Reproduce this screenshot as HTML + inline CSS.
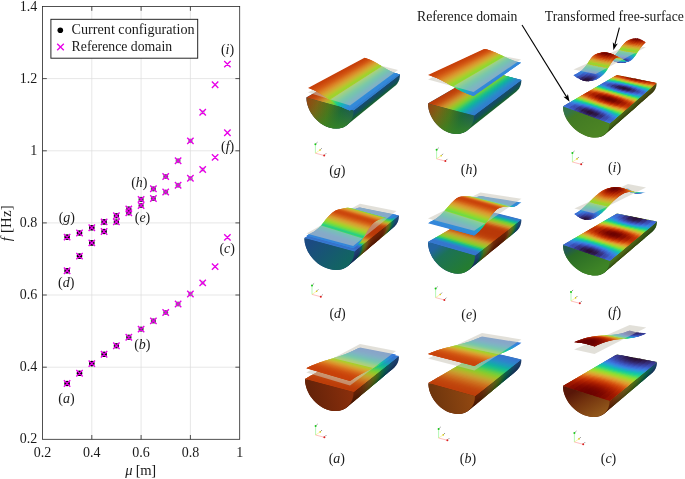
<!DOCTYPE html>
<html><head><meta charset="utf-8"><title>figure</title>
<style>html,body{margin:0;padding:0;background:#fff}svg{display:block;will-change:transform}
.t{font-family:"Liberation Serif",serif;font-size:14px;fill:#1a1a1a}
</style></head><body>
<svg width="685" height="479" viewBox="0 0 685 479">
<defs><linearGradient id="g1" gradientUnits="userSpaceOnUse" x1="306.4" y1="97.4" x2="353.6" y2="110.4"><stop offset="0%" stop-color="#924411"/><stop offset="25%" stop-color="#7c6215"/><stop offset="50%" stop-color="#4c741b"/><stop offset="75%" stop-color="#17613e"/><stop offset="100%" stop-color="#144c66"/></linearGradient>
<linearGradient id="g2" gradientUnits="userSpaceOnUse" x1="353.6" y1="110.4" x2="358.2" y2="116.4"><stop offset="0%" stop-color="#184870"/><stop offset="30%" stop-color="#144c62"/><stop offset="55%" stop-color="#12544e"/><stop offset="80%" stop-color="#186030"/><stop offset="100%" stop-color="#1e6022"/></linearGradient>
<linearGradient id="g3" gradientUnits="userSpaceOnUse" x1="330" y1="100" x2="336" y2="129"><stop offset="0%" stop-color="#388624" stop-opacity="0.0"/><stop offset="45%" stop-color="#388624" stop-opacity="0.25"/><stop offset="100%" stop-color="#388824" stop-opacity="0.85"/></linearGradient>
<linearGradient id="g4" gradientUnits="userSpaceOnUse" x1="428" y1="103.4" x2="474" y2="115.6"><stop offset="0%" stop-color="#924411"/><stop offset="25%" stop-color="#7c6215"/><stop offset="50%" stop-color="#4c741b"/><stop offset="75%" stop-color="#17613e"/><stop offset="100%" stop-color="#144c66"/></linearGradient>
<linearGradient id="g5" gradientUnits="userSpaceOnUse" x1="474" y1="115.6" x2="478.8" y2="121.9"><stop offset="0%" stop-color="#184870"/><stop offset="30%" stop-color="#144c62"/><stop offset="55%" stop-color="#12544e"/><stop offset="80%" stop-color="#186030"/><stop offset="100%" stop-color="#1e6022"/></linearGradient>
<linearGradient id="g6" gradientUnits="userSpaceOnUse" x1="451" y1="106" x2="458" y2="134"><stop offset="0%" stop-color="#388624" stop-opacity="0.0"/><stop offset="45%" stop-color="#388624" stop-opacity="0.25"/><stop offset="100%" stop-color="#388824" stop-opacity="0.85"/></linearGradient>
<linearGradient id="g7" gradientUnits="userSpaceOnUse" x1="352" y1="392" x2="312" y2="400"><stop offset="0%" stop-color="#8a2f0c"/><stop offset="100%" stop-color="#662309"/></linearGradient>
<linearGradient id="g8" gradientUnits="userSpaceOnUse" x1="353.6" y1="392" x2="358.4" y2="398.1"><stop offset="0%" stop-color="#000" stop-opacity="0.04"/><stop offset="35%" stop-color="#000" stop-opacity="0.1"/><stop offset="75%" stop-color="#000" stop-opacity="0.26"/><stop offset="100%" stop-color="#000" stop-opacity="0.4"/></linearGradient>
<linearGradient id="g9" gradientUnits="userSpaceOnUse" x1="474" y1="396" x2="435" y2="404"><stop offset="0%" stop-color="#924811"/><stop offset="100%" stop-color="#70360d"/></linearGradient>
<linearGradient id="g10" gradientUnits="userSpaceOnUse" x1="475" y1="396" x2="479.6" y2="401.8"><stop offset="0%" stop-color="#000" stop-opacity="0.04"/><stop offset="35%" stop-color="#000" stop-opacity="0.1"/><stop offset="75%" stop-color="#000" stop-opacity="0.26"/><stop offset="100%" stop-color="#000" stop-opacity="0.4"/></linearGradient>
<linearGradient id="g11" gradientUnits="userSpaceOnUse" x1="312" y1="240" x2="340" y2="268"><stop offset="0%" stop-color="#1b4a82"/><stop offset="100%" stop-color="#126462"/></linearGradient>
<linearGradient id="g12" gradientUnits="userSpaceOnUse" x1="354.2" y1="251.4" x2="358.8" y2="257.1"><stop offset="0%" stop-color="#000" stop-opacity="0.04"/><stop offset="35%" stop-color="#000" stop-opacity="0.1"/><stop offset="75%" stop-color="#000" stop-opacity="0.26"/><stop offset="100%" stop-color="#000" stop-opacity="0.4"/></linearGradient>
<linearGradient id="g13" gradientUnits="userSpaceOnUse" x1="440" y1="244" x2="462" y2="272"><stop offset="0%" stop-color="#2264a0"/><stop offset="30%" stop-color="#1c7256"/><stop offset="100%" stop-color="#247c30"/></linearGradient>
<linearGradient id="g14" gradientUnits="userSpaceOnUse" x1="475" y1="255.4" x2="479.7" y2="261.4"><stop offset="0%" stop-color="#000" stop-opacity="0.04"/><stop offset="35%" stop-color="#000" stop-opacity="0.1"/><stop offset="75%" stop-color="#000" stop-opacity="0.26"/><stop offset="100%" stop-color="#000" stop-opacity="0.4"/></linearGradient>
<linearGradient id="g15" gradientUnits="userSpaceOnUse" x1="575" y1="108" x2="592" y2="136"><stop offset="0%" stop-color="#34744c"/><stop offset="20%" stop-color="#427a24"/><stop offset="100%" stop-color="#4c8424"/></linearGradient>
<linearGradient id="g16" gradientUnits="userSpaceOnUse" x1="609.6" y1="123.6" x2="613" y2="127.5"><stop offset="0%" stop-color="#000" stop-opacity="0.04"/><stop offset="35%" stop-color="#000" stop-opacity="0.1"/><stop offset="75%" stop-color="#000" stop-opacity="0.26"/><stop offset="100%" stop-color="#000" stop-opacity="0.4"/></linearGradient>
<linearGradient id="g17" gradientUnits="userSpaceOnUse" x1="575" y1="247" x2="590" y2="274"><stop offset="0%" stop-color="#225a50"/><stop offset="20%" stop-color="#2a6c26"/><stop offset="100%" stop-color="#3e8426"/></linearGradient>
<linearGradient id="g18" gradientUnits="userSpaceOnUse" x1="609.6" y1="261" x2="613.1" y2="265.3"><stop offset="0%" stop-color="#000" stop-opacity="0.04"/><stop offset="35%" stop-color="#000" stop-opacity="0.1"/><stop offset="75%" stop-color="#000" stop-opacity="0.26"/><stop offset="100%" stop-color="#000" stop-opacity="0.4"/></linearGradient>
<linearGradient id="g19" gradientUnits="userSpaceOnUse" x1="580" y1="388" x2="596" y2="416"><stop offset="0%" stop-color="#581608"/><stop offset="40%" stop-color="#72320e"/><stop offset="100%" stop-color="#90561a"/></linearGradient>
<linearGradient id="g20" gradientUnits="userSpaceOnUse" x1="609.6" y1="401" x2="613.6" y2="405.8"><stop offset="0%" stop-color="#000" stop-opacity="0.04"/><stop offset="35%" stop-color="#000" stop-opacity="0.1"/><stop offset="75%" stop-color="#000" stop-opacity="0.26"/><stop offset="100%" stop-color="#000" stop-opacity="0.4"/></linearGradient></defs>
<rect width="685" height="479" fill="#fff"/>
<line x1="91.8" y1="6.5" x2="91.8" y2="439.3" stroke="#dcdcdc" stroke-width="0.7"/>
<line x1="141.1" y1="6.5" x2="141.1" y2="439.3" stroke="#dcdcdc" stroke-width="0.7"/>
<line x1="190.4" y1="6.5" x2="190.4" y2="439.3" stroke="#dcdcdc" stroke-width="0.7"/>
<line x1="42.5" y1="367.2" x2="239.7" y2="367.2" stroke="#dcdcdc" stroke-width="0.7"/>
<line x1="42.5" y1="295" x2="239.7" y2="295" stroke="#dcdcdc" stroke-width="0.7"/>
<line x1="42.5" y1="222.9" x2="239.7" y2="222.9" stroke="#dcdcdc" stroke-width="0.7"/>
<line x1="42.5" y1="150.8" x2="239.7" y2="150.8" stroke="#dcdcdc" stroke-width="0.7"/>
<line x1="42.5" y1="78.6" x2="239.7" y2="78.6" stroke="#dcdcdc" stroke-width="0.7"/>
<rect x="42.5" y="6.5" width="197.2" height="432.8" fill="none" stroke="#262626" stroke-width="0.8"/>
<path d="M91.8 439.3 v-4.3 M91.8 6.5 v4.3" stroke="#262626" stroke-width="0.8"/>
<path d="M141.1 439.3 v-4.3 M141.1 6.5 v4.3" stroke="#262626" stroke-width="0.8"/>
<path d="M190.4 439.3 v-4.3 M190.4 6.5 v4.3" stroke="#262626" stroke-width="0.8"/>
<path d="M42.5 367.2 h4.3 M239.7 367.2 h-4.3" stroke="#262626" stroke-width="0.8"/>
<path d="M42.5 295 h4.3 M239.7 295 h-4.3" stroke="#262626" stroke-width="0.8"/>
<path d="M42.5 222.9 h4.3 M239.7 222.9 h-4.3" stroke="#262626" stroke-width="0.8"/>
<path d="M42.5 150.8 h4.3 M239.7 150.8 h-4.3" stroke="#262626" stroke-width="0.8"/>
<path d="M42.5 78.6 h4.3 M239.7 78.6 h-4.3" stroke="#262626" stroke-width="0.8"/>
<text x="42.5" y="457.1" text-anchor="middle" class="t">0.2</text>
<text x="91.8" y="457.1" text-anchor="middle" class="t">0.4</text>
<text x="141.1" y="457.1" text-anchor="middle" class="t">0.6</text>
<text x="190.4" y="457.1" text-anchor="middle" class="t">0.8</text>
<text x="239.7" y="457.1" text-anchor="middle" class="t">1</text>
<text x="37.3" y="443.3" text-anchor="end" class="t">0.2</text>
<text x="37.3" y="371.2" text-anchor="end" class="t">0.4</text>
<text x="37.3" y="299" text-anchor="end" class="t">0.6</text>
<text x="37.3" y="226.9" text-anchor="end" class="t">0.8</text>
<text x="37.3" y="154.8" text-anchor="end" class="t">1</text>
<text x="37.3" y="82.6" text-anchor="end" class="t">1.2</text>
<text x="37.3" y="10.5" text-anchor="end" class="t">1.4</text>
<text x="125.2" y="474.8" class="t" style="font-size:14.6px" textLength="31" lengthAdjust="spacing"><tspan font-style="italic">μ</tspan> [m]</text>
<text transform="translate(10.5 241.3) rotate(-90)" class="t" style="font-size:14.8px" textLength="36" lengthAdjust="spacing"><tspan font-style="italic">f</tspan> [Hz]</text>
<circle cx="67.1" cy="383.5" r="2.8" fill="#000" opacity="1"/>
<circle cx="79.5" cy="373.3" r="2.8" fill="#000" opacity="1"/>
<circle cx="91.8" cy="363.6" r="2.8" fill="#000" opacity="1"/>
<circle cx="104.1" cy="354.3" r="2.8" fill="#000" opacity="0.95"/>
<circle cx="116.4" cy="345.8" r="2.7" fill="#000" opacity="0.88"/>
<circle cx="128.8" cy="337.3" r="2.7" fill="#000" opacity="0.8"/>
<circle cx="141.1" cy="329.1" r="2.6" fill="#000" opacity="0.72"/>
<circle cx="153.4" cy="320.9" r="2.6" fill="#000" opacity="0.65"/>
<circle cx="165.7" cy="312.5" r="2.5" fill="#000" opacity="0.58"/>
<circle cx="178.1" cy="304" r="2.5" fill="#000" opacity="0.5"/>
<circle cx="190.4" cy="294" r="2.4" fill="#000" opacity="0.38"/>
<circle cx="202.7" cy="282.9" r="2.3" fill="#000" opacity="0.18"/>
<circle cx="67.1" cy="270.7" r="2.8" fill="#000" opacity="1"/>
<circle cx="79.5" cy="256.1" r="2.8" fill="#000" opacity="1"/>
<circle cx="91.8" cy="242.9" r="2.8" fill="#000" opacity="1"/>
<circle cx="104.1" cy="231.5" r="2.8" fill="#000" opacity="0.95"/>
<circle cx="116.4" cy="221.9" r="2.7" fill="#000" opacity="0.88"/>
<circle cx="128.8" cy="212.8" r="2.7" fill="#000" opacity="0.8"/>
<circle cx="141.1" cy="205.5" r="2.6" fill="#000" opacity="0.72"/>
<circle cx="153.4" cy="198.5" r="2.6" fill="#000" opacity="0.65"/>
<circle cx="165.7" cy="192" r="2.5" fill="#000" opacity="0.58"/>
<circle cx="178.1" cy="185.3" r="2.5" fill="#000" opacity="0.5"/>
<circle cx="190.4" cy="178.3" r="2.4" fill="#000" opacity="0.38"/>
<circle cx="202.7" cy="169.5" r="2.3" fill="#000" opacity="0.18"/>
<circle cx="67.1" cy="237.1" r="2.8" fill="#000" opacity="1"/>
<circle cx="79.5" cy="233" r="2.8" fill="#000" opacity="1"/>
<circle cx="91.8" cy="227.7" r="2.8" fill="#000" opacity="1"/>
<circle cx="104.1" cy="221.9" r="2.8" fill="#000" opacity="0.95"/>
<circle cx="116.4" cy="215.7" r="2.7" fill="#000" opacity="0.88"/>
<circle cx="128.8" cy="209" r="2.7" fill="#000" opacity="0.8"/>
<circle cx="141.1" cy="199.4" r="2.6" fill="#000" opacity="0.72"/>
<circle cx="153.4" cy="188.8" r="2.6" fill="#000" opacity="0.65"/>
<circle cx="165.7" cy="176.5" r="2.5" fill="#000" opacity="0.58"/>
<circle cx="178.1" cy="160.8" r="2.5" fill="#000" opacity="0.5"/>
<circle cx="190.4" cy="140.9" r="2.4" fill="#000" opacity="0.38"/>
<circle cx="202.7" cy="112.2" r="2.3" fill="#000" opacity="0.18"/>
<path d="M63.9 380.3l6.4 6.4m0 -6.4l-6.4 6.4M76.3 370.1l6.4 6.4m0 -6.4l-6.4 6.4M88.6 360.4l6.4 6.4m0 -6.4l-6.4 6.4M100.9 351.1l6.4 6.4m0 -6.4l-6.4 6.4M113.2 342.6l6.4 6.4m0 -6.4l-6.4 6.4M125.6 334.1l6.4 6.4m0 -6.4l-6.4 6.4M137.9 325.9l6.4 6.4m0 -6.4l-6.4 6.4M150.2 317.7l6.4 6.4m0 -6.4l-6.4 6.4M162.5 309.3l6.4 6.4m0 -6.4l-6.4 6.4M174.9 300.8l6.4 6.4m0 -6.4l-6.4 6.4M187.2 290.8l6.4 6.4m0 -6.4l-6.4 6.4M199.5 279.7l6.4 6.4m0 -6.4l-6.4 6.4M211.9 263.4l6.4 6.4m0 -6.4l-6.4 6.4M224.2 234.2l6.4 6.4m0 -6.4l-6.4 6.4M63.9 267.5l6.4 6.4m0 -6.4l-6.4 6.4M76.3 252.9l6.4 6.4m0 -6.4l-6.4 6.4M88.6 239.7l6.4 6.4m0 -6.4l-6.4 6.4M100.9 228.3l6.4 6.4m0 -6.4l-6.4 6.4M113.2 218.7l6.4 6.4m0 -6.4l-6.4 6.4M125.6 209.6l6.4 6.4m0 -6.4l-6.4 6.4M137.9 202.3l6.4 6.4m0 -6.4l-6.4 6.4M150.2 195.3l6.4 6.4m0 -6.4l-6.4 6.4M162.5 188.8l6.4 6.4m0 -6.4l-6.4 6.4M174.9 182.1l6.4 6.4m0 -6.4l-6.4 6.4M187.2 175.1l6.4 6.4m0 -6.4l-6.4 6.4M199.5 166.3l6.4 6.4m0 -6.4l-6.4 6.4M211.9 154.2l6.4 6.4m0 -6.4l-6.4 6.4M224.2 129.6l6.4 6.4m0 -6.4l-6.4 6.4M63.9 233.9l6.4 6.4m0 -6.4l-6.4 6.4M76.3 229.8l6.4 6.4m0 -6.4l-6.4 6.4M88.6 224.5l6.4 6.4m0 -6.4l-6.4 6.4M100.9 218.7l6.4 6.4m0 -6.4l-6.4 6.4M113.2 212.5l6.4 6.4m0 -6.4l-6.4 6.4M125.6 205.8l6.4 6.4m0 -6.4l-6.4 6.4M137.9 196.2l6.4 6.4m0 -6.4l-6.4 6.4M150.2 185.6l6.4 6.4m0 -6.4l-6.4 6.4M162.5 173.3l6.4 6.4m0 -6.4l-6.4 6.4M174.9 157.6l6.4 6.4m0 -6.4l-6.4 6.4M187.2 137.7l6.4 6.4m0 -6.4l-6.4 6.4M199.5 109l6.4 6.4m0 -6.4l-6.4 6.4M211.9 81.5l6.4 6.4m0 -6.4l-6.4 6.4M224.2 60.9l6.4 6.4m0 -6.4l-6.4 6.4" stroke="#e800e8" stroke-width="1.35" fill="none"/>
<rect x="50.9" y="19.3" width="146.8" height="38.9" fill="#fff" stroke="#1c1c1c" stroke-width="0.95"/>
<circle cx="60.3" cy="30.2" r="2.8" fill="#000"/>
<path d="M57.2 43.7l6.6 6.6m0 -6.6l-6.6 6.6" stroke="#e800e8" stroke-width="1.35" fill="none"/>
<text x="71.6" y="34.3" class="t" textLength="123" lengthAdjust="spacingAndGlyphs">Current configuration</text>
<text x="71.6" y="51.1" class="t" textLength="100.5" lengthAdjust="spacingAndGlyphs">Reference domain</text>
<text x="66.5" y="402.5" text-anchor="middle" class="t">(<tspan font-style="italic">a</tspan>)</text>
<text x="142.3" y="349.2" text-anchor="middle" class="t">(<tspan font-style="italic">b</tspan>)</text>
<text x="227.2" y="253.3" text-anchor="middle" class="t">(<tspan font-style="italic">c</tspan>)</text>
<text x="66.2" y="286.5" text-anchor="middle" class="t">(<tspan font-style="italic">d</tspan>)</text>
<text x="142.5" y="221.8" text-anchor="middle" class="t">(<tspan font-style="italic">e</tspan>)</text>
<text x="227.6" y="151" text-anchor="middle" class="t">(<tspan font-style="italic">f</tspan>)</text>
<text x="66.8" y="222" text-anchor="middle" class="t">(<tspan font-style="italic">g</tspan>)</text>
<text x="139.3" y="186.5" text-anchor="middle" class="t">(<tspan font-style="italic">h</tspan>)</text>
<text x="227.5" y="54.2" text-anchor="middle" class="t">(<tspan font-style="italic">i</tspan>)</text>
<path d="M315.4 153.2L315.4 144.6" stroke="#6cf06c" stroke-width="0.5"/>
<path d="M315.4 153.2L323.8 155.4" stroke="#ff8080" stroke-width="0.5"/>
<path d="M315.4 153.2L320 150.1" stroke="#f2ea60" stroke-width="0.5"/>
<circle cx="315.4" cy="144.2" r="1.0" fill="#18c418"/>
<circle cx="324.2" cy="155.5" r="1.0" fill="#dc2020"/>
<circle cx="320" cy="150.1" r="0.8" fill="#d8cc10"/>
<path d="M316.2 143.4l1.3 -1.2M320.6 149.5l1.2 -1.3M325 154.5l1.2 -1.2" stroke="#222" stroke-width="0.6" opacity="0.8"/>
<path d="M436.6 158.8L436.6 150.2" stroke="#6cf06c" stroke-width="0.5"/>
<path d="M436.6 158.8L445 161" stroke="#ff8080" stroke-width="0.5"/>
<path d="M436.6 158.8L441.2 155.7" stroke="#f2ea60" stroke-width="0.5"/>
<circle cx="436.6" cy="149.8" r="1.0" fill="#18c418"/>
<circle cx="445.4" cy="161.1" r="1.0" fill="#dc2020"/>
<circle cx="441.2" cy="155.7" r="0.8" fill="#d8cc10"/>
<path d="M437.4 149l1.3 -1.2M441.8 155.1l1.2 -1.3M446.2 160.1l1.2 -1.2" stroke="#222" stroke-width="0.6" opacity="0.8"/>
<path d="M572.4 162L572.4 153.4" stroke="#6cf06c" stroke-width="0.5"/>
<path d="M572.4 162L580.8 164.2" stroke="#ff8080" stroke-width="0.5"/>
<path d="M572.4 162L577 158.9" stroke="#f2ea60" stroke-width="0.5"/>
<circle cx="572.4" cy="153" r="1.0" fill="#18c418"/>
<circle cx="581.2" cy="164.3" r="1.0" fill="#dc2020"/>
<circle cx="577" cy="158.9" r="0.8" fill="#d8cc10"/>
<path d="M573.2 152.2l1.3 -1.2M577.6 158.3l1.2 -1.3M582 163.3l1.2 -1.2" stroke="#222" stroke-width="0.6" opacity="0.8"/>
<path d="M312 294.4L312 285.8" stroke="#6cf06c" stroke-width="0.5"/>
<path d="M312 294.4L320.4 296.6" stroke="#ff8080" stroke-width="0.5"/>
<path d="M312 294.4L316.6 291.3" stroke="#f2ea60" stroke-width="0.5"/>
<circle cx="312" cy="285.4" r="1.0" fill="#18c418"/>
<circle cx="320.8" cy="296.7" r="1.0" fill="#dc2020"/>
<circle cx="316.6" cy="291.3" r="0.8" fill="#d8cc10"/>
<path d="M312.8 284.6l1.3 -1.2M317.2 290.7l1.2 -1.3M321.6 295.7l1.2 -1.2" stroke="#222" stroke-width="0.6" opacity="0.8"/>
<path d="M435.6 297.6L435.6 289" stroke="#6cf06c" stroke-width="0.5"/>
<path d="M435.6 297.6L444 299.8" stroke="#ff8080" stroke-width="0.5"/>
<path d="M435.6 297.6L440.2 294.5" stroke="#f2ea60" stroke-width="0.5"/>
<circle cx="435.6" cy="288.6" r="1.0" fill="#18c418"/>
<circle cx="444.4" cy="299.9" r="1.0" fill="#dc2020"/>
<circle cx="440.2" cy="294.5" r="0.8" fill="#d8cc10"/>
<path d="M436.4 287.8l1.3 -1.2M440.8 293.9l1.2 -1.3M445.2 298.9l1.2 -1.2" stroke="#222" stroke-width="0.6" opacity="0.8"/>
<path d="M571 301L571 292.4" stroke="#6cf06c" stroke-width="0.5"/>
<path d="M571 301L579.4 303.2" stroke="#ff8080" stroke-width="0.5"/>
<path d="M571 301L575.6 297.9" stroke="#f2ea60" stroke-width="0.5"/>
<circle cx="571" cy="292" r="1.0" fill="#18c418"/>
<circle cx="579.8" cy="303.3" r="1.0" fill="#dc2020"/>
<circle cx="575.6" cy="297.9" r="0.8" fill="#d8cc10"/>
<path d="M571.8 291.2l1.3 -1.2M576.2 297.3l1.2 -1.3M580.6 302.3l1.2 -1.2" stroke="#222" stroke-width="0.6" opacity="0.8"/>
<path d="M315.6 435L315.6 426.4" stroke="#6cf06c" stroke-width="0.5"/>
<path d="M315.6 435L324 437.2" stroke="#ff8080" stroke-width="0.5"/>
<path d="M315.6 435L320.2 431.9" stroke="#f2ea60" stroke-width="0.5"/>
<circle cx="315.6" cy="426" r="1.0" fill="#18c418"/>
<circle cx="324.4" cy="437.3" r="1.0" fill="#dc2020"/>
<circle cx="320.2" cy="431.9" r="0.8" fill="#d8cc10"/>
<path d="M316.4 425.2l1.3 -1.2M320.8 431.3l1.2 -1.3M325.2 436.3l1.2 -1.2" stroke="#222" stroke-width="0.6" opacity="0.8"/>
<path d="M438.6 438L438.6 429.4" stroke="#6cf06c" stroke-width="0.5"/>
<path d="M438.6 438L447 440.2" stroke="#ff8080" stroke-width="0.5"/>
<path d="M438.6 438L443.2 434.9" stroke="#f2ea60" stroke-width="0.5"/>
<circle cx="438.6" cy="429" r="1.0" fill="#18c418"/>
<circle cx="447.4" cy="440.3" r="1.0" fill="#dc2020"/>
<circle cx="443.2" cy="434.9" r="0.8" fill="#d8cc10"/>
<path d="M439.4 428.2l1.3 -1.2M443.8 434.3l1.2 -1.3M448.2 439.3l1.2 -1.2" stroke="#222" stroke-width="0.6" opacity="0.8"/>
<path d="M574.4 442L574.4 433.4" stroke="#6cf06c" stroke-width="0.5"/>
<path d="M574.4 442L582.8 444.2" stroke="#ff8080" stroke-width="0.5"/>
<path d="M574.4 442L579 438.9" stroke="#f2ea60" stroke-width="0.5"/>
<circle cx="574.4" cy="433" r="1.0" fill="#18c418"/>
<circle cx="583.2" cy="444.3" r="1.0" fill="#dc2020"/>
<circle cx="579" cy="438.9" r="0.8" fill="#d8cc10"/>
<path d="M575.2 432.2l1.3 -1.2M579.6 438.3l1.2 -1.3M584 443.3l1.2 -1.2" stroke="#222" stroke-width="0.6" opacity="0.8"/>
<text x="337.3" y="175" text-anchor="middle" class="t">(<tspan font-style="italic">g</tspan>)</text>
<text x="469" y="173.5" text-anchor="middle" class="t">(<tspan font-style="italic">h</tspan>)</text>
<text x="614.5" y="171.5" text-anchor="middle" class="t">(<tspan font-style="italic">i</tspan>)</text>
<text x="337.6" y="318.3" text-anchor="middle" class="t">(<tspan font-style="italic">d</tspan>)</text>
<text x="469" y="318.5" text-anchor="middle" class="t">(<tspan font-style="italic">e</tspan>)</text>
<text x="614.5" y="316.5" text-anchor="middle" class="t">(<tspan font-style="italic">f</tspan>)</text>
<text x="336.8" y="463" text-anchor="middle" class="t">(<tspan font-style="italic">a</tspan>)</text>
<text x="468" y="463" text-anchor="middle" class="t">(<tspan font-style="italic">b</tspan>)</text>
<text x="608.5" y="463" text-anchor="middle" class="t">(<tspan font-style="italic">c</tspan>)</text>
<polygon points="306.4,97.4 363.2,64.5 400,74.6 399.8,77 399.4,79.2 398.6,81.3 397.5,83.2 396.2,84.9 394.6,86.3 346.7,125.3 344.4,126.7 341.8,127.8 339,128.4 336.1,128.6 333.1,128.3 330,127.7 326.9,126.7 323.9,125.2 321,123.4 318.2,121.3 315.6,118.8 313.3,116.1 311.3,113.2 309.6,110.2 308.2,107 307.2,103.8 306.6,100.6" fill="url(#g2)"/>
<polygon points="306.4,97.4 309.8,98.3 365.9,65.2 363.2,64.5" fill="#bc3e0a"/>
<polygon points="307.7,97.8 311.1,98.7 366.9,65.5 364.2,64.8" fill="#bd3f0b"/>
<polygon points="309,98.1 312.4,99.1 367.9,65.8 365.2,65.1" fill="#be410b"/>
<polygon points="310.3,98.5 313.7,99.4 368.9,66.1 366.3,65.3" fill="#c0450d"/>
<polygon points="311.6,98.8 315.1,99.8 369.9,66.4 367.3,65.6" fill="#c24a0f"/>
<polygon points="313,99.2 316.4,100.1 371,66.6 368.3,65.9" fill="#c55012"/>
<polygon points="314.3,99.6 317.7,100.5 372,66.9 369.3,66.2" fill="#c75915"/>
<polygon points="315.6,99.9 319,100.9 373,67.2 370.4,66.5" fill="#ca6219"/>
<polygon points="316.9,100.3 320.3,101.2 374,67.5 371.4,66.7" fill="#cc6d1e"/>
<polygon points="318.2,100.7 321.6,101.6 375.1,67.8 372.4,67" fill="#ce7923"/>
<polygon points="319.5,101 322.9,102 376.1,68 373.4,67.3" fill="#cd8528"/>
<polygon points="320.8,101.4 324.2,102.3 377.1,68.3 374.4,67.6" fill="#cc902c"/>
<polygon points="322.1,101.7 325.5,102.7 378.1,68.6 375.5,67.9" fill="#c89b2e"/>
<polygon points="323.4,102.1 326.9,103 379.1,68.9 376.5,68.1" fill="#c2a62f"/>
<polygon points="324.8,102.5 328.2,103.4 380.2,69.2 377.5,68.4" fill="#b8b12d"/>
<polygon points="326.1,102.8 329.5,103.8 381.2,69.4 378.5,68.7" fill="#adba2b"/>
<polygon points="327.4,103.2 330.8,104.1 382.2,69.7 379.6,69" fill="#a0c22a"/>
<polygon points="328.7,103.5 332.1,104.5 383.2,70 380.6,69.3" fill="#92c82c"/>
<polygon points="330,103.9 333.4,104.8 384.3,70.3 381.6,69.5" fill="#83cc32"/>
<polygon points="331.3,104.3 334.7,105.2 385.3,70.6 382.6,69.8" fill="#71ce3c"/>
<polygon points="332.6,104.6 336,105.6 386.3,70.8 383.6,70.1" fill="#5cce4c"/>
<polygon points="333.9,105 337.3,105.9 387.3,71.1 384.7,70.4" fill="#48cb5e"/>
<polygon points="335.2,105.3 338.7,106.3 388.3,71.4 385.7,70.7" fill="#34c770"/>
<polygon points="336.6,105.7 340,106.6 389.4,71.7 386.7,71" fill="#24c280"/>
<polygon points="337.9,106.1 341.3,107 390.4,72 387.7,71.2" fill="#19bd8e"/>
<polygon points="339.2,106.4 342.6,107.4 391.4,72.2 388.8,71.5" fill="#15b699"/>
<polygon points="340.5,106.8 343.9,107.7 392.4,72.5 389.8,71.8" fill="#15aea4"/>
<polygon points="341.8,107.2 345.2,108.1 393.5,72.8 390.8,72.1" fill="#17a6af"/>
<polygon points="343.1,107.5 346.5,108.5 394.5,73.1 391.8,72.4" fill="#1c9eb7"/>
<polygon points="344.4,107.9 347.8,108.8 395.5,73.4 392.8,72.6" fill="#2198bf"/>
<polygon points="345.7,108.2 349.1,109.2 396.5,73.6 393.9,72.9" fill="#2691c4"/>
<polygon points="347,108.6 350.5,109.5 397.5,73.9 394.9,73.2" fill="#2b8bc9"/>
<polygon points="348.4,109 351.8,109.9 398.6,74.2 395.9,73.5" fill="#2e86cb"/>
<polygon points="349.7,109.3 353.1,110.3 399.6,74.5 396.9,73.8" fill="#3082cc"/>
<polygon points="351,109.7 353.6,110.4 400,74.6 398,74" fill="#3180cd"/>
<polygon points="352.3,110 353.6,110.4 400,74.6 399,74.3" fill="#327fcd"/>
<path d="M306.4 97.4C306.4 110.5 317 124.1 330 127.7C343 131.3 353.6 123.5 353.6 110.4Z" fill="url(#g1)"/>
<path d="M306.4 97.4C306.4 110.5 317 124.1 330 127.7C343 131.3 353.6 123.5 353.6 110.4Z" fill="url(#g3)"/>
<polygon points="329,99.2 332.1,101.3 383.8,67.4 381.2,65.9" fill="#8bd935"/>
<polygon points="330.2,100 333.3,102.1 384.7,68 382.2,66.5" fill="#78db40"/>
<polygon points="331.3,100.8 334.5,102.8 385.6,68.5 383.1,67" fill="#62db51"/>
<polygon points="332.5,101.5 335.6,103.6 386.6,69.1 384,67.6" fill="#4cd864"/>
<polygon points="333.7,102.3 336.8,104.3 387.5,69.6 385,68.2" fill="#38d377"/>
<polygon points="334.8,103 338,105 388.4,70.1 385.9,68.7" fill="#27ce88"/>
<polygon points="336,103.8 339.1,105.7 389.3,70.6 386.8,69.2" fill="#1bc897"/>
<polygon points="337.2,104.5 340.3,106.3 390.3,71.1 387.8,69.8" fill="#16c1a2"/>
<polygon points="338.3,105.2 341.5,106.9 391.2,71.5 388.7,70.3" fill="#16b9ae"/>
<polygon points="339.5,105.9 342.6,107.5 392.1,71.9 389.6,70.7" fill="#18b0ba"/>
<polygon points="340.7,106.5 343.8,108.1 393.1,72.3 390.6,71.2" fill="#1ea8c3"/>
<polygon points="341.8,107.1 345,108.6 394,72.7 391.5,71.6" fill="#23a1cb"/>
<polygon points="343,107.7 346.1,109.1 394.9,73 392.4,72" fill="#2999d0"/>
<polygon points="344.2,108.3 347.3,109.6 395.9,73.4 393.3,72.4" fill="#2d93d5"/>
<polygon points="345.3,108.8 348.5,110 396.8,73.6 394.3,72.8" fill="#318ed8"/>
<polygon points="346.5,109.3 349.6,110.4 397.7,73.9 395.2,73.1" fill="#338ad9"/>
<polygon points="347.7,109.7 350,110.5 398,74 396.1,73.4" fill="#3488d9"/>
<polygon points="348.8,110.1 350,110.5 398,74 397.1,73.7" fill="#3586da"/>
<polygon points="308,92.6 350,105.4 398,70 364.5,61.5" fill="#cbc7ba" fill-opacity="0.55"/>
<polygon points="308,87.9 311.1,89 367,58.6 364.5,57.8" fill="#c8410b"/>
<polygon points="309.2,88.3 312.3,89.5 367.9,58.9 365.4,58.1" fill="#c8430b"/>
<polygon points="310.3,88.7 313.5,90 368.9,59.3 366.4,58.4" fill="#ca450c"/>
<polygon points="311.5,89.1 314.6,90.5 369.8,59.6 367.3,58.7" fill="#cc490e"/>
<polygon points="312.7,89.6 315.8,91.1 370.7,60.1 368.2,59" fill="#ce4f10"/>
<polygon points="313.8,90.1 317,91.7 371.7,60.5 369.2,59.4" fill="#d15513"/>
<polygon points="315,90.7 318.1,92.3 372.6,60.9 370.1,59.8" fill="#d45e16"/>
<polygon points="316.2,91.3 319.3,93 373.5,61.4 371,60.2" fill="#d7681b"/>
<polygon points="317.3,91.9 320.5,93.7 374.5,61.9 371.9,60.6" fill="#d97420"/>
<polygon points="318.5,92.5 321.6,94.4 375.4,62.4 372.9,61.1" fill="#da8125"/>
<polygon points="319.7,93.2 322.8,95.1 376.3,62.9 373.8,61.6" fill="#da8d2a"/>
<polygon points="320.8,93.9 324,95.9 377.2,63.5 374.7,62.1" fill="#d8992e"/>
<polygon points="322,94.6 325.1,96.6 378.2,64 375.7,62.6" fill="#d4a531"/>
<polygon points="323.2,95.4 326.3,97.4 379.1,64.6 376.6,63.1" fill="#ceb032"/>
<polygon points="324.3,96.1 327.5,98.2 380,65.2 377.5,63.7" fill="#c4bc30"/>
<polygon points="325.5,96.9 328.6,99 381,65.7 378.5,64.2" fill="#b8c62e"/>
<polygon points="326.7,97.6 329.8,99.7 381.9,66.3 379.4,64.8" fill="#aace2d"/>
<polygon points="327.8,98.4 329,99.2 381.2,65.9 380.3,65.3" fill="#9bd52f"/>
<polygon points="428,103.4 485,70.6 521.4,80 521.2,82.4 520.8,84.7 520,86.8 519,88.7 517.6,90.3 516.1,91.8 467.3,130.6 465,132 462.5,133.1 459.8,133.7 456.9,134 454,133.8 451,133.2 448,132.2 445.1,130.8 442.2,129.1 439.5,127 437,124.6 434.7,122 432.8,119.1 431.1,116.1 429.8,112.9 428.8,109.7 428.2,106.5" fill="url(#g5)"/>
<polygon points="428,103.4 431.3,104.3 487.6,71.3 485,70.6" fill="#bc3e0a"/>
<polygon points="429.3,103.7 432.6,104.6 488.6,71.5 486,70.9" fill="#bd3f0b"/>
<polygon points="430.6,104.1 433.9,105 489.7,71.8 487,71.1" fill="#be410b"/>
<polygon points="431.8,104.4 435.2,105.3 490.7,72.1 488,71.4" fill="#c0450d"/>
<polygon points="433.1,104.8 436.4,105.6 491.7,72.3 489,71.6" fill="#c24a0f"/>
<polygon points="434.4,105.1 437.7,106 492.7,72.6 490.1,71.9" fill="#c55012"/>
<polygon points="435.7,105.4 439,106.3 493.7,72.8 491.1,72.2" fill="#c75915"/>
<polygon points="436.9,105.8 440.3,106.7 494.7,73.1 492.1,72.4" fill="#ca6219"/>
<polygon points="438.2,106.1 441.5,107 495.7,73.4 493.1,72.7" fill="#cc6d1e"/>
<polygon points="439.5,106.5 442.8,107.3 496.7,73.6 494.1,72.9" fill="#ce7923"/>
<polygon points="440.8,106.8 444.1,107.7 497.7,73.9 495.1,73.2" fill="#cd8528"/>
<polygon points="442.1,107.1 445.4,108 498.8,74.2 496.1,73.5" fill="#cc902c"/>
<polygon points="443.3,107.5 446.7,108.3 499.8,74.4 497.1,73.7" fill="#c89b2e"/>
<polygon points="444.6,107.8 447.9,108.7 500.8,74.7 498.1,74" fill="#c2a62f"/>
<polygon points="445.9,108.1 449.2,109 501.8,74.9 499.2,74.3" fill="#b8b12d"/>
<polygon points="447.2,108.5 450.5,109.4 502.8,75.2 500.2,74.5" fill="#adba2b"/>
<polygon points="448.4,108.8 451.8,109.7 503.8,75.5 501.2,74.8" fill="#a0c22a"/>
<polygon points="449.7,109.2 453,110 504.8,75.7 502.2,75" fill="#92c82c"/>
<polygon points="451,109.5 454.3,110.4 505.8,76 503.2,75.3" fill="#83cc32"/>
<polygon points="452.3,109.8 455.6,110.7 506.8,76.2 504.2,75.6" fill="#71ce3c"/>
<polygon points="453.6,110.2 456.9,111.1 507.9,76.5 505.2,75.8" fill="#5cce4c"/>
<polygon points="454.8,110.5 458.2,111.4 508.9,76.8 506.2,76.1" fill="#48cb5e"/>
<polygon points="456.1,110.9 459.4,111.7 509.9,77 507.2,76.3" fill="#34c770"/>
<polygon points="457.4,111.2 460.7,112.1 510.9,77.3 508.3,76.6" fill="#24c280"/>
<polygon points="458.7,111.5 462,112.4 511.9,77.5 509.3,76.9" fill="#19bd8e"/>
<polygon points="459.9,111.9 463.3,112.8 512.9,77.8 510.3,77.1" fill="#15b699"/>
<polygon points="461.2,112.2 464.5,113.1 513.9,78.1 511.3,77.4" fill="#15aea4"/>
<polygon points="462.5,112.5 465.8,113.4 514.9,78.3 512.3,77.7" fill="#17a6af"/>
<polygon points="463.8,112.9 467.1,113.8 515.9,78.6 513.3,77.9" fill="#1c9eb7"/>
<polygon points="465.1,113.2 468.4,114.1 517,78.9 514.3,78.2" fill="#2198bf"/>
<polygon points="466.3,113.6 469.7,114.4 518,79.1 515.3,78.4" fill="#2691c4"/>
<polygon points="467.6,113.9 470.9,114.8 519,79.4 516.3,78.7" fill="#2b8bc9"/>
<polygon points="468.9,114.2 472.2,115.1 520,79.6 517.4,79" fill="#2e86cb"/>
<polygon points="470.2,114.6 473.5,115.5 521,79.9 518.4,79.2" fill="#3082cc"/>
<polygon points="471.4,114.9 474,115.6 521.4,80 519.4,79.5" fill="#3180cd"/>
<polygon points="472.7,115.3 474,115.6 521.4,80 520.4,79.7" fill="#327fcd"/>
<path d="M428 103.4C428 116.5 438.3 129.8 451 133.2C463.7 136.6 474 128.7 474 115.6Z" fill="url(#g4)"/>
<path d="M428 103.4C428 116.5 438.3 129.8 451 133.2C463.7 136.6 474 128.7 474 115.6Z" fill="url(#g6)"/>
<polygon points="452.1,86.1 455.5,88 506.3,57.6 503.5,56.3" fill="#78db40"/>
<polygon points="453.3,86.8 456.8,88.7 507.3,58.1 504.6,56.8" fill="#62db51"/>
<polygon points="454.6,87.5 458,89.4 508.4,58.5 505.6,57.3" fill="#4cd864"/>
<polygon points="455.9,88.2 459.3,90.1 509.4,59 506.6,57.7" fill="#38d377"/>
<polygon points="457.1,88.9 460.6,90.7 510.4,59.4 507.6,58.2" fill="#27ce88"/>
<polygon points="458.4,89.6 461.8,91.3 511.4,59.8 508.7,58.7" fill="#1bc897"/>
<polygon points="459.7,90.3 463.1,91.9 512.5,60.2 509.7,59.1" fill="#16c1a2"/>
<polygon points="460.9,90.9 464.4,92.5 513.5,60.6 510.7,59.5" fill="#16b9ae"/>
<polygon points="462.2,91.5 465.6,93.1 514.5,61 511.8,60" fill="#18b0ba"/>
<polygon points="463.5,92.1 466.9,93.6 515.6,61.3 512.8,60.4" fill="#1ea8c3"/>
<polygon points="464.7,92.7 468.2,94.1 516.6,61.6 513.8,60.7" fill="#23a1cb"/>
<polygon points="466,93.2 469.4,94.6 517.6,61.9 514.8,61.1" fill="#2999d0"/>
<polygon points="467.3,93.8 470.7,95 518.6,62.2 515.9,61.4" fill="#2d93d5"/>
<polygon points="468.5,94.2 472,95.4 519.7,62.4 516.9,61.7" fill="#318ed8"/>
<polygon points="469.8,94.7 473.2,95.8 520.7,62.7 517.9,62" fill="#338ad9"/>
<polygon points="471.1,95.1 473.6,95.9 521,62.7 518.9,62.3" fill="#3488d9"/>
<polygon points="472.3,95.5 473.6,95.9 521,62.7 520,62.5" fill="#3586da"/>
<polygon points="428,79.4 473.6,92 521,59.6 484,52.5" fill="#cbc7ba" fill-opacity="0.55"/>
<polygon points="428,74.9 431.4,76 486.8,49.5 484,48.9" fill="#c8410b"/>
<polygon points="429.3,75.3 432.7,76.4 487.8,49.8 485,49.1" fill="#c8430b"/>
<polygon points="430.5,75.7 434,76.9 488.8,50.1 486.1,49.3" fill="#ca450c"/>
<polygon points="431.8,76.1 435.2,77.4 489.9,50.4 487.1,49.6" fill="#cc490e"/>
<polygon points="433.1,76.6 436.5,77.9 490.9,50.8 488.1,49.9" fill="#ce4f10"/>
<polygon points="434.3,77 437.8,78.5 491.9,51.1 489.1,50.2" fill="#d15513"/>
<polygon points="435.6,77.6 439,79.1 492.9,51.5 490.2,50.5" fill="#d45e16"/>
<polygon points="436.9,78.1 440.3,79.7 494,51.9 491.2,50.9" fill="#d7681b"/>
<polygon points="438.1,78.7 441.6,80.3 495,52.4 492.2,51.3" fill="#d97420"/>
<polygon points="439.4,79.3 442.8,81 496,52.8 493.2,51.7" fill="#da8125"/>
<polygon points="440.7,79.9 444.1,81.7 497.1,53.3 494.3,52.1" fill="#da8d2a"/>
<polygon points="441.9,80.5 445.4,82.4 498.1,53.7 495.3,52.5" fill="#d8992e"/>
<polygon points="443.2,81.2 446.6,83.1 499.1,54.2 496.3,52.9" fill="#d4a531"/>
<polygon points="444.5,81.9 447.9,83.8 500.1,54.7 497.4,53.4" fill="#ceb032"/>
<polygon points="445.7,82.6 449.2,84.5 501.2,55.2 498.4,53.9" fill="#c4bc30"/>
<polygon points="447,83.3 450.4,85.2 502.2,55.7 499.4,54.3" fill="#b8c62e"/>
<polygon points="448.3,84 451.7,85.9 503.2,56.2 500.4,54.8" fill="#aace2d"/>
<polygon points="449.5,84.7 453,86.6 504.2,56.6 501.5,55.3" fill="#9bd52f"/>
<polygon points="450.8,85.4 452.1,86.1 503.5,56.3 502.5,55.8" fill="#8bd935"/>
<path d="M358.5 348.7C358.5 359.1 367.6 369.3 378.8 371.4C389.9 373.6 399 366.8 399 356.4Z" fill="#1e4072"/>
<path d="M356.6 349.8C356.6 360.3 365.7 370.7 377 372.8C388.2 375 397.4 368.2 397.4 357.7Z" fill="#1e4172"/>
<path d="M354.7 350.9C354.7 361.5 363.9 372 375.2 374.2C386.6 376.4 395.8 369.6 395.8 359Z" fill="#1d4373"/>
<path d="M352.8 352C352.8 362.7 362 373.3 373.5 375.6C384.9 377.9 394.1 371 394.1 360.3Z" fill="#1b4772"/>
<path d="M350.9 353.1C350.9 364 360.2 374.7 371.7 377C383.2 379.3 392.5 372.4 392.5 361.5Z" fill="#194b71"/>
<path d="M348.9 354.2C348.9 365.2 358.3 376 369.9 378.4C381.5 380.8 390.9 373.8 390.9 362.8Z" fill="#15516c"/>
<path d="M347 355.3C347 366.4 356.5 377.3 368.2 379.8C379.8 382.2 389.3 375.2 389.3 364.1Z" fill="#105866"/>
<path d="M345.1 356.4C345.1 367.6 354.6 378.6 366.4 381.1C378.1 383.6 387.6 376.6 387.6 365.4Z" fill="#0c5e5f"/>
<path d="M343.2 357.5C343.2 368.8 352.8 380 364.6 382.5C376.4 385.1 386 378 386 366.7Z" fill="#0c6555"/>
<path d="M341.3 358.6C341.3 370 351 381.3 362.9 383.9C374.8 386.5 384.4 379.4 384.4 368Z" fill="#106a4c"/>
<path d="M339.4 359.7C339.4 371.2 349.1 382.6 361.1 385.3C373.1 387.9 382.8 380.8 382.8 369.3Z" fill="#1b6e40"/>
<path d="M337.5 360.8C337.5 372.4 347.3 384 359.3 386.7C371.4 389.4 381.2 382.2 381.2 370.5Z" fill="#2a7132"/>
<path d="M335.6 361.9C335.6 373.6 345.4 385.3 357.6 388.1C369.7 390.8 379.5 383.5 379.5 371.8Z" fill="#3b7325"/>
<path d="M333.7 363C333.7 374.8 343.6 386.6 355.8 389.4C368 392.2 377.9 384.9 377.9 373.1Z" fill="#49721c"/>
<path d="M331.8 364C331.8 376 341.7 388 354 390.8C366.3 393.7 376.3 386.3 376.3 374.4Z" fill="#546e18"/>
<path d="M329.8 365.1C329.8 377.2 339.9 389.3 352.3 392.2C364.6 395.1 374.7 387.7 374.7 375.7Z" fill="#5e6918"/>
<path d="M327.9 366.2C327.9 378.4 338 390.6 350.5 393.6C363 396.6 373.1 389.1 373.1 377Z" fill="#676219"/>
<path d="M326 367.3C326 379.6 336.2 392 348.7 395C361.3 398 371.4 390.5 371.4 378.3Z" fill="#6d5a1a"/>
<path d="M324.1 368.4C324.1 380.8 334.3 393.3 347 396.4C359.6 399.4 369.8 391.9 369.8 379.5Z" fill="#715219"/>
<path d="M322.2 369.5C322.2 382 332.5 394.6 345.2 397.7C357.9 400.9 368.2 393.3 368.2 380.8Z" fill="#724a16"/>
<path d="M320.3 370.6C320.3 383.2 330.6 396 343.4 399.1C356.2 402.3 366.6 394.7 366.6 382.1Z" fill="#724112"/>
<path d="M318.4 371.7C318.4 384.4 328.8 397.3 341.7 400.5C354.5 403.7 365 396.1 365 383.4Z" fill="#71390f"/>
<path d="M316.5 372.8C316.5 385.6 327 398.6 339.9 401.9C352.8 405.2 363.3 397.5 363.3 384.7Z" fill="#6f320c"/>
<path d="M314.6 373.9C314.6 386.8 325.1 400 338.1 403.3C351.2 406.6 361.7 398.9 361.7 386Z" fill="#6d2d0a"/>
<path d="M312.6 375C312.6 388 323.3 401.3 336.4 404.7C349.5 408 360.1 400.3 360.1 387.3Z" fill="#6c2808"/>
<path d="M310.7 376.1C310.7 389.2 321.4 402.6 334.6 406C347.8 409.5 358.5 401.6 358.5 388.5Z" fill="#6a2507"/>
<path d="M308.8 377.2C308.8 390.4 319.6 403.9 332.8 407.4C346.1 410.9 356.8 403 356.8 389.8Z" fill="#692306"/>
<path d="M306.9 378.3C306.9 391.6 317.7 405.3 331.1 408.8C344.4 412.4 355.2 404.4 355.2 391.1Z" fill="#692206"/>
<path d="M305 379.4C305 392.8 315.9 406.6 329.3 410.2C342.7 413.8 353.6 405.8 353.6 392.4Z" fill="#682206"/>
<polygon points="305,379 358.5,348.3 399,356 398.8,358.5 398.3,360.9 397.5,363.1 396.3,365.1 394.8,366.9 393.1,368.5 346.5,407.6 344.1,409.1 341.4,410.1 338.6,410.8 335.6,411 332.5,410.8 329.3,410.2 326.1,409.1 323,407.7 320,405.8 317.1,403.6 314.5,401.1 312.1,398.4 310,395.4 308.3,392.2 306.9,388.9 305.8,385.6 305.2,382.3" fill="url(#g8)"/>
<polygon points="354.6,350.5 395.7,358.6 399,356 358.5,348.3" fill="#3674cd"/>
<polygon points="353.1,351.4 394.5,359.6 397.7,357 357,349.2" fill="#3676ce"/>
<polygon points="351.7,352.2 393.2,360.6 396.5,358 355.5,350" fill="#3579ce"/>
<polygon points="350.2,353.1 391.9,361.6 395.2,359 354,350.9" fill="#337dcd"/>
<polygon points="348.7,353.9 390.7,362.6 394,360 352.6,351.7" fill="#2f83cc"/>
<polygon points="347.2,354.8 389.4,363.6 392.7,361 351.1,352.6" fill="#2b8ac9"/>
<polygon points="345.7,355.6 388.2,364.6 391.4,362 349.6,353.4" fill="#2593c3"/>
<polygon points="344.2,356.5 386.9,365.6 390.2,363 348.1,354.3" fill="#1e9cbb"/>
<polygon points="342.7,357.3 385.6,366.6 388.9,364 346.6,355.1" fill="#18a5b0"/>
<polygon points="341.3,358.2 384.4,367.6 387.6,365 345.1,356" fill="#15aea4"/>
<polygon points="339.8,359 383.1,368.6 386.4,366 343.6,356.8" fill="#16b797"/>
<polygon points="338.3,359.9 381.8,369.6 385.1,367 342.2,357.7" fill="#1cbe8a"/>
<polygon points="336.8,360.8 380.6,370.6 383.9,368 340.7,358.5" fill="#2ac47a"/>
<polygon points="335.3,361.6 379.3,371.6 382.6,369 339.2,359.4" fill="#3ec966"/>
<polygon points="333.8,362.5 378.1,372.6 381.3,370 337.7,360.2" fill="#55cd53"/>
<polygon points="332.3,363.3 376.8,373.6 380.1,371 336.2,361.1" fill="#6bce41"/>
<polygon points="330.9,364.2 375.5,374.6 378.8,372 334.7,361.9" fill="#7fcd34"/>
<polygon points="329.4,365 374.3,375.6 377.6,373 333.2,362.8" fill="#8fc92d"/>
<polygon points="327.9,365.9 373,376.6 376.3,374 331.8,363.6" fill="#9ec32b"/>
<polygon points="326.4,366.7 371.8,377.6 375,375 330.3,364.5" fill="#acbb2b"/>
<polygon points="324.9,367.6 370.5,378.6 373.8,376 328.8,365.4" fill="#b8b12d"/>
<polygon points="323.4,368.4 369.2,379.6 372.5,377 327.3,366.2" fill="#c2a62f"/>
<polygon points="321.9,369.3 368,380.6 371.3,378 325.8,367.1" fill="#c89b2e"/>
<polygon points="320.5,370.1 366.7,381.6 370,379 324.3,367.9" fill="#cc902b"/>
<polygon points="319,371 365.5,382.6 368.7,380 322.8,368.8" fill="#cd8427"/>
<polygon points="317.5,371.8 364.2,383.6 367.5,381 321.3,369.6" fill="#ce7822"/>
<polygon points="316,372.7 362.9,384.6 366.2,382 319.9,370.5" fill="#cc6d1d"/>
<polygon points="314.5,373.5 361.7,385.6 365,383 318.4,371.3" fill="#ca6219"/>
<polygon points="313,374.4 360.4,386.6 363.7,384 316.9,372.2" fill="#c75915"/>
<polygon points="311.5,375.2 359.1,387.6 362.4,385 315.4,373" fill="#c55112"/>
<polygon points="310.1,376.1 357.9,388.6 361.2,386 313.9,373.9" fill="#c24b0f"/>
<polygon points="308.6,377 356.6,389.6 359.9,387 312.4,374.7" fill="#c0460d"/>
<polygon points="307.1,377.8 355.4,390.6 358.6,388 310.9,375.6" fill="#bf420c"/>
<polygon points="305.6,378.7 354.1,391.6 357.4,389 309.5,376.4" fill="#bd3f0b"/>
<polygon points="305,379 353.6,392 356.1,390 308,377.3" fill="#bc3e0a"/>
<polygon points="305,379 353.6,392 354.9,391 306.5,378.1" fill="#bc3e0a"/>
<path d="M305 379C305 392.6 315.9 406.6 329.3 410.2C342.7 413.8 353.6 405.6 353.6 392Z" fill="url(#g7)"/>
<polygon points="357.1,348.9 393.6,356.2 396,354.4 360,347.4" fill="#3a7bd9"/>
<polygon points="356.1,349.4 392.6,356.8 395.1,355 358.9,347.9" fill="#397cda"/>
<polygon points="355,350 391.7,357.5 394.2,355.7 357.9,348.5" fill="#397edb"/>
<polygon points="353.9,350.5 390.8,358.1 393.3,356.4 356.8,349" fill="#3880db"/>
<polygon points="352.8,351 389.9,358.8 392.3,357 355.7,349.6" fill="#3683da"/>
<polygon points="351.7,351.5 388.9,359.4 391.4,357.7 354.7,350.1" fill="#3487d9"/>
<polygon points="350.6,352 388,360 390.5,358.3 353.6,350.6" fill="#328cd8"/>
<polygon points="349.5,352.4 387,360.6 389.6,359 352.5,351.1" fill="#2e92d6"/>
<polygon points="348.4,352.9 386.1,361.2 388.6,359.6 351.4,351.6" fill="#2998d1"/>
<polygon points="347.3,353.4 385.1,361.7 387.7,360.2 350.3,352.1" fill="#249fcc"/>
<polygon points="346.2,353.8 384.2,362.3 386.7,360.8 349.2,352.6" fill="#1fa6c5"/>
<polygon points="345.1,354.2 383.2,362.8 385.8,361.3 348.1,353.1" fill="#1aaebd"/>
<polygon points="344,354.7 382.2,363.4 384.8,361.9 347,353.5" fill="#17b5b3"/>
<polygon points="342.8,355.1 381.3,363.9 383.9,362.5 345.9,353.9" fill="#15bda9"/>
<polygon points="341.7,355.5 380.3,364.4 382.9,363 344.7,354.4" fill="#18c39f"/>
<polygon points="340.6,355.9 379.3,365 381.9,363.6 343.6,354.8" fill="#1dc994"/>
<polygon points="339.4,356.2 378.3,365.5 381,364.1 342.5,355.2" fill="#27ce88"/>
<polygon points="338.3,356.6 377.4,366 380,364.6 341.4,355.6" fill="#35d379"/>
<polygon points="337.1,357 376.4,366.5 379,365.1 340.2,356" fill="#46d769"/>
<polygon points="336,357.3 375.4,366.9 378,365.6 339.1,356.4" fill="#58da59"/>
<polygon points="334.9,357.7 374.4,367.4 377.1,366.1 337.9,356.7" fill="#6bdb4a"/>
<polygon points="333.7,358.1 373.4,367.9 376.1,366.6 336.8,357.1" fill="#7cdb3e"/>
<polygon points="332.6,358.4 372.4,368.4 375.1,367.1 335.6,357.5" fill="#8bd935"/>
<polygon points="333.4,358.2 373.1,368 374.1,367.6 334.5,357.8" fill="#98d530"/>
<polygon points="306.4,372.6 350,385.4 396,351 360,344" fill="#cbc7ba" fill-opacity="0.55"/>
<polygon points="330.3,359.1 370.5,369.3 373.1,368 333.4,358.2" fill="#a5d12d"/>
<polygon points="329.1,359.5 369.5,369.8 372.1,368.5 332.2,358.5" fill="#b1cb2d"/>
<polygon points="328,359.8 368.5,370.3 371.2,369 331.1,358.9" fill="#bbc32f"/>
<polygon points="326.8,360.2 367.5,370.8 370.2,369.5 329.9,359.2" fill="#c5bb30"/>
<polygon points="325.7,360.5 366.5,371.2 369.2,369.9 328.8,359.6" fill="#cdb232"/>
<polygon points="324.5,360.9 365.5,371.7 368.2,370.4 327.6,359.9" fill="#d2a931"/>
<polygon points="323.4,361.3 364.6,372.2 367.2,370.9 326.5,360.3" fill="#d6a030"/>
<polygon points="322.2,361.6 363.6,372.7 366.2,371.4 325.3,360.6" fill="#d9972d"/>
<polygon points="321.1,362 362.6,373.2 365.3,371.9 324.2,361" fill="#da8d2a"/>
<polygon points="320,362.4 361.6,373.7 364.3,372.4 323,361.4" fill="#da8326"/>
<polygon points="318.8,362.8 360.7,374.3 363.3,372.9 321.9,361.7" fill="#da7a22"/>
<polygon points="317.7,363.2 359.7,374.8 362.3,373.4 320.8,362.1" fill="#d8711e"/>
<polygon points="316.6,363.7 358.7,375.4 361.4,373.9 319.6,362.5" fill="#d7681b"/>
<polygon points="315.5,364.1 357.8,375.9 360.4,374.4 318.5,362.9" fill="#d46118"/>
<polygon points="314.3,364.5 356.8,376.5 359.4,375 317.4,363.4" fill="#d25a15"/>
<polygon points="313.2,365 355.9,377.1 358.5,375.5 316.2,363.8" fill="#d05412"/>
<polygon points="312.1,365.5 354.9,377.7 357.5,376.1 315.1,364.2" fill="#ce4f10"/>
<polygon points="311,366 354,378.3 356.5,376.6 314,364.7" fill="#cd4b0f"/>
<polygon points="309.9,366.5 353,378.9 355.6,377.2 312.9,365.1" fill="#cb480d"/>
<polygon points="308.9,367 352.1,379.5 354.6,377.8 311.8,365.6" fill="#ca450c"/>
<polygon points="307.8,367.5 351.2,380.2 353.7,378.4 310.7,366.1" fill="#c9430c"/>
<polygon points="306.7,368 350.3,380.8 352.8,379.1 309.6,366.6" fill="#c8420b"/>
<polygon points="306.4,368.2 350,381 351.8,379.7 308.5,367.1" fill="#c8420b"/>
<polygon points="306.4,368.2 350,381 350.9,380.3 307.5,367.7" fill="#c8410b"/>
<path d="M484 350.9C484 361 492.4 371.1 502.7 373.5C513 376 521.4 369.9 521.4 359.8Z" fill="#1d4070"/>
<path d="M482 352.1C482 362.2 490.5 372.5 500.9 375C511.3 377.5 519.7 371.3 519.7 361.1Z" fill="#1d4170"/>
<path d="M480 353.2C480 363.5 488.5 373.8 499.1 376.4C509.6 378.9 518.1 372.7 518.1 362.4Z" fill="#1c4370"/>
<path d="M478 354.4C478 364.7 486.6 375.2 497.2 377.8C507.8 380.4 516.4 374.1 516.4 363.7Z" fill="#1a466f"/>
<path d="M476.1 355.5C476.1 366 484.7 376.6 495.4 379.2C506.1 381.8 514.8 375.5 514.8 365Z" fill="#184b6d"/>
<path d="M474.1 356.7C474.1 367.2 482.8 378 493.6 380.6C504.4 383.3 513.1 376.9 513.1 366.3Z" fill="#135069"/>
<path d="M472.1 357.9C472.1 368.5 480.9 379.3 491.8 382C502.6 384.7 511.5 378.3 511.5 367.6Z" fill="#0f5663"/>
<path d="M470.1 359C470.1 369.8 479 380.7 489.9 383.4C500.9 386.2 509.8 379.7 509.8 368.9Z" fill="#0c5d5c"/>
<path d="M468.1 360.2C468.1 371 477.1 382.1 488.1 384.8C499.2 387.6 508.1 381.1 508.1 370.3Z" fill="#0c6353"/>
<path d="M466.1 361.3C466.1 372.3 475.2 383.4 486.3 386.3C497.5 389.1 506.5 382.5 506.5 371.6Z" fill="#116849"/>
<path d="M464.1 362.5C464.1 373.5 473.3 384.8 484.5 387.7C495.7 390.5 504.8 383.9 504.8 372.9Z" fill="#1b6c3e"/>
<path d="M462.2 363.7C462.2 374.8 471.3 386.2 482.7 389.1C494 392 503.2 385.3 503.2 374.2Z" fill="#2a6f30"/>
<path d="M460.2 364.8C460.2 376.1 469.4 387.6 480.8 390.5C492.3 393.4 501.5 386.7 501.5 375.5Z" fill="#3a7024"/>
<path d="M458.2 366C458.2 377.3 467.5 388.9 479 391.9C490.5 394.9 499.9 388.1 499.9 376.8Z" fill="#476f1b"/>
<path d="M456.2 367.1C456.2 378.6 465.6 390.3 477.2 393.3C488.8 396.3 498.2 389.5 498.2 378.1Z" fill="#526c17"/>
<path d="M454.2 368.3C454.2 379.8 463.7 391.7 475.4 394.7C487.1 397.8 496.5 390.9 496.5 379.4Z" fill="#5c6717"/>
<path d="M452.2 369.5C452.2 381.1 461.8 393 473.6 396.1C485.3 399.3 494.9 392.3 494.9 380.7Z" fill="#646019"/>
<path d="M450.2 370.6C450.2 382.4 459.9 394.4 471.7 397.6C483.6 400.7 493.2 393.7 493.2 382Z" fill="#6a5819"/>
<path d="M448.3 371.8C448.3 383.6 458 395.8 469.9 399C481.9 402.2 491.6 395.2 491.6 383.3Z" fill="#6e5118"/>
<path d="M446.3 373C446.3 384.9 456 397.2 468.1 400.4C480.1 403.6 489.9 396.6 489.9 384.6Z" fill="#6f4916"/>
<path d="M444.3 374.1C444.3 386.1 454.1 398.5 466.3 401.8C478.4 405.1 488.3 398 488.3 385.9Z" fill="#704113"/>
<path d="M442.3 375.3C442.3 387.4 452.2 399.9 464.4 403.2C476.7 406.5 486.6 399.4 486.6 387.2Z" fill="#6f390f"/>
<path d="M440.3 376.4C440.3 388.7 450.3 401.3 462.6 404.6C475 408 484.9 400.8 484.9 388.6Z" fill="#6d330d"/>
<path d="M438.3 377.6C438.3 389.9 448.4 402.6 460.8 406C473.2 409.4 483.3 402.2 483.3 389.9Z" fill="#6b2d0a"/>
<path d="M436.3 378.8C436.3 391.2 446.5 404 459 407.4C471.5 410.9 481.6 403.6 481.6 391.2Z" fill="#6a2909"/>
<path d="M434.4 379.9C434.4 392.4 444.6 405.4 457.2 408.9C469.8 412.3 480 405 480 392.5Z" fill="#692607"/>
<path d="M432.4 381.1C432.4 393.7 442.7 406.8 455.3 410.3C468 413.8 478.3 406.4 478.3 393.8Z" fill="#682406"/>
<path d="M430.4 382.2C430.4 395 440.7 408.1 453.5 411.7C466.3 415.2 476.7 407.8 476.7 395.1Z" fill="#672306"/>
<path d="M428.4 383.4C428.4 396.2 438.8 409.5 451.7 413.1C464.6 416.7 475 409.2 475 396.4Z" fill="#672306"/>
<polygon points="428.4,383 484,350.5 521.4,359.4 521.2,361.8 520.8,364.1 520,366.2 518.9,368.1 517.5,369.8 515.9,371.2 468.2,410.8 465.9,412.2 463.4,413.2 460.6,413.8 457.7,414 454.7,413.8 451.7,413.1 448.7,412.1 445.7,410.6 442.8,408.8 440.1,406.7 437.5,404.3 435.2,401.6 433.2,398.7 431.5,395.7 430.2,392.5 429.2,389.3 428.6,386.1" fill="url(#g10)"/>
<polygon points="480,352.8 518,362 521.4,359.4 484,350.5" fill="#3677ce"/>
<polygon points="478.4,353.8 516.8,363.1 520.1,360.4 482.5,351.4" fill="#3578ce"/>
<polygon points="476.9,354.7 515.5,364.1 518.8,361.4 480.9,352.3" fill="#347bce"/>
<polygon points="475.4,355.6 514.2,365.1 517.5,362.4 479.4,353.2" fill="#3180cd"/>
<polygon points="473.8,356.5 512.9,366.1 516.2,363.5 477.8,354.1" fill="#2e85cb"/>
<polygon points="472.3,357.4 511.6,367.1 515,364.5 476.3,355" fill="#298cc7"/>
<polygon points="470.7,358.3 510.3,368.1 513.7,365.5 474.7,355.9" fill="#2395c1"/>
<polygon points="469.2,359.2 509,369.2 512.4,366.5 473.2,356.8" fill="#1d9db9"/>
<polygon points="467.6,360.1 507.7,370.2 511.1,367.5 471.6,357.7" fill="#17a6af"/>
<polygon points="466.1,361 506.4,371.2 509.8,368.5 470.1,358.6" fill="#14afa2"/>
<polygon points="464.5,361.9 505.2,372.2 508.5,369.6 468.6,359.5" fill="#16b896"/>
<polygon points="463,362.8 503.9,373.2 507.2,370.6 467,360.4" fill="#1ebf88"/>
<polygon points="461.5,363.7 502.6,374.2 505.9,371.6 465.5,361.3" fill="#2bc578"/>
<polygon points="459.9,364.6 501.3,375.3 504.6,372.6 463.9,362.2" fill="#3fca65"/>
<polygon points="458.4,365.5 500,376.3 503.4,373.6 462.4,363.1" fill="#55cd52"/>
<polygon points="456.8,366.4 498.7,377.3 502.1,374.6 460.8,364" fill="#6cce41"/>
<polygon points="455.3,367.3 497.4,378.3 500.8,375.7 459.3,364.9" fill="#7fcd34"/>
<polygon points="453.7,368.2 496.1,379.3 499.5,376.7 457.7,365.8" fill="#8fc92d"/>
<polygon points="452.2,369.1 494.8,380.3 498.2,377.7 456.2,366.8" fill="#9ec32b"/>
<polygon points="450.6,370 493.6,381.4 496.9,378.7 454.7,367.7" fill="#acbb2b"/>
<polygon points="449.1,370.9 492.3,382.4 495.6,379.7 453.1,368.6" fill="#b8b12d"/>
<polygon points="447.6,371.8 491,383.4 494.3,380.8 451.6,369.5" fill="#c1a72f"/>
<polygon points="446,372.7 489.7,384.4 493,381.8 450,370.4" fill="#c89c2e"/>
<polygon points="444.5,373.6 488.4,385.4 491.8,382.8 448.5,371.3" fill="#cb912c"/>
<polygon points="442.9,374.5 487.1,386.4 490.5,383.8 446.9,372.2" fill="#cd8628"/>
<polygon points="441.4,375.4 485.8,387.5 489.2,384.8 445.4,373.1" fill="#ce7a23"/>
<polygon points="439.8,376.3 484.5,388.5 487.9,385.8 443.8,374" fill="#cc6f1e"/>
<polygon points="438.3,377.2 483.2,389.5 486.6,386.9 442.3,374.9" fill="#cb651a"/>
<polygon points="436.7,378.1 482,390.5 485.3,387.9 440.8,375.8" fill="#c85c16"/>
<polygon points="435.2,379 480.7,391.5 484,388.9 439.2,376.7" fill="#c65413"/>
<polygon points="433.7,379.9 479.4,392.5 482.7,389.9 437.7,377.6" fill="#c44d10"/>
<polygon points="432.1,380.8 478.1,393.6 481.4,390.9 436.1,378.5" fill="#c1480e"/>
<polygon points="430.6,381.7 476.8,394.6 480.2,391.9 434.6,379.4" fill="#c0450d"/>
<polygon points="429,382.6 475.5,395.6 478.9,392.9 433,380.3" fill="#bf420c"/>
<polygon points="428.4,383 475,396 477.6,394 431.5,381.2" fill="#be400b"/>
<polygon points="428.4,383 475,396 476.3,395 429.9,382.1" fill="#be400b"/>
<path d="M428.4 383C428.4 396 438.8 409.5 451.7 413.1C464.6 416.7 475 409 475 396Z" fill="url(#g9)"/>
<polygon points="479.1,337.7 518.9,344.4 521.4,342.8 482,336.4" fill="#397edb"/>
<polygon points="478,338.2 517.9,345 520.5,343.4 480.9,336.9" fill="#397fdb"/>
<polygon points="476.9,338.7 517,345.6 519.5,344 479.9,337.4" fill="#3880db"/>
<polygon points="475.9,339.1 516.1,346.2 518.6,344.6 478.8,337.9" fill="#3783da"/>
<polygon points="474.8,339.6 515.1,346.7 517.7,345.2 477.7,338.4" fill="#3586da"/>
<polygon points="473.7,340 514.1,347.3 516.7,345.8 476.6,338.8" fill="#338ad9"/>
<polygon points="472.5,340.4 513.2,347.8 515.8,346.4 475.5,339.3" fill="#308fd7"/>
<polygon points="471.4,340.9 512.2,348.4 514.8,346.9 474.4,339.7" fill="#2c95d4"/>
<polygon points="470.3,341.3 511.2,348.9 513.8,347.5 473.3,340.2" fill="#289bcf"/>
<polygon points="469.2,341.6 510.3,349.4 512.9,348 472.2,340.6" fill="#22a2ca"/>
<polygon points="468.1,342 509.3,349.9 511.9,348.5 471.1,341" fill="#1ea8c3"/>
<polygon points="466.9,342.4 508.3,350.3 510.9,349 470,341.4" fill="#19b0bb"/>
<polygon points="465.8,342.7 507.3,350.8 510,349.5 468.8,341.8" fill="#16b7b1"/>
<polygon points="464.7,343.1 506.3,351.3 509,350 467.7,342.1" fill="#15bea7"/>
<polygon points="463.5,343.4 505.3,351.7 508,350.5 466.6,342.5" fill="#18c49d"/>
<polygon points="462.4,343.7 504.3,352.2 507,351 465.5,342.8" fill="#1eca92"/>
<polygon points="461.2,344 503.3,352.6 506,351.4 464.3,343.2" fill="#28cf86"/>
<polygon points="460.1,344.3 502.3,353 505,351.9 463.2,343.5" fill="#37d377"/>
<polygon points="458.9,344.6 501.3,353.4 504,352.3 462,343.8" fill="#47d768"/>
<polygon points="457.8,344.9 500.3,353.8 503,352.7 460.9,344.1" fill="#5ada58"/>
<polygon points="456.6,345.2 499.3,354.2 502,353.1 459.7,344.4" fill="#6cdb4a"/>
<polygon points="455.5,345.5 498.3,354.6 501,353.6 458.6,344.7" fill="#7ddb3d"/>
<polygon points="456.3,345.3 499,354.4 500,354 457.4,345" fill="#8cd934"/>
<polygon points="428,358.6 474.4,370.6 521.4,339.4 482,333" fill="#cbc7ba" fill-opacity="0.55"/>
<polygon points="453.2,346.1 496.3,355.4 499,354.4 456.3,345.3" fill="#98d530"/>
<polygon points="452,346.3 495.3,355.8 498,354.8 455.1,345.6" fill="#a5d12d"/>
<polygon points="450.9,346.6 494.3,356.2 497,355.2 454,345.9" fill="#b0cb2d"/>
<polygon points="449.7,346.9 493.3,356.6 496,355.6 452.8,346.1" fill="#bbc32e"/>
<polygon points="448.6,347.2 492.3,357 495,356 451.7,346.4" fill="#c4bb30"/>
<polygon points="447.4,347.5 491.3,357.5 494,356.4 450.5,346.7" fill="#ccb332"/>
<polygon points="446.3,347.8 490.3,357.9 493,356.8 449.4,347" fill="#d2aa31"/>
<polygon points="445.1,348.1 489.3,358.3 492,357.2 448.2,347.3" fill="#d6a130"/>
<polygon points="444,348.4 488.3,358.7 491,357.6 447.1,347.6" fill="#d8982e"/>
<polygon points="442.8,348.7 487.3,359.1 490,358 445.9,347.8" fill="#da8f2b"/>
<polygon points="441.7,349 486.3,359.6 489,358.4 444.8,348.1" fill="#da8627"/>
<polygon points="440.5,349.3 485.3,360 488,358.8 443.6,348.5" fill="#da7c23"/>
<polygon points="439.4,349.7 484.3,360.5 487,359.3 442.5,348.8" fill="#d9731f"/>
<polygon points="438.3,350 483.3,361 486,359.7 441.3,349.1" fill="#d76b1c"/>
<polygon points="437.1,350.4 482.4,361.5 485,360.2 440.2,349.4" fill="#d56419"/>
<polygon points="436,350.8 481.4,362 484,360.6 439.1,349.8" fill="#d35d16"/>
<polygon points="434.9,351.2 480.4,362.5 483.1,361.1 437.9,350.1" fill="#d25713"/>
<polygon points="433.8,351.6 479.4,363 482.1,361.6 436.8,350.5" fill="#d05212"/>
<polygon points="432.7,352 478.5,363.5 481.1,362.1 435.7,350.9" fill="#ce4e10"/>
<polygon points="431.6,352.5 477.5,364.1 480.1,362.6 434.6,351.3" fill="#cd4b0e"/>
<polygon points="430.5,352.9 476.6,364.7 479.2,363.1 433.5,351.7" fill="#cb480d"/>
<polygon points="429.4,353.4 475.6,365.2 478.2,363.7 432.4,352.1" fill="#cb460d"/>
<polygon points="428.3,353.9 474.7,365.8 477.2,364.2 431.3,352.6" fill="#ca450c"/>
<polygon points="428,354 474.4,366 476.3,364.8 430.2,353" fill="#ca440c"/>
<polygon points="428,354 474.4,366 475.3,365.4 429.1,353.5" fill="#c9440c"/>
<path d="M358.4 208C358.4 218.3 367.5 228.3 378.7 230.5C389.9 232.7 399 226.1 399 215.8Z" fill="#214b7f"/>
<path d="M356.5 209.1C356.5 219.5 365.6 229.7 376.9 231.9C388.2 234.1 397.4 227.5 397.4 217.1Z" fill="#204b7f"/>
<path d="M354.5 210.2C354.5 220.7 363.8 231 375.2 233.3C386.6 235.5 395.8 228.9 395.8 218.4Z" fill="#19577a"/>
<path d="M352.6 211.3C352.6 221.8 361.9 232.3 373.4 234.6C384.9 237 394.2 230.2 394.2 219.7Z" fill="#0d6b66"/>
<path d="M350.7 212.3C350.7 223 360.1 233.6 371.6 236C383.2 238.4 392.6 231.6 392.6 220.9Z" fill="#1c7a49"/>
<path d="M348.8 213.4C348.8 224.2 358.2 235 369.9 237.4C381.5 239.8 391 233 391 222.2Z" fill="#4a7f23"/>
<path d="M346.8 214.5C346.8 225.4 356.4 236.3 368.1 238.8C379.9 241.3 389.4 234.4 389.4 223.5Z" fill="#6d711b"/>
<path d="M344.9 215.6C344.9 226.6 354.5 237.6 366.4 240.1C378.2 242.7 387.8 235.8 387.8 224.8Z" fill="#7e591b"/>
<path d="M343 216.7C343 227.8 352.6 238.9 364.6 241.5C376.5 244.1 386.2 237.2 386.2 226.1Z" fill="#7d3c0f"/>
<path d="M341 217.8C341 229 350.8 240.3 362.8 242.9C374.8 245.6 384.6 238.6 384.6 227.4Z" fill="#772b08"/>
<path d="M339.1 218.9C339.1 230.2 348.9 241.6 361.1 244.3C373.2 247 383 240 383 228.7Z" fill="#732506"/>
<path d="M337.2 219.9C337.2 231.4 347.1 242.9 359.3 245.7C371.5 248.4 381.4 241.4 381.4 229.9Z" fill="#722305"/>
<path d="M335.3 221C335.3 232.6 345.2 244.2 357.5 247C369.8 249.9 379.8 242.8 379.8 231.2Z" fill="#722305"/>
<path d="M333.3 222.1C333.3 233.8 343.4 245.5 355.8 248.4C368.2 251.3 378.2 244.2 378.2 232.5Z" fill="#722305"/>
<path d="M331.4 223.2C331.4 235 341.5 246.9 354 249.8C366.5 252.7 376.6 245.6 376.6 233.8Z" fill="#722305"/>
<path d="M329.5 224.3C329.5 236.2 339.7 248.2 352.2 251.2C364.8 254.2 375 247 375 235.1Z" fill="#732506"/>
<path d="M327.5 225.4C327.5 237.3 337.8 249.5 350.5 252.6C363.1 255.6 373.4 248.3 373.4 236.4Z" fill="#752807"/>
<path d="M325.6 226.5C325.6 238.5 336 250.8 348.7 253.9C361.5 257 371.8 249.7 371.8 237.7Z" fill="#792f0a"/>
<path d="M323.7 227.5C323.7 239.7 334.1 252.2 346.9 255.3C359.8 258.5 370.2 251.1 370.2 238.9Z" fill="#7d3e10"/>
<path d="M321.8 228.6C321.8 240.9 332.2 253.5 345.2 256.7C358.1 259.9 368.6 252.5 368.6 240.2Z" fill="#7f551a"/>
<path d="M319.8 229.7C319.8 242.1 330.4 254.8 343.4 258.1C356.4 261.3 367 253.9 367 241.5Z" fill="#77681d"/>
<path d="M317.9 230.8C317.9 243.3 328.5 256.1 341.6 259.4C354.8 262.8 365.4 255.3 365.4 242.8Z" fill="#63781a"/>
<path d="M316 231.9C316 244.5 326.7 257.5 339.9 260.8C353.1 264.2 363.8 256.7 363.8 244.1Z" fill="#3a7f2e"/>
<path d="M314 233C314 245.7 324.8 258.8 338.1 262.2C351.4 265.6 362.2 258.1 362.2 245.4Z" fill="#0d6969"/>
<path d="M312.1 234.1C312.1 246.9 323 260.1 336.4 263.6C349.7 267.1 360.6 259.5 360.6 246.7Z" fill="#214a7f"/>
<path d="M310.2 235.1C310.2 248.1 321.1 261.4 334.6 265C348.1 268.5 359 260.9 359 247.9Z" fill="#23407b"/>
<path d="M308.3 236.2C308.3 249.3 319.3 262.8 332.8 266.3C346.4 269.9 357.4 262.3 357.4 249.2Z" fill="#23427c"/>
<path d="M306.3 237.3C306.3 250.5 317.4 264.1 331.1 267.7C344.7 271.4 355.8 263.7 355.8 250.5Z" fill="#21487e"/>
<path d="M304.4 238.4C304.4 251.7 315.5 265.4 329.3 269.1C343.1 272.8 354.2 265.1 354.2 251.8Z" fill="#214b7f"/>
<polygon points="304.4,238 358.4,207.6 399,215.4 398.8,217.8 398.3,220.2 397.4,222.4 396.3,224.4 394.8,226.2 393.1,227.7 346.9,266.7 344.5,268.1 341.8,269.2 338.8,269.8 335.7,270 332.6,269.8 329.3,269.1 326.1,268 322.9,266.5 319.8,264.7 316.9,262.5 314.1,260 311.7,257.2 309.6,254.2 307.7,251.1 306.3,247.8 305.2,244.5 304.6,241.2" fill="url(#g12)"/>
<polygon points="354.5,209.8 395.8,218 399,215.4 358.4,207.6" fill="#3579ce"/>
<polygon points="353,210.6 394.5,219 397.8,216.4 356.9,208.4" fill="#347bce"/>
<polygon points="351.5,211.5 393.3,220 396.5,217.4 355.4,209.3" fill="#2a8cc8"/>
<polygon points="350,212.3 392,221 395.3,218.4 353.9,210.1" fill="#18a4b1"/>
<polygon points="348.5,213.2 390.8,222 394,219.4 352.4,211" fill="#18bb90"/>
<polygon points="347,214 389.5,223 392.8,220.4 350.9,211.8" fill="#40ca65"/>
<polygon points="345.5,214.9 388.3,224 391.5,221.4 349.4,212.7" fill="#7bcd36"/>
<polygon points="344,215.7 387.1,225 390.3,222.4 347.9,213.5" fill="#a9bd2b"/>
<polygon points="342.5,216.6 385.8,226 389,223.4 346.4,214.4" fill="#c5a02f"/>
<polygon points="341,217.4 384.6,227 387.8,224.4 344.9,215.2" fill="#ce7d24"/>
<polygon points="339.5,218.2 383.3,228 386.6,225.4 343.4,216" fill="#c85b16"/>
<polygon points="338,219.1 382.1,229 385.3,226.4 341.9,216.9" fill="#c1470e"/>
<polygon points="336.5,219.9 380.8,230 384.1,227.4 340.4,217.7" fill="#bc3d0a"/>
<polygon points="335,220.8 379.6,231 382.8,228.4 338.9,218.6" fill="#b93909"/>
<polygon points="333.5,221.6 378.3,232 381.6,229.4 337.4,219.4" fill="#b83808"/>
<polygon points="332,222.5 377.1,233 380.3,230.4 335.9,220.3" fill="#b93908"/>
<polygon points="330.5,223.3 375.9,234 379.1,231.4 334.4,221.1" fill="#b93909"/>
<polygon points="329,224.2 374.6,235 377.8,232.4 332.9,222" fill="#b93909"/>
<polygon points="327.5,225 373.4,236 376.6,233.4 331.4,222.8" fill="#b93a09"/>
<polygon points="326,225.8 372.1,237 375.4,234.4 329.9,223.6" fill="#bb3c0a"/>
<polygon points="324.5,226.7 370.9,238 374.1,235.4 328.4,224.5" fill="#be400b"/>
<polygon points="323,227.5 369.6,239 372.9,236.4 326.9,225.3" fill="#c2490e"/>
<polygon points="321.5,228.4 368.4,240 371.6,237.4 325.4,226.2" fill="#c75714"/>
<polygon points="320,229.2 367.1,241 370.4,238.4 323.9,227" fill="#cc6f1e"/>
<polygon points="318.5,230.1 365.9,242 369.1,239.4 322.4,227.9" fill="#cd8c2a"/>
<polygon points="317,230.9 364.7,243 367.9,240.4 320.9,228.7" fill="#c3a32f"/>
<polygon points="315.5,231.8 363.4,244 366.6,241.4 319.4,229.6" fill="#afb92c"/>
<polygon points="314,232.6 362.2,245 365.4,242.4 317.9,230.4" fill="#8ec92d"/>
<polygon points="312.5,233.4 360.9,246 364.2,243.4 316.4,231.2" fill="#4acb5c"/>
<polygon points="311,234.3 359.7,247 362.9,244.4 314.9,232.1" fill="#15ada5"/>
<polygon points="309.5,235.1 358.4,248 361.7,245.4 313.4,232.9" fill="#3081cc"/>
<polygon points="308,236 357.2,249 360.4,246.4 311.9,233.8" fill="#386dca"/>
<polygon points="306.5,236.8 355.9,250 359.2,247.4 310.4,234.6" fill="#3967c7"/>
<polygon points="305,237.7 354.7,251 357.9,248.4 308.9,235.5" fill="#386bc9"/>
<polygon points="304.4,238 354.2,251.4 356.7,249.4 307.4,236.3" fill="#3773cc"/>
<polygon points="304.4,238 354.2,251.4 355.4,250.4 305.9,237.2" fill="#3579ce"/>
<path d="M304.4 238C304.4 251.5 315.5 265.4 329.3 269.1C343.1 272.8 354.2 264.9 354.2 251.4Z" fill="url(#g11)"/>
<polygon points="356.4,208.9 391.4,218.3 396.4,214.8 360,207.5" fill="#3586da"/>
<polygon points="357.1,208.7 391.9,218 394.5,216.2 360,207.4" fill="#3586da"/>
<polygon points="355.9,209 390.9,218.4 393.6,216.9 359.2,207.8" fill="#3586da"/>
<polygon points="354.6,209 389.9,218.6 392.6,217.6 358,208.3" fill="#3586da"/>
<polygon points="353.1,208.7 388.7,218.4 391.6,218.2 356.7,208.8" fill="#3586da"/>
<polygon points="351.7,208.4 387.6,218.3 390.5,218.5 355.4,209" fill="#3586da"/>
<polygon points="350.4,208.2 386.5,218.1 389.4,218.5 354,208.9" fill="#259ecd"/>
<polygon points="351.3,208.4 387.2,218.2 388.3,218.4 352.7,208.6" fill="#16c1a3"/>
<polygon points="319,227.5 361.2,240.5 363.2,237.7 321.5,225" fill="#19c59c"/>
<polygon points="318.1,228.4 360.4,241.5 362.5,238.8 320.6,226" fill="#16baac"/>
<polygon points="317,229.3 359.6,242.5 361.7,239.8 319.7,226.9" fill="#1aaebc"/>
<polygon points="316,230.2 358.8,243.4 360.9,240.9 318.7,227.9" fill="#21a3c8"/>
<polygon points="314.9,230.9 357.9,244.3 360.1,241.9 317.7,228.8" fill="#2998d1"/>
<polygon points="313.8,231.7 357,245.1 359.3,242.8 316.7,229.6" fill="#308fd7"/>
<polygon points="312.6,232.4 356.1,245.9 358.5,243.7 315.6,230.5" fill="#3489d9"/>
<polygon points="311.4,233 355.1,246.7 357.6,244.6 314.5,231.2" fill="#3586da"/>
<polygon points="310.2,233.7 354.1,247.5 356.7,245.4 313.4,231.9" fill="#3586da"/>
<polygon points="309,234.3 353.2,248.2 355.7,246.2 312.2,232.6" fill="#3586da"/>
<polygon points="307.8,235 353.2,248.2 354.8,247 311,233.2" fill="#3586da"/>
<polygon points="306.7,235.6 353.2,248.2 353.8,247.7 309.9,233.9" fill="#3586da"/>
<polygon points="306.4,235.8 353.2,248.2 353.2,248.2 308.7,234.5" fill="#3586da"/>
<polygon points="306.4,233.6 353.2,246 396.4,211.1 360,203.8" fill="#cbc7ba" fill-opacity="0.55"/>
<polygon points="347.7,207.8 384.3,217.9 387.2,218.2 351.3,208.4" fill="#39d475"/>
<polygon points="346.3,207.8 383.2,218.1 386.2,218.1 350,208.1" fill="#77db41"/>
<polygon points="345,208 382.1,218.4 385.1,217.9 348.6,207.8" fill="#a2d22d"/>
<polygon points="343.6,208.3 381,218.8 384,218 347.3,207.8" fill="#bdc12f"/>
<polygon points="342.3,208.6 380,219.3 382.9,218.2 345.9,207.9" fill="#ceb032"/>
<polygon points="341,208.9 379,219.7 381.8,218.5 344.6,208.1" fill="#d6a030"/>
<polygon points="339.8,209.2 377.9,220.1 380.8,218.9 343.3,208.4" fill="#da922c"/>
<polygon points="338.4,209.5 376.9,220.6 379.7,219.4 342,208.7" fill="#da8225"/>
<polygon points="337.1,209.9 375.8,221.1 378.7,219.8 340.7,209" fill="#d86f1e"/>
<polygon points="335.8,210.5 374.8,221.7 377.6,220.2 339.4,209.3" fill="#d45e16"/>
<polygon points="334.6,211.1 373.8,222.5 376.6,220.7 338.1,209.6" fill="#cf5111"/>
<polygon points="333.5,211.9 372.8,223.4 375.5,221.3 336.8,210.1" fill="#cc490e"/>
<polygon points="332.4,212.7 372,224.3 374.5,221.9 335.5,210.6" fill="#cb470d"/>
<polygon points="331.4,213.6 371.2,225.3 373.6,222.7 334.4,211.3" fill="#cd4b0f"/>
<polygon points="330.4,214.5 370.4,226.3 372.7,223.5 333.3,212" fill="#d15513"/>
<polygon points="329.5,215.4 369.7,227.3 371.9,224.5 332.2,212.8" fill="#d56318"/>
<polygon points="328.6,216.3 368.9,228.3 371,225.4 331.2,213.7" fill="#d97420"/>
<polygon points="327.7,217.3 368.2,229.4 370.3,226.5 330.2,214.7" fill="#da8727"/>
<polygon points="326.8,218.3 367.5,230.5 369.5,227.5 329.3,215.6" fill="#d8992e"/>
<polygon points="325.9,219.4 366.7,231.7 368.7,228.6 328.4,216.6" fill="#d2a831"/>
<polygon points="325,220.5 366.1,232.8 368,229.7 327.4,217.6" fill="#c7b831"/>
<polygon points="324.2,221.5 365.4,234 367.3,230.8 326.5,218.6" fill="#b6c72e"/>
<polygon points="323.5,222.6 364.8,235.1 366.6,231.9 325.7,219.6" fill="#a0d32e"/>
<polygon points="322.7,223.6 364.1,236.2 365.9,233.1 324.9,220.7" fill="#86da38"/>
<polygon points="321.8,224.6 363.5,237.3 365.3,234.2 324,221.8" fill="#66db4e"/>
<polygon points="321,225.6 362.8,238.4 364.6,235.4 323.2,222.9" fill="#43d66b"/>
<polygon points="321.5,225 363.2,237.7 363.9,236.6 322.4,223.9" fill="#27ce87"/>
<path d="M483.5 210.4C483.5 220.7 492 231.1 502.4 233.7C512.9 236.3 521.4 230.1 521.4 219.8Z" fill="#214b7f"/>
<path d="M481.5 211.5C481.5 221.9 490.1 232.5 500.6 235.1C511.2 237.7 519.7 231.5 519.7 221.1Z" fill="#1d517e"/>
<path d="M479.5 212.7C479.5 223.2 488.2 233.8 498.8 236.5C509.5 239.2 518.1 232.8 518.1 222.4Z" fill="#0e666c"/>
<path d="M477.6 213.8C477.6 224.4 486.3 235.2 497 237.9C507.7 240.6 516.4 234.2 516.4 223.7Z" fill="#17784e"/>
<path d="M475.6 215C475.6 225.6 484.3 236.5 495.2 239.3C506 242 514.8 235.6 514.8 224.9Z" fill="#3d7f2c"/>
<path d="M473.6 216.1C473.6 226.9 482.4 237.9 493.4 240.7C504.3 243.5 513.1 237 513.1 226.2Z" fill="#5d7b1a"/>
<path d="M471.6 217.3C471.6 228.1 480.5 239.2 491.5 242.1C502.5 244.9 511.5 238.4 511.5 227.5Z" fill="#746a1c"/>
<path d="M469.6 218.4C469.6 229.4 478.6 240.6 489.7 243.5C500.8 246.3 509.8 239.8 509.8 228.8Z" fill="#7f5118"/>
<path d="M467.6 219.5C467.6 230.6 476.7 241.9 487.9 244.8C499.1 247.8 508.1 241.1 508.1 230.1Z" fill="#7b360d"/>
<path d="M465.7 220.7C465.7 231.8 474.8 243.3 486.1 246.2C497.3 249.2 506.5 242.5 506.5 231.4Z" fill="#762907"/>
<path d="M463.7 221.8C463.7 233.1 472.9 244.6 484.3 247.6C495.6 250.6 504.8 243.9 504.8 232.7Z" fill="#732406"/>
<path d="M461.7 223C461.7 234.3 471 246 482.4 249C493.9 252.1 503.2 245.3 503.2 233.9Z" fill="#722305"/>
<path d="M459.7 224.1C459.7 235.6 469.1 247.3 480.6 250.4C492.2 253.5 501.5 246.7 501.5 235.2Z" fill="#722305"/>
<path d="M457.7 225.3C457.7 236.8 467.2 248.7 478.8 251.8C490.4 254.9 499.9 248.1 499.9 236.5Z" fill="#722305"/>
<path d="M455.8 226.4C455.8 238.1 465.3 250.1 477 253.2C488.7 256.3 498.2 249.5 498.2 237.8Z" fill="#732506"/>
<path d="M453.8 227.5C453.8 239.3 463.3 251.4 475.2 254.6C487 257.8 496.5 250.8 496.5 239.1Z" fill="#752707"/>
<path d="M451.8 228.7C451.8 240.5 461.4 252.8 473.3 256C485.2 259.2 494.9 252.2 494.9 240.4Z" fill="#782e0a"/>
<path d="M449.8 229.8C449.8 241.8 459.5 254.1 471.5 257.4C483.5 260.6 493.2 253.6 493.2 241.7Z" fill="#7c3a0f"/>
<path d="M447.8 231C447.8 243 457.6 255.5 469.7 258.8C481.8 262.1 491.6 255 491.6 242.9Z" fill="#7f4e17"/>
<path d="M445.8 232.1C445.8 244.3 455.7 256.8 467.9 260.2C480 263.5 489.9 256.4 489.9 244.2Z" fill="#7c601d"/>
<path d="M443.9 233.3C443.9 245.5 453.8 258.2 466.1 261.6C478.3 264.9 488.3 257.8 488.3 245.5Z" fill="#716e1c"/>
<path d="M441.9 234.4C441.9 246.7 451.9 259.5 464.2 263C476.6 266.4 486.6 259.1 486.6 246.8Z" fill="#62781a"/>
<path d="M439.9 235.5C439.9 248 450 260.9 462.4 264.3C474.9 267.8 484.9 260.5 484.9 248.1Z" fill="#4d7f21"/>
<path d="M437.9 236.7C437.9 249.2 448.1 262.2 460.6 265.7C473.1 269.2 483.3 261.9 483.3 249.4Z" fill="#257c40"/>
<path d="M435.9 237.8C435.9 250.5 446.2 263.6 458.8 267.1C471.4 270.7 481.6 263.3 481.6 250.7Z" fill="#0c6d63"/>
<path d="M433.9 239C433.9 251.7 444.2 264.9 457 268.5C469.7 272.1 480 264.7 480 251.9Z" fill="#1a567b"/>
<path d="M432 240.1C432 253 442.3 266.3 455.1 269.9C467.9 273.5 478.3 266.1 478.3 253.2Z" fill="#21497f"/>
<path d="M430 241.3C430 254.2 440.4 267.6 453.3 271.3C466.2 275 476.7 267.4 476.7 254.5Z" fill="#21497f"/>
<path d="M428 242.4C428 255.4 438.5 269 451.5 272.7C464.5 276.4 475 268.8 475 255.8Z" fill="#214b7f"/>
<polygon points="428,242 483.5,210 521.4,219.4 521.2,221.8 520.8,224.2 520,226.3 518.9,228.3 517.5,230 515.9,231.5 468.1,270.4 465.8,271.8 463.2,272.8 460.5,273.4 457.6,273.6 454.6,273.4 451.5,272.7 448.4,271.6 445.4,270.1 442.5,268.3 439.8,266.1 437.2,263.7 434.9,260.9 432.9,258 431.1,254.9 429.8,251.7 428.8,248.4 428.2,245.2" fill="url(#g14)"/>
<polygon points="479.5,212.3 518,222 521.4,219.4 483.5,210" fill="#347ace"/>
<polygon points="477.9,213.2 516.8,223 520.1,220.4 482,210.9" fill="#2d87cb"/>
<polygon points="476.4,214.1 515.5,224 518.8,221.4 480.4,211.8" fill="#18a4b2"/>
<polygon points="474.9,215 514.2,225 517.5,222.4 478.9,212.7" fill="#1abd8d"/>
<polygon points="473.3,215.9 512.9,226 516.2,223.4 477.3,213.6" fill="#43ca62"/>
<polygon points="471.8,216.8 511.6,227 515,224.4 475.8,214.4" fill="#74ce3b"/>
<polygon points="470.2,217.6 510.3,228 513.7,225.4 474.2,215.3" fill="#98c62b"/>
<polygon points="468.7,218.5 509,229 512.4,226.4 472.7,216.2" fill="#b7b22d"/>
<polygon points="467.2,219.4 507.7,230 511.1,227.4 471.2,217.1" fill="#ca942d"/>
<polygon points="465.6,220.3 506.4,231 509.8,228.4 469.6,218" fill="#cd701f"/>
<polygon points="464.1,221.2 505.2,232 508.5,229.4 468.1,218.9" fill="#c55212"/>
<polygon points="462.5,222.1 503.9,233 507.2,230.4 466.5,219.8" fill="#bf430c"/>
<polygon points="461,223 502.6,234 505.9,231.4 465,220.7" fill="#bb3c0a"/>
<polygon points="459.4,223.9 501.3,235 504.6,232.4 463.5,221.6" fill="#b93909"/>
<polygon points="457.9,224.8 500,236 503.4,233.4 461.9,222.4" fill="#b93908"/>
<polygon points="456.4,225.6 498.7,237 502.1,234.4 460.4,223.3" fill="#b93909"/>
<polygon points="454.8,226.5 497.4,238 500.8,235.4 458.8,224.2" fill="#b93909"/>
<polygon points="453.3,227.4 496.1,239 499.5,236.4 457.3,225.1" fill="#ba3a09"/>
<polygon points="451.7,228.3 494.8,240 498.2,237.4 455.8,226" fill="#bb3d0a"/>
<polygon points="450.2,229.2 493.6,241 496.9,238.4 454.2,226.9" fill="#be410b"/>
<polygon points="448.7,230.1 492.3,242 495.6,239.4 452.7,227.8" fill="#c24a0f"/>
<polygon points="447.1,231 491,243 494.3,240.4 451.1,228.7" fill="#c75815"/>
<polygon points="445.6,231.9 489.7,244 493,241.4 449.6,229.6" fill="#cc6d1e"/>
<polygon points="444,232.8 488.4,245 491.8,242.4 448,230.4" fill="#cd8728"/>
<polygon points="442.5,233.6 487.1,246 490.5,243.4 446.5,231.3" fill="#c79d2e"/>
<polygon points="440.9,234.5 485.8,247 489.2,244.4 445,232.2" fill="#baaf2e"/>
<polygon points="439.4,235.4 484.5,248 487.9,245.4 443.4,233.1" fill="#a9bd2b"/>
<polygon points="437.9,236.3 483.2,249 486.6,246.4 441.9,234" fill="#94c82b"/>
<polygon points="436.3,237.2 482,250 485.3,247.4 440.3,234.9" fill="#75ce3a"/>
<polygon points="434.8,238.1 480.7,251 484,248.4 438.8,235.8" fill="#40ca64"/>
<polygon points="433.2,239 479.4,252 482.7,249.4 437.2,236.7" fill="#17b993"/>
<polygon points="431.7,239.9 478.1,253 481.4,250.4 435.7,237.6" fill="#1c9eb8"/>
<polygon points="430.2,240.8 476.8,254 480.2,251.4 434.2,238.4" fill="#2f83cc"/>
<polygon points="428.6,241.6 475.5,255 478.9,252.4 432.6,239.3" fill="#3676ce"/>
<polygon points="428,242 475,255.4 477.6,253.4 431.1,240.2" fill="#3676ce"/>
<polygon points="428,242 475,255.4 476.3,254.4 429.5,241.1" fill="#3579ce"/>
<path d="M428 242C428 255.3 438.5 269 451.5 272.7C464.5 276.4 475 268.7 475 255.4Z" fill="url(#g13)"/>
<polygon points="476.8,197.1 514.3,206.6 521.4,202.4 480.5,196" fill="#3389d9"/>
<polygon points="478.6,196.8 515.9,206 518.8,204.2 480.5,196" fill="#338ad9"/>
<polygon points="477.4,197.1 514.8,206.4 517.7,204.9 480.5,196" fill="#338ad9"/>
<polygon points="476.1,197.2 513.6,206.7 516.7,205.6 479.4,196.5" fill="#308fd7"/>
<polygon points="474.7,197.2 512.4,206.8 515.5,206.2 478.2,196.9" fill="#279bcf"/>
<polygon points="473.3,197.1 511.2,206.9 514.4,206.5 476.9,197.1" fill="#1bacbf"/>
<polygon points="472,196.8 510,206.7 513.2,206.8 475.6,197.2" fill="#15bfa6"/>
<polygon points="470.7,196.6 508.8,206.6 512,206.9 474.3,197.2" fill="#24cd8b"/>
<polygon points="471.6,196.8 509.6,206.7 510.8,206.8 472.9,197" fill="#4fd861"/>
<polygon points="442.7,212.7 483.7,225.9 485.9,222.9 445.2,210.1" fill="#55d95c"/>
<polygon points="441.8,213.7 482.9,226.9 485.1,224 444.3,211.1" fill="#3cd472"/>
<polygon points="440.9,214.6 482,228 484.3,225.1 443.4,212" fill="#27ce87"/>
<polygon points="440,215.5 481.2,229 483.4,226.2 442.5,213" fill="#1ac798"/>
<polygon points="439,216.4 480.3,230 482.6,227.3 441.5,214" fill="#15bea7"/>
<polygon points="438,217.3 479.4,231 481.7,228.3 440.6,214.9" fill="#17b3b6"/>
<polygon points="437,218 478.5,231.9 480.9,229.4 439.6,215.8" fill="#1da9c2"/>
<polygon points="435.9,218.8 477.5,232.7 480,230.4 438.6,216.7" fill="#249fcc"/>
<polygon points="434.7,219.5 476.5,233.6 479.1,231.3 437.6,217.6" fill="#2b97d2"/>
<polygon points="433.6,220.1 475.4,234.4 478.1,232.2 436.6,218.3" fill="#2f91d7"/>
<polygon points="432.4,220.8 474.4,235.1 477.1,233.1 435.5,219.1" fill="#318ed8"/>
<polygon points="431.2,221.4 474.2,235.3 476.1,233.9 434.3,219.7" fill="#328cd8"/>
<polygon points="430.1,222.1 474.2,235.4 475.1,234.6 433.2,220.4" fill="#338ad9"/>
<polygon points="428.9,222.7 474.2,235.4 474.2,235.3 432,221" fill="#3389d9"/>
<polygon points="428,223.2 474.2,235.4 474.2,235.3 430.9,221.6" fill="#3586da"/>
<polygon points="428,218.6 474.2,230.8 521.4,198.8 480.5,192.4" fill="#cbc7ba" fill-opacity="0.55"/>
<polygon points="468.1,196.3 506.5,206.6 509.6,206.7 471.6,196.8" fill="#80da3c"/>
<polygon points="466.7,196.2 505.3,206.7 508.5,206.6 470.3,196.5" fill="#a0d32e"/>
<polygon points="465.4,196.2 504.1,206.8 507.3,206.6 469,196.4" fill="#bac42e"/>
<polygon points="464.1,196.3 502.9,207 506.1,206.6 467.7,196.3" fill="#cdb132"/>
<polygon points="462.8,196.4 501.7,207.2 504.9,206.7 466.4,196.2" fill="#d79e2f"/>
<polygon points="461.5,196.5 500.5,207.5 503.7,206.8 465,196.2" fill="#da8a29"/>
<polygon points="460.2,196.8 499.3,207.9 502.5,207.1 463.7,196.3" fill="#d97520"/>
<polygon points="458.9,197.1 498.2,208.4 501.4,207.3 462.4,196.4" fill="#d46017"/>
<polygon points="457.6,197.7 497.1,209.1 500.2,207.6 461.1,196.6" fill="#cf5011"/>
<polygon points="456.5,198.5 496,210 499,208 459.8,196.8" fill="#cb460d"/>
<polygon points="455.4,199.3 495.1,210.9 497.9,208.5 458.6,197.3" fill="#c9440c"/>
<polygon points="454.4,200.1 494.2,211.9 496.9,209.2 457.4,197.8" fill="#cb480d"/>
<polygon points="453.5,201 493.3,212.8 495.9,210.1 456.3,198.6" fill="#cf5211"/>
<polygon points="452.6,201.9 492.5,213.8 494.9,211 455.3,199.4" fill="#d46017"/>
<polygon points="451.7,202.8 491.7,214.9 494,212 454.3,200.3" fill="#d8711e"/>
<polygon points="450.7,203.7 490.9,215.9 493.2,213.1 453.3,201.2" fill="#da8326"/>
<polygon points="449.8,204.8 490,217.1 492.3,214.1 452.3,202.1" fill="#da932d"/>
<polygon points="448.9,205.8 489.2,218.2 491.5,215.1 451.4,203" fill="#d6a231"/>
<polygon points="448.1,206.8 488.5,219.3 490.6,216.2 450.5,204" fill="#cdb132"/>
<polygon points="447.2,207.8 487.7,220.4 489.8,217.3 449.6,205" fill="#bfc02f"/>
<polygon points="446.4,208.8 487,221.5 489,218.5 448.7,206" fill="#aecc2d"/>
<polygon points="445.5,209.8 486.2,222.6 488.3,219.6 447.9,207.1" fill="#9ad52f"/>
<polygon points="444.6,210.7 485.4,223.6 487.5,220.7 447,208.1" fill="#86da38"/>
<polygon points="445.2,210.1 485.9,222.9 486.7,221.8 446.1,209.1" fill="#6edb48"/>
<path d="M617 75.4C617 84.6 625.9 93.8 636.8 96C647.7 98.2 656.6 92.6 656.6 83.4Z" fill="#515314"/>
<path d="M615.1 76.5C615.1 85.8 624 95.1 635 97.4C646 99.7 654.9 94.1 654.9 84.8Z" fill="#515414"/>
<path d="M613.1 77.6C613.1 87 622.1 96.5 633.2 98.9C644.3 101.2 653.2 95.6 653.2 86.3Z" fill="#515514"/>
<path d="M611.2 78.8C611.2 88.2 620.2 97.8 631.4 100.3C642.5 102.8 651.6 97.1 651.6 87.8Z" fill="#515614"/>
<path d="M609.3 79.9C609.3 89.4 618.4 99.1 629.6 101.7C640.8 104.3 649.9 98.7 649.9 89.2Z" fill="#515814"/>
<path d="M607.4 81C607.4 90.6 616.5 100.5 627.8 103.1C639.1 105.8 648.2 100.2 648.2 90.7Z" fill="#515914"/>
<path d="M605.4 82.1C605.4 91.8 614.6 101.8 626 104.6C637.3 107.3 646.5 101.7 646.5 92.1Z" fill="#515a14"/>
<path d="M603.5 83.2C603.5 93 612.8 103.1 624.2 106C635.6 108.8 644.9 103.3 644.9 93.6Z" fill="#515b15"/>
<path d="M601.6 84.4C601.6 94.2 610.9 104.5 622.4 107.4C633.9 110.3 643.2 104.8 643.2 95Z" fill="#515d15"/>
<path d="M599.6 85.5C599.6 95.4 609 105.8 620.6 108.8C632.1 111.9 641.5 106.3 641.5 96.5Z" fill="#515e15"/>
<path d="M597.7 86.6C597.7 96.6 607.1 107.1 618.8 110.3C630.4 113.4 639.8 107.8 639.8 97.9Z" fill="#515f15"/>
<path d="M595.8 87.7C595.8 97.8 605.3 108.5 617 111.7C628.7 114.9 638.1 109.4 638.1 99.4Z" fill="#516015"/>
<path d="M593.9 88.9C593.9 98.9 603.4 109.8 615.2 113.1C626.9 116.4 636.5 110.9 636.5 100.8Z" fill="#516215"/>
<path d="M591.9 90C591.9 100.1 601.5 111.1 613.4 114.5C625.2 117.9 634.8 112.4 634.8 102.2Z" fill="#506316"/>
<path d="M590 91.1C590 101.3 599.6 112.5 611.5 116C623.5 119.4 633.1 113.9 633.1 103.7Z" fill="#506416"/>
<path d="M588.1 92.2C588.1 102.5 597.8 113.8 609.7 117.4C621.7 120.9 631.4 115.5 631.4 105.2Z" fill="#506516"/>
<path d="M586.1 93.3C586.1 103.7 595.9 115.1 607.9 118.8C620 122.5 629.7 117 629.7 106.6Z" fill="#506616"/>
<path d="M584.2 94.5C584.2 104.9 594 116.5 606.1 120.2C618.2 124 628.1 118.5 628.1 108Z" fill="#506816"/>
<path d="M582.3 95.6C582.3 106.1 592.2 117.8 604.3 121.7C616.5 125.5 626.4 120.1 626.4 109.5Z" fill="#4f6917"/>
<path d="M580.4 96.7C580.4 107.3 590.3 119.1 602.5 123.1C614.8 127 624.7 121.6 624.7 111Z" fill="#4f6a17"/>
<path d="M578.4 97.8C578.4 108.5 588.4 120.5 600.7 124.5C613 128.5 623 123.1 623 112.4Z" fill="#4f6b18"/>
<path d="M576.5 99C576.5 109.7 586.5 121.8 598.9 125.9C611.3 130 621.4 124.6 621.4 113.8Z" fill="#4e6c18"/>
<path d="M574.6 100.1C574.6 110.9 584.7 123.1 597.1 127.3C609.6 131.6 619.7 126.2 619.7 115.3Z" fill="#4e6d19"/>
<path d="M572.6 101.2C572.6 112.1 582.8 124.5 595.3 128.8C607.8 133.1 618 127.7 618 116.8Z" fill="#4e6e19"/>
<path d="M570.7 102.3C570.7 113.3 580.9 125.8 593.5 130.2C606.1 134.6 616.3 129.2 616.3 118.2Z" fill="#4d701a"/>
<path d="M568.8 103.4C568.8 114.5 579 127.1 591.7 131.6C604.4 136.1 614.6 130.7 614.6 119.7Z" fill="#4d711a"/>
<path d="M566.9 104.6C566.9 115.7 577.2 128.5 589.9 133C602.6 137.6 613 132.3 613 121.1Z" fill="#4c721b"/>
<path d="M564.9 105.7C564.9 116.9 575.3 129.8 588.1 134.5C600.9 139.1 611.3 133.8 611.3 122.5Z" fill="#4c731b"/>
<path d="M563 106.8C563 118.1 573.4 131.2 586.3 135.9C599.2 140.6 609.6 135.3 609.6 124Z" fill="#4b741c"/>
<polygon points="563,106.4 617,75 656.6,83 656.4,85.2 655.9,87.3 655.1,89.2 654,91 652.5,92.5 604.8,134.6 602.8,135.9 600.5,136.8 598,137.4 595.2,137.6 592.3,137.4 589.3,136.8 586.3,135.9 583.3,134.6 580.3,133 577.4,131 574.6,128.8 572.1,126.3 569.8,123.7 567.8,120.9 566.1,118 564.8,115 563.8,112.1 563.2,109.2" fill="url(#g16)"/>
<polygon points="563,106.4 609.6,123.6 656.6,83 617,75" fill="#9dc42b"/>
<path d="M563 106.4C563 117.9 573.4 131.2 586.3 135.9C599.2 140.6 609.6 135.1 609.6 123.6Z" fill="none"/>
<polygon points="613.8,76.9 620.9,78.4 624,76.4 617,75" fill="#c63a08"/>
<polygon points="618.3,77.8 625.4,79.3 628.4,77.3 621.4,75.9" fill="#b52804"/>
<polygon points="622.7,78.8 629.8,80.3 632.8,78.2 625.8,76.8" fill="#9d1801"/>
<polygon points="627.1,79.7 634.3,81.2 637.2,79.1 630.2,77.7" fill="#8a0e01"/>
<polygon points="631.6,80.7 638.7,82.2 641.6,80 634.6,78.6" fill="#820a01"/>
<polygon points="636,81.6 643.2,83.1 646,80.9 639,79.4" fill="#8a0e01"/>
<polygon points="640.5,82.6 647.6,84.1 650.4,81.8 643.4,80.3" fill="#9d1801"/>
<polygon points="644.9,83.5 652,85 654.8,82.6 647.8,81.2" fill="#b52804"/>
<polygon points="649.4,84.4 653.8,85.4 656.6,83 652.2,82.1" fill="#c63a08"/>
<polygon points="612.6,77.6 619.7,79.1 622.8,77.2 615.8,75.7" fill="#d35111"/>
<polygon points="617,78.5 624.2,80.1 627.3,78.1 620.2,76.6" fill="#c93e09"/>
<polygon points="621.5,79.5 628.7,81.1 631.7,79 624.6,77.5" fill="#ba2c05"/>
<polygon points="626,80.5 633.1,82 636.1,79.9 629,78.5" fill="#ac2103"/>
<polygon points="630.4,81.5 637.6,83 640.5,80.8 633.4,79.4" fill="#a71d02"/>
<polygon points="634.9,82.4 642,84 644.9,81.7 637.9,80.3" fill="#ac2103"/>
<polygon points="639.4,83.4 646.5,85 649.3,82.6 642.3,81.2" fill="#ba2c05"/>
<polygon points="643.8,84.4 651,85.9 653.8,83.6 646.7,82.1" fill="#c93e09"/>
<polygon points="648.3,85.3 652.8,86.3 655.5,83.9 651.1,83" fill="#d35111"/>
<polygon points="611.4,78.3 618.5,79.9 621.6,77.9 614.5,76.4" fill="#de7b22"/>
<polygon points="615.8,79.3 623,80.9 626.1,78.9 619,77.4" fill="#db681a"/>
<polygon points="620.3,80.3 627.5,81.9 630.5,79.8 623.4,78.3" fill="#d55512"/>
<polygon points="624.8,81.3 632,82.9 634.9,80.7 627.9,79.2" fill="#cf470d"/>
<polygon points="629.3,82.3 636.4,83.9 639.4,81.7 632.3,80.2" fill="#cd430b"/>
<polygon points="633.8,83.3 640.9,84.9 643.8,82.6 636.7,81.1" fill="#cf470d"/>
<polygon points="638.2,84.3 645.4,85.9 648.3,83.5 641.2,82" fill="#d55512"/>
<polygon points="642.7,85.3 649.9,86.8 652.7,84.5 645.6,83" fill="#db681a"/>
<polygon points="647.2,86.2 651.7,87.2 654.5,84.8 650,83.9" fill="#de7b22"/>
<polygon points="610.1,79 617.3,80.6 620.4,78.7 613.3,77.1" fill="#d9a932"/>
<polygon points="614.6,80 621.8,81.6 624.9,79.6 617.8,78.1" fill="#dc9f30"/>
<polygon points="619.1,81 626.3,82.7 629.3,80.6 622.2,79.1" fill="#df952d"/>
<polygon points="623.6,82.1 630.8,83.7 633.8,81.6 626.7,80" fill="#df8c29"/>
<polygon points="628.1,83.1 635.3,84.7 638.3,82.5 631.1,81" fill="#df8928"/>
<polygon points="632.6,84.1 639.8,85.7 642.7,83.5 635.6,81.9" fill="#df8c29"/>
<polygon points="637.1,85.1 644.3,86.7 647.2,84.4 640,82.9" fill="#df952d"/>
<polygon points="641.6,86.1 648.8,87.8 651.6,85.4 644.5,83.9" fill="#dc9f30"/>
<polygon points="646.1,87.1 650.6,88.2 653.4,85.8 648.9,84.8" fill="#d9a932"/>
<polygon points="608.9,79.7 616.1,81.4 619.2,79.4 612.1,77.9" fill="#b6cf2e"/>
<polygon points="613.4,80.8 620.6,82.4 623.7,80.4 616.6,78.8" fill="#bacc2f"/>
<polygon points="617.9,81.8 625.2,83.5 628.2,81.4 621,79.8" fill="#bec92f"/>
<polygon points="622.5,82.8 629.7,84.5 632.7,82.4 625.5,80.8" fill="#c1c730"/>
<polygon points="627,83.9 634.2,85.5 637.1,83.4 630,81.8" fill="#c2c630"/>
<polygon points="631.5,84.9 638.7,86.6 641.6,84.3 634.4,82.8" fill="#c1c730"/>
<polygon points="636,86 643.2,87.6 646.1,85.3 638.9,83.7" fill="#bec92f"/>
<polygon points="640.5,87 647.7,88.7 650.5,86.3 643.4,84.7" fill="#bacc2f"/>
<polygon points="645,88 649.6,89.1 652.3,86.7 647.9,85.7" fill="#b6cf2e"/>
<polygon points="607.7,80.4 614.9,82.1 618,80.2 610.9,78.6" fill="#7de040"/>
<polygon points="612.2,81.5 619.5,83.2 622.5,81.2 615.4,79.6" fill="#7be042"/>
<polygon points="616.7,82.6 624,84.3 627,82.2 619.8,80.6" fill="#78e044"/>
<polygon points="621.3,83.6 628.5,85.3 631.5,83.2 624.3,81.6" fill="#76e046"/>
<polygon points="625.8,84.7 633.1,86.4 636,84.2 628.8,82.6" fill="#75e046"/>
<polygon points="630.3,85.8 637.6,87.5 640.5,85.2 633.3,83.6" fill="#76e046"/>
<polygon points="634.9,86.8 642.1,88.5 645,86.2 637.8,84.6" fill="#78e044"/>
<polygon points="639.4,87.9 646.7,89.6 649.5,87.2 642.3,85.6" fill="#7be042"/>
<polygon points="643.9,88.9 648.5,90 651.3,87.6 646.8,86.6" fill="#7de040"/>
<polygon points="606.4,81.1 613.7,82.9 616.8,80.9 609.6,79.3" fill="#32d680"/>
<polygon points="611,82.2 618.3,84 621.4,82 614.1,80.3" fill="#28d38a"/>
<polygon points="615.5,83.3 622.8,85.1 625.9,83 618.6,81.3" fill="#20cf94"/>
<polygon points="620.1,84.4 627.4,86.1 630.4,84 623.2,82.4" fill="#1bcc9b"/>
<polygon points="624.7,85.5 631.9,87.2 634.9,85 627.7,83.4" fill="#1acb9d"/>
<polygon points="629.2,86.6 636.5,88.3 639.4,86.1 632.2,84.4" fill="#1bcc9b"/>
<polygon points="633.8,87.7 641,89.4 643.9,87.1 636.7,85.5" fill="#20cf94"/>
<polygon points="638.3,88.8 645.6,90.5 648.4,88.1 641.2,86.5" fill="#28d38a"/>
<polygon points="642.9,89.8 647.4,90.9 650.2,88.5 645.7,87.5" fill="#32d680"/>
<polygon points="605.2,81.9 612.5,83.6 615.6,81.7 608.4,80" fill="#17bdb3"/>
<polygon points="609.8,83 617.1,84.7 620.2,82.7 612.9,81" fill="#1bb2c1"/>
<polygon points="614.4,84.1 621.7,85.9 624.7,83.8 617.5,82.1" fill="#23a5cf"/>
<polygon points="618.9,85.2 626.2,87 629.2,84.8 622,83.2" fill="#2b9bd7"/>
<polygon points="623.5,86.3 630.8,88.1 633.7,85.9 626.5,84.2" fill="#2e97da"/>
<polygon points="628.1,87.4 635.4,89.2 638.3,86.9 631,85.3" fill="#2b9bd7"/>
<polygon points="632.6,88.5 639.9,90.3 642.8,88 635.6,86.3" fill="#23a5cf"/>
<polygon points="637.2,89.6 644.5,91.4 647.3,89 640.1,87.4" fill="#1bb2c1"/>
<polygon points="641.8,90.7 646.3,91.9 649.1,89.5 644.6,88.4" fill="#17bdb3"/>
<polygon points="604,82.6 611.3,84.4 614.4,82.4 607.2,80.7" fill="#2c9ad7"/>
<polygon points="608.6,83.7 615.9,85.5 619,83.5 611.7,81.8" fill="#3788df"/>
<polygon points="613.2,84.8 620.5,86.7 623.5,84.6 616.3,82.9" fill="#3d74da"/>
<polygon points="617.8,86 625.1,87.8 628.1,85.7 620.8,83.9" fill="#3e66cf"/>
<polygon points="622.3,87.1 629.7,88.9 632.6,86.7 625.3,85" fill="#3e60ca"/>
<polygon points="626.9,88.2 634.3,90.1 637.2,87.8 629.9,86.1" fill="#3e66cf"/>
<polygon points="631.5,89.4 638.9,91.2 641.7,88.9 634.4,87.2" fill="#3d74da"/>
<polygon points="636.1,90.5 643.4,92.3 646.2,90 639,88.2" fill="#3788df"/>
<polygon points="640.7,91.6 645.3,92.8 648.1,90.4 643.5,89.3" fill="#2c9ad7"/>
<polygon points="602.8,83.3 610.1,85.1 613.2,83.2 606,81.4" fill="#3b7dde"/>
<polygon points="607.4,84.4 614.7,86.3 617.8,84.3 610.5,82.5" fill="#3e67cf"/>
<polygon points="612,85.6 619.3,87.4 622.4,85.4 615.1,83.6" fill="#3c4eb3"/>
<polygon points="616.6,86.8 623.9,88.6 626.9,86.5 619.6,84.7" fill="#393c94"/>
<polygon points="621.2,87.9 628.6,89.8 631.5,87.6 624.2,85.8" fill="#373587"/>
<polygon points="625.8,89.1 633.2,90.9 636,88.7 628.8,86.9" fill="#393c94"/>
<polygon points="630.4,90.2 637.8,92.1 640.6,89.8 633.3,88" fill="#3c4eb3"/>
<polygon points="635,91.4 642.4,93.2 645.2,90.9 637.9,89.1" fill="#3e67cf"/>
<polygon points="639.6,92.5 644.2,93.7 647,91.3 642.4,90.2" fill="#3b7dde"/>
<polygon points="601.5,84 608.9,85.9 612.1,83.9 604.7,82.1" fill="#3e6bd3"/>
<polygon points="606.2,85.2 613.6,87.1 616.6,85.1 609.3,83.3" fill="#3c52b7"/>
<polygon points="610.8,86.4 618.2,88.2 621.2,86.2 613.9,84.4" fill="#38368a"/>
<polygon points="615.4,87.5 622.8,89.4 625.8,87.3 618.5,85.5" fill="#31215c"/>
<polygon points="620,88.7 627.4,90.6 630.4,88.4 623,86.6" fill="#2e1949"/>
<polygon points="624.6,89.9 632,91.8 634.9,89.5 627.6,87.7" fill="#31215c"/>
<polygon points="629.3,91.1 636.7,93 639.5,90.7 632.2,88.9" fill="#38368a"/>
<polygon points="633.9,92.3 641.3,94.2 644.1,91.8 636.8,90" fill="#3c52b7"/>
<polygon points="638.5,93.4 643.1,94.6 645.9,92.2 641.3,91.1" fill="#3e6bd3"/>
<polygon points="600.3,84.7 607.7,86.6 610.9,84.7 603.5,82.8" fill="#3e65ce"/>
<polygon points="604.9,85.9 612.4,87.8 615.4,85.8 608.1,84" fill="#3c4baf"/>
<polygon points="609.6,87.1 617,89 620,87 612.7,85.1" fill="#352f7a"/>
<polygon points="614.2,88.3 621.7,90.2 624.6,88.1 617.3,86.3" fill="#2d1848"/>
<polygon points="618.9,89.5 626.3,91.5 629.2,89.3 621.9,87.4" fill="#2a1034"/>
<polygon points="623.5,90.7 630.9,92.7 633.8,90.4 626.5,88.6" fill="#2d1848"/>
<polygon points="628.2,91.9 635.6,93.9 638.4,91.5 631.1,89.7" fill="#352f7a"/>
<polygon points="632.8,93.1 640.2,95.1 643,92.7 635.7,90.9" fill="#3c4baf"/>
<polygon points="637.4,94.3 642.1,95.5 644.9,93.2 640.3,92" fill="#3e65ce"/>
<polygon points="599.1,85.4 606.5,87.4 609.7,85.4 602.3,83.6" fill="#3e6dd5"/>
<polygon points="603.7,86.6 611.2,88.6 614.3,86.6 606.9,84.7" fill="#3d53ba"/>
<polygon points="608.4,87.9 615.9,89.8 618.9,87.8 611.5,85.9" fill="#38388e"/>
<polygon points="613.1,89.1 620.5,91.1 623.5,88.9 616.1,87.1" fill="#322362"/>
<polygon points="617.7,90.3 625.2,92.3 628.1,90.1 620.7,88.2" fill="#2f1b4f"/>
<polygon points="622.4,91.6 629.8,93.5 632.7,91.3 625.3,89.4" fill="#322362"/>
<polygon points="627,92.8 634.5,94.8 637.3,92.4 629.9,90.6" fill="#38388e"/>
<polygon points="631.7,94 639.1,96 641.9,93.6 634.6,91.7" fill="#3d53ba"/>
<polygon points="636.3,95.2 641,96.5 643.8,94.1 639.2,92.9" fill="#3e6dd5"/>
<polygon points="597.9,86.1 605.3,88.1 608.5,86.2 601,84.3" fill="#3b80df"/>
<polygon points="602.5,87.4 610,89.4 613.1,87.4 605.7,85.5" fill="#3e6ad2"/>
<polygon points="607.2,88.6 614.7,90.6 617.7,88.6 610.3,86.7" fill="#3c52b7"/>
<polygon points="611.9,89.9 619.4,91.9 622.3,89.8 614.9,87.9" fill="#3a3f9b"/>
<polygon points="616.6,91.1 624,93.1 627,90.9 619.6,89" fill="#38398f"/>
<polygon points="621.2,92.4 628.7,94.4 631.6,92.1 624.2,90.2" fill="#3a3f9b"/>
<polygon points="625.9,93.6 633.4,95.6 636.2,93.3 628.8,91.4" fill="#3c52b7"/>
<polygon points="630.6,94.9 638.1,96.9 640.9,94.5 633.5,92.6" fill="#3e6ad2"/>
<polygon points="635.3,96.1 639.9,97.4 642.7,95 638.1,93.8" fill="#3b80df"/>
<polygon points="596.6,86.8 604.1,88.9 607.3,86.9 599.8,85" fill="#299dd5"/>
<polygon points="601.3,88.1 608.8,90.2 611.9,88.1 604.5,86.2" fill="#358bde"/>
<polygon points="606,89.4 613.5,91.4 616.5,89.4 609.1,87.4" fill="#3c78dc"/>
<polygon points="610.7,90.7 618.2,92.7 621.2,90.6 613.8,88.6" fill="#3e6ad2"/>
<polygon points="615.4,91.9 622.9,94 625.8,91.8 618.4,89.8" fill="#3e64cd"/>
<polygon points="620.1,93.2 627.6,95.3 630.5,93 623.1,91.1" fill="#3e6ad2"/>
<polygon points="624.8,94.5 632.3,96.5 635.1,94.2 627.7,92.3" fill="#3c78dc"/>
<polygon points="629.5,95.8 637,97.8 639.8,95.4 632.4,93.5" fill="#358bde"/>
<polygon points="634.2,97 638.9,98.3 641.6,95.9 637,94.7" fill="#299dd5"/>
<polygon points="595.4,87.6 602.9,89.6 606.1,87.7 598.6,85.7" fill="#16bfb0"/>
<polygon points="600.1,88.9 607.6,90.9 610.7,88.9 603.3,86.9" fill="#19b4be"/>
<polygon points="604.8,90.2 612.4,92.2 615.4,90.2 607.9,88.2" fill="#21a8cc"/>
<polygon points="609.5,91.5 617.1,93.5 620.1,91.4 612.6,89.4" fill="#299ed4"/>
<polygon points="614.2,92.8 621.8,94.8 624.7,92.6 617.3,90.7" fill="#2c9ad7"/>
<polygon points="619,94 626.5,96.1 629.4,93.9 621.9,91.9" fill="#299ed4"/>
<polygon points="623.7,95.3 631.2,97.4 634,95.1 626.6,93.1" fill="#21a8cc"/>
<polygon points="628.4,96.6 635.9,98.7 638.7,96.3 631.2,94.4" fill="#19b4be"/>
<polygon points="633.1,97.9 637.8,99.2 640.6,96.8 635.9,95.6" fill="#16bfb0"/>
<polygon points="594.2,88.3 601.7,90.4 604.9,88.4 597.4,86.4" fill="#33d77f"/>
<polygon points="598.9,89.6 606.5,91.7 609.5,89.7 602,87.7" fill="#29d489"/>
<polygon points="603.6,90.9 611.2,93 614.2,91 606.7,88.9" fill="#22d092"/>
<polygon points="608.4,92.2 615.9,94.4 618.9,92.2 611.4,90.2" fill="#1ccd9a"/>
<polygon points="613.1,93.6 620.7,95.7 623.6,93.5 616.1,91.5" fill="#1bcc9c"/>
<polygon points="617.8,94.9 625.4,97 628.3,94.7 620.8,92.7" fill="#1ccd9a"/>
<polygon points="622.5,96.2 630.1,98.3 633,96 625.5,94" fill="#22d092"/>
<polygon points="627.3,97.5 634.8,99.6 637.6,97.3 630.1,95.2" fill="#29d489"/>
<polygon points="632,98.8 636.7,100.2 639.5,97.8 634.8,96.5" fill="#33d77f"/>
<polygon points="592.9,89 600.5,91.1 603.7,89.2 596.1,87.1" fill="#7ce041"/>
<polygon points="597.7,90.3 605.3,92.5 608.4,90.5 600.8,88.4" fill="#79e043"/>
<polygon points="602.4,91.7 610,93.8 613.1,91.8 605.5,89.7" fill="#76e045"/>
<polygon points="607.2,93 614.8,95.2 617.8,93 610.2,91" fill="#73e047"/>
<polygon points="611.9,94.4 619.5,96.5 622.5,94.3 614.9,92.3" fill="#73e048"/>
<polygon points="616.7,95.7 624.3,97.9 627.2,95.6 619.6,93.6" fill="#73e047"/>
<polygon points="621.4,97.1 629,99.2 631.9,96.9 624.3,94.8" fill="#76e045"/>
<polygon points="626.2,98.4 633.8,100.5 636.6,98.2 629,96.1" fill="#79e043"/>
<polygon points="630.9,99.7 635.7,101.1 638.4,98.7 633.7,97.4" fill="#7ce041"/>
<polygon points="591.7,89.7 599.3,91.9 602.5,89.9 594.9,87.8" fill="#b2d12e"/>
<polygon points="596.5,91.1 604.1,93.3 607.2,91.2 599.6,89.2" fill="#b6cf2e"/>
<polygon points="601.2,92.4 608.9,94.6 611.9,92.6 604.3,90.5" fill="#bacc2f"/>
<polygon points="606,93.8 613.6,96 616.6,93.9 609.1,91.8" fill="#bcca2f"/>
<polygon points="610.8,95.2 618.4,97.4 621.3,95.2 613.8,93.1" fill="#bdc92f"/>
<polygon points="615.5,96.5 623.2,98.7 626,96.5 618.5,94.4" fill="#bcca2f"/>
<polygon points="620.3,97.9 627.9,100.1 630.8,97.8 623.2,95.7" fill="#bacc2f"/>
<polygon points="625.1,99.3 632.7,101.5 635.5,99.1 627.9,97" fill="#b6cf2e"/>
<polygon points="629.8,100.6 634.6,102 637.4,99.6 632.7,98.3" fill="#b2d12e"/>
<polygon points="590.5,90.4 598.1,92.6 601.3,90.7 593.7,88.6" fill="#d6ae33"/>
<polygon points="595.3,91.8 602.9,94 606,92 598.4,89.9" fill="#dba632"/>
<polygon points="600.1,93.2 607.7,95.4 610.7,93.3 603.2,91.2" fill="#dd9d2f"/>
<polygon points="604.8,94.6 612.5,96.8 615.5,94.7 607.9,92.5" fill="#df962d"/>
<polygon points="609.6,96 617.3,98.2 620.2,96 612.6,93.9" fill="#df932c"/>
<polygon points="614.4,97.4 622.1,99.6 624.9,97.3 617.4,95.2" fill="#df962d"/>
<polygon points="619.2,98.8 626.8,101 629.7,98.7 622.1,96.5" fill="#dd9d2f"/>
<polygon points="624,100.1 631.6,102.4 634.4,100 626.8,97.9" fill="#dba632"/>
<polygon points="628.7,101.5 633.5,102.9 636.3,100.5 631.6,99.2" fill="#d6ae33"/>
<polygon points="589.3,91.1 596.9,93.4 600.1,91.4 592.5,89.3" fill="#df8627"/>
<polygon points="594.1,92.5 601.7,94.8 604.8,92.8 597.2,90.6" fill="#de741f"/>
<polygon points="598.9,94 606.5,96.2 609.6,94.1 602,92" fill="#d96218"/>
<polygon points="603.7,95.4 611.3,97.6 614.3,95.5 606.7,93.3" fill="#d55512"/>
<polygon points="608.5,96.8 616.1,99 619.1,96.9 611.5,94.7" fill="#d35010"/>
<polygon points="613.3,98.2 620.9,100.5 623.8,98.2 616.2,96" fill="#d55512"/>
<polygon points="618.1,99.6 625.7,101.9 628.6,99.6 621,97.4" fill="#d96218"/>
<polygon points="622.9,101 630.5,103.3 633.3,100.9 625.7,98.7" fill="#de741f"/>
<polygon points="627.7,102.4 632.5,103.9 635.2,101.5 630.5,100.1" fill="#df8627"/>
<polygon points="588,91.8 595.7,94.1 598.9,92.2 591.2,90" fill="#d85d15"/>
<polygon points="592.9,93.3 600.6,95.6 603.6,93.6 596,91.4" fill="#cf480d"/>
<polygon points="597.7,94.7 605.4,97 608.4,94.9 600.8,92.7" fill="#c33607"/>
<polygon points="602.5,96.2 610.2,98.5 613.2,96.3 605.5,94.1" fill="#b82b05"/>
<polygon points="607.3,97.6 615,99.9 617.9,97.7 610.3,95.5" fill="#b42704"/>
<polygon points="612.1,99 619.8,101.3 622.7,99.1 615.1,96.9" fill="#b82b05"/>
<polygon points="616.9,100.5 624.6,102.8 627.5,100.4 619.9,98.2" fill="#c33607"/>
<polygon points="621.8,101.9 629.5,104.2 632.3,101.8 624.6,99.6" fill="#cf480d"/>
<polygon points="626.6,103.3 631.4,104.8 634.2,102.4 629.4,101" fill="#d85d15"/>
<polygon points="586.8,92.6 594.5,94.9 597.7,92.9 590,90.7" fill="#cb410b"/>
<polygon points="591.6,94 599.4,96.4 602.5,94.3 594.8,92.1" fill="#bc2f05"/>
<polygon points="596.5,95.5 604.2,97.8 607.2,95.7 599.6,93.5" fill="#a91e02"/>
<polygon points="601.3,96.9 609,99.3 612,97.1 604.4,94.9" fill="#971401"/>
<polygon points="606.1,98.4 613.9,100.7 616.8,98.5 609.2,96.3" fill="#901101"/>
<polygon points="611,99.9 618.7,102.2 621.6,99.9 613.9,97.7" fill="#971401"/>
<polygon points="615.8,101.3 623.6,103.7 626.4,101.3 618.7,99.1" fill="#a91e02"/>
<polygon points="620.7,102.8 628.4,105.1 631.2,102.7 623.5,100.5" fill="#bc2f05"/>
<polygon points="625.5,104.2 630.3,105.7 633.1,103.3 628.3,101.9" fill="#cb410b"/>
<polygon points="585.6,93.3 593.3,95.6 596.5,93.7 588.8,91.4" fill="#c13406"/>
<polygon points="590.4,94.8 598.2,97.1 601.3,95.1 593.6,92.8" fill="#ad2203"/>
<polygon points="595.3,96.2 603.1,98.6 606.1,96.5 598.4,94.3" fill="#941301"/>
<polygon points="600.1,97.7 607.9,100.1 610.9,98 603.2,95.7" fill="#7e0901"/>
<polygon points="605,99.2 612.8,101.6 615.7,99.4 608,97.1" fill="#760702"/>
<polygon points="609.8,100.7 617.6,103.1 620.5,100.8 612.8,98.5" fill="#7e0901"/>
<polygon points="614.7,102.2 622.5,104.5 625.3,102.2 617.6,100" fill="#941301"/>
<polygon points="619.5,103.7 627.3,106 630.1,103.7 622.4,101.4" fill="#ad2203"/>
<polygon points="624.4,105.1 629.3,106.6 632,104.2 627.2,102.8" fill="#c13406"/>
<polygon points="584.4,94 592.1,96.4 595.3,94.4 587.5,92.1" fill="#bc2f05"/>
<polygon points="589.2,95.5 597,97.9 600.1,95.9 592.4,93.6" fill="#a71d02"/>
<polygon points="594.1,97 601.9,99.4 604.9,97.3 597.2,95" fill="#8b0f01"/>
<polygon points="599,98.5 606.8,100.9 609.7,98.8 602,96.5" fill="#740602"/>
<polygon points="603.8,100 611.6,102.4 614.6,100.2 606.8,97.9" fill="#6c0403"/>
<polygon points="608.7,101.5 616.5,103.9 619.4,101.7 611.7,99.4" fill="#740602"/>
<polygon points="613.6,103 621.4,105.4 624.2,103.1 616.5,100.8" fill="#8b0f01"/>
<polygon points="618.4,104.5 626.2,106.9 629,104.6 621.3,102.3" fill="#a71d02"/>
<polygon points="623.3,106 628.2,107.5 631,105.1 626.1,103.7" fill="#bc2f05"/>
<polygon points="583.1,94.7 590.9,97.1 594.1,95.2 586.3,92.8" fill="#bf3206"/>
<polygon points="588,96.2 595.8,98.7 598.9,96.7 591.2,94.3" fill="#aa2002"/>
<polygon points="592.9,97.8 600.7,100.2 603.7,98.1 596,95.8" fill="#8f1101"/>
<polygon points="597.8,99.3 605.6,101.7 608.6,99.6 600.8,97.2" fill="#790801"/>
<polygon points="602.7,100.8 610.5,103.3 613.4,101.1 605.7,98.7" fill="#710502"/>
<polygon points="607.6,102.3 615.4,104.8 618.3,102.5 610.5,100.2" fill="#790801"/>
<polygon points="612.5,103.9 620.3,106.3 623.1,104 615.4,101.7" fill="#8f1101"/>
<polygon points="617.3,105.4 625.2,107.9 628,105.5 620.2,103.1" fill="#aa2002"/>
<polygon points="622.2,106.9 627.1,108.5 629.9,106.1 625.1,104.6" fill="#bf3206"/>
<polygon points="581.9,95.4 589.7,97.9 592.9,95.9 585.1,93.6" fill="#c73c09"/>
<polygon points="586.8,97 594.7,99.4 597.7,97.4 590,95" fill="#b72904"/>
<polygon points="591.7,98.5 599.6,101 602.6,98.9 594.8,96.5" fill="#a01901"/>
<polygon points="596.6,100.1 604.5,102.6 607.4,100.4 599.7,98" fill="#8d1001"/>
<polygon points="601.5,101.6 609.4,104.1 612.3,101.9 604.5,99.5" fill="#850c01"/>
<polygon points="606.4,103.2 614.3,105.7 617.2,103.4 609.4,101" fill="#8d1001"/>
<polygon points="611.3,104.7 619.2,107.2 622,104.9 614.2,102.5" fill="#a01901"/>
<polygon points="616.2,106.3 624.1,108.8 626.9,106.4 619.1,104" fill="#b72904"/>
<polygon points="621.1,107.8 626.1,109.4 628.8,107 624,105.5" fill="#c73c09"/>
<polygon points="580.7,96.1 588.5,98.6 591.7,96.7 583.9,94.3" fill="#d24f10"/>
<polygon points="585.6,97.7 593.5,100.2 596.5,98.2 588.7,95.8" fill="#c73c09"/>
<polygon points="590.5,99.3 598.4,101.8 601.4,99.7 593.6,97.3" fill="#b82a05"/>
<polygon points="595.4,100.9 603.3,103.4 606.3,101.2 598.5,98.8" fill="#aa1f02"/>
<polygon points="600.4,102.4 608.2,105 611.2,102.8 603.4,100.3" fill="#a41c02"/>
<polygon points="605.3,104 613.2,106.5 616.1,104.3 608.2,101.8" fill="#aa1f02"/>
<polygon points="610.2,105.6 618.1,108.1 620.9,105.8 613.1,103.4" fill="#b82a05"/>
<polygon points="615.1,107.2 623,109.7 625.8,107.3 618,104.9" fill="#c73c09"/>
<polygon points="620.1,108.7 625,110.3 627.8,107.9 622.9,106.4" fill="#d24f10"/>
<polygon points="579.4,96.8 587.4,99.4 590.5,97.4 582.6,95" fill="#dd6f1d"/>
<polygon points="584.4,98.4 592.3,101 595.4,99 587.5,96.5" fill="#d75b15"/>
<polygon points="589.3,100 597.2,102.6 600.3,100.5 592.4,98.1" fill="#cf470c"/>
<polygon points="594.3,101.6 602.2,104.2 605.2,102.1 597.3,99.6" fill="#c73b08"/>
<polygon points="599.2,103.2 607.1,105.8 610,103.6 602.2,101.1" fill="#c43707"/>
<polygon points="604.2,104.8 612.1,107.4 614.9,105.1 607.1,102.7" fill="#c73b08"/>
<polygon points="609.1,106.4 617,109 619.8,106.7 612,104.2" fill="#cf470c"/>
<polygon points="614,108 621.9,110.6 624.7,108.2 616.9,105.8" fill="#d75b15"/>
<polygon points="619,109.6 623.9,111.2 626.7,108.8 621.8,107.3" fill="#dd6f1d"/>
<polygon points="578.2,97.6 586.2,100.1 589.3,98.2 581.4,95.7" fill="#df952d"/>
<polygon points="583.2,99.2 591.1,101.8 594.2,99.8 586.3,97.3" fill="#df8727"/>
<polygon points="588.1,100.8 596.1,103.4 599.1,101.3 591.2,98.8" fill="#de7620"/>
<polygon points="593.1,102.4 601,105 604,102.9 596.1,100.4" fill="#dc6a1b"/>
<polygon points="598.1,104 606,106.6 608.9,104.4 601.1,101.9" fill="#da6619"/>
<polygon points="603,105.7 610.9,108.3 613.8,106 606,103.5" fill="#dc6a1b"/>
<polygon points="608,107.3 615.9,109.9 618.7,107.6 610.9,105.1" fill="#de7620"/>
<polygon points="612.9,108.9 620.9,111.5 623.7,109.1 615.8,106.6" fill="#df8727"/>
<polygon points="617.9,110.5 622.8,112.2 625.6,109.8 620.7,108.2" fill="#df952d"/>
<polygon points="577,98.3 585,100.9 588.1,98.9 580.2,96.4" fill="#d2b633"/>
<polygon points="582,99.9 589.9,102.5 593,100.5 585.1,98" fill="#d6ae33"/>
<polygon points="586.9,101.6 594.9,104.2 597.9,102.1 590,99.6" fill="#daa732"/>
<polygon points="591.9,103.2 599.9,105.8 602.9,103.7 595,101.2" fill="#dca130"/>
<polygon points="596.9,104.8 604.9,107.5 607.8,105.3 599.9,102.8" fill="#dd9e30"/>
<polygon points="601.9,106.5 609.8,109.1 612.7,106.9 604.8,104.3" fill="#dca130"/>
<polygon points="606.8,108.1 614.8,110.8 617.7,108.5 609.8,105.9" fill="#daa732"/>
<polygon points="611.8,109.8 619.8,112.4 622.6,110 614.7,107.5" fill="#d6ae33"/>
<polygon points="616.8,111.4 621.8,113.1 624.6,110.7 619.6,109.1" fill="#d2b633"/>
<polygon points="575.8,99 583.8,101.6 586.9,99.7 579,97.1" fill="#b1d12e"/>
<polygon points="580.8,100.6 588.7,103.3 591.8,101.3 583.9,98.7" fill="#b5cf2e"/>
<polygon points="585.8,102.3 593.7,105 596.8,102.9 588.9,100.3" fill="#b8cd2e"/>
<polygon points="590.7,104 598.7,106.7 601.7,104.5 593.8,102" fill="#bbcb2f"/>
<polygon points="595.7,105.7 603.7,108.3 606.7,106.1 598.7,103.6" fill="#bcca2f"/>
<polygon points="600.7,107.3 608.7,110 611.6,107.7 603.7,105.2" fill="#bbcb2f"/>
<polygon points="605.7,109 613.7,111.7 616.6,109.4 608.6,106.8" fill="#b8cd2e"/>
<polygon points="610.7,110.7 618.7,113.3 621.5,111 613.6,108.4" fill="#b5cf2e"/>
<polygon points="615.7,112.3 620.7,114 623.5,111.6 618.5,110" fill="#b1d12e"/>
<polygon points="574.5,99.7 582.6,102.4 585.7,100.4 577.7,97.8" fill="#86df3b"/>
<polygon points="579.5,101.4 587.6,104.1 590.6,102.1 582.7,99.5" fill="#85df3c"/>
<polygon points="584.6,103.1 592.6,105.8 595.6,103.7 587.7,101.1" fill="#84df3c"/>
<polygon points="589.6,104.8 597.6,107.5 600.6,105.3 592.6,102.7" fill="#83df3d"/>
<polygon points="594.6,106.5 602.6,109.2 605.5,107 597.6,104.4" fill="#82df3d"/>
<polygon points="599.6,108.2 607.6,110.9 610.5,108.6 602.6,106" fill="#83df3d"/>
<polygon points="604.6,109.8 612.6,112.6 615.5,110.2 607.5,107.6" fill="#84df3c"/>
<polygon points="609.6,111.5 617.6,114.2 620.4,111.9 612.5,109.3" fill="#85df3c"/>
<polygon points="614.6,113.2 619.6,114.9 622.4,112.5 617.5,110.9" fill="#86df3b"/>
<polygon points="573.3,100.4 581.4,103.2 584.5,101.2 576.5,98.6" fill="#4edd66"/>
<polygon points="578.3,102.1 586.4,104.9 589.5,102.9 581.5,100.2" fill="#45db6e"/>
<polygon points="583.4,103.8 591.4,106.6 594.4,104.5 586.5,101.9" fill="#3cd976"/>
<polygon points="588.4,105.6 596.4,108.3 599.4,106.2 591.5,103.5" fill="#36d87c"/>
<polygon points="593.4,107.3 601.5,110 604.4,107.8 596.4,105.2" fill="#34d77e"/>
<polygon points="598.5,109 606.5,111.7 609.4,109.5 601.4,106.8" fill="#36d87c"/>
<polygon points="603.5,110.7 611.5,113.4 614.4,111.1 606.4,108.5" fill="#3cd976"/>
<polygon points="608.5,112.4 616.6,115.2 619.4,112.8 611.4,110.1" fill="#45db6e"/>
<polygon points="613.5,114.1 618.6,115.8 621.4,113.4 616.4,111.8" fill="#4edd66"/>
<polygon points="572.1,101.1 580.2,103.9 583.3,101.9 575.3,99.3" fill="#1fcf95"/>
<polygon points="577.1,102.9 585.2,105.6 588.3,103.6 580.3,100.9" fill="#19ca9f"/>
<polygon points="582.2,104.6 590.3,107.4 593.3,105.3 585.3,102.6" fill="#16c3aa"/>
<polygon points="587.2,106.3 595.3,109.1 598.3,107 590.3,104.3" fill="#16bdb2"/>
<polygon points="592.3,108.1 600.3,110.9 603.3,108.7 595.3,106" fill="#17bbb5"/>
<polygon points="597.3,109.8 605.4,112.6 608.3,110.3 600.3,107.7" fill="#16bdb2"/>
<polygon points="602.4,111.6 610.4,114.3 613.3,112 605.3,109.3" fill="#16c3aa"/>
<polygon points="607.4,113.3 615.5,116.1 618.3,113.7 610.3,111" fill="#19ca9f"/>
<polygon points="612.5,115 617.5,116.8 620.3,114.4 615.3,112.7" fill="#1fcf95"/>
<polygon points="570.9,101.8 579,104.7 582.1,102.7 574,100" fill="#17b9b7"/>
<polygon points="575.9,103.6 584,106.4 587.1,104.4 579.1,101.7" fill="#1daec5"/>
<polygon points="581,105.4 589.1,108.2 592.1,106.1 584.1,103.4" fill="#27a0d3"/>
<polygon points="586,107.1 594.2,109.9 597.1,107.8 589.1,105.1" fill="#2f95db"/>
<polygon points="591.1,108.9 599.2,111.7 602.2,109.5 594.1,106.8" fill="#3291dd"/>
<polygon points="596.2,110.6 604.3,113.5 607.2,111.2 599.1,108.5" fill="#2f95db"/>
<polygon points="601.2,112.4 609.3,115.2 612.2,112.9 604.2,110.2" fill="#27a0d3"/>
<polygon points="606.3,114.2 614.4,117 617.2,114.6 609.2,111.9" fill="#1daec5"/>
<polygon points="611.4,115.9 616.4,117.7 619.2,115.3 614.2,113.6" fill="#17b9b7"/>
<polygon points="569.6,102.5 577.8,105.4 580.9,103.5 572.8,100.7" fill="#27a1d2"/>
<polygon points="574.7,104.3 582.8,107.2 585.9,105.2 577.9,102.4" fill="#338fdd"/>
<polygon points="579.8,106.1 587.9,109 590.9,106.9 582.9,104.1" fill="#3b7cde"/>
<polygon points="584.9,107.9 593,110.8 596,108.6 587.9,105.9" fill="#3e6fd7"/>
<polygon points="590,109.7 598.1,112.5 601,110.4 593,107.6" fill="#3e69d2"/>
<polygon points="595,111.5 603.2,114.3 606.1,112.1 598,109.3" fill="#3e6fd7"/>
<polygon points="600.1,113.3 608.3,116.1 611.1,113.8 603,111" fill="#3b7cde"/>
<polygon points="605.2,115 613.3,117.9 616.1,115.5 608.1,112.8" fill="#338fdd"/>
<polygon points="610.3,116.8 615.4,118.6 618.1,116.2 613.1,114.5" fill="#27a1d2"/>
<polygon points="568.4,103.3 576.6,106.2 579.7,104.2 571.6,101.4" fill="#3689df"/>
<polygon points="573.5,105.1 581.7,108 584.7,106 576.6,103.2" fill="#3d75da"/>
<polygon points="578.6,106.9 586.8,109.8 589.8,107.7 581.7,104.9" fill="#3e5ec8"/>
<polygon points="583.7,108.7 591.9,111.6 594.8,109.4 586.8,106.7" fill="#3c4eb2"/>
<polygon points="588.8,110.5 597,113.4 599.9,111.2 591.8,108.4" fill="#3b47a8"/>
<polygon points="593.9,112.3 602.1,115.2 604.9,112.9 596.9,110.1" fill="#3c4eb2"/>
<polygon points="599,114.1 607.2,117 610,114.7 601.9,111.9" fill="#3e5ec8"/>
<polygon points="604.1,115.9 612.3,118.8 615.1,116.4 607,113.6" fill="#3d75da"/>
<polygon points="609.2,117.7 614.3,119.5 617.1,117.1 612,115.4" fill="#3689df"/>
<polygon points="567.2,104 575.4,106.9 578.5,105 570.4,102.1" fill="#3c78dc"/>
<polygon points="572.3,105.8 580.5,108.7 583.6,106.7 575.4,103.9" fill="#3e60ca"/>
<polygon points="577.4,107.6 585.6,110.6 588.6,108.5 580.5,105.7" fill="#3b47a7"/>
<polygon points="582.5,109.5 590.7,112.4 593.7,110.3 585.6,107.4" fill="#373384"/>
<polygon points="587.6,111.3 595.8,114.2 598.8,112 590.7,109.2" fill="#352c75"/>
<polygon points="592.8,113.1 600.9,116.1 603.8,113.8 595.7,111" fill="#373384"/>
<polygon points="597.9,115 606.1,117.9 608.9,115.6 600.8,112.7" fill="#3b47a7"/>
<polygon points="603,116.8 611.2,119.7 614,117.4 605.9,114.5" fill="#3e60ca"/>
<polygon points="608.1,118.6 613.2,120.5 616,118.1 610.9,116.3" fill="#3c78dc"/>
<polygon points="565.9,104.7 574.2,107.7 577.3,105.7 569.1,102.8" fill="#3e6cd4"/>
<polygon points="571.1,106.5 579.3,109.5 582.4,107.5 574.2,104.6" fill="#3c52b8"/>
<polygon points="576.2,108.4 584.4,111.4 587.5,109.3 579.3,106.4" fill="#38378b"/>
<polygon points="581.4,110.3 589.6,113.2 592.5,111.1 584.4,108.2" fill="#31225e"/>
<polygon points="586.5,112.1 594.7,115.1 597.6,112.9 589.5,110" fill="#2e1a4b"/>
<polygon points="591.6,114 599.8,116.9 602.7,114.7 594.6,111.8" fill="#31225e"/>
<polygon points="596.8,115.8 605,118.8 607.8,116.5 599.7,113.6" fill="#38378b"/>
<polygon points="601.9,117.7 610.1,120.6 612.9,118.3 604.8,115.4" fill="#3c52b8"/>
<polygon points="607,119.5 612.2,121.4 614.9,119 609.9,117.2" fill="#3e6cd4"/>
<polygon points="564.7,105.4 573,108.4 576.1,106.5 567.9,103.5" fill="#3e66cf"/>
<polygon points="569.9,107.3 578.1,110.3 581.2,108.3 573,105.4" fill="#3c4caf"/>
<polygon points="575,109.2 583.3,112.2 586.3,110.1 578.1,107.2" fill="#352f7b"/>
<polygon points="580.2,111 588.4,114 591.4,111.9 583.2,109" fill="#2e194a"/>
<polygon points="585.3,112.9 593.6,115.9 596.5,113.7 588.3,110.8" fill="#2b1136"/>
<polygon points="590.5,114.8 598.7,117.8 601.6,115.5 593.4,112.6" fill="#2e194a"/>
<polygon points="595.6,116.7 603.9,119.7 606.7,117.4 598.6,114.5" fill="#352f7b"/>
<polygon points="600.8,118.6 609,121.6 611.8,119.2 603.7,116.3" fill="#3c4caf"/>
<polygon points="605.9,120.4 611.1,122.3 613.9,119.9 608.8,118.1" fill="#3e66cf"/>
<polygon points="563.5,106.1 571.8,109.2 574.9,107.2 566.7,104.3" fill="#3e66cf"/>
<polygon points="568.7,108 576.9,111.1 580,109 571.8,106.1" fill="#3c4cb0"/>
<polygon points="573.8,109.9 582.1,113 585.1,110.9 576.9,107.9" fill="#36307c"/>
<polygon points="579,111.8 587.3,114.9 590.3,112.7 582.1,109.8" fill="#2e1a4b"/>
<polygon points="584.2,113.7 592.4,116.8 595.4,114.6 587.2,111.6" fill="#2b1137"/>
<polygon points="589.3,115.6 597.6,118.7 600.5,116.4 592.3,113.5" fill="#2e1a4b"/>
<polygon points="594.5,117.5 602.8,120.6 605.6,118.3 597.4,115.3" fill="#36307c"/>
<polygon points="599.7,119.4 608,122.5 610.8,120.1 602.6,117.1" fill="#3c4cb0"/>
<polygon points="604.9,121.3 610,123.2 612.8,120.8 607.7,119" fill="#3e66cf"/>
<polygon points="563,106.4 571.3,109.5 573.7,108 565.5,105" fill="#3e6bd4"/>
<polygon points="568.2,108.3 576.5,111.4 578.8,109.8 570.6,106.8" fill="#3c52b8"/>
<polygon points="573.4,110.2 581.6,113.3 584,111.7 575.7,108.7" fill="#38378b"/>
<polygon points="578.5,112.1 586.8,115.2 589.1,113.6 580.9,110.6" fill="#31225e"/>
<polygon points="583.7,114 592,117.1 594.3,115.4 586,112.4" fill="#2e194a"/>
<polygon points="588.9,116 597.2,119 599.4,117.3 591.2,114.3" fill="#31225e"/>
<polygon points="594.1,117.9 602.4,120.9 604.5,119.1 596.3,116.2" fill="#38378b"/>
<polygon points="599.2,119.8 607.5,122.8 609.7,121 601.5,118" fill="#3c52b8"/>
<polygon points="604.4,121.7 609.6,123.6 611.7,121.8 606.6,119.9" fill="#3e6bd4"/>
<polygon points="563,106.4 571.3,109.5 572.5,108.7 564.2,105.7" fill="#3d74da"/>
<polygon points="568.2,108.3 576.5,111.4 577.6,110.6 569.4,107.6" fill="#3d5cc5"/>
<polygon points="573.4,110.2 581.6,113.3 582.8,112.5 574.5,109.5" fill="#3a42a0"/>
<polygon points="578.5,112.1 586.8,115.2 588,114.4 579.7,111.3" fill="#352f7a"/>
<polygon points="583.7,114 592,117.1 593.1,116.3 584.9,113.2" fill="#33286b"/>
<polygon points="588.9,116 597.2,119 598.3,118.1 590,115.1" fill="#352f7a"/>
<polygon points="594.1,117.9 602.4,120.9 603.4,120 595.2,117" fill="#3a42a0"/>
<polygon points="599.2,119.8 607.5,122.8 608.6,121.9 600.3,118.9" fill="#3d5cc5"/>
<polygon points="604.4,121.7 609.6,123.6 610.7,122.7 605.5,120.8" fill="#3d74da"/>
<path d="M563 106.4C563 117.9 573.4 131.2 586.3 135.9C599.2 140.6 609.6 135.1 609.6 123.6Z" fill="url(#g15)"/>
<polygon points="617.7,52 621.3,53.2 623.2,49.9 619.6,49.3" fill="#6cdb49"/>
<polygon points="619.9,52.8 623.6,53.9 625.5,50.3 621.9,49.7" fill="#65db4f"/>
<polygon points="622.2,53.5 625.9,54.4 627.7,50.7 624.1,50.1" fill="#60db53"/>
<polygon points="624.5,54.1 628.1,54.8 630,51 626.4,50.5" fill="#5dda55"/>
<polygon points="626.8,54.6 630.4,54.9 632.3,51.3 628.6,50.8" fill="#5dda55"/>
<polygon points="629,54.8 632.7,54.9 634.5,51.6 630.9,51.1" fill="#60db53"/>
<polygon points="631.3,54.9 635,54.8 636.8,51.9 633.2,51.4" fill="#65db4f"/>
<polygon points="633.6,54.8 635.9,54.7 637.7,52 635.4,51.7" fill="#6cdb49"/>
<polygon points="616.9,52.9 620.6,54.4 622.5,51.2 618.9,50.3" fill="#46d769"/>
<polygon points="619.2,53.9 622.9,55.2 624.8,51.7 621.2,50.9" fill="#38d376"/>
<polygon points="621.5,54.8 625.1,55.8 627,52.1 623.4,51.4" fill="#2dd180"/>
<polygon points="623.8,55.5 627.4,56.1 629.3,52.4 625.7,51.9" fill="#29cf85"/>
<polygon points="626,55.9 629.7,56.2 631.6,52.7 628,52.2" fill="#29cf85"/>
<polygon points="628.3,56.2 632,56.1 633.8,52.8 630.2,52.5" fill="#2dd180"/>
<polygon points="630.6,56.2 634.3,55.8 636.1,52.9 632.5,52.7" fill="#38d376"/>
<polygon points="632.9,56 635.2,55.7 637,53 634.7,52.9" fill="#46d769"/>
<polygon points="616.1,53.9 619.8,55.6 621.8,52.4 618.2,51.3" fill="#25cd8a"/>
<polygon points="618.4,55 622.1,56.5 624.1,53 620.4,52" fill="#1ac69a"/>
<polygon points="620.7,56 624.4,57.1 626.3,53.5 622.7,52.7" fill="#16c0a4"/>
<polygon points="623,56.8 626.7,57.4 628.6,53.8 625,53.2" fill="#15bcaa"/>
<polygon points="625.3,57.3 629,57.4 630.9,54 627.2,53.6" fill="#15bcaa"/>
<polygon points="627.6,57.5 631.3,57.2 633.1,54.1 629.5,53.9" fill="#16c0a4"/>
<polygon points="629.9,57.4 633.5,56.8 635.4,54 631.8,54" fill="#1ac69a"/>
<polygon points="632.2,57.1 634.5,56.7 636.3,54 634.1,54.1" fill="#25cd8a"/>
<polygon points="615.3,54.8 619,56.7 621.1,53.6 617.4,52.3" fill="#16c1a3"/>
<polygon points="617.6,56 621.3,57.7 623.3,54.4 619.7,53.2" fill="#18b2b7"/>
<polygon points="619.9,57.2 623.6,58.4 625.6,54.9 622,54" fill="#1fa6c5"/>
<polygon points="622.2,58 625.9,58.7 627.9,55.2 624.2,54.6" fill="#259fcc"/>
<polygon points="624.5,58.6 628.2,58.7 630.2,55.3 626.5,55" fill="#259fcc"/>
<polygon points="626.8,58.7 630.5,58.4 632.4,55.3 628.8,55.3" fill="#1fa6c5"/>
<polygon points="629.1,58.6 632.8,57.9 634.7,55.1 631.1,55.3" fill="#18b2b7"/>
<polygon points="631.4,58.2 633.7,57.6 635.6,55 633.4,55.2" fill="#16c1a3"/>
<polygon points="614.4,55.7 618.1,57.8 620.3,54.9 616.6,53.3" fill="#19afbb"/>
<polygon points="616.7,57.1 620.4,58.9 622.6,55.7 618.9,54.3" fill="#289ad0"/>
<polygon points="619,58.3 622.7,59.6 624.9,56.3 621.2,55.2" fill="#3488d9"/>
<polygon points="621.4,59.2 625.1,59.9 627.2,56.6 623.5,55.9" fill="#397edb"/>
<polygon points="623.7,59.8 627.4,59.8 629.4,56.6 625.8,56.4" fill="#397edb"/>
<polygon points="626,59.9 629.7,59.4 631.7,56.5 628.1,56.6" fill="#3488d9"/>
<polygon points="628.3,59.7 632,58.8 634,56.2 630.4,56.6" fill="#289ad0"/>
<polygon points="630.6,59.2 632.9,58.6 634.9,56 632.6,56.4" fill="#19afbb"/>
<polygon points="613.5,56.6 617.2,58.8 619.5,56.1 615.8,54.2" fill="#279cce"/>
<polygon points="615.8,58 619.5,60 621.8,57 618.1,55.4" fill="#3880db"/>
<polygon points="618.1,59.3 621.8,60.7 624.1,57.6 620.4,56.4" fill="#3c6bd0"/>
<polygon points="620.4,60.3 624.1,61 626.4,57.9 622.7,57.3" fill="#3c5fc6"/>
<polygon points="622.8,60.9 626.5,60.9 628.7,57.9 625,57.8" fill="#3c5fc6"/>
<polygon points="625.1,61 628.8,60.5 631,57.7 627.3,58" fill="#3c6bd0"/>
<polygon points="627.4,60.8 631.1,59.8 633.3,57.2 629.6,57.9" fill="#3880db"/>
<polygon points="629.7,60.2 632,59.5 634.2,57 631.9,57.5" fill="#279cce"/>
<polygon points="612.4,57.3 616.1,59.7 618.6,57.2 614.9,55.2" fill="#3488d9"/>
<polygon points="614.7,58.9 618.5,60.9 620.9,58.2 617.3,56.5" fill="#3c69cf"/>
<polygon points="617.1,60.2 620.8,61.7 623.2,58.9 619.6,57.6" fill="#3b4fb2"/>
<polygon points="619.4,61.3 623.1,62 625.5,59.2 621.9,58.5" fill="#39419c"/>
<polygon points="621.7,61.9 625.5,61.9 627.9,59.2 624.2,59.1" fill="#39419c"/>
<polygon points="624.1,62 627.8,61.4 630.2,58.8 626.5,59.2" fill="#3b4fb2"/>
<polygon points="626.4,61.7 630.1,60.6 632.5,58.3 628.8,59.1" fill="#3c69cf"/>
<polygon points="628.7,61.1 631.1,60.3 633.4,58 631.1,58.6" fill="#3488d9"/>
<polygon points="611.1,58 614.9,60.4 617.7,58.3 614,56.1" fill="#3a78d8"/>
<polygon points="613.5,59.5 617.2,61.6 620,59.4 616.3,57.5" fill="#3b55b9"/>
<polygon points="615.8,60.9 619.6,62.4 622.3,60.1 618.6,58.8" fill="#37388d"/>
<polygon points="618.2,62 621.9,62.7 624.6,60.4 620.9,59.7" fill="#32286b"/>
<polygon points="620.5,62.6 624.3,62.6 627,60.4 623.3,60.3" fill="#32286b"/>
<polygon points="622.9,62.7 626.6,62.1 629.3,59.9 625.6,60.5" fill="#37388d"/>
<polygon points="625.2,62.4 629,61.3 631.6,59.3 627.9,60.2" fill="#3b55b9"/>
<polygon points="627.6,61.8 629.9,61 632.5,59 630.2,59.7" fill="#3a78d8"/>
<polygon points="609.6,58.3 613.4,60.7 616.7,59.3 612.9,57" fill="#3c6ed3"/>
<polygon points="612,59.8 615.8,61.8 619,60.5 615.3,58.5" fill="#3a47a6"/>
<polygon points="614.4,61.2 618.2,62.6 621.3,61.2 617.6,59.8" fill="#32286c"/>
<polygon points="616.7,62.2 620.5,62.9 623.6,61.6 619.9,60.8" fill="#2c1643"/>
<polygon points="619.1,62.8 622.9,62.8 626,61.4 622.2,61.4" fill="#2c1643"/>
<polygon points="621.5,62.9 625.3,62.4 628.3,60.9 624.6,61.6" fill="#32286c"/>
<polygon points="623.8,62.7 627.6,61.7 630.6,60.2 626.9,61.3" fill="#3a47a6"/>
<polygon points="626.2,62.1 628.6,61.4 631.6,59.9 629.2,60.7" fill="#3c6ed3"/>
<polygon points="607.9,58.2 611.8,60.3 615.5,60.1 611.7,57.7" fill="#3c6cd2"/>
<polygon points="610.3,59.6 614.1,61.3 617.8,61.3 614.1,59.3" fill="#3a45a3"/>
<polygon points="612.7,60.7 616.5,62 620.1,62.1 616.4,60.6" fill="#322667"/>
<polygon points="615.1,61.7 618.9,62.4 622.5,62.4 618.7,61.7" fill="#2b143d"/>
<polygon points="617.5,62.2 621.3,62.4 624.8,62.3 621.1,62.3" fill="#2b143d"/>
<polygon points="619.9,62.4 623.7,62.1 627.2,61.8 623.4,62.4" fill="#322667"/>
<polygon points="622.2,62.3 626.1,61.6 629.5,61 625.8,62.1" fill="#3a45a3"/>
<polygon points="624.6,61.9 627,61.4 630.4,60.7 628.1,61.5" fill="#3c6cd2"/>
<polygon points="606.4,57.7 610.2,59.4 614.1,60.6 610.3,58.2" fill="#3a79d8"/>
<polygon points="608.8,58.8 612.6,60.2 616.4,61.8 612.7,59.8" fill="#3c55ba"/>
<polygon points="611.2,59.8 615,60.9 618.8,62.6 615,61.1" fill="#37388d"/>
<polygon points="613.6,60.5 617.4,61.2 621.2,62.9 617.4,62.2" fill="#32286c"/>
<polygon points="616,61.1 619.8,61.4 623.5,62.8 619.7,62.8" fill="#32286c"/>
<polygon points="618.4,61.3 622.2,61.3 625.9,62.3 622.1,62.9" fill="#37388d"/>
<polygon points="620.8,61.3 624.6,61 628.2,61.6 624.5,62.6" fill="#3c55ba"/>
<polygon points="623.2,61.2 625.6,60.9 629.2,61.2 626.8,62" fill="#3a79d8"/>
<polygon points="605.3,57.2 609.1,58.5 612.7,60.6 608.9,58.3" fill="#2e92d6"/>
<polygon points="607.7,58 611.5,59.2 615,61.7 611.2,59.8" fill="#3b74d6"/>
<polygon points="610.1,58.8 613.9,59.7 617.4,62.4 613.6,61.1" fill="#3c5cc4"/>
<polygon points="612.5,59.4 616.4,60.1 619.8,62.8 616,62" fill="#3b50b3"/>
<polygon points="614.9,59.9 618.8,60.4 622.1,62.7 618.4,62.6" fill="#3b50b3"/>
<polygon points="617.3,60.2 621.2,60.4 624.5,62.3 620.7,62.8" fill="#3c5cc4"/>
<polygon points="619.7,60.4 623.6,60.4 626.9,61.7 623.1,62.6" fill="#3b74d6"/>
<polygon points="622.2,60.5 624.6,60.4 627.8,61.4 625.5,62.1" fill="#2e92d6"/>
<polygon points="604.3,56.7 608.2,57.7 611.3,60.1 607.5,58.1" fill="#18b0ba"/>
<polygon points="606.8,57.3 610.6,58.2 613.7,61.1 609.9,59.4" fill="#279bcf"/>
<polygon points="609.2,57.9 613.1,58.7 616.1,61.8 612.3,60.5" fill="#3389d9"/>
<polygon points="611.6,58.4 615.5,59.1 618.5,62.1 614.7,61.4" fill="#397fdb"/>
<polygon points="614,58.9 617.9,59.4 620.9,62.2 617.1,62" fill="#397fdb"/>
<polygon points="616.5,59.2 620.3,59.7 623.3,61.9 619.5,62.2" fill="#3389d9"/>
<polygon points="618.9,59.5 622.8,59.9 625.7,61.5 621.9,62.1" fill="#279bcf"/>
<polygon points="621.3,59.7 623.7,60 626.6,61.3 624.2,61.8" fill="#18b0ba"/>
<polygon points="603.4,56.1 607.3,56.8 610.2,59.4 606.3,57.7" fill="#1cc995"/>
<polygon points="605.9,56.5 609.8,57.2 612.6,60.2 608.7,58.8" fill="#15bfa5"/>
<polygon points="608.3,57 612.2,57.6 615,60.8 611.1,59.7" fill="#17b5b3"/>
<polygon points="610.7,57.4 614.6,58 617.4,61.2 613.5,60.5" fill="#18b0ba"/>
<polygon points="613.2,57.8 617.1,58.4 619.8,61.3 615.9,61" fill="#18b0ba"/>
<polygon points="615.6,58.2 619.5,58.9 622.2,61.2 618.4,61.3" fill="#17b5b3"/>
<polygon points="618,58.6 621.9,59.3 624.6,61 620.8,61.3" fill="#15bfa5"/>
<polygon points="620.5,59 622.9,59.4 625.6,60.9 623.2,61.2" fill="#1cc995"/>
<polygon points="602.5,55.6 606.4,55.9 609.1,58.5 605.3,57.2" fill="#49d767"/>
<polygon points="605,55.8 608.9,56.2 611.5,59.2 607.7,58" fill="#3bd473"/>
<polygon points="607.4,56 611.3,56.5 614,59.8 610.1,58.8" fill="#31d27d"/>
<polygon points="609.9,56.3 613.8,56.9 616.4,60.1 612.5,59.4" fill="#2cd082"/>
<polygon points="612.3,56.7 616.2,57.4 618.8,60.4 614.9,59.9" fill="#2cd082"/>
<polygon points="614.8,57.1 618.7,58 621.2,60.5 617.3,60.2" fill="#31d27d"/>
<polygon points="617.2,57.7 621.1,58.7 623.6,60.5 619.8,60.4" fill="#3bd473"/>
<polygon points="619.7,58.3 622.1,58.9 624.6,60.4 622.2,60.5" fill="#49d767"/>
<polygon points="603.3,56 607.2,56.6 608.1,57.6 604.3,56.6" fill="#80da3c"/>
<polygon points="605.7,56.4 609.6,57 610.6,58.1 606.7,57.2" fill="#7ddb3d"/>
<polygon points="608.1,56.8 612,57.4 613,58.6 609.1,57.8" fill="#7bdb3e"/>
<polygon points="610.6,57.2 614.5,57.8 615.4,59 611.5,58.3" fill="#7adb3f"/>
<polygon points="613,57.6 616.9,58.3 617.8,59.3 614,58.8" fill="#7adb3f"/>
<polygon points="615.5,58 619.4,58.7 620.3,59.6 616.4,59.1" fill="#7bdb3e"/>
<polygon points="617.9,58.4 621.8,59.2 622.7,59.8 618.8,59.4" fill="#7ddb3d"/>
<polygon points="620.3,58.9 622.8,59.4 623.7,59.9 621.2,59.7" fill="#80da3c"/>
<polygon points="585.8,66 590,67.5 591.9,64.2 587.7,63.3" fill="#78db40"/>
<polygon points="588.5,66.9 592.7,68.3 594.5,64.7 590.3,63.9" fill="#73db44"/>
<polygon points="591.1,67.8 595.3,68.9 597.1,65.2 592.9,64.4" fill="#6fdb47"/>
<polygon points="593.7,68.6 598,69.4 599.7,65.7 595.5,64.9" fill="#6ddb48"/>
<polygon points="596.4,69.1 600.6,69.7 602.3,66.1 598.1,65.4" fill="#6ddb48"/>
<polygon points="599,69.6 603.2,69.9 604.9,66.6 600.7,65.9" fill="#6fdb47"/>
<polygon points="601.6,69.8 605.9,70 607.5,67.1 603.4,66.3" fill="#73db44"/>
<polygon points="604.3,69.9 606.9,70 608.6,67.3 606,66.8" fill="#78db40"/>
<polygon points="585.1,66.9 589.3,68.6 591.2,65.4 587,64.3" fill="#54d95d"/>
<polygon points="587.7,68 592,69.6 593.8,66.1 589.6,65" fill="#48d768"/>
<polygon points="590.4,69 594.6,70.3 596.4,66.6 592.2,65.7" fill="#3fd570"/>
<polygon points="593,69.9 597.2,70.8 599.1,67.1 594.9,66.3" fill="#3ad474"/>
<polygon points="595.7,70.5 599.9,71 601.7,67.5 597.5,66.8" fill="#3ad474"/>
<polygon points="598.3,70.9 602.5,71.1 604.3,67.9 600.1,67.3" fill="#3fd570"/>
<polygon points="600.9,71.1 605.2,71 606.9,68.2 602.7,67.7" fill="#48d768"/>
<polygon points="603.6,71.1 606.2,71 608,68.3 605.3,68" fill="#54d95d"/>
<polygon points="584.3,67.9 588.5,69.8 590.5,66.7 586.3,65.3" fill="#32d27c"/>
<polygon points="586.9,69.1 591.2,70.8 593.1,67.4 588.9,66.2" fill="#24cd8c"/>
<polygon points="589.6,70.2 593.8,71.6 595.8,68 591.5,67" fill="#1bc896"/>
<polygon points="592.3,71.2 596.5,72.1 598.4,68.5 594.2,67.7" fill="#19c59b"/>
<polygon points="594.9,71.8 599.1,72.3 601,68.9 596.8,68.3" fill="#19c59b"/>
<polygon points="597.6,72.2 601.8,72.2 603.6,69.1 599.4,68.7" fill="#1bc896"/>
<polygon points="600.2,72.3 604.5,72 606.3,69.3 602.1,69" fill="#24cd8c"/>
<polygon points="602.9,72.2 605.5,71.9 607.3,69.3 604.7,69.2" fill="#32d27c"/>
<polygon points="583.4,68.8 587.7,70.9 589.8,67.9 585.6,66.3" fill="#1bc897"/>
<polygon points="586.1,70.2 590.4,72 592.4,68.8 588.2,67.3" fill="#15bea7"/>
<polygon points="588.8,71.4 593,72.8 595,69.5 590.8,68.3" fill="#17b4b5"/>
<polygon points="591.4,72.4 595.7,73.3 597.7,69.9 593.5,69.1" fill="#19aebc"/>
<polygon points="594.1,73.1 598.3,73.5 600.3,70.2 596.1,69.7" fill="#19aebc"/>
<polygon points="596.7,73.4 601,73.4 603,70.3 598.7,70.1" fill="#17b4b5"/>
<polygon points="599.4,73.5 603.7,73 605.6,70.4 601.4,70.3" fill="#15bea7"/>
<polygon points="602.1,73.2 604.7,72.9 606.7,70.4 604,70.4" fill="#1bc897"/>
<polygon points="582.5,69.7 586.8,72 589,69.1 584.8,67.3" fill="#15bbab"/>
<polygon points="585.2,71.2 589.4,73.2 591.7,70.1 587.4,68.5" fill="#1caac1"/>
<polygon points="587.8,72.5 592.1,74.1 594.3,70.8 590.1,69.5" fill="#279cce"/>
<polygon points="590.5,73.6 594.8,74.5 596.9,71.3 592.7,70.4" fill="#2d93d5"/>
<polygon points="593.2,74.3 597.5,74.6 599.6,71.5 595.4,71" fill="#2d93d5"/>
<polygon points="595.9,74.6 600.1,74.4 602.2,71.6 598,71.4" fill="#279cce"/>
<polygon points="598.5,74.6 602.8,74 604.9,71.4 600.7,71.6" fill="#1caac1"/>
<polygon points="601.2,74.3 603.9,73.8 605.9,71.4 603.3,71.5" fill="#15bbab"/>
<polygon points="581.5,70.6 585.8,73.1 588.2,70.3 583.9,68.3" fill="#1bacbf"/>
<polygon points="584.2,72.2 588.5,74.3 590.8,71.4 586.6,69.6" fill="#2c95d3"/>
<polygon points="586.8,73.6 591.1,75.2 593.5,72.1 589.2,70.8" fill="#3783da"/>
<polygon points="589.5,74.7 593.8,75.7 596.1,72.6 591.9,71.7" fill="#3a79d8"/>
<polygon points="592.2,75.5 596.5,75.8 598.8,72.8 594.6,72.4" fill="#3a79d8"/>
<polygon points="594.9,75.8 599.2,75.5 601.5,72.7 597.2,72.7" fill="#3783da"/>
<polygon points="597.6,75.7 601.9,75 604.1,72.5 599.9,72.8" fill="#2c95d3"/>
<polygon points="600.3,75.3 603,74.8 605.2,72.4 602.5,72.6" fill="#1bacbf"/>
<polygon points="580.4,71.4 584.7,74.1 587.3,71.4 583,69.2" fill="#269dce"/>
<polygon points="583.1,73.1 587.4,75.4 590,72.6 585.7,70.6" fill="#3782db"/>
<polygon points="585.8,74.6 590.1,76.3 592.6,73.4 588.4,71.9" fill="#3c6cd2"/>
<polygon points="588.5,75.8 592.8,76.8 595.3,73.9 591,73" fill="#3c60c7"/>
<polygon points="591.2,76.6 595.5,76.8 598,74 593.7,73.6" fill="#3c60c7"/>
<polygon points="593.9,76.9 598.2,76.5 600.6,73.9 596.4,74" fill="#3c6cd2"/>
<polygon points="596.6,76.7 600.9,75.9 603.3,73.5 599,74" fill="#3782db"/>
<polygon points="599.3,76.3 602,75.7 604.4,73.3 601.7,73.7" fill="#269dce"/>
<polygon points="579.2,72.3 583.5,75 586.3,72.5 582,70.1" fill="#308fd7"/>
<polygon points="581.9,74 586.3,76.4 589,73.7 584.7,71.7" fill="#3c71d5"/>
<polygon points="584.6,75.6 589,77.3 591.7,74.6 587.4,73" fill="#3c58bf"/>
<polygon points="587.3,76.8 591.7,77.8 594.4,75.1 590.1,74.1" fill="#3b4bad"/>
<polygon points="590,77.6 594.4,77.8 597,75.2 592.8,74.8" fill="#3b4bad"/>
<polygon points="592.8,77.9 597.1,77.4 599.7,74.9 595.4,75.2" fill="#3c58bf"/>
<polygon points="595.5,77.7 599.8,76.8 602.4,74.5 598.1,75.1" fill="#3c71d5"/>
<polygon points="598.2,77.2 600.9,76.5 603.5,74.3 600.8,74.8" fill="#308fd7"/>
<polygon points="578,73 582.3,75.8 585.3,73.5 581,71" fill="#3783da"/>
<polygon points="580.7,74.8 585.1,77.3 588,74.8 583.7,72.6" fill="#3c62c9"/>
<polygon points="583.4,76.5 587.8,78.3 590.7,75.7 586.4,74.1" fill="#3a48a8"/>
<polygon points="586.2,77.7 590.5,78.7 593.4,76.2 589.1,75.2" fill="#37398f"/>
<polygon points="588.9,78.5 593.2,78.7 596.1,76.3 591.8,76" fill="#37398f"/>
<polygon points="591.6,78.8 596,78.3 598.7,76 594.4,76.3" fill="#3a48a8"/>
<polygon points="594.3,78.6 598.7,77.7 601.4,75.4 597.1,76.2" fill="#3c62c9"/>
<polygon points="597,78.1 599.8,77.4 602.5,75.2 599.8,75.8" fill="#3783da"/>
<polygon points="576.7,73.8 581.1,76.6 584.2,74.5 579.9,71.8" fill="#3a7ad9"/>
<polygon points="579.4,75.6 583.8,78.1 586.9,75.8 582.6,73.5" fill="#3c56bc"/>
<polygon points="582.2,77.3 586.6,79.1 589.6,76.8 585.3,75.1" fill="#383a90"/>
<polygon points="584.9,78.6 589.3,79.6 592.3,77.2 588,76.2" fill="#332a70"/>
<polygon points="587.7,79.4 592,79.6 595,77.3 590.7,77" fill="#332a70"/>
<polygon points="590.4,79.6 594.8,79.2 597.7,76.9 593.4,77.3" fill="#383a90"/>
<polygon points="593.1,79.5 597.5,78.4 600.4,76.3 596.1,77.2" fill="#3c56bc"/>
<polygon points="595.9,78.9 598.6,78.1 601.5,76.1 598.8,76.7" fill="#3a7ad9"/>
<polygon points="575.4,74.4 579.8,77.3 583,75.4 578.7,72.6" fill="#3b73d6"/>
<polygon points="578.1,76.3 582.6,78.8 585.8,76.7 581.4,74.4" fill="#3b4eb0"/>
<polygon points="580.9,78 585.3,79.8 588.5,77.7 584.1,76" fill="#35307c"/>
<polygon points="583.7,79.3 588.1,80.3 591.2,78.2 586.8,77.2" fill="#2f1f57"/>
<polygon points="586.4,80.1 590.8,80.3 593.9,78.2 589.6,78" fill="#2f1f57"/>
<polygon points="589.2,80.4 593.6,79.9 596.6,77.8 592.3,78.3" fill="#35307c"/>
<polygon points="591.9,80.2 596.3,79.2 599.3,77.2 595,78.1" fill="#3b4eb0"/>
<polygon points="594.7,79.6 597.4,78.9 600.4,76.9 597.7,77.6" fill="#3b73d6"/>
<polygon points="574,75 578.5,78 581.8,76.2 577.5,73.3" fill="#3c6ed4"/>
<polygon points="576.8,76.9 581.2,79.4 584.6,77.6 580.2,75.2" fill="#3a47a7"/>
<polygon points="579.6,78.6 584,80.5 587.3,78.6 582.9,76.8" fill="#32296c"/>
<polygon points="582.3,79.9 586.8,81 590,79.1 585.7,78.1" fill="#2c1744"/>
<polygon points="585.1,80.7 589.5,81 592.8,79.1 588.4,78.9" fill="#2c1744"/>
<polygon points="587.9,81 592.3,80.5 595.5,78.7 591.1,79.1" fill="#32296c"/>
<polygon points="590.6,80.8 595.1,79.8 598.2,78 593.9,79" fill="#3a47a7"/>
<polygon points="593.4,80.3 596.2,79.5 599.3,77.7 596.6,78.4" fill="#3c6ed4"/>
<polygon points="573.5,75.2 577.9,78.2 580.6,76.9 576.2,74" fill="#3c6cd1"/>
<polygon points="576.3,77.1 580.7,79.6 583.3,78.4 578.9,75.9" fill="#3944a2"/>
<polygon points="579,78.8 583.5,80.7 586.1,79.4 581.7,77.6" fill="#312565"/>
<polygon points="581.8,80.1 586.3,81.2 588.8,79.9 584.4,78.8" fill="#2b133a"/>
<polygon points="584.6,80.9 589,81.2 591.6,79.9 587.2,79.7" fill="#2b133a"/>
<polygon points="587.4,81.2 591.8,80.7 594.3,79.4 589.9,79.9" fill="#312565"/>
<polygon points="590.2,81 594.6,80 597.1,78.7 592.7,79.8" fill="#3944a2"/>
<polygon points="592.9,80.5 595.7,79.7 598.2,78.4 595.4,79.2" fill="#3c6cd1"/>
<polygon points="573.5,75.2 577.9,78.2 579.3,77.6 574.9,74.7" fill="#3c6cd2"/>
<polygon points="576.3,77.1 580.7,79.6 582,79.1 577.6,76.5" fill="#3a45a3"/>
<polygon points="579,78.8 583.5,80.7 584.8,80.1 580.4,78.2" fill="#322667"/>
<polygon points="581.8,80.1 586.3,81.2 587.6,80.6 583.2,79.5" fill="#2b143d"/>
<polygon points="584.6,80.9 589,81.2 590.3,80.6 585.9,80.4" fill="#2b143d"/>
<polygon points="587.4,81.2 591.8,80.7 593.1,80.1 588.7,80.6" fill="#322667"/>
<polygon points="590.2,81 594.6,80 595.8,79.4 591.4,80.4" fill="#3a45a3"/>
<polygon points="592.9,80.5 595.7,79.7 597,79.1 594.2,79.9" fill="#3c6cd2"/>
<polygon points="573.5,69.5 595.7,74 645.8,47.3 628.6,45" fill="#cbc7ba" fill-opacity="0.55"/>
<polygon points="625.1,42.5 628.6,41.6 632,38.8 628.6,40.1" fill="#bf3507"/>
<polygon points="627.3,41.9 630.8,41.3 634.2,38.3 630.8,39.2" fill="#a01a02"/>
<polygon points="629.5,41.4 633,41.2 636.3,38.2 632.9,38.6" fill="#800b01"/>
<polygon points="631.7,41.2 635.2,41.6 638.5,38.5 635,38.2" fill="#6e0502"/>
<polygon points="633.9,41.3 637.4,42.3 640.6,39.3 637.2,38.3" fill="#6e0502"/>
<polygon points="636.1,41.8 639.6,43.3 642.8,40.4 639.4,38.8" fill="#800b01"/>
<polygon points="638.3,42.6 641.8,44.5 644.9,41.8 641.5,39.7" fill="#a01a02"/>
<polygon points="640.5,43.7 642.7,45 645.8,42.4 643.6,41" fill="#bf3507"/>
<polygon points="624.3,43.4 627.8,42.6 630.8,39.5 627.3,40.8" fill="#c53d09"/>
<polygon points="626.5,42.9 630,42.4 632.9,39.1 629.5,39.9" fill="#aa2203"/>
<polygon points="628.7,42.5 632.2,42.4 635.1,39 631.6,39.3" fill="#8f1201"/>
<polygon points="630.9,42.4 634.4,42.8 637.3,39.3 633.8,39" fill="#7e0a01"/>
<polygon points="633.1,42.5 636.6,43.4 639.4,40.1 636,39" fill="#7e0a01"/>
<polygon points="635.3,43 638.8,44.3 641.6,41.2 638.1,39.6" fill="#8f1201"/>
<polygon points="637.5,43.7 641,45.4 643.8,42.5 640.3,40.5" fill="#aa2203"/>
<polygon points="639.7,44.7 641.9,45.9 644.6,43.1 642.5,41.7" fill="#c53d09"/>
<polygon points="623.5,44.3 627,43.7 629.7,40.5 626.2,41.6" fill="#cd4c0f"/>
<polygon points="625.7,43.9 629.2,43.6 631.9,40.1 628.4,40.8" fill="#ba3006"/>
<polygon points="627.9,43.6 631.4,43.6 634,40 630.6,40.3" fill="#a51e02"/>
<polygon points="630.1,43.6 633.7,44 636.2,40.3 632.7,40" fill="#971601"/>
<polygon points="632.3,43.7 635.9,44.6 638.4,41.1 634.9,40.1" fill="#971601"/>
<polygon points="634.5,44.2 638.1,45.4 640.6,42.1 637.1,40.6" fill="#a51e02"/>
<polygon points="636.7,44.9 640.3,46.4 642.7,43.4 639.3,41.5" fill="#ba3006"/>
<polygon points="639,45.8 641.2,46.8 643.6,44 641.4,42.6" fill="#cd4c0f"/>
<polygon points="622.7,45.2 626.3,44.9 628.7,41.5 625.2,42.5" fill="#d56218"/>
<polygon points="624.9,45 628.5,44.8 630.9,41.2 627.4,41.8" fill="#c9430b"/>
<polygon points="627.2,44.8 630.7,44.9 633.1,41.2 629.6,41.4" fill="#bb3106"/>
<polygon points="629.4,44.8 632.9,45.3 635.3,41.5 631.8,41.1" fill="#b22804"/>
<polygon points="631.6,45 635.1,45.8 637.5,42.2 634,41.3" fill="#b22804"/>
<polygon points="633.8,45.5 637.4,46.5 639.6,43.2 636.1,41.7" fill="#bb3106"/>
<polygon points="636,46.1 639.6,47.4 641.8,44.4 638.3,42.6" fill="#c9430b"/>
<polygon points="638.2,46.9 640.5,47.7 642.7,44.9 640.5,43.7" fill="#d56218"/>
<polygon points="622,46.1 625.5,46 627.8,42.6 624.3,43.4" fill="#da7c23"/>
<polygon points="624.2,46.1 627.8,46.1 630,42.4 626.5,42.9" fill="#d46017"/>
<polygon points="626.4,46 630,46.2 632.2,42.4 628.7,42.5" fill="#cc4b0e"/>
<polygon points="628.7,46.1 632.2,46.6 634.4,42.8 630.9,42.4" fill="#c7410b"/>
<polygon points="630.9,46.3 634.4,47.1 636.6,43.4 633.1,42.5" fill="#c7410b"/>
<polygon points="633.1,46.7 636.7,47.7 638.8,44.3 635.3,43" fill="#cc4b0e"/>
<polygon points="635.3,47.3 638.9,48.4 641,45.4 637.5,43.8" fill="#d46017"/>
<polygon points="637.6,48 639.8,48.7 641.9,45.9 639.7,44.8" fill="#da7c23"/>
<polygon points="621.3,47.1 624.8,47.2 627,43.8 623.4,44.4" fill="#d9962d"/>
<polygon points="623.5,47.2 627.1,47.3 629.2,43.7 625.6,44" fill="#da8125"/>
<polygon points="625.7,47.3 629.3,47.6 631.4,43.7 627.9,43.7" fill="#d86f1d"/>
<polygon points="628,47.4 631.5,47.9 633.6,44.1 630.1,43.7" fill="#d66519"/>
<polygon points="630.2,47.7 633.8,48.3 635.8,44.7 632.3,43.8" fill="#d66519"/>
<polygon points="632.4,48.1 636,48.9 638,45.5 634.5,44.3" fill="#d86f1d"/>
<polygon points="634.7,48.6 638.2,49.5 640.2,46.5 636.7,45" fill="#da8125"/>
<polygon points="636.9,49.1 639.1,49.7 641.1,46.9 638.9,45.9" fill="#d9962d"/>
<polygon points="620.5,48.1 624.1,48.4 626.2,45 622.6,45.3" fill="#d1ab31"/>
<polygon points="622.8,48.3 626.4,48.7 628.4,45 624.8,45.1" fill="#d79e30"/>
<polygon points="625,48.5 628.6,48.9 630.6,45.1 627.1,45" fill="#d9942d"/>
<polygon points="627.3,48.8 630.9,49.3 632.8,45.4 629.3,45" fill="#da8e2a"/>
<polygon points="629.5,49.1 633.1,49.7 635,46 631.5,45.2" fill="#da8e2a"/>
<polygon points="631.8,49.4 635.3,50.1 637.3,46.7 633.7,45.6" fill="#d9942d"/>
<polygon points="634,49.8 637.6,50.5 639.5,47.5 635.9,46.2" fill="#d79e30"/>
<polygon points="636.2,50.2 638.5,50.7 640.4,47.9 638.2,47" fill="#d1ab31"/>
<polygon points="619.8,49 623.4,49.6 625.4,46.2 621.9,46.3" fill="#c0c02f"/>
<polygon points="622.1,49.4 625.7,50 627.6,46.3 624.1,46.2" fill="#c7b831"/>
<polygon points="624.3,49.8 627.9,50.3 629.9,46.5 626.3,46.2" fill="#cdb232"/>
<polygon points="626.6,50.1 630.2,50.6 632.1,46.8 628.5,46.3" fill="#cfae32"/>
<polygon points="628.8,50.4 632.4,51 634.3,47.3 630.8,46.6" fill="#cfae32"/>
<polygon points="631.1,50.8 634.7,51.3 636.6,47.9 633,47" fill="#cdb232"/>
<polygon points="633.3,51.1 636.9,51.6 638.8,48.6 635.2,47.5" fill="#c7b831"/>
<polygon points="635.6,51.4 637.8,51.7 639.7,48.9 637.4,48.2" fill="#c0c02f"/>
<polygon points="619.1,50 622.7,50.8 624.7,47.5 621.1,47.3" fill="#a8cf2d"/>
<polygon points="621.4,50.5 625,51.3 626.9,47.6 623.3,47.4" fill="#adcc2d"/>
<polygon points="623.6,51 627.2,51.7 629.2,47.9 625.6,47.5" fill="#b1ca2d"/>
<polygon points="625.9,51.5 629.5,52 631.4,48.2 627.8,47.7" fill="#b3c92d"/>
<polygon points="628.2,51.8 631.8,52.3 633.6,48.6 630,48" fill="#b3c92d"/>
<polygon points="630.4,52.1 634,52.5 635.9,49.1 632.3,48.4" fill="#b1ca2d"/>
<polygon points="632.7,52.4 636.3,52.6 638.1,49.7 634.5,48.8" fill="#adcc2d"/>
<polygon points="634.9,52.5 637.2,52.7 639,49.9 636.8,49.3" fill="#a8cf2d"/>
<polygon points="619.6,49.3 623.2,49.9 624,48.7 620.4,48.3" fill="#8ed833"/>
<polygon points="621.9,49.7 625.5,50.3 626.2,49 622.6,48.5" fill="#8ed833"/>
<polygon points="624.1,50.1 627.7,50.7 628.4,49.3 624.9,48.8" fill="#8ed833"/>
<polygon points="626.4,50.5 630,51 630.7,49.6 627.1,49.1" fill="#8ed833"/>
<polygon points="628.6,50.8 632.3,51.3 632.9,50 629.3,49.4" fill="#8ed833"/>
<polygon points="630.9,51.1 634.5,51.6 635.2,50.4 631.6,49.7" fill="#8ed833"/>
<polygon points="633.2,51.4 636.8,51.9 637.4,50.8 633.8,50.1" fill="#8ed833"/>
<polygon points="635.4,51.7 637.7,52 638.3,50.9 636.1,50.5" fill="#8ed833"/>
<polygon points="600.6,54.5 604.6,54.2 607.2,56.6 603.3,56" fill="#a9cf2d"/>
<polygon points="603.1,54.3 607,54.2 609.6,57 605.7,56.4" fill="#aecc2d"/>
<polygon points="605.5,54.2 609.5,54.4 612,57.4 608.1,56.8" fill="#b2ca2d"/>
<polygon points="608,54.2 612,54.8 614.5,57.8 610.6,57.2" fill="#b3c92d"/>
<polygon points="610.5,54.5 614.4,55.5 616.9,58.3 613,57.6" fill="#b3c92d"/>
<polygon points="613,55.1 616.9,56.5 619.4,58.7 615.5,58" fill="#b2ca2d"/>
<polygon points="615.4,55.9 619.4,57.5 621.8,59.2 617.9,58.4" fill="#aecc2d"/>
<polygon points="617.9,56.9 620.4,58 622.8,59.4 620.3,58.9" fill="#a9cf2d"/>
<polygon points="599.5,54.1 603.5,53.5 606.2,55.7 602.3,55.4" fill="#c9b631"/>
<polygon points="602,53.7 606,53.3 608.7,55.9 604.7,55.6" fill="#d0ac32"/>
<polygon points="604.5,53.4 608.5,53.4 611.1,56.2 607.2,55.7" fill="#d5a431"/>
<polygon points="607,53.3 611,53.9 613.5,56.6 609.6,56" fill="#d69f30"/>
<polygon points="609.5,53.6 613.4,54.7 616,57.2 612.1,56.4" fill="#d69f30"/>
<polygon points="611.9,54.2 615.9,55.8 618.4,57.8 614.5,56.8" fill="#d5a431"/>
<polygon points="614.4,55.1 618.4,57.1 620.9,58.5 617,57.4" fill="#d0ac32"/>
<polygon points="616.9,56.3 619.4,57.6 621.9,58.8 619.4,58.1" fill="#c9b631"/>
<polygon points="598.4,53.8 602.3,52.9 605.2,54.7 601.3,54.9" fill="#d9972e"/>
<polygon points="600.8,53.2 604.8,52.6 607.7,54.8 603.7,54.8" fill="#da8326"/>
<polygon points="603.3,52.8 607.3,52.7 610.1,55 606.2,54.8" fill="#d8711e"/>
<polygon points="605.8,52.6 609.8,53.2 612.6,55.5 608.7,54.9" fill="#d6671a"/>
<polygon points="608.3,52.8 612.3,54.1 615,56.1 611.1,55.2" fill="#d6671a"/>
<polygon points="610.8,53.5 614.8,55.3 617.5,57 613.6,55.7" fill="#d8711e"/>
<polygon points="613.3,54.5 617.3,56.7 620,57.9 616,56.4" fill="#da8326"/>
<polygon points="615.8,55.9 618.3,57.4 621,58.3 618.5,57.3" fill="#d9972e"/>
<polygon points="597,53.8 601,52.7 604.1,53.9 600.2,54.4" fill="#d8711e"/>
<polygon points="599.5,53.1 603.5,52.3 606.6,53.8 602.7,54" fill="#d05212"/>
<polygon points="602,52.5 606,52.4 609.1,54 605.1,53.8" fill="#c63e0a"/>
<polygon points="604.5,52.3 608.5,52.9 611.6,54.4 607.6,53.8" fill="#bf3507"/>
<polygon points="607,52.5 611,53.8 614,55.2 610.1,54.1" fill="#bf3507"/>
<polygon points="609.5,53.2 613.5,55.2 616.5,56.2 612.6,54.7" fill="#c63e0a"/>
<polygon points="612,54.3 616,56.7 619,57.3 615,55.5" fill="#d05212"/>
<polygon points="614.5,55.8 617,57.4 620,57.8 617.5,56.6" fill="#d8711e"/>
<polygon points="595.3,54.3 599.4,53.1 603,53.2 599,54" fill="#ce4e10"/>
<polygon points="597.9,53.5 601.9,52.7 605.5,53 601.5,53.4" fill="#bb3106"/>
<polygon points="600.4,52.9 604.4,52.7 607.9,53 604,53.1" fill="#a71f02"/>
<polygon points="602.9,52.7 606.9,53.3 610.4,53.5 606.5,52.9" fill="#991701"/>
<polygon points="605.4,52.9 609.5,54.2 612.9,54.4 608.9,53.2" fill="#991701"/>
<polygon points="608,53.6 612,55.6 615.4,55.5 611.4,53.8" fill="#a71f02"/>
<polygon points="610.5,54.8 614.5,57.3 617.9,56.9 613.9,54.8" fill="#bb3106"/>
<polygon points="613,56.3 615.5,58 618.9,57.4 616.4,56" fill="#ce4e10"/>
<polygon points="593.7,55.4 597.8,54.4 601.6,52.8 597.6,53.8" fill="#c23a08"/>
<polygon points="596.2,54.7 600.3,54 604.1,52.4 600.1,53.1" fill="#a61e02"/>
<polygon points="598.8,54.2 602.8,54.1 606.6,52.4 602.6,52.6" fill="#890f01"/>
<polygon points="601.3,54 605.4,54.6 609.1,52.9 605.1,52.4" fill="#780801"/>
<polygon points="603.9,54.2 607.9,55.5 611.6,53.9 607.6,52.6" fill="#780801"/>
<polygon points="606.4,54.9 610.5,56.9 614.1,55.2 610.1,53.3" fill="#890f01"/>
<polygon points="609,56 613,58.5 616.6,56.7 612.6,54.3" fill="#a61e02"/>
<polygon points="611.5,57.5 614,59.1 617.6,57.3 615.1,55.8" fill="#c23a08"/>
<polygon points="592.5,56.5 596.6,55.7 600.2,52.8 596.2,54" fill="#be3407"/>
<polygon points="595.1,56 599.2,55.5 602.7,52.4 598.7,53.2" fill="#9e1a01"/>
<polygon points="597.6,55.6 601.7,55.6 605.2,52.4 601.2,52.6" fill="#7e0a01"/>
<polygon points="600.2,55.5 604.3,56.1 607.8,52.9 603.7,52.4" fill="#6c0402"/>
<polygon points="602.8,55.7 606.9,57 610.3,53.9 606.2,52.6" fill="#6c0402"/>
<polygon points="605.3,56.4 609.4,58.2 612.8,55.3 608.8,53.3" fill="#7e0a01"/>
<polygon points="607.9,57.4 612,59.7 615.3,56.9 611.3,54.4" fill="#9e1a01"/>
<polygon points="610.4,58.8 613,60.3 616.3,57.6 613.8,55.9" fill="#be3407"/>
<polygon points="591.8,57.4 595.9,56.8 598.9,53.4 594.8,54.6" fill="#c23908"/>
<polygon points="594.3,57 598.4,56.6 601.4,53 597.4,53.8" fill="#a51e02"/>
<polygon points="596.9,56.7 601,56.8 603.9,53 599.9,53.2" fill="#880f01"/>
<polygon points="599.5,56.7 603.6,57.3 606.5,53.6 602.4,53" fill="#770701"/>
<polygon points="602,57 606.1,58.2 609,54.5 605,53.2" fill="#770701"/>
<polygon points="604.6,57.6 608.7,59.3 611.5,55.9 607.5,53.9" fill="#880f01"/>
<polygon points="607.2,58.6 611.3,60.7 614.1,57.6 610,55.1" fill="#a51e02"/>
<polygon points="609.7,59.8 612.3,61.2 615.1,58.3 612.6,56.6" fill="#c23908"/>
<polygon points="591.1,58.3 595.2,57.9 597.8,54.4 593.7,55.4" fill="#cb460d"/>
<polygon points="593.7,58 597.8,57.8 600.3,54 596.2,54.7" fill="#b52a05"/>
<polygon points="596.2,57.8 600.4,58 602.8,54.1 598.8,54.2" fill="#9e1901"/>
<polygon points="598.8,57.8 602.9,58.5 605.4,54.6 601.3,54" fill="#8f1201"/>
<polygon points="601.4,58.2 605.5,59.3 607.9,55.5 603.9,54.2" fill="#8f1201"/>
<polygon points="604,58.8 608.1,60.4 610.5,56.9 606.4,54.9" fill="#9e1901"/>
<polygon points="606.5,59.7 610.7,61.6 613,58.5 609,56" fill="#b52a05"/>
<polygon points="609.1,60.8 611.7,62.1 614.1,59.1 611.5,57.5" fill="#cb460d"/>
<polygon points="590.4,59.2 594.6,59 596.8,55.4 592.7,56.3" fill="#d35c15"/>
<polygon points="593,59 597.2,59 599.4,55.2 595.3,55.7" fill="#c53d09"/>
<polygon points="595.6,59 599.7,59.3 601.9,55.3 597.8,55.3" fill="#b52b05"/>
<polygon points="598.2,59.1 602.3,59.8 604.5,55.8 600.4,55.2" fill="#ab2203"/>
<polygon points="600.8,59.4 604.9,60.5 607,56.7 602.9,55.4" fill="#ab2203"/>
<polygon points="603.4,60.1 607.5,61.5 609.6,58 605.5,56.1" fill="#b52b05"/>
<polygon points="605.9,60.9 610.1,62.6 612.2,59.4 608.1,57.2" fill="#c53d09"/>
<polygon points="608.5,61.9 611.1,63 613.2,60.1 610.6,58.5" fill="#d35c15"/>
<polygon points="589.8,60.1 593.9,60.2 596,56.6 591.9,57.3" fill="#d97620"/>
<polygon points="592.4,60.1 596.5,60.3 598.5,56.4 594.4,56.8" fill="#d25814"/>
<polygon points="595,60.2 599.1,60.6 601.1,56.6 597,56.5" fill="#c9430b"/>
<polygon points="597.6,60.4 601.7,61.1 603.7,57.1 599.6,56.5" fill="#c33a08"/>
<polygon points="600.2,60.8 604.3,61.8 606.2,58 602.1,56.7" fill="#c33a08"/>
<polygon points="602.7,61.4 606.9,62.6 608.8,59.1 604.7,57.4" fill="#c9430b"/>
<polygon points="605.3,62.1 609.5,63.6 611.4,60.5 607.3,58.4" fill="#d25814"/>
<polygon points="607.9,63 610.5,64 612.4,61.1 609.8,59.7" fill="#d97620"/>
<polygon points="589.2,61.1 593.3,61.4 595.2,57.8 591.1,58.3" fill="#da902b"/>
<polygon points="591.8,61.2 595.9,61.6 597.8,57.8 593.7,58" fill="#d97922"/>
<polygon points="594.3,61.4 598.5,62 600.4,58 596.3,57.8" fill="#d6661a"/>
<polygon points="596.9,61.7 601.1,62.5 603,58.5 598.8,57.8" fill="#d35c16"/>
<polygon points="599.5,62.2 603.7,63.1 605.5,59.3 601.4,58.1" fill="#d35c16"/>
<polygon points="602.1,62.7 606.3,63.8 608.1,60.3 604,58.8" fill="#d6661a"/>
<polygon points="604.7,63.4 608.9,64.6 610.7,61.6 606.6,59.7" fill="#d97922"/>
<polygon points="607.3,64.1 609.9,65 611.7,62.1 609.1,60.8" fill="#da902b"/>
<polygon points="588.5,62.1 592.7,62.6 594.5,59.1 590.4,59.3" fill="#d3a731"/>
<polygon points="591.1,62.4 595.3,62.9 597.1,59.1 593,59.1" fill="#d8992e"/>
<polygon points="593.7,62.7 597.9,63.4 599.7,59.4 595.5,59.1" fill="#da8c2a"/>
<polygon points="596.3,63.1 600.5,63.9 602.3,59.9 598.1,59.2" fill="#da8527"/>
<polygon points="598.9,63.6 603.1,64.4 604.9,60.6 600.7,59.6" fill="#da8527"/>
<polygon points="601.5,64.1 605.7,65 607.4,61.6 603.3,60.2" fill="#da8c2a"/>
<polygon points="604.1,64.7 608.3,65.7 610,62.7 605.9,61" fill="#d8992e"/>
<polygon points="606.7,65.3 609.4,66 611.1,63.1 608.5,62" fill="#d3a731"/>
<polygon points="587.9,63 592.1,63.8 593.8,60.3 589.7,60.3" fill="#c4bb30"/>
<polygon points="590.5,63.5 594.7,64.3 596.4,60.5 592.3,60.3" fill="#ccb232"/>
<polygon points="593.1,64 597.3,64.8 599,60.8 594.9,60.4" fill="#d1ab31"/>
<polygon points="595.7,64.5 599.9,65.3 601.6,61.3 597.5,60.6" fill="#d3a731"/>
<polygon points="598.3,65 602.5,65.8 604.2,62 600.1,61" fill="#d3a731"/>
<polygon points="600.9,65.5 605.1,66.3 606.8,62.8 602.6,61.6" fill="#d1ab31"/>
<polygon points="603.5,66 607.7,66.8 609.4,63.8 605.2,62.3" fill="#ccb232"/>
<polygon points="606.2,66.5 608.8,67 610.4,64.1 607.8,63.2" fill="#c4bb30"/>
<polygon points="587.2,64 591.4,65 593.2,61.6 589,61.3" fill="#aecc2d"/>
<polygon points="589.8,64.7 594,65.6 595.8,61.9 591.6,61.5" fill="#b4c82d"/>
<polygon points="592.5,65.3 596.6,66.2 598.4,62.3 594.2,61.7" fill="#b9c52e"/>
<polygon points="595.1,65.8 599.3,66.6 601,62.8 596.8,62" fill="#bbc32e"/>
<polygon points="597.7,66.4 601.9,67.1 603.6,63.4 599.4,62.5" fill="#bbc32e"/>
<polygon points="600.3,66.8 604.5,67.5 606.2,64.1 602,63" fill="#b9c52e"/>
<polygon points="602.9,67.2 607.1,67.8 608.8,64.9 604.6,63.7" fill="#b4c82d"/>
<polygon points="605.6,67.6 608.2,68 609.8,65.2 607.2,64.4" fill="#aecc2d"/>
<polygon points="587.7,63.3 591.9,64.2 592.5,62.9 588.3,62.3" fill="#95d631"/>
<polygon points="590.3,63.9 594.5,64.7 595.1,63.3 591,62.7" fill="#97d630"/>
<polygon points="592.9,64.4 597.1,65.2 597.7,63.7 593.6,63" fill="#98d630"/>
<polygon points="595.5,64.9 599.7,65.7 600.3,64.2 596.2,63.5" fill="#99d530"/>
<polygon points="598.1,65.4 602.3,66.1 602.9,64.8 598.8,63.9" fill="#99d530"/>
<polygon points="600.7,65.9 604.9,66.6 605.6,65.4 601.4,64.4" fill="#98d630"/>
<polygon points="603.4,66.3 607.5,67.1 608.2,66 604,65" fill="#97d630"/>
<polygon points="606,66.8 608.6,67.3 609.2,66.2 606.6,65.6" fill="#95d631"/>
<path d="M617 214C617 223.2 626 232.4 637 234.6C648 236.8 657 231.2 657 222Z" fill="#2e591d"/>
<path d="M615.1 215.1C615.1 224.4 624.1 233.7 635.2 236C646.3 238.3 655.3 232.7 655.3 223.4Z" fill="#315b1b"/>
<path d="M613.1 216.2C613.1 225.6 622.2 235.1 633.4 237.4C644.6 239.8 653.6 234.1 653.6 224.8Z" fill="#345c1a"/>
<path d="M611.2 217.4C611.2 226.8 620.3 236.4 631.6 238.8C642.8 241.3 651.9 235.6 651.9 226.2Z" fill="#375d19"/>
<path d="M609.3 218.5C609.3 228 618.5 237.7 629.8 240.2C641.1 242.8 650.2 237.1 650.2 227.6Z" fill="#3a5e18"/>
<path d="M607.4 219.6C607.4 229.2 616.6 239 627.9 241.7C639.3 244.3 648.5 238.6 648.5 229Z" fill="#3c5f17"/>
<path d="M605.4 220.7C605.4 230.4 614.7 240.4 626.1 243.1C637.6 245.7 646.8 240.1 646.8 230.4Z" fill="#3f6017"/>
<path d="M603.5 221.8C603.5 231.6 612.8 241.7 624.3 244.5C635.8 247.2 645.1 241.6 645.1 231.8Z" fill="#426117"/>
<path d="M601.6 223C601.6 232.8 610.9 243 622.5 245.9C634.1 248.7 643.5 243.1 643.5 233.3Z" fill="#446216"/>
<path d="M599.6 224.1C599.6 234 609.1 244.4 620.7 247.3C632.3 250.2 641.8 244.6 641.8 234.7Z" fill="#476316"/>
<path d="M597.7 225.2C597.7 235.2 607.2 245.7 618.9 248.7C630.6 251.7 640.1 246 640.1 236.1Z" fill="#496416"/>
<path d="M595.8 226.3C595.8 236.4 605.3 247 617.1 250.1C628.8 253.2 638.4 247.5 638.4 237.5Z" fill="#4b6516"/>
<path d="M593.9 227.5C593.9 237.6 603.4 248.4 615.3 251.5C627.1 254.7 636.7 249 636.7 238.9Z" fill="#4d6616"/>
<path d="M591.9 228.6C591.9 238.8 601.6 249.7 613.5 252.9C625.4 256.2 635 250.5 635 240.3Z" fill="#4f6716"/>
<path d="M590 229.7C590 240 599.7 251 611.6 254.4C623.6 257.7 633.3 252 633.3 241.7Z" fill="#506816"/>
<path d="M588.1 230.8C588.1 241.2 597.8 252.4 609.8 255.8C621.9 259.2 631.6 253.5 631.6 243.1Z" fill="#526917"/>
<path d="M586.1 231.9C586.1 242.4 595.9 253.7 608 257.2C620.1 260.6 629.9 255 629.9 244.5Z" fill="#536a17"/>
<path d="M584.2 233.1C584.2 243.6 594.1 255 606.2 258.6C618.4 262.1 628.2 256.5 628.2 245.9Z" fill="#546b17"/>
<path d="M582.3 234.2C582.3 244.8 592.2 256.4 604.4 260C616.6 263.6 626.5 258 626.5 247.3Z" fill="#556d18"/>
<path d="M580.4 235.3C580.4 246 590.3 257.7 602.6 261.4C614.9 265.1 624.8 259.4 624.8 248.7Z" fill="#556e18"/>
<path d="M578.4 236.4C578.4 247.2 588.4 259 600.8 262.8C613.1 266.6 623.1 260.9 623.1 250.1Z" fill="#557018"/>
<path d="M576.5 237.6C576.5 248.4 586.6 260.4 599 264.2C611.4 268.1 621.5 262.4 621.5 251.6Z" fill="#557219"/>
<path d="M574.6 238.7C574.6 249.6 584.7 261.7 597.2 265.6C609.6 269.6 619.8 263.9 619.8 253Z" fill="#54741a"/>
<path d="M572.6 239.8C572.6 250.8 582.8 263 595.4 267C607.9 271.1 618.1 265.4 618.1 254.4Z" fill="#53761b"/>
<path d="M570.7 240.9C570.7 252 580.9 264.4 593.5 268.5C606.2 272.6 616.4 266.9 616.4 255.8Z" fill="#51781c"/>
<path d="M568.8 242C568.8 253.2 579.1 265.7 591.7 269.9C604.4 274 614.7 268.4 614.7 257.2Z" fill="#4f7a1d"/>
<path d="M566.9 243.2C566.9 254.4 577.2 267 589.9 271.3C602.7 275.5 613 269.9 613 258.6Z" fill="#4c7c20"/>
<path d="M564.9 244.3C564.9 255.6 575.3 268.3 588.1 272.7C600.9 277 611.3 271.3 611.3 260Z" fill="#487e23"/>
<path d="M563 245.4C563 256.8 573.4 269.7 586.3 274.1C599.2 278.5 609.6 272.8 609.6 261.4Z" fill="#417f29"/>
<polygon points="563,245 617,213.6 657,221.6 656.8,223.8 656.3,225.9 655.5,227.8 654.3,229.6 652.9,231.1 604.8,272.2 602.8,273.6 600.5,274.6 598,275.3 595.2,275.6 592.3,275.4 589.3,275 586.3,274.1 583.3,272.9 580.3,271.3 577.4,269.4 574.6,267.3 572.1,264.9 569.8,262.3 567.8,259.5 566.1,256.6 564.8,253.7 563.8,250.7 563.2,247.8" fill="url(#g18)"/>
<polygon points="563,245 609.6,261 657,221.6 617,213.6" fill="#99c62b"/>
<path d="M563 245C563 256.7 573.4 269.7 586.3 274.1C599.2 278.5 609.6 272.7 609.6 261Z" fill="none"/>
<polygon points="613.8,215.5 621,217 624.1,215 617,213.6" fill="#3e66cf"/>
<polygon points="618.3,216.4 625.5,217.9 628.6,215.9 621.4,214.5" fill="#3c4cb0"/>
<polygon points="622.8,217.3 630,218.8 633,216.8 625.9,215.4" fill="#362f7c"/>
<polygon points="627.3,218.3 634.5,219.8 637.4,217.7 630.3,216.3" fill="#2e194a"/>
<polygon points="631.8,219.2 638.9,220.7 641.9,218.6 634.8,217.2" fill="#2b1137"/>
<polygon points="636.2,220.2 643.4,221.7 646.3,219.5 639.2,218" fill="#2e194a"/>
<polygon points="640.7,221.1 647.9,222.6 650.8,220.4 643.7,218.9" fill="#362f7c"/>
<polygon points="645.2,222 652.4,223.6 655.2,221.2 648.1,219.8" fill="#3c4cb0"/>
<polygon points="649.7,223 654.2,223.9 657,221.6 652.6,220.7" fill="#3e66cf"/>
<polygon points="612.6,216.2 619.8,217.7 622.9,215.8 615.8,214.3" fill="#3e67d0"/>
<polygon points="617.1,217.1 624.3,218.7 627.4,216.7 620.2,215.2" fill="#3c4eb2"/>
<polygon points="621.6,218.1 628.8,219.6 631.8,217.6 624.7,216.1" fill="#36317f"/>
<polygon points="626.1,219.1 633.3,220.6 636.3,218.5 629.2,217" fill="#2f1b4f"/>
<polygon points="630.6,220 637.8,221.6 640.8,219.4 633.6,217.9" fill="#2b133c"/>
<polygon points="635.1,221 642.3,222.5 645.2,220.3 638.1,218.9" fill="#2f1b4f"/>
<polygon points="639.6,221.9 646.8,223.5 649.7,221.2 642.5,219.8" fill="#36317f"/>
<polygon points="644.1,222.9 651.3,224.4 654.1,222.1 647,220.7" fill="#3c4eb2"/>
<polygon points="648.6,223.9 653.1,224.8 655.9,222.5 651.5,221.6" fill="#3e67d0"/>
<polygon points="611.4,216.9 618.6,218.5 621.7,216.5 614.5,215" fill="#3e6ad2"/>
<polygon points="615.9,217.9 623.1,219.4 626.2,217.4 619,216" fill="#3c50b5"/>
<polygon points="620.4,218.8 627.6,220.4 630.7,218.4 623.5,216.9" fill="#373486"/>
<polygon points="624.9,219.8 632.2,221.4 635.1,219.3 628,217.8" fill="#301f57"/>
<polygon points="629.4,220.8 636.7,222.4 639.6,220.2 632.5,218.7" fill="#2d1744"/>
<polygon points="634,221.8 641.2,223.4 644.1,221.2 636.9,219.7" fill="#301f57"/>
<polygon points="638.5,222.8 645.7,224.3 648.6,222.1 641.4,220.6" fill="#373486"/>
<polygon points="643,223.8 650.2,225.3 653.1,223 645.9,221.5" fill="#3c50b5"/>
<polygon points="647.5,224.7 652,225.7 654.8,223.4 650.4,222.5" fill="#3e6ad2"/>
<polygon points="610.1,217.6 617.4,219.2 620.5,217.3 613.3,215.7" fill="#3e6fd7"/>
<polygon points="614.7,218.6 621.9,220.2 625,218.2 617.8,216.7" fill="#3d56bd"/>
<polygon points="619.2,219.6 626.5,221.2 629.5,219.2 622.3,217.6" fill="#393b93"/>
<polygon points="623.7,220.6 631,222.2 634,220.1 626.8,218.6" fill="#332769"/>
<polygon points="628.3,221.6 635.5,223.2 638.5,221.1 631.3,219.5" fill="#301f57"/>
<polygon points="632.8,222.6 640.1,224.2 643,222 635.8,220.5" fill="#332769"/>
<polygon points="637.4,223.6 644.6,225.2 647.5,223 640.3,221.4" fill="#393b93"/>
<polygon points="641.9,224.6 649.2,226.2 652,223.9 644.8,222.4" fill="#3d56bd"/>
<polygon points="646.4,225.6 651,226.6 653.8,224.3 649.3,223.3" fill="#3e6fd7"/>
<polygon points="608.9,218.3 616.2,219.9 619.3,218 612.1,216.5" fill="#3c78dc"/>
<polygon points="613.5,219.3 620.7,221 623.8,219 616.6,217.4" fill="#3e60ca"/>
<polygon points="618,220.4 625.3,222 628.3,219.9 621.1,218.4" fill="#3b47a7"/>
<polygon points="622.6,221.4 629.9,223 632.8,220.9 625.6,219.4" fill="#373485"/>
<polygon points="627.1,222.4 634.4,224 637.4,221.9 630.1,220.3" fill="#352d76"/>
<polygon points="631.7,223.4 639,225.1 641.9,222.9 634.6,221.3" fill="#373485"/>
<polygon points="636.2,224.4 643.5,226.1 646.4,223.8 639.2,222.3" fill="#3b47a7"/>
<polygon points="640.8,225.5 648.1,227.1 650.9,224.8 643.7,223.2" fill="#3e60ca"/>
<polygon points="645.3,226.5 649.9,227.5 652.7,225.2 648.2,224.2" fill="#3c78dc"/>
<polygon points="607.7,219 615,220.7 618.1,218.8 610.9,217.2" fill="#3985e0"/>
<polygon points="612.2,220.1 619.6,221.7 622.6,219.7 615.4,218.2" fill="#3e70d8"/>
<polygon points="616.8,221.1 624.1,222.8 627.2,220.7 619.9,219.1" fill="#3d58c0"/>
<polygon points="621.4,222.2 628.7,223.8 631.7,221.7 624.4,220.1" fill="#3b47a7"/>
<polygon points="626,223.2 633.3,224.9 636.2,222.7 629,221.1" fill="#3a409c"/>
<polygon points="630.5,224.2 637.8,225.9 640.7,223.7 633.5,222.1" fill="#3b47a7"/>
<polygon points="635.1,225.3 642.4,226.9 645.3,224.7 638,223.1" fill="#3d58c0"/>
<polygon points="639.7,226.3 647,228 649.8,225.7 642.6,224.1" fill="#3e70d8"/>
<polygon points="644.2,227.4 648.8,228.4 651.6,226.1 647.1,225.1" fill="#3985e0"/>
<polygon points="606.4,219.7 613.8,221.4 616.9,219.5 609.6,217.9" fill="#2f96da"/>
<polygon points="611,220.8 618.4,222.5 621.5,220.5 614.2,218.9" fill="#3a83e0"/>
<polygon points="615.6,221.9 623,223.6 626,221.5 618.7,219.9" fill="#3e6fd7"/>
<polygon points="620.2,222.9 627.5,224.6 630.5,222.5 623.3,220.9" fill="#3e60c9"/>
<polygon points="624.8,224 632.1,225.7 635.1,223.5 627.8,221.9" fill="#3d5ac2"/>
<polygon points="629.4,225.1 636.7,226.8 639.6,224.5 632.4,222.9" fill="#3e60c9"/>
<polygon points="634,226.1 641.3,227.8 644.2,225.6 636.9,223.9" fill="#3e6fd7"/>
<polygon points="638.6,227.2 645.9,228.9 648.7,226.6 641.4,225" fill="#3a83e0"/>
<polygon points="643.1,228.2 647.7,229.3 650.5,227 646,226" fill="#2f96da"/>
<polygon points="605.2,220.5 612.6,222.2 615.7,220.2 608.4,218.6" fill="#1fabc9"/>
<polygon points="609.8,221.5 617.2,223.3 620.3,221.3 613,219.6" fill="#2a9cd6"/>
<polygon points="614.4,222.6 621.8,224.3 624.8,222.3 617.5,220.7" fill="#368bde"/>
<polygon points="619,223.7 626.4,225.4 629.4,223.3 622.1,221.7" fill="#3b7ede"/>
<polygon points="623.6,224.8 631,226.5 634,224.4 626.7,222.7" fill="#3c79dc"/>
<polygon points="628.2,225.9 635.6,227.6 638.5,225.4 631.2,223.7" fill="#3b7ede"/>
<polygon points="632.8,226.9 640.2,228.7 643.1,226.4 635.8,224.8" fill="#368bde"/>
<polygon points="637.4,228 644.8,229.8 647.6,227.5 640.3,225.8" fill="#2a9cd6"/>
<polygon points="642.1,229.1 646.7,230.2 649.5,227.9 644.9,226.8" fill="#1fabc9"/>
<polygon points="604,221.2 611.4,222.9 614.5,221 607.2,219.3" fill="#16c1ad"/>
<polygon points="608.6,222.3 616,224 619.1,222 611.8,220.4" fill="#18b6bc"/>
<polygon points="613.2,223.4 620.6,225.1 623.7,223.1 616.3,221.4" fill="#20abc9"/>
<polygon points="617.9,224.5 625.2,226.2 628.2,224.1 620.9,222.5" fill="#26a1d2"/>
<polygon points="622.5,225.6 629.9,227.3 632.8,225.2 625.5,223.5" fill="#299ed5"/>
<polygon points="627.1,226.7 634.5,228.4 637.4,226.2 630.1,224.6" fill="#26a1d2"/>
<polygon points="631.7,227.8 639.1,229.5 642,227.3 634.6,225.6" fill="#20abc9"/>
<polygon points="636.3,228.9 643.7,230.7 646.6,228.3 639.2,226.7" fill="#18b6bc"/>
<polygon points="641,230 645.6,231.1 648.4,228.8 643.8,227.7" fill="#16c1ad"/>
<polygon points="602.8,221.9 610.2,223.7 613.3,221.7 606,220" fill="#25d28e"/>
<polygon points="607.4,223 614.8,224.8 617.9,222.8 610.5,221.1" fill="#1cce99"/>
<polygon points="612,224.1 619.5,225.9 622.5,223.9 615.1,222.2" fill="#18c8a2"/>
<polygon points="616.7,225.2 624.1,227 627.1,224.9 619.7,223.2" fill="#16c3a9"/>
<polygon points="621.3,226.4 628.7,228.2 631.7,226 624.3,224.3" fill="#15c1ac"/>
<polygon points="626,227.5 633.4,229.3 636.3,227.1 628.9,225.4" fill="#16c3a9"/>
<polygon points="630.6,228.6 638,230.4 640.9,228.2 633.5,226.4" fill="#18c8a2"/>
<polygon points="635.2,229.7 642.6,231.5 645.5,229.2 638.1,227.5" fill="#1cce99"/>
<polygon points="639.9,230.9 644.5,232 647.3,229.7 642.7,228.6" fill="#25d28e"/>
<polygon points="601.5,222.6 609,224.4 612.1,222.5 604.7,220.7" fill="#52dd62"/>
<polygon points="606.2,223.7 613.6,225.6 616.7,223.6 609.3,221.8" fill="#4adc69"/>
<polygon points="610.8,224.9 618.3,226.7 621.3,224.7 613.9,222.9" fill="#42da71"/>
<polygon points="615.5,226 622.9,227.9 625.9,225.8 618.6,224" fill="#3cd976"/>
<polygon points="620.2,227.2 627.6,229 630.5,226.8 623.2,225.1" fill="#3ad879"/>
<polygon points="624.8,228.3 632.3,230.1 635.2,227.9 627.8,226.2" fill="#3cd976"/>
<polygon points="629.5,229.5 636.9,231.3 639.8,229 632.4,227.3" fill="#42da71"/>
<polygon points="634.1,230.6 641.6,232.4 644.4,230.1 637,228.4" fill="#4adc69"/>
<polygon points="638.8,231.7 643.4,232.9 646.2,230.6 641.6,229.5" fill="#52dd62"/>
<polygon points="600.3,223.3 607.8,225.2 610.9,223.2 603.5,221.4" fill="#86df3b"/>
<polygon points="605,224.5 612.5,226.3 615.5,224.3 608.1,222.6" fill="#85df3c"/>
<polygon points="609.7,225.6 617.1,227.5 620.2,225.4 612.8,223.7" fill="#83df3d"/>
<polygon points="614.3,226.8 621.8,228.7 624.8,226.6 617.4,224.8" fill="#82df3d"/>
<polygon points="619,228 626.5,229.8 629.4,227.7 622,225.9" fill="#82df3d"/>
<polygon points="623.7,229.1 631.1,231 634,228.8 626.6,227" fill="#82df3d"/>
<polygon points="628.3,230.3 635.8,232.1 638.7,229.9 631.3,228.1" fill="#83df3d"/>
<polygon points="633,231.5 640.5,233.3 643.3,231 635.9,229.2" fill="#85df3c"/>
<polygon points="637.7,232.6 642.3,233.8 645.1,231.4 640.5,230.3" fill="#86df3b"/>
<polygon points="599.1,224 606.6,225.9 609.7,224 602.3,222.2" fill="#add32e"/>
<polygon points="603.8,225.2 611.3,227.1 614.3,225.1 606.9,223.3" fill="#b1d12e"/>
<polygon points="608.5,226.4 616,228.3 619,226.2 611.6,224.4" fill="#b4d02e"/>
<polygon points="613.1,227.6 620.6,229.5 623.6,227.4 616.2,225.6" fill="#b7ce2e"/>
<polygon points="617.8,228.8 625.3,230.6 628.3,228.5 620.9,226.7" fill="#b8cd2e"/>
<polygon points="622.5,229.9 630,231.8 632.9,229.6 625.5,227.8" fill="#b7ce2e"/>
<polygon points="627.2,231.1 634.7,233 637.6,230.8 630.1,229" fill="#b4d02e"/>
<polygon points="631.9,232.3 639.4,234.2 642.2,231.9 634.8,230.1" fill="#b1d12e"/>
<polygon points="636.6,233.5 641.3,234.7 644.1,232.3 639.4,231.2" fill="#add32e"/>
<polygon points="597.9,224.7 605.4,226.7 608.5,224.7 601,222.9" fill="#cdbb32"/>
<polygon points="602.6,225.9 610.1,227.9 613.2,225.9 605.7,224" fill="#d2b533"/>
<polygon points="607.3,227.1 614.8,229.1 617.8,227 610.4,225.2" fill="#d6ae33"/>
<polygon points="612,228.3 619.5,230.3 622.5,228.2 615,226.3" fill="#d9a932"/>
<polygon points="616.7,229.5 624.2,231.5 627.1,229.3 619.7,227.5" fill="#daa732"/>
<polygon points="621.4,230.8 628.9,232.7 631.8,230.5 624.4,228.6" fill="#d9a932"/>
<polygon points="626.1,232 633.6,233.9 636.5,231.6 629,229.8" fill="#d6ae33"/>
<polygon points="630.8,233.2 638.3,235.1 641.1,232.8 633.7,230.9" fill="#d2b533"/>
<polygon points="635.5,234.4 640.2,235.6 643,233.2 638.3,232.1" fill="#cdbb32"/>
<polygon points="596.6,225.4 604.2,227.4 607.3,225.5 599.8,223.6" fill="#dd9e30"/>
<polygon points="601.3,226.7 608.9,228.6 612,226.6 604.5,224.8" fill="#df922c"/>
<polygon points="606.1,227.9 613.6,229.9 616.7,227.8 609.2,225.9" fill="#df8526"/>
<polygon points="610.8,229.1 618.3,231.1 621.3,229 613.9,227.1" fill="#de7921"/>
<polygon points="615.5,230.3 623.1,232.3 626,230.2 618.5,228.3" fill="#de7520"/>
<polygon points="620.2,231.6 627.8,233.5 630.7,231.3 623.2,229.4" fill="#de7921"/>
<polygon points="625,232.8 632.5,234.8 635.4,232.5 627.9,230.6" fill="#df8526"/>
<polygon points="629.7,234 637.2,236 640,233.7 632.6,231.8" fill="#df922c"/>
<polygon points="634.4,235.2 639.1,236.5 641.9,234.1 637.2,233" fill="#dd9e30"/>
<polygon points="595.4,226.2 603,228.2 606.1,226.2 598.6,224.3" fill="#df7d23"/>
<polygon points="600.1,227.4 607.7,229.4 610.8,227.4 603.3,225.5" fill="#dc6a1b"/>
<polygon points="604.9,228.6 612.5,230.6 615.5,228.6 608,226.7" fill="#d65713"/>
<polygon points="609.6,229.9 617.2,231.9 620.2,229.8 612.7,227.9" fill="#d0490e"/>
<polygon points="614.4,231.1 621.9,233.1 624.9,231 617.4,229.1" fill="#ce450c"/>
<polygon points="619.1,232.4 626.7,234.4 629.6,232.2 622.1,230.3" fill="#d0490e"/>
<polygon points="623.8,233.6 631.4,235.6 634.3,233.4 626.8,231.5" fill="#d65713"/>
<polygon points="628.6,234.9 636.1,236.9 639,234.6 631.5,232.6" fill="#dc6a1b"/>
<polygon points="633.3,236.1 638,237.4 640.8,235 636.1,233.8" fill="#df7d23"/>
<polygon points="594.2,226.9 601.8,228.9 604.9,227 597.4,225" fill="#d85e16"/>
<polygon points="598.9,228.1 606.5,230.2 609.6,228.2 602.1,226.2" fill="#d0490d"/>
<polygon points="603.7,229.4 611.3,231.4 614.3,229.4 606.8,227.4" fill="#c43707"/>
<polygon points="608.4,230.7 616,232.7 619,230.6 611.5,228.7" fill="#b92c05"/>
<polygon points="613.2,231.9 620.8,234 623.7,231.8 616.2,229.9" fill="#b52804"/>
<polygon points="617.9,233.2 625.6,235.2 628.5,233 620.9,231.1" fill="#b92c05"/>
<polygon points="622.7,234.5 630.3,236.5 633.2,234.2 625.6,232.3" fill="#c43707"/>
<polygon points="627.5,235.7 635.1,237.7 637.9,235.4 630.3,233.5" fill="#d0490d"/>
<polygon points="632.2,237 637,238.3 639.8,235.9 635.1,234.7" fill="#d85e16"/>
<polygon points="592.9,227.6 600.6,229.6 603.7,227.7 596.1,225.7" fill="#cf460c"/>
<polygon points="597.7,228.9 605.4,230.9 608.4,228.9 600.9,227" fill="#c13406"/>
<polygon points="602.5,230.2 610.1,232.2 613.2,230.2 605.6,228.2" fill="#af2303"/>
<polygon points="607.3,231.4 614.9,233.5 617.9,231.4 610.3,229.4" fill="#9f1901"/>
<polygon points="612,232.7 619.7,234.8 622.6,232.6 615,230.7" fill="#991501"/>
<polygon points="616.8,234 624.4,236.1 627.3,233.9 619.8,231.9" fill="#9f1901"/>
<polygon points="621.6,235.3 629.2,237.4 632.1,235.1 624.5,233.1" fill="#af2303"/>
<polygon points="626.3,236.6 634,238.6 636.8,236.3 629.2,234.4" fill="#c13406"/>
<polygon points="631.1,237.9 635.9,239.2 638.7,236.8 634,235.6" fill="#cf460c"/>
<polygon points="591.7,228.3 599.4,230.4 602.5,228.4 594.9,226.4" fill="#c63908"/>
<polygon points="596.5,229.6 604.2,231.7 607.2,229.7 599.7,227.7" fill="#b42704"/>
<polygon points="601.3,230.9 609,233 612,231 604.4,229" fill="#9c1701"/>
<polygon points="606.1,232.2 613.7,234.3 616.7,232.2 609.1,230.2" fill="#880d01"/>
<polygon points="610.9,233.5 618.5,235.6 621.5,233.5 613.9,231.5" fill="#810a01"/>
<polygon points="615.7,234.8 623.3,236.9 626.2,234.7 618.6,232.7" fill="#880d01"/>
<polygon points="620.4,236.1 628.1,238.2 631,236 623.4,234" fill="#9c1701"/>
<polygon points="625.2,237.4 632.9,239.5 635.7,237.2 628.1,235.2" fill="#b42704"/>
<polygon points="630,238.7 634.8,240 637.6,237.7 632.9,236.5" fill="#c63908"/>
<polygon points="590.5,229 598.2,231.1 601.3,229.2 593.7,227.2" fill="#bf3206"/>
<polygon points="595.3,230.3 603,232.5 606.1,230.5 598.4,228.4" fill="#ab2002"/>
<polygon points="600.1,231.7 607.8,233.8 610.8,231.7 603.2,229.7" fill="#901101"/>
<polygon points="604.9,233 612.6,235.1 615.6,233 608,231" fill="#7a0801"/>
<polygon points="609.7,234.3 617.4,236.4 620.3,234.3 612.7,232.2" fill="#710502"/>
<polygon points="614.5,235.6 622.2,237.8 625.1,235.6 617.5,233.5" fill="#7a0801"/>
<polygon points="619.3,237 627,239.1 629.9,236.8 622.2,234.8" fill="#901101"/>
<polygon points="624.1,238.3 631.8,240.4 634.6,238.1 627,236.1" fill="#ab2002"/>
<polygon points="628.9,239.6 633.7,240.9 636.5,238.6 631.8,237.3" fill="#bf3206"/>
<polygon points="589.3,229.7 597,231.9 600.1,229.9 592.5,227.9" fill="#bc2f05"/>
<polygon points="594.1,231.1 601.8,233.2 604.9,231.2 597.2,229.2" fill="#a71d02"/>
<polygon points="598.9,232.4 606.6,234.6 609.7,232.5 602,230.5" fill="#8b0f01"/>
<polygon points="603.7,233.8 611.4,235.9 614.4,233.8 606.8,231.8" fill="#740602"/>
<polygon points="608.5,235.1 616.3,237.3 619.2,235.1 611.6,233" fill="#6b0403"/>
<polygon points="613.4,236.5 621.1,238.6 624,236.4 616.3,234.3" fill="#740602"/>
<polygon points="618.2,237.8 625.9,240 628.8,237.7 621.1,235.6" fill="#8b0f01"/>
<polygon points="623,239.1 630.7,241.3 633.5,239 625.9,236.9" fill="#a71d02"/>
<polygon points="627.8,240.5 632.7,241.8 635.5,239.5 630.7,238.2" fill="#bc2f05"/>
<polygon points="588,230.4 595.8,232.6 598.9,230.7 591.2,228.6" fill="#bd3006"/>
<polygon points="592.9,231.8 600.6,234 603.7,232 596,229.9" fill="#a91e02"/>
<polygon points="597.7,233.2 605.5,235.4 608.5,233.3 600.8,231.2" fill="#8d1001"/>
<polygon points="602.5,234.5 610.3,236.7 613.3,234.6 605.6,232.5" fill="#770702"/>
<polygon points="607.4,235.9 615.1,238.1 618.1,235.9 610.4,233.8" fill="#6e0402"/>
<polygon points="612.2,237.3 620,239.5 622.9,237.3 615.2,235.2" fill="#770702"/>
<polygon points="617.1,238.6 624.8,240.8 627.7,238.6 620,236.5" fill="#8d1001"/>
<polygon points="621.9,240 629.6,242.2 632.5,239.9 624.8,237.8" fill="#a91e02"/>
<polygon points="626.7,241.4 631.6,242.7 634.4,240.4 629.6,239.1" fill="#bd3006"/>
<polygon points="586.8,231.2 594.6,233.4 597.7,231.4 590,229.3" fill="#c23507"/>
<polygon points="591.7,232.5 599.4,234.8 602.5,232.8 594.8,230.6" fill="#af2303"/>
<polygon points="596.5,233.9 604.3,236.1 607.3,234.1 599.6,232" fill="#961401"/>
<polygon points="601.4,235.3 609.1,237.5 612.1,235.4 604.4,233.3" fill="#810a01"/>
<polygon points="606.2,236.7 614,238.9 616.9,236.8 609.2,234.6" fill="#790702"/>
<polygon points="611.1,238.1 618.8,240.3 621.8,238.1 614.1,236" fill="#810a01"/>
<polygon points="615.9,239.5 623.7,241.7 626.6,239.4 618.9,237.3" fill="#961401"/>
<polygon points="620.8,240.9 628.6,243.1 631.4,240.8 623.7,238.6" fill="#af2303"/>
<polygon points="625.6,242.2 630.5,243.6 633.3,241.3 628.5,240" fill="#c23507"/>
<polygon points="585.6,231.9 593.4,234.1 596.5,232.2 588.8,230" fill="#c93f0a"/>
<polygon points="590.5,233.3 598.2,235.5 601.3,233.5 593.6,231.4" fill="#ba2c05"/>
<polygon points="595.3,234.7 603.1,236.9 606.2,234.9 598.4,232.7" fill="#a51c02"/>
<polygon points="600.2,236.1 608,238.3 611,236.2 603.3,234.1" fill="#921201"/>
<polygon points="605.1,237.5 612.9,239.7 615.8,237.6 608.1,235.4" fill="#8b0f01"/>
<polygon points="609.9,238.9 617.7,241.1 620.6,238.9 612.9,236.8" fill="#921201"/>
<polygon points="614.8,240.3 622.6,242.6 625.5,240.3 617.7,238.1" fill="#a51c02"/>
<polygon points="619.7,241.7 627.5,244 630.3,241.7 622.6,239.5" fill="#ba2c05"/>
<polygon points="624.6,243.1 629.4,244.5 632.2,242.2 627.4,240.8" fill="#c93f0a"/>
<polygon points="584.4,232.6 592.2,234.9 595.3,232.9 587.5,230.7" fill="#d24e0f"/>
<polygon points="589.2,234 597.1,236.3 600.1,234.3 592.4,232.1" fill="#c63b08"/>
<polygon points="594.1,235.4 602,237.7 605,235.7 597.2,233.5" fill="#b72904"/>
<polygon points="599,236.9 606.8,239.1 609.8,237 602.1,234.8" fill="#a81e02"/>
<polygon points="603.9,238.3 611.7,240.6 614.7,238.4 606.9,236.2" fill="#a21a02"/>
<polygon points="608.8,239.7 616.6,242 619.5,239.8 611.8,237.6" fill="#a81e02"/>
<polygon points="613.7,241.1 621.5,243.4 624.4,241.2 616.6,239" fill="#b72904"/>
<polygon points="618.6,242.6 626.4,244.8 629.2,242.5 621.5,240.3" fill="#c63b08"/>
<polygon points="623.5,244 628.3,245.4 631.1,243.1 626.3,241.7" fill="#d24e0f"/>
<polygon points="583.1,233.3 591,235.6 594.1,233.7 586.3,231.4" fill="#da6418"/>
<polygon points="588,234.7 595.9,237.1 599,235.1 591.2,232.8" fill="#d24f10"/>
<polygon points="592.9,236.2 600.8,238.5 603.8,236.5 596,234.2" fill="#c83d09"/>
<polygon points="597.8,237.6 605.7,240 608.7,237.9 600.9,235.6" fill="#be3106"/>
<polygon points="602.7,239.1 610.6,241.4 613.5,239.2 605.8,237" fill="#ba2d05"/>
<polygon points="607.6,240.5 615.5,242.8 618.4,240.6 610.6,238.4" fill="#be3106"/>
<polygon points="612.6,242 620.4,244.3 623.3,242 615.5,239.8" fill="#c83d09"/>
<polygon points="617.5,243.4 625.3,245.7 628.1,243.4 620.3,241.2" fill="#d24f10"/>
<polygon points="622.4,244.9 627.3,246.3 630.1,244 625.2,242.6" fill="#da6418"/>
<polygon points="581.9,234 589.8,236.4 592.9,234.4 585.1,232.2" fill="#df7f24"/>
<polygon points="586.8,235.5 594.7,237.8 597.8,235.8 590,233.6" fill="#dc6d1c"/>
<polygon points="591.7,236.9 599.6,239.3 602.7,237.2 594.8,235" fill="#d65914"/>
<polygon points="596.7,238.4 604.5,240.8 607.5,238.7 599.7,236.4" fill="#d14c0f"/>
<polygon points="601.6,239.9 609.5,242.2 612.4,240.1 604.6,237.8" fill="#cf470d"/>
<polygon points="606.5,241.3 614.4,243.7 617.3,241.5 609.5,239.2" fill="#d14c0f"/>
<polygon points="611.4,242.8 619.3,245.2 622.2,242.9 614.4,240.6" fill="#d65914"/>
<polygon points="616.3,244.3 624.2,246.6 627,244.3 619.2,242.1" fill="#dc6d1c"/>
<polygon points="621.3,245.7 626.2,247.2 629,244.9 624.1,243.5" fill="#df7f24"/>
<polygon points="580.7,234.7 588.6,237.1 591.7,235.2 583.9,232.9" fill="#de9b2f"/>
<polygon points="585.6,236.2 593.5,238.6 596.6,236.6 588.8,234.3" fill="#df8e2a"/>
<polygon points="590.5,237.7 598.4,240.1 601.5,238 593.7,235.7" fill="#df7f24"/>
<polygon points="595.5,239.2 603.4,241.6 606.4,239.5 598.5,237.2" fill="#de741f"/>
<polygon points="600.4,240.7 608.3,243.1 611.3,240.9 603.4,238.6" fill="#dd701d"/>
<polygon points="605.4,242.2 613.3,244.5 616.2,242.3 608.3,240" fill="#de741f"/>
<polygon points="610.3,243.6 618.2,246 621.1,243.8 613.2,241.5" fill="#df7f24"/>
<polygon points="615.2,245.1 623.1,247.5 626,245.2 618.1,242.9" fill="#df8e2a"/>
<polygon points="620.2,246.6 625.1,248.1 627.9,245.8 623,244.3" fill="#de9b2f"/>
<polygon points="579.4,235.4 587.4,237.8 590.5,235.9 582.6,233.6" fill="#d3b333"/>
<polygon points="584.4,236.9 592.3,239.4 595.4,237.4 587.5,235" fill="#d8ac32"/>
<polygon points="589.4,238.5 597.3,240.9 600.3,238.8 592.5,236.5" fill="#dba331"/>
<polygon points="594.3,240 602.2,242.4 605.2,240.3 597.4,237.9" fill="#dd9d2f"/>
<polygon points="599.3,241.5 607.2,243.9 610.1,241.7 602.3,239.4" fill="#de9b2f"/>
<polygon points="604.2,243 612.1,245.4 615,243.2 607.2,240.9" fill="#dd9d2f"/>
<polygon points="609.2,244.5 617.1,246.9 620,244.6 612.1,242.3" fill="#dba331"/>
<polygon points="614.1,246 622.1,248.4 624.9,246.1 617,243.8" fill="#d8ac32"/>
<polygon points="619.1,247.5 624,249 626.8,246.7 621.9,245.2" fill="#d3b333"/>
<polygon points="578.2,236.2 586.2,238.6 589.3,236.7 581.4,234.3" fill="#bdca2f"/>
<polygon points="583.2,237.7 591.1,240.1 594.2,238.1 586.3,235.8" fill="#c2c630"/>
<polygon points="588.2,239.2 596.1,241.6 599.1,239.6 591.3,237.2" fill="#c6c231"/>
<polygon points="593.1,240.7 601.1,243.2 604.1,241.1 596.2,238.7" fill="#cabe31"/>
<polygon points="598.1,242.3 606.1,244.7 609,242.6 601.1,240.2" fill="#cbbd32"/>
<polygon points="603.1,243.8 611,246.2 613.9,244 606,241.7" fill="#cabe31"/>
<polygon points="608,245.3 616,247.8 618.9,245.5 611,243.1" fill="#c6c231"/>
<polygon points="613,246.8 621,249.3 623.8,247 615.9,244.6" fill="#c2c630"/>
<polygon points="618,248.4 623,249.9 625.8,247.6 620.8,246.1" fill="#bdca2f"/>
<polygon points="577,236.9 585,239.3 588.1,237.4 580.2,235" fill="#a0d930"/>
<polygon points="582,238.4 590,240.9 593,238.9 585.1,236.5" fill="#a1d92f"/>
<polygon points="587,240 594.9,242.4 598,240.4 590.1,238" fill="#a3d82f"/>
<polygon points="592,241.5 599.9,244 602.9,241.9 595,239.5" fill="#a5d82f"/>
<polygon points="596.9,243.1 604.9,245.5 607.9,243.4 600,241" fill="#a5d72f"/>
<polygon points="601.9,244.6 609.9,247.1 612.8,244.9 604.9,242.5" fill="#a5d82f"/>
<polygon points="606.9,246.1 614.9,248.6 617.8,246.4 609.8,244" fill="#a3d82f"/>
<polygon points="611.9,247.7 619.9,250.2 622.7,247.9 614.8,245.5" fill="#a1d92f"/>
<polygon points="616.9,249.2 621.9,250.8 624.7,248.5 619.7,247" fill="#a0d930"/>
<polygon points="575.8,237.6 583.8,240.1 586.9,238.1 579,235.7" fill="#7de041"/>
<polygon points="580.8,239.1 588.8,241.7 591.9,239.7 583.9,237.2" fill="#7ae042"/>
<polygon points="585.8,240.7 593.8,243.2 596.8,241.2 588.9,238.8" fill="#77e044"/>
<polygon points="590.8,242.3 598.8,244.8 601.8,242.7 593.8,240.3" fill="#75e046"/>
<polygon points="595.8,243.8 603.8,246.4 606.7,244.2 598.8,241.8" fill="#74e047"/>
<polygon points="600.8,245.4 608.8,247.9 611.7,245.7 603.8,243.3" fill="#75e046"/>
<polygon points="605.8,247 613.8,249.5 616.7,247.2 608.7,244.8" fill="#77e044"/>
<polygon points="610.8,248.6 618.8,251.1 621.6,248.8 613.7,246.3" fill="#7ae042"/>
<polygon points="615.8,250.1 620.8,251.7 623.6,249.4 618.6,247.8" fill="#7de041"/>
<polygon points="574.5,238.3 582.6,240.8 585.7,238.9 577.7,236.4" fill="#50dd64"/>
<polygon points="579.6,239.9 587.6,242.4 590.7,240.4 582.7,238" fill="#47dc6c"/>
<polygon points="584.6,241.5 592.6,244 595.6,242 587.7,239.5" fill="#3fda74"/>
<polygon points="589.6,243.1 597.6,245.6 600.6,243.5 592.7,241" fill="#39d879"/>
<polygon points="594.6,244.6 602.7,247.2 605.6,245 597.6,242.6" fill="#37d87b"/>
<polygon points="599.6,246.2 607.7,248.8 610.6,246.6 602.6,244.1" fill="#39d879"/>
<polygon points="604.7,247.8 612.7,250.4 615.6,248.1 607.6,245.6" fill="#3fda74"/>
<polygon points="609.7,249.4 617.7,251.9 620.5,249.6 612.6,247.2" fill="#47dc6c"/>
<polygon points="614.7,251 619.7,252.6 622.5,250.3 617.5,248.7" fill="#50dd64"/>
<polygon points="573.3,239 581.4,241.6 584.5,239.6 576.5,237.2" fill="#28d38a"/>
<polygon points="578.3,240.6 586.4,243.2 589.5,241.2 581.5,238.7" fill="#20cf95"/>
<polygon points="583.4,242.2 591.4,244.8 594.5,242.8 586.5,240.3" fill="#1aca9f"/>
<polygon points="588.4,243.8 596.5,246.4 599.5,244.3 591.5,241.8" fill="#17c6a5"/>
<polygon points="593.5,245.4 601.5,248 604.5,245.9 596.5,243.4" fill="#16c4a8"/>
<polygon points="598.5,247 606.6,249.6 609.5,247.4 601.5,244.9" fill="#17c6a5"/>
<polygon points="603.5,248.7 611.6,251.2 614.5,249 606.5,246.5" fill="#1aca9f"/>
<polygon points="608.6,250.3 616.6,252.8 619.5,250.5 611.5,248" fill="#20cf95"/>
<polygon points="613.6,251.9 618.6,253.5 621.5,251.2 616.5,249.6" fill="#28d38a"/>
<polygon points="572.1,239.7 580.2,242.3 583.3,240.4 575.3,237.9" fill="#17c5a7"/>
<polygon points="577.1,241.3 585.2,244 588.3,242 580.3,239.4" fill="#17bcb3"/>
<polygon points="582.2,243 590.3,245.6 593.3,243.5 585.3,241" fill="#1bb2c1"/>
<polygon points="587.2,244.6 595.3,247.2 598.3,245.1 590.3,242.6" fill="#20aaca"/>
<polygon points="592.3,246.2 600.4,248.8 603.3,246.7 595.3,244.2" fill="#22a7ce"/>
<polygon points="597.4,247.9 605.4,250.5 608.3,248.3 600.3,245.7" fill="#20aaca"/>
<polygon points="602.4,249.5 610.5,252.1 613.4,249.8 605.3,247.3" fill="#1bb2c1"/>
<polygon points="607.5,251.1 615.6,253.7 618.4,251.4 610.4,248.9" fill="#17bcb3"/>
<polygon points="612.5,252.7 617.6,254.4 620.4,252 615.4,250.5" fill="#17c5a7"/>
<polygon points="570.9,240.4 579,243.1 582.1,241.1 574,238.6" fill="#1ab2c1"/>
<polygon points="575.9,242.1 584,244.7 587.1,242.7 579.1,240.2" fill="#24a5cf"/>
<polygon points="581,243.7 589.1,246.4 592.1,244.3 584.1,241.8" fill="#3095db"/>
<polygon points="586.1,245.4 594.2,248 597.2,245.9 589.1,243.4" fill="#3689df"/>
<polygon points="591.1,247 599.3,249.7 602.2,247.5 594.2,245" fill="#3985e0"/>
<polygon points="596.2,248.7 604.3,251.3 607.2,249.1 599.2,246.6" fill="#3689df"/>
<polygon points="601.3,250.3 609.4,253 612.3,250.7 604.2,248.2" fill="#3095db"/>
<polygon points="606.4,252 614.5,254.6 617.3,252.3 609.2,249.7" fill="#24a5cf"/>
<polygon points="611.4,253.6 616.5,255.3 619.3,252.9 614.3,251.3" fill="#1ab2c1"/>
<polygon points="569.6,241.1 577.8,243.8 580.9,241.9 572.8,239.3" fill="#299ed4"/>
<polygon points="574.7,242.8 582.9,245.5 585.9,243.5 577.9,240.9" fill="#348cde"/>
<polygon points="579.8,244.5 587.9,247.2 591,245.1 582.9,242.5" fill="#3c79dc"/>
<polygon points="584.9,246.2 593,248.8 596,246.7 588,244.1" fill="#3e6bd4"/>
<polygon points="590,247.8 598.1,250.5 601.1,248.3 593,245.8" fill="#3e66cf"/>
<polygon points="595.1,249.5 603.2,252.2 606.1,250 598,247.4" fill="#3e6bd4"/>
<polygon points="600.2,251.2 608.3,253.8 611.2,251.6 603.1,249" fill="#3c79dc"/>
<polygon points="605.2,252.8 613.4,255.5 616.2,253.2 608.1,250.6" fill="#348cde"/>
<polygon points="610.3,254.5 615.4,256.2 618.2,253.8 613.2,252.2" fill="#299ed4"/>
<polygon points="568.4,241.9 576.6,244.6 579.7,242.6 571.6,240" fill="#358cde"/>
<polygon points="573.5,243.5 581.7,246.3 584.7,244.3 576.7,241.6" fill="#3c77db"/>
<polygon points="578.6,245.2 586.8,247.9 589.8,245.9 581.7,243.3" fill="#3e61cb"/>
<polygon points="583.7,246.9 591.9,249.6 594.9,247.5 586.8,244.9" fill="#3c51b6"/>
<polygon points="588.8,248.6 597,251.3 599.9,249.2 591.8,246.5" fill="#3c4bad"/>
<polygon points="593.9,250.3 602.1,253 605,250.8 596.9,248.2" fill="#3c51b6"/>
<polygon points="599,252 607.2,254.7 610.1,252.4 602,249.8" fill="#3e61cb"/>
<polygon points="604.1,253.7 612.3,256.4 615.1,254.1 607,251.5" fill="#3c77db"/>
<polygon points="609.2,255.4 614.3,257.1 617.1,254.7 612.1,253.1" fill="#358cde"/>
<polygon points="567.2,242.6 575.4,245.3 578.5,243.4 570.4,240.7" fill="#3b7cde"/>
<polygon points="572.3,244.3 580.5,247 583.6,245 575.4,242.4" fill="#3e66cf"/>
<polygon points="577.4,246 585.6,248.7 588.6,246.7 580.5,244" fill="#3c4db1"/>
<polygon points="582.5,247.7 590.7,250.4 593.7,248.3 585.6,245.7" fill="#393a92"/>
<polygon points="587.7,249.4 595.9,252.1 598.8,250 590.7,247.3" fill="#373484"/>
<polygon points="592.8,251.1 601,253.9 603.9,251.7 595.8,249" fill="#393a92"/>
<polygon points="597.9,252.8 606.1,255.6 609,253.3 600.8,250.7" fill="#3c4db1"/>
<polygon points="603,254.5 611.2,257.3 614,255 605.9,252.3" fill="#3e66cf"/>
<polygon points="608.1,256.2 613.3,258 616.1,255.6 611,254" fill="#3b7cde"/>
<polygon points="565.9,243.3 574.2,246.1 577.3,244.1 569.1,241.4" fill="#3e71d9"/>
<polygon points="571.1,245 579.3,247.8 582.4,245.8 574.2,243.1" fill="#3d58c0"/>
<polygon points="576.2,246.7 584.4,249.5 587.5,247.5 579.3,244.8" fill="#393e97"/>
<polygon points="581.4,248.5 589.6,251.2 592.6,249.1 584.4,246.5" fill="#342a6f"/>
<polygon points="586.5,250.2 594.7,253 597.7,250.8 589.5,248.1" fill="#31225e"/>
<polygon points="591.6,251.9 599.9,254.7 602.8,252.5 594.6,249.8" fill="#342a6f"/>
<polygon points="596.8,253.7 605,256.4 607.9,254.2 599.7,251.5" fill="#393e97"/>
<polygon points="601.9,255.4 610.1,258.2 612.9,255.9 604.8,253.2" fill="#3d58c0"/>
<polygon points="607,257.1 612.2,258.9 615,256.5 609.9,254.8" fill="#3e71d9"/>
<polygon points="564.7,244 573,246.8 576.1,244.9 567.9,242.1" fill="#3e69d2"/>
<polygon points="569.9,245.8 578.1,248.5 581.2,246.6 573,243.8" fill="#3c4fb4"/>
<polygon points="575,247.5 583.3,250.3 586.3,248.3 578.1,245.5" fill="#373384"/>
<polygon points="580.2,249.2 588.4,252 591.4,250 583.2,247.2" fill="#301e55"/>
<polygon points="585.3,251 593.6,253.8 596.5,251.6 588.4,248.9" fill="#2c1641"/>
<polygon points="590.5,252.7 598.7,255.5 601.6,253.3 593.5,250.6" fill="#301e55"/>
<polygon points="595.6,254.5 603.9,257.3 606.8,255 598.6,252.3" fill="#373384"/>
<polygon points="600.8,256.2 609,259 611.9,256.7 603.7,254" fill="#3c4fb4"/>
<polygon points="606,258 611.1,259.7 613.9,257.4 608.8,255.7" fill="#3e69d2"/>
<polygon points="563.5,244.7 571.8,247.5 574.9,245.6 566.7,242.9" fill="#3e65ce"/>
<polygon points="568.7,246.5 576.9,249.3 580,247.3 571.8,244.6" fill="#3c4caf"/>
<polygon points="573.8,248.3 582.1,251.1 585.1,249 576.9,246.3" fill="#352f7a"/>
<polygon points="579,250 587.3,252.9 590.3,250.8 582.1,248" fill="#2e1948"/>
<polygon points="584.2,251.8 592.4,254.6 595.4,252.5 587.2,249.7" fill="#2a1035"/>
<polygon points="589.3,253.6 597.6,256.4 600.5,254.2 592.3,251.4" fill="#2e1948"/>
<polygon points="594.5,255.3 602.8,258.2 605.7,255.9 597.4,253.2" fill="#352f7a"/>
<polygon points="599.7,257.1 608,259.9 610.8,257.6 602.6,254.9" fill="#3c4caf"/>
<polygon points="604.9,258.9 610,260.6 612.8,258.3 607.7,256.6" fill="#3e65ce"/>
<polygon points="563,245 571.3,247.8 573.7,246.4 565.5,243.6" fill="#3e66cf"/>
<polygon points="568.2,246.8 576.5,249.6 578.8,248.1 570.6,245.3" fill="#3c4cb0"/>
<polygon points="573.4,248.6 581.6,251.4 584,249.8 575.7,247" fill="#36307d"/>
<polygon points="578.5,250.3 586.8,253.2 589.1,251.6 580.9,248.8" fill="#2e1a4b"/>
<polygon points="583.7,252.1 592,255 594.3,253.3 586,250.5" fill="#2b1138"/>
<polygon points="588.9,253.9 597.2,256.7 599.4,255 591.2,252.3" fill="#2e1a4b"/>
<polygon points="594.1,255.7 602.4,258.5 604.6,256.8 596.3,254" fill="#36307d"/>
<polygon points="599.2,257.4 607.5,260.3 609.7,258.5 601.5,255.7" fill="#3c4cb0"/>
<polygon points="604.4,259.2 609.6,261 611.8,259.2 606.6,257.5" fill="#3e66cf"/>
<polygon points="563,245 571.3,247.8 572.5,247.1 564.2,244.3" fill="#3e6bd3"/>
<polygon points="568.2,246.8 576.5,249.6 577.6,248.9 569.4,246" fill="#3c52b7"/>
<polygon points="573.4,248.6 581.6,251.4 582.8,250.6 574.5,247.8" fill="#38368a"/>
<polygon points="578.5,250.3 586.8,253.2 588,252.4 579.7,249.6" fill="#31215c"/>
<polygon points="583.7,252.1 592,255 593.1,254.1 584.9,251.3" fill="#2e1949"/>
<polygon points="588.9,253.9 597.2,256.7 598.3,255.9 590,253.1" fill="#31215c"/>
<polygon points="594.1,255.7 602.4,258.5 603.5,257.6 595.2,254.8" fill="#38368a"/>
<polygon points="599.2,257.4 607.5,260.3 608.6,259.4 600.4,256.6" fill="#3c52b7"/>
<polygon points="604.4,259.2 609.6,261 610.7,260.1 605.5,258.3" fill="#3e6bd3"/>
<path d="M563 245C563 256.7 573.4 269.7 586.3 274.1C599.2 278.5 609.6 272.7 609.6 261Z" fill="url(#g17)"/>
<polygon points="624.8,189.1 628.5,191.1 631.6,190.9 628,188.6" fill="#397dda"/>
<polygon points="627.1,190.4 630.7,192.1 633.9,192.1 630.2,190.1" fill="#3c5ac1"/>
<polygon points="629.4,191.5 633,192.9 636.1,192.9 632.5,191.4" fill="#383f98"/>
<polygon points="631.6,192.5 635.2,193.3 638.4,193.3 634.8,192.4" fill="#35307b"/>
<polygon points="633.9,193.1 637.5,193.4 640.6,193.3 637,193.1" fill="#35307b"/>
<polygon points="636.1,193.4 639.8,193.2 642.9,193 639.2,193.3" fill="#383f98"/>
<polygon points="638.4,193.4 642,192.9 645.1,192.4 641.5,193.2" fill="#3c5ac1"/>
<polygon points="640.7,193.1 642.9,192.7 646,192.2 643.8,192.8" fill="#397dda"/>
<polygon points="623.7,189.1 627.3,190.9 630.4,191.1 626.8,188.8" fill="#338ad9"/>
<polygon points="625.9,190.3 629.5,191.9 632.7,192.2 629.1,190.3" fill="#3c6bd0"/>
<polygon points="628.2,191.4 631.8,192.6 634.9,193 631.3,191.6" fill="#3b51b5"/>
<polygon points="630.5,192.2 634.1,193 637.2,193.4 633.6,192.6" fill="#3944a0"/>
<polygon points="632.7,192.8 636.3,193.2 639.4,193.4 635.8,193.2" fill="#3944a0"/>
<polygon points="635,193.1 638.6,193.1 641.7,193.2 638.1,193.5" fill="#3b51b5"/>
<polygon points="637.2,193.2 640.9,192.9 644,192.7 640.4,193.4" fill="#3c6bd0"/>
<polygon points="639.5,193 641.8,192.8 644.9,192.5 642.6,193" fill="#338ad9"/>
<polygon points="622.5,189.1 626.1,190.7 629.3,191.1 625.7,189" fill="#289ad0"/>
<polygon points="624.8,190.1 628.4,191.6 631.5,192.2 627.9,190.4" fill="#397edb"/>
<polygon points="627,191.1 630.7,192.3 633.8,193 630.2,191.6" fill="#3c68ce"/>
<polygon points="629.3,191.9 632.9,192.7 636,193.4 632.4,192.5" fill="#3c5cc3"/>
<polygon points="631.6,192.5 635.2,192.9 638.3,193.5 634.7,193.2" fill="#3c5cc3"/>
<polygon points="633.8,192.8 637.5,192.9 640.6,193.2 636.9,193.5" fill="#3c68ce"/>
<polygon points="636.1,192.9 639.7,192.8 642.8,192.8 639.2,193.4" fill="#397edb"/>
<polygon points="638.4,192.9 640.6,192.8 643.7,192.6 641.5,193.1" fill="#289ad0"/>
<polygon points="621.4,189 625,190.4 628.1,191.1 624.5,189.1" fill="#1babbf"/>
<polygon points="623.7,189.9 627.3,191.2 630.4,192.1 626.8,190.4" fill="#2c95d4"/>
<polygon points="625.9,190.8 629.6,191.8 632.6,192.8 629,191.5" fill="#3782db"/>
<polygon points="628.2,191.5 631.8,192.3 634.9,193.2 631.3,192.4" fill="#3a78d8"/>
<polygon points="630.5,192 634.1,192.5 637.2,193.4 633.5,193" fill="#3a78d8"/>
<polygon points="632.7,192.4 636.4,192.7 639.4,193.2 635.8,193.3" fill="#3782db"/>
<polygon points="635,192.6 638.6,192.7 641.7,192.9 638.1,193.3" fill="#2c95d4"/>
<polygon points="637.3,192.7 639.6,192.7 642.6,192.8 640.3,193.1" fill="#1babbf"/>
<polygon points="620.3,188.9 624,190.1 627,190.9 623.4,189.1" fill="#15bda9"/>
<polygon points="622.6,189.6 626.2,190.8 629.2,191.8 625.6,190.3" fill="#1bacbe"/>
<polygon points="624.9,190.4 628.5,191.3 631.5,192.5 627.9,191.3" fill="#259fcc"/>
<polygon points="627.1,191 630.8,191.8 633.8,193 630.1,192.1" fill="#2b96d3"/>
<polygon points="629.4,191.5 633,192.1 636,193.1 632.4,192.7" fill="#2b96d3"/>
<polygon points="631.7,191.9 635.3,192.4 638.3,193.1 634.7,193.1" fill="#259fcc"/>
<polygon points="634,192.2 637.6,192.5 640.6,192.9 636.9,193.1" fill="#1bacbe"/>
<polygon points="636.2,192.4 638.5,192.6 641.5,192.8 639.2,193" fill="#15bda9"/>
<polygon points="619.3,188.7 622.9,189.7 625.9,190.6 622.2,189.1" fill="#1fca92"/>
<polygon points="621.5,189.4 625.2,190.3 628.1,191.5 624.5,190.1" fill="#17c1a2"/>
<polygon points="623.8,190 627.4,190.8 630.4,192.2 626.8,191" fill="#16b9ae"/>
<polygon points="626.1,190.5 629.7,191.3 632.7,192.6 629,191.8" fill="#17b3b5"/>
<polygon points="628.4,191 632,191.7 634.9,192.8 631.3,192.4" fill="#17b3b5"/>
<polygon points="630.6,191.5 634.3,192 637.2,192.9 633.6,192.7" fill="#16b9ae"/>
<polygon points="632.9,191.8 636.5,192.4 639.5,192.8 635.8,192.9" fill="#17c1a2"/>
<polygon points="635.2,192.2 637.5,192.5 640.4,192.8 638.1,192.9" fill="#1fca92"/>
<polygon points="618.2,188.6 621.8,189.3 624.8,190.3 621.1,189" fill="#3ad474"/>
<polygon points="620.5,189 624.1,189.8 627,191.1 623.4,189.8" fill="#2bd083"/>
<polygon points="622.8,189.5 626.4,190.3 629.3,191.7 625.7,190.7" fill="#23cc8d"/>
<polygon points="625,190 628.7,190.8 631.6,192.2 627.9,191.4" fill="#1eca92"/>
<polygon points="627.3,190.5 631,191.2 633.8,192.4 630.2,191.9" fill="#1eca92"/>
<polygon points="629.6,191 633.2,191.7 636.1,192.6 632.5,192.3" fill="#23cc8d"/>
<polygon points="631.9,191.4 635.5,192.2 638.4,192.7 634.7,192.5" fill="#2bd083"/>
<polygon points="634.1,191.9 636.4,192.3 639.3,192.7 637,192.6" fill="#3ad474"/>
<polygon points="617.2,188.4 620.8,188.9 623.7,190 620,188.8" fill="#60db53"/>
<polygon points="619.4,188.7 623.1,189.3 626,190.7 622.3,189.6" fill="#56d95b"/>
<polygon points="621.7,189.1 625.4,189.8 628.2,191.2 624.6,190.3" fill="#4ed862"/>
<polygon points="624,189.5 627.6,190.2 630.5,191.7 626.9,190.9" fill="#4ad765"/>
<polygon points="626.3,189.9 629.9,190.8 632.8,192 629.1,191.4" fill="#4ad765"/>
<polygon points="628.6,190.4 632.2,191.3 635,192.3 631.4,191.8" fill="#4ed862"/>
<polygon points="630.8,191 634.5,192 637.3,192.5 633.7,192.1" fill="#56d95b"/>
<polygon points="633.1,191.6 635.4,192.2 638.2,192.6 636,192.4" fill="#60db53"/>
<polygon points="617.9,188.5 621.6,189.2 622.6,189.6 619,188.7" fill="#83da3a"/>
<polygon points="620.2,189 623.8,189.7 624.9,190.2 621.2,189.3" fill="#81da3b"/>
<polygon points="622.5,189.4 626.1,190.1 627.2,190.7 623.5,189.8" fill="#80da3c"/>
<polygon points="624.7,189.9 628.4,190.6 629.4,191.2 625.8,190.4" fill="#7fda3c"/>
<polygon points="627,190.3 630.7,191.1 631.7,191.6 628.1,190.9" fill="#7fda3c"/>
<polygon points="629.3,190.8 632.9,191.6 634,192 630.4,191.3" fill="#80da3c"/>
<polygon points="631.6,191.3 635.2,192.1 636.3,192.3 632.6,191.7" fill="#81da3b"/>
<polygon points="633.9,191.8 636.1,192.3 637.2,192.4 634.9,192.1" fill="#83da3a"/>
<polygon points="587.8,203.6 591.6,204.9 593.7,202.4 589.9,201.5" fill="#81da3b"/>
<polygon points="590.2,204.4 594,205.6 596,203 592.3,202.1" fill="#7fda3c"/>
<polygon points="592.6,205.2 596.3,206.2 598.4,203.5 594.6,202.7" fill="#7ddb3d"/>
<polygon points="594.9,205.8 598.7,206.7 600.7,204.1 597,203.2" fill="#7cdb3e"/>
<polygon points="597.3,206.4 601.1,207.2 603.1,204.6 599.3,203.7" fill="#7cdb3e"/>
<polygon points="599.7,206.9 603.4,207.5 605.5,205.1 601.7,204.3" fill="#7ddb3d"/>
<polygon points="602,207.3 605.8,207.8 607.8,205.6 604,204.8" fill="#7fda3c"/>
<polygon points="604.4,207.6 606.7,207.9 608.8,205.9 606.4,205.3" fill="#81da3b"/>
<polygon points="587.1,204.3 590.9,205.7 592.9,203.3 589.1,202.3" fill="#6ddb49"/>
<polygon points="589.4,205.2 593.2,206.5 595.3,203.9 591.5,203" fill="#66db4e"/>
<polygon points="591.8,206.1 595.6,207.2 597.6,204.5 593.9,203.6" fill="#61db52"/>
<polygon points="594.2,206.8 597.9,207.7 600,205.1 596.2,204.2" fill="#5eda54"/>
<polygon points="596.5,207.4 600.3,208.1 602.3,205.6 598.6,204.7" fill="#5eda54"/>
<polygon points="598.9,207.9 602.7,208.4 604.7,206 600.9,205.3" fill="#61db52"/>
<polygon points="601.3,208.2 605,208.6 607.1,206.5 603.3,205.7" fill="#66db4e"/>
<polygon points="603.6,208.5 606,208.7 608,206.6 605.6,206.2" fill="#6ddb49"/>
<polygon points="586.3,205.1 590.1,206.6 592.1,204.2 588.4,203.1" fill="#57d95a"/>
<polygon points="588.7,206.1 592.4,207.5 594.5,204.9 590.7,203.8" fill="#4bd764"/>
<polygon points="591,207 594.8,208.2 596.9,205.5 593.1,204.5" fill="#43d66c"/>
<polygon points="593.4,207.8 597.2,208.7 599.2,206.1 595.5,205.2" fill="#3ed570"/>
<polygon points="595.8,208.4 599.5,209.1 601.6,206.5 597.8,205.7" fill="#3ed570"/>
<polygon points="598.1,208.9 601.9,209.3 604,206.9 600.2,206.2" fill="#43d66c"/>
<polygon points="600.5,209.2 604.3,209.4 606.3,207.3 602.5,206.7" fill="#4bd764"/>
<polygon points="602.9,209.3 605.2,209.4 607.3,207.4 604.9,207.1" fill="#57d95a"/>
<polygon points="585.5,205.8 589.3,207.5 591.4,205.1 587.6,203.8" fill="#41d66d"/>
<polygon points="587.9,206.9 591.7,208.4 593.7,205.9 590,204.6" fill="#33d27b"/>
<polygon points="590.3,207.9 594,209.2 596.1,206.5 592.3,205.4" fill="#29cf85"/>
<polygon points="592.6,208.7 596.4,209.7 598.5,207 594.7,206.1" fill="#25cd8a"/>
<polygon points="595,209.4 598.8,210 600.8,207.5 597.1,206.7" fill="#25cd8a"/>
<polygon points="597.4,209.8 601.1,210.2 603.2,207.8 599.4,207.2" fill="#29cf85"/>
<polygon points="599.7,210.1 603.5,210.2 605.6,208.1 601.8,207.6" fill="#33d27b"/>
<polygon points="602.1,210.2 604.5,210.2 606.5,208.2 604.1,207.9" fill="#41d66d"/>
<polygon points="584.7,206.5 588.5,208.4 590.6,206 586.8,204.6" fill="#2dd180"/>
<polygon points="587.1,207.7 590.9,209.3 593,206.8 589.2,205.5" fill="#20cb90"/>
<polygon points="589.5,208.8 593.3,210.1 595.3,207.5 591.6,206.4" fill="#19c69a"/>
<polygon points="591.8,209.7 595.6,210.6 597.7,208 593.9,207.1" fill="#17c39f"/>
<polygon points="594.2,210.4 598,210.9 600.1,208.4 596.3,207.7" fill="#17c39f"/>
<polygon points="596.6,210.8 600.4,211 602.4,208.7 598.7,208.2" fill="#19c69a"/>
<polygon points="598.9,211 602.7,211 604.8,208.9 601,208.5" fill="#20cb90"/>
<polygon points="601.3,211 603.7,210.9 605.8,208.9 603.4,208.8" fill="#2dd180"/>
<polygon points="583.9,207.3 587.7,209.2 589.8,206.9 586,205.3" fill="#20cb91"/>
<polygon points="586.3,208.5 590.1,210.3 592.2,207.8 588.4,206.3" fill="#17c2a0"/>
<polygon points="588.7,209.7 592.5,211.1 594.6,208.5 590.8,207.3" fill="#16baad"/>
<polygon points="591,210.6 594.8,211.6 596.9,209 593.2,208.1" fill="#17b5b4"/>
<polygon points="593.4,211.3 597.2,211.8 599.3,209.4 595.5,208.7" fill="#17b5b4"/>
<polygon points="595.8,211.7 599.6,211.9 601.7,209.6 597.9,209.2" fill="#16baad"/>
<polygon points="598.2,211.9 602,211.8 604,209.7 600.3,209.5" fill="#17c2a0"/>
<polygon points="600.5,211.8 602.9,211.7 605,209.7 602.6,209.6" fill="#20cb91"/>
<polygon points="583.1,208 586.9,210.1 589.1,207.8 585.3,206" fill="#18c39e"/>
<polygon points="585.5,209.3 589.3,211.2 591.4,208.7 587.6,207.2" fill="#17b7b1"/>
<polygon points="587.9,210.5 591.7,212 593.8,209.5 590,208.2" fill="#1cabc0"/>
<polygon points="590.2,211.5 594,212.5 596.2,210 592.4,209" fill="#20a5c7"/>
<polygon points="592.6,212.2 596.4,212.7 598.5,210.3 594.7,209.7" fill="#20a5c7"/>
<polygon points="595,212.6 598.8,212.7 600.9,210.4 597.1,210.1" fill="#1cabc0"/>
<polygon points="597.4,212.8 601.2,212.5 603.3,210.4 599.5,210.4" fill="#17b7b1"/>
<polygon points="599.7,212.7 602.1,212.4 604.2,210.4 601.8,210.4" fill="#18c39e"/>
<polygon points="582.3,208.7 586.1,210.9 588.3,208.7 584.5,206.8" fill="#15bbab"/>
<polygon points="584.7,210.1 588.5,212.1 590.6,209.6 586.8,208" fill="#1daac1"/>
<polygon points="587,211.4 590.8,212.9 593,210.4 589.2,209.1" fill="#279bcf"/>
<polygon points="589.4,212.4 593.2,213.4 595.4,211 591.6,210" fill="#2e93d5"/>
<polygon points="591.8,213.2 595.6,213.6 597.7,211.2 593.9,210.7" fill="#2e93d5"/>
<polygon points="594.2,213.6 598,213.5 600.1,211.3 596.3,211.1" fill="#279bcf"/>
<polygon points="596.5,213.6 600.3,213.3 602.5,211.2 598.7,211.3" fill="#1daac1"/>
<polygon points="598.9,213.5 601.3,213.2 603.4,211.2 601.1,211.3" fill="#15bbab"/>
<polygon points="581.4,209.4 585.2,211.7 587.5,209.5 583.7,207.5" fill="#18b1b9"/>
<polygon points="583.8,210.9 587.6,212.9 589.8,210.6 586,208.8" fill="#269cce"/>
<polygon points="586.2,212.2 590,213.8 592.2,211.4 588.4,210" fill="#338bd8"/>
<polygon points="588.6,213.3 592.4,214.3 594.6,211.9 590.8,210.9" fill="#3881db"/>
<polygon points="591,214.1 594.8,214.5 596.9,212.1 593.1,211.6" fill="#3881db"/>
<polygon points="593.3,214.4 597.1,214.4 599.3,212.2 595.5,212" fill="#338bd8"/>
<polygon points="595.7,214.5 599.5,214 601.7,212 597.9,212.2" fill="#269cce"/>
<polygon points="598.1,214.2 600.5,213.9 602.6,211.9 600.3,212.1" fill="#18b1b9"/>
<polygon points="580.6,210.1 584.4,212.5 586.6,210.4 582.8,208.2" fill="#1fa7c4"/>
<polygon points="582.9,211.7 586.8,213.8 589,211.5 585.2,209.6" fill="#318ed8"/>
<polygon points="585.3,213.1 589.1,214.7 591.4,212.3 587.6,210.8" fill="#3a7bd9"/>
<polygon points="587.7,214.2 591.5,215.2 593.8,212.8 590,211.8" fill="#3c70d4"/>
<polygon points="590.1,214.9 593.9,215.3 596.1,213 592.3,212.6" fill="#3c70d4"/>
<polygon points="592.5,215.3 596.3,215.2 598.5,213 594.7,213" fill="#3a7bd9"/>
<polygon points="594.9,215.3 598.7,214.8 600.9,212.8 597.1,213.1" fill="#318ed8"/>
<polygon points="597.2,215 599.6,214.6 601.8,212.7 599.5,212.9" fill="#1fa7c4"/>
<polygon points="579.7,210.8 583.5,213.3 585.8,211.2 582,208.9" fill="#269cce"/>
<polygon points="582.1,212.4 585.9,214.6 588.2,212.4 584.4,210.4" fill="#3881db"/>
<polygon points="584.4,213.9 588.3,215.5 590.6,213.2 586.7,211.7" fill="#3c6bd1"/>
<polygon points="586.8,215 590.6,216 592.9,213.7 589.1,212.7" fill="#3c5fc6"/>
<polygon points="589.2,215.8 593,216.2 595.3,213.9 591.5,213.5" fill="#3c5fc6"/>
<polygon points="591.6,216.1 595.4,215.9 597.7,213.8 593.9,213.9" fill="#3c6bd1"/>
<polygon points="594,216.1 597.8,215.5 600.1,213.5 596.3,213.9" fill="#3881db"/>
<polygon points="596.4,215.8 598.8,215.3 601,213.4 598.6,213.7" fill="#269cce"/>
<polygon points="578.8,211.4 582.6,214 584.9,212 581.1,209.7" fill="#2e92d6"/>
<polygon points="581.1,213.1 585,215.4 587.3,213.2 583.5,211.2" fill="#3b74d6"/>
<polygon points="583.5,214.6 587.4,216.3 589.7,214.1 585.9,212.5" fill="#3c5dc4"/>
<polygon points="585.9,215.8 589.7,216.9 592.1,214.6 588.3,213.6" fill="#3b50b3"/>
<polygon points="588.3,216.6 592.1,216.9 594.5,214.8 590.7,214.4" fill="#3b50b3"/>
<polygon points="590.7,216.9 594.5,216.7 596.8,214.6 593,214.7" fill="#3c5dc4"/>
<polygon points="593.1,216.9 596.9,216.2 599.2,214.3 595.4,214.8" fill="#3b74d6"/>
<polygon points="595.5,216.5 597.9,216 600.2,214.1 597.8,214.5" fill="#2e92d6"/>
<polygon points="577.8,212.1 581.6,214.8 584.1,212.8 580.3,210.3" fill="#3488d9"/>
<polygon points="580.2,213.8 584,216.1 586.5,214.1 582.6,211.9" fill="#3c69cf"/>
<polygon points="582.6,215.3 586.4,217.1 588.8,215 585,213.3" fill="#3b4fb2"/>
<polygon points="585,216.6 588.8,217.6 591.2,215.5 587.4,214.5" fill="#39419c"/>
<polygon points="587.4,217.4 591.2,217.7 593.6,215.6 589.8,215.2" fill="#39419c"/>
<polygon points="589.8,217.7 593.6,217.4 596,215.4 592.2,215.6" fill="#3b4fb2"/>
<polygon points="592.2,217.6 596,216.9 598.4,215 594.6,215.6" fill="#3c69cf"/>
<polygon points="594.6,217.2 596.9,216.6 599.3,214.8 596.9,215.3" fill="#3488d9"/>
<polygon points="576.8,212.7 580.7,215.4 583.2,213.6 579.4,211" fill="#3880db"/>
<polygon points="579.2,214.5 583.1,216.8 585.6,214.9 581.7,212.7" fill="#3c5ec5"/>
<polygon points="581.6,216 585.5,217.8 587.9,215.8 584.1,214.1" fill="#3943a0"/>
<polygon points="584,217.3 587.9,218.3 590.3,216.3 586.5,215.3" fill="#363485"/>
<polygon points="586.4,218.1 590.2,218.4 592.7,216.4 588.9,216.1" fill="#363485"/>
<polygon points="588.8,218.4 592.6,218.1 595.1,216.2 591.3,216.4" fill="#3943a0"/>
<polygon points="591.2,218.3 595,217.5 597.5,215.7 593.7,216.4" fill="#3c5ec5"/>
<polygon points="593.6,217.9 596,217.2 598.4,215.5 596.1,216" fill="#3880db"/>
<polygon points="575.8,213.3 579.7,216.1 582.2,214.3 578.4,211.7" fill="#3a79d8"/>
<polygon points="578.2,215.1 582.1,217.5 584.6,215.7 580.8,213.4" fill="#3c55ba"/>
<polygon points="580.6,216.7 584.5,218.5 587,216.6 583.2,214.9" fill="#37388e"/>
<polygon points="583,217.9 586.9,219 589.4,217.1 585.6,216.1" fill="#32296d"/>
<polygon points="585.4,218.7 589.3,219.1 591.8,217.2 588,216.9" fill="#32296d"/>
<polygon points="587.8,219.1 591.7,218.7 594.2,216.9 590.4,217.2" fill="#37388e"/>
<polygon points="590.2,219 594.1,218.1 596.6,216.4 592.8,217.1" fill="#3c55ba"/>
<polygon points="592.6,218.5 595,217.8 597.5,216.2 595.1,216.8" fill="#3a79d8"/>
<polygon points="574.8,213.8 578.6,216.6 581.3,215 577.5,212.3" fill="#3b73d6"/>
<polygon points="577.2,215.6 581,218.1 583.7,216.4 579.9,214" fill="#3b4eb0"/>
<polygon points="579.6,217.2 583.4,219.1 586.1,217.4 582.3,215.6" fill="#35307c"/>
<polygon points="582,218.5 585.8,219.6 588.5,217.9 584.6,216.8" fill="#2f1f58"/>
<polygon points="584.4,219.3 588.2,219.6 590.9,218 587,217.6" fill="#2f1f58"/>
<polygon points="586.8,219.7 590.6,219.3 593.3,217.6 589.4,218" fill="#35307c"/>
<polygon points="589.2,219.5 593,218.7 595.6,217.1 591.8,217.9" fill="#3b4eb0"/>
<polygon points="591.6,219.1 594,218.4 596.6,216.8 594.2,217.4" fill="#3b73d6"/>
<polygon points="574.4,214 578.2,216.8 580.3,215.7 576.5,212.9" fill="#3c6fd4"/>
<polygon points="576.8,215.8 580.6,218.3 582.7,217.1 578.9,214.7" fill="#3a49a9"/>
<polygon points="579.2,217.4 583,219.3 585.1,218.1 581.3,216.3" fill="#332a6f"/>
<polygon points="581.6,218.7 585.4,219.8 587.5,218.6 583.7,217.5" fill="#2d1847"/>
<polygon points="584,219.5 587.8,219.8 589.9,218.6 586.1,218.3" fill="#2d1847"/>
<polygon points="586.4,219.9 590.2,219.5 592.3,218.3 588.5,218.7" fill="#332a6f"/>
<polygon points="588.8,219.7 592.6,218.9 594.7,217.7 590.8,218.6" fill="#3a49a9"/>
<polygon points="591.2,219.3 593.6,218.6 595.6,217.5 593.2,218.1" fill="#3c6fd4"/>
<polygon points="574.4,214 578.2,216.8 579.3,216.3 575.5,213.5" fill="#3c6dd2"/>
<polygon points="576.8,215.8 580.6,218.3 581.7,217.7 577.9,215.3" fill="#3a46a4"/>
<polygon points="579.2,217.4 583,219.3 584.1,218.7 580.3,216.9" fill="#322768"/>
<polygon points="581.6,218.7 585.4,219.8 586.5,219.2 582.6,218.2" fill="#2b153f"/>
<polygon points="584,219.5 587.8,219.8 588.9,219.3 585,219" fill="#2b153f"/>
<polygon points="586.4,219.9 590.2,219.5 591.3,218.9 587.4,219.3" fill="#322768"/>
<polygon points="588.8,219.7 592.6,218.9 593.7,218.3 589.8,219.2" fill="#3a46a4"/>
<polygon points="591.2,219.3 593.6,218.6 594.6,218.1 592.2,218.7" fill="#3c6dd2"/>
<polygon points="574.4,208.6 593.6,213.2 646,187.6 628,184" fill="#cbc7ba" fill-opacity="0.55"/>
<polygon points="615,188.1 618.7,188.2 621.6,189.2 617.9,188.5" fill="#9fd42e"/>
<polygon points="617.3,188.2 621,188.4 623.8,189.7 620.2,189" fill="#a2d22d"/>
<polygon points="619.6,188.3 623.3,188.7 626.1,190.1 622.5,189.4" fill="#a5d12d"/>
<polygon points="621.9,188.5 625.6,189.2 628.4,190.6 624.7,189.9" fill="#a6d02d"/>
<polygon points="624.2,188.9 627.8,189.9 630.7,191.1 627,190.3" fill="#a6d02d"/>
<polygon points="626.5,189.5 630.1,190.7 632.9,191.6 629.3,190.8" fill="#a5d12d"/>
<polygon points="628.8,190.2 632.4,191.6 635.2,192.1 631.6,191.3" fill="#a2d22d"/>
<polygon points="631,191 633.3,191.9 636.1,192.3 633.9,191.8" fill="#9fd42e"/>
<polygon points="614,188 617.6,187.9 620.5,188.8 616.8,188.3" fill="#b7c62e"/>
<polygon points="616.2,187.9 619.9,188 622.8,189.2 619.1,188.6" fill="#bec12f"/>
<polygon points="618.5,187.9 622.2,188.3 625.1,189.6 621.4,189" fill="#c3bc30"/>
<polygon points="620.8,188.1 624.5,188.8 627.3,190.1 623.7,189.3" fill="#c6b931"/>
<polygon points="623.1,188.5 626.8,189.5 629.6,190.6 626,189.8" fill="#c6b931"/>
<polygon points="625.4,189.1 629.1,190.4 631.9,191.2 628.3,190.3" fill="#c3bc30"/>
<polygon points="627.7,189.9 631.4,191.4 634.2,191.9 630.5,190.9" fill="#bec12f"/>
<polygon points="630,190.8 632.3,191.9 635.1,192.2 632.8,191.5" fill="#b7c62e"/>
<polygon points="612.8,187.9 616.5,187.7 619.4,188.5 615.8,188.2" fill="#cbb431"/>
<polygon points="615.1,187.7 618.8,187.7 621.7,188.7 618.1,188.3" fill="#d2a931"/>
<polygon points="617.4,187.6 621.1,187.9 624,189.1 620.3,188.6" fill="#d6a130"/>
<polygon points="619.7,187.7 623.4,188.4 626.3,189.6 622.6,188.8" fill="#d79c2f"/>
<polygon points="622,188.1 625.7,189.2 628.6,190.2 624.9,189.3" fill="#d79c2f"/>
<polygon points="624.3,188.7 628,190.2 630.8,190.9 627.2,189.8" fill="#d6a130"/>
<polygon points="626.6,189.6 630.3,191.3 633.1,191.7 629.5,190.5" fill="#d2a931"/>
<polygon points="628.9,190.6 631.2,191.8 634,192 631.8,191.2" fill="#cbb431"/>
<polygon points="611.7,187.9 615.4,187.5 618.3,188.1 614.7,188.1" fill="#d6a030"/>
<polygon points="614,187.6 617.7,187.4 620.6,188.3 617,188.1" fill="#da902b"/>
<polygon points="616.3,187.4 620,187.6 622.9,188.6 619.3,188.2" fill="#da8125"/>
<polygon points="618.6,187.4 622.3,188.1 625.2,189.1 621.6,188.4" fill="#d97921"/>
<polygon points="620.9,187.8 624.6,188.9 627.5,189.8 623.8,188.8" fill="#d97921"/>
<polygon points="623.2,188.4 626.9,190 629.8,190.6 626.1,189.3" fill="#da8125"/>
<polygon points="625.5,189.4 629.2,191.3 632.1,191.5 628.4,190.1" fill="#da902b"/>
<polygon points="627.8,190.5 630.1,191.8 633,191.9 630.7,191" fill="#d6a030"/>
<polygon points="610.6,188 614.2,187.4 617.3,187.8 613.6,188" fill="#da8b29"/>
<polygon points="612.9,187.6 616.5,187.2 619.5,187.9 615.9,187.9" fill="#d9721f"/>
<polygon points="615.1,187.3 618.8,187.4 621.8,188.1 618.2,187.8" fill="#d45e16"/>
<polygon points="617.4,187.2 621.1,187.9 624.1,188.7 620.5,188" fill="#d05412"/>
<polygon points="619.7,187.6 623.4,188.8 626.4,189.4 622.7,188.3" fill="#d05412"/>
<polygon points="622,188.2 625.7,190 628.7,190.3 625,188.9" fill="#d45e16"/>
<polygon points="624.3,189.2 628,191.3 631,191.4 627.3,189.8" fill="#d9721f"/>
<polygon points="626.6,190.5 628.9,191.9 631.9,191.8 629.6,190.8" fill="#da8b29"/>
<polygon points="609.4,188.1 613.1,187.4 616.1,187.6 612.5,187.9" fill="#d9731f"/>
<polygon points="611.7,187.6 615.4,187.2 618.4,187.6 614.8,187.7" fill="#d15513"/>
<polygon points="614,187.3 617.7,187.3 620.7,187.8 617,187.5" fill="#c7410b"/>
<polygon points="616.3,187.2 620,187.8 623,188.3 619.3,187.6" fill="#c13807"/>
<polygon points="618.6,187.5 622.3,188.8 625.3,189.1 621.6,188" fill="#c13807"/>
<polygon points="620.9,188.2 624.6,190 627.6,190.1 623.9,188.6" fill="#c7410b"/>
<polygon points="623.2,189.2 626.9,191.5 629.9,191.3 626.2,189.5" fill="#d15513"/>
<polygon points="625.5,190.6 627.8,192.1 630.8,191.8 628.5,190.6" fill="#d9731f"/>
<polygon points="608.2,188.4 611.9,187.5 615,187.4 611.3,187.9" fill="#d45e16"/>
<polygon points="610.5,187.8 614.2,187.3 617.3,187.3 613.6,187.6" fill="#c63f0a"/>
<polygon points="612.8,187.4 616.5,187.4 619.6,187.5 615.9,187.3" fill="#b72d05"/>
<polygon points="615.1,187.3 618.8,187.9 621.9,188 618.2,187.4" fill="#ad2403"/>
<polygon points="617.4,187.5 621.1,188.9 624.2,188.9 620.5,187.7" fill="#ad2403"/>
<polygon points="619.7,188.2 623.4,190.2 626.5,190 622.8,188.3" fill="#b72d05"/>
<polygon points="622,189.4 625.7,191.7 628.8,191.3 625.1,189.3" fill="#c63f0a"/>
<polygon points="624.3,190.8 626.6,192.3 629.7,191.9 627.4,190.5" fill="#d45e16"/>
<polygon points="607,188.7 610.7,187.8 613.8,187.4 610.2,188" fill="#ce4d0f"/>
<polygon points="609.3,188.1 613,187.5 616.1,187.2 612.5,187.6" fill="#ba3106"/>
<polygon points="611.6,187.6 615.3,187.6 618.4,187.3 614.8,187.3" fill="#a61e02"/>
<polygon points="613.9,187.5 617.6,188.1 620.7,187.9 617.1,187.2" fill="#991701"/>
<polygon points="616.2,187.7 619.9,189.1 623,188.8 619.4,187.5" fill="#991701"/>
<polygon points="618.5,188.5 622.2,190.5 625.3,190 621.7,188.2" fill="#a61e02"/>
<polygon points="620.8,189.6 624.5,192 627.6,191.4 624,189.2" fill="#ba3106"/>
<polygon points="623.1,191.1 625.5,192.7 628.6,192 626.3,190.5" fill="#ce4d0f"/>
<polygon points="605.8,189.1 609.5,188.1 612.7,187.4 609,188.2" fill="#c8410b"/>
<polygon points="608.1,188.5 611.8,187.8 615,187.2 611.3,187.7" fill="#af2604"/>
<polygon points="610.4,188 614.1,187.9 617.3,187.3 613.6,187.3" fill="#961501"/>
<polygon points="612.8,187.8 616.5,188.5 619.6,187.8 615.9,187.2" fill="#860e01"/>
<polygon points="615.1,188.1 618.8,189.5 621.9,188.8 618.2,187.5" fill="#860e01"/>
<polygon points="617.4,188.8 621.1,190.8 624.2,190.1 620.5,188.2" fill="#961501"/>
<polygon points="619.7,190 623.4,192.5 626.5,191.5 622.8,189.3" fill="#af2604"/>
<polygon points="622,191.5 624.3,193.1 627.4,192.2 625.1,190.6" fill="#c8410b"/>
<polygon points="604.7,189.6 608.4,188.6 611.5,187.6 607.8,188.5" fill="#c33a08"/>
<polygon points="607,188.9 610.7,188.3 613.8,187.3 610.1,187.9" fill="#a71f02"/>
<polygon points="609.3,188.4 613,188.4 616.1,187.4 612.4,187.4" fill="#8a0f01"/>
<polygon points="611.6,188.3 615.4,188.9 618.4,188 614.7,187.3" fill="#780801"/>
<polygon points="614,188.6 617.7,190 620.7,188.9 617,187.6" fill="#780801"/>
<polygon points="616.3,189.3 620,191.3 623,190.2 619.3,188.3" fill="#8a0f01"/>
<polygon points="618.6,190.5 622.3,193 625.3,191.8 621.7,189.4" fill="#a71f02"/>
<polygon points="620.9,192 623.2,193.6 626.3,192.4 624,190.8" fill="#c33a08"/>
<polygon points="603.6,190.1 607.3,189.2 610.4,187.9 606.7,188.8" fill="#c03607"/>
<polygon points="605.9,189.5 609.7,188.9 612.7,187.6 609,188.2" fill="#a11b02"/>
<polygon points="608.3,189 612,189 615,187.7 611.3,187.7" fill="#820c01"/>
<polygon points="610.6,188.9 614.3,189.5 617.3,188.2 613.6,187.6" fill="#700602"/>
<polygon points="612.9,189.1 616.6,190.5 619.6,189.2 615.9,187.8" fill="#700602"/>
<polygon points="615.2,189.9 618.9,191.9 621.9,190.6 618.2,188.6" fill="#820c01"/>
<polygon points="617.5,191 621.2,193.5 624.2,192.1 620.5,189.7" fill="#a11b02"/>
<polygon points="619.9,192.5 622.2,194.2 625.1,192.8 622.8,191.2" fill="#c03607"/>
<polygon points="602.6,190.7 606.3,189.8 609.2,188.2 605.5,189.2" fill="#bf3507"/>
<polygon points="604.9,190.1 608.6,189.5 611.6,187.9 607.9,188.6" fill="#9f1a02"/>
<polygon points="607.2,189.6 611,189.6 613.9,188 610.2,188.1" fill="#800b01"/>
<polygon points="609.6,189.5 613.3,190.2 616.2,188.6 612.5,187.9" fill="#6e0502"/>
<polygon points="611.9,189.8 615.6,191.2 618.5,189.6 614.8,188.2" fill="#6e0502"/>
<polygon points="614.2,190.5 617.9,192.5 620.8,191 617.1,188.9" fill="#800b01"/>
<polygon points="616.5,191.7 620.2,194.1 623.1,192.6 619.4,190.1" fill="#9f1a02"/>
<polygon points="618.9,193.1 621.2,194.8 624,193.3 621.7,191.6" fill="#bf3507"/>
<polygon points="601.6,191.3 605.3,190.5 608.2,188.7 604.5,189.7" fill="#c03607"/>
<polygon points="603.9,190.7 607.7,190.2 610.5,188.4 606.8,189.1" fill="#a11b02"/>
<polygon points="606.3,190.3 610,190.3 612.8,188.5 609.1,188.6" fill="#820b01"/>
<polygon points="608.6,190.2 612.3,190.9 615.1,189.1 611.4,188.4" fill="#700502"/>
<polygon points="610.9,190.5 614.6,191.9 617.4,190.1 613.7,188.7" fill="#700502"/>
<polygon points="613.2,191.2 617,193.2 619.7,191.5 616,189.4" fill="#820b01"/>
<polygon points="615.6,192.4 619.3,194.8 622.1,193.1 618.3,190.6" fill="#a11b02"/>
<polygon points="617.9,193.8 620.2,195.4 623,193.8 620.7,192.1" fill="#c03607"/>
<polygon points="600.7,192 604.4,191.2 607.1,189.3 603.4,190.3" fill="#c23908"/>
<polygon points="603,191.4 606.7,191 609.4,189 605.7,189.6" fill="#a51e02"/>
<polygon points="605.3,191 609,191.1 611.8,189.1 608,189.1" fill="#870e01"/>
<polygon points="607.7,191 611.4,191.7 614.1,189.7 610.4,189" fill="#760701"/>
<polygon points="610,191.3 613.7,192.6 616.4,190.7 612.7,189.3" fill="#760701"/>
<polygon points="612.3,192 616,193.9 618.7,192 615,190" fill="#870e01"/>
<polygon points="614.6,193.1 618.4,195.4 621,193.6 617.3,191.2" fill="#a51e02"/>
<polygon points="617,194.5 619.3,196.1 622,194.3 619.6,192.7" fill="#c23908"/>
<polygon points="599.8,192.6 603.5,191.9 606.1,189.9 602.4,190.8" fill="#c53e0a"/>
<polygon points="602.1,192.1 605.8,191.7 608.4,189.6 604.7,190.2" fill="#ab2203"/>
<polygon points="604.4,191.8 608.1,191.9 610.7,189.8 607,189.8" fill="#901201"/>
<polygon points="606.7,191.8 610.5,192.5 613.1,190.3 609.4,189.6" fill="#800a01"/>
<polygon points="609.1,192.1 612.8,193.4 615.4,191.3 611.7,189.9" fill="#800a01"/>
<polygon points="611.4,192.8 615.1,194.7 617.7,192.7 614,190.7" fill="#901201"/>
<polygon points="613.7,193.9 617.5,196.1 620,194.3 616.3,191.8" fill="#ab2203"/>
<polygon points="616.1,195.2 618.4,196.7 621,194.9 618.6,193.3" fill="#c53e0a"/>
<polygon points="598.9,193.3 602.6,192.7 605.1,190.6 601.4,191.5" fill="#ca440c"/>
<polygon points="601.2,192.9 604.9,192.6 607.5,190.4 603.7,190.9" fill="#b32904"/>
<polygon points="603.5,192.6 607.3,192.7 609.8,190.5 606.1,190.5" fill="#9b1801"/>
<polygon points="605.9,192.6 609.6,193.3 612.1,191 608.4,190.4" fill="#8c1001"/>
<polygon points="608.2,192.9 611.9,194.2 614.4,192 610.7,190.7" fill="#8c1001"/>
<polygon points="610.5,193.6 614.3,195.4 616.8,193.3 613,191.4" fill="#9b1801"/>
<polygon points="612.9,194.7 616.6,196.8 619.1,194.9 615.4,192.5" fill="#b32904"/>
<polygon points="615.2,196 617.5,197.4 620,195.6 617.7,193.9" fill="#ca440c"/>
<polygon points="598,194 601.8,193.5 604.2,191.3 600.5,192.1" fill="#ce4e10"/>
<polygon points="600.4,193.6 604.1,193.4 606.5,191.1 602.8,191.6" fill="#bb3106"/>
<polygon points="602.7,193.4 606.4,193.6 608.9,191.3 605.1,191.2" fill="#a71f02"/>
<polygon points="605,193.5 608.8,194.2 611.2,191.8 607.5,191.1" fill="#9a1701"/>
<polygon points="607.4,193.8 611.1,195.1 613.5,192.8 609.8,191.4" fill="#9a1701"/>
<polygon points="609.7,194.5 613.4,196.2 615.8,194.1 612.1,192.2" fill="#a71f02"/>
<polygon points="612,195.5 615.8,197.6 618.2,195.6 614.4,193.3" fill="#bb3106"/>
<polygon points="614.4,196.8 616.7,198.1 619.1,196.2 616.8,194.7" fill="#ce4e10"/>
<polygon points="597.2,194.7 600.9,194.3 603.3,192.1 599.6,192.8" fill="#d25914"/>
<polygon points="599.5,194.4 603.3,194.3 605.6,191.9 601.9,192.3" fill="#c33b09"/>
<polygon points="601.8,194.3 605.6,194.5 608,192.1 604.2,192" fill="#b32904"/>
<polygon points="604.2,194.3 607.9,195.1 610.3,192.6 606.6,191.9" fill="#a82002"/>
<polygon points="606.5,194.7 610.3,195.9 612.6,193.6 608.9,192.3" fill="#a82002"/>
<polygon points="608.9,195.4 612.6,197.1 614.9,194.8 611.2,193" fill="#b32904"/>
<polygon points="611.2,196.4 614.9,198.3 617.3,196.3 613.5,194" fill="#c33b09"/>
<polygon points="613.5,197.6 615.9,198.9 618.2,196.9 615.9,195.4" fill="#d25914"/>
<polygon points="596.4,195.4 600.1,195.1 602.4,192.9 598.7,193.5" fill="#d6661a"/>
<polygon points="598.7,195.2 602.4,195.2 604.7,192.7 601,193" fill="#cb470d"/>
<polygon points="601,195.1 604.8,195.4 607.1,192.9 603.3,192.8" fill="#be3407"/>
<polygon points="603.4,195.3 607.1,196 609.4,193.5 605.7,192.8" fill="#b62b05"/>
<polygon points="605.7,195.6 609.4,196.8 611.7,194.4 608,193.1" fill="#b62b05"/>
<polygon points="608,196.3 611.8,197.9 614.1,195.6 610.3,193.8" fill="#be3407"/>
<polygon points="610.4,197.2 614.1,199.1 616.4,197 612.7,194.9" fill="#cb470d"/>
<polygon points="612.7,198.4 615.1,199.6 617.3,197.6 615,196.2" fill="#d6661a"/>
<polygon points="595.5,196.1 599.3,196 601.6,193.7 597.8,194.2" fill="#d97520"/>
<polygon points="597.9,196 601.6,196.1 603.9,193.6 600.2,193.8" fill="#d15613"/>
<polygon points="600.2,196 604,196.4 606.2,193.8 602.5,193.6" fill="#c8420b"/>
<polygon points="602.6,196.2 606.3,196.9 608.6,194.4 604.8,193.7" fill="#c23908"/>
<polygon points="604.9,196.6 608.7,197.7 610.9,195.3 607.2,194" fill="#c23908"/>
<polygon points="607.2,197.2 611,198.7 613.2,196.4 609.5,194.7" fill="#c8420b"/>
<polygon points="609.6,198.1 613.3,199.9 615.6,197.8 611.8,195.7" fill="#d15613"/>
<polygon points="611.9,199.2 614.3,200.3 616.5,198.3 614.2,196.9" fill="#d97520"/>
<polygon points="594.7,196.9 598.5,196.9 600.7,194.5 597,194.9" fill="#da8326"/>
<polygon points="597.1,196.8 600.8,197 603.1,194.5 599.3,194.6" fill="#d7681b"/>
<polygon points="599.4,196.9 603.2,197.3 605.4,194.7 601.7,194.5" fill="#d05412"/>
<polygon points="601.8,197.1 605.5,197.9 607.7,195.3 604,194.6" fill="#cc490e"/>
<polygon points="604.1,197.5 607.9,198.6 610.1,196.2 606.3,194.9" fill="#cc490e"/>
<polygon points="606.5,198.2 610.2,199.6 612.4,197.3 608.7,195.6" fill="#d05412"/>
<polygon points="608.8,199 612.6,200.6 614.7,198.5 611,196.6" fill="#d7681b"/>
<polygon points="611.2,200 613.5,201.1 615.7,199 613.3,197.7" fill="#da8326"/>
<polygon points="594,197.6 597.7,197.7 599.9,195.4 596.2,195.6" fill="#da922c"/>
<polygon points="596.3,197.7 600.1,197.9 602.2,195.4 598.5,195.4" fill="#da7b22"/>
<polygon points="598.7,197.8 602.4,198.3 604.6,195.7 600.8,195.3" fill="#d7681b"/>
<polygon points="601,198.1 604.8,198.9 606.9,196.2 603.2,195.5" fill="#d45e16"/>
<polygon points="603.3,198.5 607.1,199.6 609.3,197 605.5,195.9" fill="#d45e16"/>
<polygon points="605.7,199.1 609.4,200.5 611.6,198.1 607.8,196.5" fill="#d7681b"/>
<polygon points="608,199.9 611.8,201.4 613.9,199.3 610.2,197.4" fill="#da7b22"/>
<polygon points="610.4,200.8 612.7,201.8 614.9,199.8 612.5,198.6" fill="#da922c"/>
<polygon points="593.2,198.3 596.9,198.6 599.1,196.2 595.3,196.3" fill="#d79e30"/>
<polygon points="595.5,198.5 599.3,198.9 601.4,196.3 597.7,196.2" fill="#da8d2a"/>
<polygon points="597.9,198.7 601.6,199.3 603.8,196.6 600,196.2" fill="#da7e24"/>
<polygon points="600.2,199 604,199.8 606.1,197.2 602.4,196.4" fill="#d97520"/>
<polygon points="602.6,199.5 606.3,200.5 608.5,198 604.7,196.8" fill="#d97520"/>
<polygon points="604.9,200.1 608.7,201.3 610.8,199 607,197.5" fill="#da7e24"/>
<polygon points="607.3,200.8 611,202.2 613.1,200.1 609.4,198.3" fill="#da8d2a"/>
<polygon points="609.6,201.7 612,202.6 614.1,200.5 611.7,199.4" fill="#d79e30"/>
<polygon points="592.4,199.1 596.2,199.5 598.3,197.1 594.5,197.1" fill="#d1ab31"/>
<polygon points="594.8,199.3 598.5,199.8 600.6,197.2 596.9,197.1" fill="#d79d2f"/>
<polygon points="597.1,199.6 600.9,200.3 603,197.6 599.2,197.1" fill="#da932c"/>
<polygon points="599.5,200 603.2,200.8 605.3,198.1 601.6,197.4" fill="#da8c2a"/>
<polygon points="601.8,200.5 605.6,201.5 607.7,198.9 603.9,197.8" fill="#da8c2a"/>
<polygon points="604.2,201.1 607.9,202.2 610,199.8 606.3,198.4" fill="#da932c"/>
<polygon points="606.5,201.8 610.3,203 612.4,200.8 608.6,199.2" fill="#d79d2f"/>
<polygon points="608.9,202.5 611.2,203.3 613.3,201.3 610.9,200.2" fill="#d1ab31"/>
<polygon points="591.6,199.8 595.4,200.4 597.5,198 593.8,197.8" fill="#c9b631"/>
<polygon points="594,200.2 597.8,200.8 599.9,198.2 596.1,197.9" fill="#d0ac32"/>
<polygon points="596.4,200.5 600.1,201.2 602.2,198.6 598.4,198" fill="#d5a431"/>
<polygon points="598.7,201 602.5,201.8 604.5,199.1 600.8,198.3" fill="#d6a030"/>
<polygon points="601.1,201.5 604.8,202.4 606.9,199.8 603.1,198.8" fill="#d6a030"/>
<polygon points="603.4,202 607.2,203.1 609.2,200.7 605.5,199.4" fill="#d5a431"/>
<polygon points="605.8,202.7 609.5,203.8 611.6,201.6 607.8,200.2" fill="#d0ac32"/>
<polygon points="608.1,203.4 610.5,204.1 612.5,202 610.2,201.1" fill="#c9b631"/>
<polygon points="590.9,200.6 594.7,201.3 596.7,198.9 593,198.5" fill="#bdc22f"/>
<polygon points="593.2,201 597,201.7 599.1,199.1 595.3,198.7" fill="#c5ba30"/>
<polygon points="595.6,201.5 599.4,202.2 601.4,199.5 597.7,199" fill="#cab531"/>
<polygon points="597.9,201.9 601.7,202.8 603.8,200.1 600,199.3" fill="#cdb132"/>
<polygon points="600.3,202.5 604.1,203.4 606.1,200.8 602.4,199.7" fill="#cdb132"/>
<polygon points="602.7,203 606.4,204 608.5,201.6 604.7,200.3" fill="#cab531"/>
<polygon points="605,203.6 608.8,204.6 610.8,202.4 607.1,201.1" fill="#c5ba30"/>
<polygon points="607.4,204.2 609.7,204.9 611.8,202.8 609.4,201.9" fill="#bdc22f"/>
<polygon points="590.1,201.3 593.9,202.2 596,199.7 592.2,199.3" fill="#b0cb2d"/>
<polygon points="592.5,201.9 596.3,202.7 598.3,200.1 594.6,199.6" fill="#b6c72e"/>
<polygon points="594.8,202.4 598.6,203.2 600.7,200.5 596.9,199.9" fill="#bbc32e"/>
<polygon points="597.2,202.9 601,203.8 603,201.1 599.3,200.3" fill="#bdc22f"/>
<polygon points="599.5,203.4 603.3,204.3 605.4,201.7 601.6,200.7" fill="#bdc22f"/>
<polygon points="601.9,204 605.7,204.9 607.7,202.5 604,201.3" fill="#bbc32e"/>
<polygon points="604.3,204.5 608,205.4 610.1,203.2 606.3,202" fill="#b6c72e"/>
<polygon points="606.6,205.1 609,205.6 611,203.6 608.7,202.8" fill="#b0cb2d"/>
<polygon points="589.4,202.1 593.1,203.1 595.2,200.6 591.4,200" fill="#a2d22d"/>
<polygon points="591.7,202.7 595.5,203.7 597.5,201.1 593.8,200.4" fill="#a5d02d"/>
<polygon points="594.1,203.3 597.9,204.2 599.9,201.5 596.1,200.8" fill="#a8cf2d"/>
<polygon points="596.4,203.9 600.2,204.8 602.3,202.1 598.5,201.2" fill="#aace2d"/>
<polygon points="598.8,204.4 602.6,205.3 604.6,202.7 600.8,201.7" fill="#aace2d"/>
<polygon points="601.2,205 604.9,205.8 607,203.3 603.2,202.3" fill="#a8cf2d"/>
<polygon points="603.5,205.5 607.3,206.2 609.3,204 605.5,202.9" fill="#a5d02d"/>
<polygon points="605.9,205.9 608.2,206.4 610.3,204.3 607.9,203.6" fill="#a2d22d"/>
<polygon points="589.9,201.5 593.7,202.4 594.4,201.5 590.7,200.8" fill="#92d732"/>
<polygon points="592.3,202.1 596,203 596.8,202 593,201.3" fill="#93d732"/>
<polygon points="594.6,202.7 598.4,203.5 599.1,202.5 595.4,201.7" fill="#94d731"/>
<polygon points="597,203.2 600.7,204.1 601.5,203.1 597.7,202.2" fill="#95d731"/>
<polygon points="599.3,203.7 603.1,204.6 603.9,203.6 600.1,202.7" fill="#95d731"/>
<polygon points="601.7,204.3 605.5,205.1 606.2,204.2 602.4,203.3" fill="#94d731"/>
<polygon points="604,204.8 607.8,205.6 608.6,204.8 604.8,203.9" fill="#93d732"/>
<polygon points="606.4,205.3 608.8,205.9 609.5,205.1 607.1,204.5" fill="#92d732"/>
<path d="M617 354.8C617 364.5 626 374.1 637 376.2C648 378.3 657 372.1 657 362.4Z" fill="#1f4377"/>
<path d="M615.1 355.9C615.1 365.7 624.1 375.4 635.2 377.6C646.3 379.8 655.3 373.6 655.3 363.8Z" fill="#1c4c76"/>
<path d="M613.1 357.1C613.1 366.9 622.2 376.8 633.4 379C644.6 381.3 653.6 375.1 653.6 365.2Z" fill="#165471"/>
<path d="M611.2 358.2C611.2 368.2 620.3 378.1 631.6 380.4C642.8 382.8 651.9 376.6 651.9 366.6Z" fill="#105c6a"/>
<path d="M609.3 359.3C609.3 369.4 618.5 379.5 629.8 381.9C641.1 384.2 650.2 378 650.2 368Z" fill="#0c6362"/>
<path d="M607.4 360.4C607.4 370.6 616.6 380.8 627.9 383.3C639.3 385.7 648.5 379.5 648.5 369.4Z" fill="#0c6959"/>
<path d="M605.4 361.6C605.4 371.8 614.7 382.1 626.1 384.7C637.6 387.2 646.8 381 646.8 370.8Z" fill="#0f6e51"/>
<path d="M603.5 362.7C603.5 373 612.8 383.5 624.3 386.1C635.8 388.7 645.1 382.5 645.1 372.1Z" fill="#177248"/>
<path d="M601.6 363.8C601.6 374.2 610.9 384.8 622.5 387.5C634.1 390.2 643.5 383.9 643.5 373.5Z" fill="#22743d"/>
<path d="M599.6 365C599.6 375.4 609.1 386.2 620.7 388.9C632.3 391.7 641.8 385.4 641.8 374.9Z" fill="#2e7633"/>
<path d="M597.7 366.1C597.7 376.7 607.2 387.5 618.9 390.3C630.6 393.2 640.1 386.9 640.1 376.3Z" fill="#397829"/>
<path d="M595.8 367.2C595.8 377.9 605.3 388.9 617.1 391.8C628.8 394.7 638.4 388.4 638.4 377.7Z" fill="#447822"/>
<path d="M593.9 368.3C593.9 379.1 603.4 390.2 615.3 393.2C627.1 396.1 636.7 389.9 636.7 379.1Z" fill="#4d761c"/>
<path d="M591.9 369.5C591.9 380.3 601.6 391.5 613.5 394.6C625.4 397.6 635 391.3 635 380.5Z" fill="#55741a"/>
<path d="M590 370.6C590 381.5 599.7 392.9 611.6 396C623.6 399.1 633.3 392.8 633.3 381.9Z" fill="#5c7119"/>
<path d="M588.1 371.7C588.1 382.7 597.8 394.2 609.8 397.4C621.9 400.6 631.6 394.3 631.6 383.3Z" fill="#636d19"/>
<path d="M586.1 372.9C586.1 383.9 595.9 395.6 608 398.8C620.1 402.1 629.9 395.8 629.9 384.7Z" fill="#69691a"/>
<path d="M584.2 374C584.2 385.1 594.1 396.9 606.2 400.2C618.4 403.6 628.2 397.2 628.2 386.1Z" fill="#6e631b"/>
<path d="M582.3 375.1C582.3 386.4 592.2 398.2 604.4 401.7C616.6 405.1 626.5 398.7 626.5 387.5Z" fill="#725e1b"/>
<path d="M580.4 376.2C580.4 387.6 590.3 399.6 602.6 403.1C614.9 406.6 624.8 400.2 624.8 388.9Z" fill="#75591b"/>
<path d="M578.4 377.4C578.4 388.8 588.4 400.9 600.8 404.5C613.1 408 623.1 401.7 623.1 390.3Z" fill="#765319"/>
<path d="M576.5 378.5C576.5 390 586.6 402.3 599 405.9C611.4 409.5 621.5 403.2 621.5 391.6Z" fill="#774d17"/>
<path d="M574.6 379.6C574.6 391.2 584.7 403.6 597.2 407.3C609.6 411 619.8 404.6 619.8 393Z" fill="#774715"/>
<path d="M572.6 380.8C572.6 392.4 582.8 405 595.4 408.7C607.9 412.5 618.1 406.1 618.1 394.4Z" fill="#774112"/>
<path d="M570.7 381.9C570.7 393.6 580.9 406.3 593.5 410.1C606.2 414 616.4 407.6 616.4 395.8Z" fill="#763b0f"/>
<path d="M568.8 383C568.8 394.9 579.1 407.6 591.7 411.6C604.4 415.5 614.7 409.1 614.7 397.2Z" fill="#74350d"/>
<path d="M566.9 384.1C566.9 396.1 577.2 409 589.9 413C602.7 417 613 410.5 613 398.6Z" fill="#73300b"/>
<path d="M564.9 385.3C564.9 397.3 575.3 410.3 588.1 414.4C600.9 418.5 611.3 412 611.3 400Z" fill="#712c09"/>
<path d="M563 386.4C563 398.5 573.4 411.7 586.3 415.8C599.2 419.9 609.6 413.5 609.6 401.4Z" fill="#702a08"/>
<polygon points="563,386 617,354.4 657,362 656.8,364.3 656.3,366.5 655.5,368.6 654.3,370.5 652.9,372.2 604.8,413 602.8,414.6 600.5,415.8 598,416.6 595.2,417 592.3,417 589.3,416.6 586.3,415.8 583.3,414.6 580.3,413.1 577.4,411.2 574.6,409.1 572.1,406.6 569.8,404 567.8,401.1 566.1,398.1 564.8,395.1 563.8,392 563.2,389" fill="url(#g20)"/>
<polygon points="563,386 609.6,401 657,362 617,354.4" fill="#9fc32a"/>
<path d="M563 386C563 398.3 573.4 411.7 586.3 415.8C599.2 419.9 609.6 413.3 609.6 401Z" fill="none"/>
<polygon points="613.8,356.3 621,357.7 624.1,355.8 617,354.4" fill="#38388e"/>
<polygon points="618.3,357.2 625.5,358.6 628.6,356.6 621.4,355.2" fill="#33296e"/>
<polygon points="622.8,358.1 630,359.5 633,357.4 625.9,356.1" fill="#2f1c50"/>
<polygon points="627.3,358.9 634.5,360.4 637.4,358.3 630.3,356.9" fill="#2b133c"/>
<polygon points="631.8,359.8 638.9,361.3 641.9,359.1 634.8,357.8" fill="#2a1035"/>
<polygon points="636.2,360.7 643.4,362.2 646.3,360 639.2,358.6" fill="#2b133c"/>
<polygon points="640.7,361.6 647.9,363.1 650.8,360.8 643.7,359.5" fill="#2f1c50"/>
<polygon points="645.2,362.5 652.4,363.9 655.2,361.7 648.1,360.3" fill="#33296e"/>
<polygon points="649.7,363.4 654.2,364.3 657,362 652.6,361.2" fill="#38388e"/>
<polygon points="612.6,357 619.8,358.4 622.9,356.5 615.8,355.1" fill="#393a91"/>
<polygon points="617.1,357.9 624.3,359.4 627.4,357.4 620.2,356" fill="#342b72"/>
<polygon points="621.6,358.8 628.8,360.3 631.8,358.2 624.7,356.8" fill="#301e55"/>
<polygon points="626.1,359.7 633.3,361.2 636.3,359.1 629.2,357.7" fill="#2c1541"/>
<polygon points="630.6,360.6 637.8,362.1 640.8,360 633.6,358.6" fill="#2b123a"/>
<polygon points="635.1,361.5 642.3,363 645.2,360.8 638.1,359.4" fill="#2c1541"/>
<polygon points="639.6,362.5 646.8,363.9 649.7,361.7 642.5,360.3" fill="#301e55"/>
<polygon points="644.1,363.4 651.3,364.8 654.1,362.5 647,361.2" fill="#342b72"/>
<polygon points="648.6,364.3 653.1,365.2 655.9,362.9 651.5,362" fill="#393a91"/>
<polygon points="611.4,357.7 618.6,359.2 621.7,357.2 614.5,355.8" fill="#393e98"/>
<polygon points="615.9,358.6 623.1,360.1 626.2,358.1 619,356.7" fill="#352f7a"/>
<polygon points="620.4,359.6 627.6,361.1 630.7,359 623.5,357.6" fill="#31225f"/>
<polygon points="624.9,360.5 632.2,362 635.1,359.9 628,358.5" fill="#2e1a4b"/>
<polygon points="629.4,361.4 636.7,362.9 639.6,360.8 632.5,359.4" fill="#2d1744"/>
<polygon points="634,362.4 641.2,363.8 644.1,361.7 636.9,360.2" fill="#2e1a4b"/>
<polygon points="638.5,363.3 645.7,364.8 648.6,362.5 641.4,361.1" fill="#31225f"/>
<polygon points="643,364.2 650.2,365.7 653.1,363.4 645.9,362" fill="#352f7a"/>
<polygon points="647.5,365.1 652,366.1 654.8,363.8 650.4,362.9" fill="#393e98"/>
<polygon points="610.1,358.4 617.4,359.9 620.5,358 613.3,356.6" fill="#3a43a1"/>
<polygon points="614.7,359.4 621.9,360.9 625,358.9 617.8,357.5" fill="#373486"/>
<polygon points="619.2,360.3 626.5,361.8 629.5,359.8 622.3,358.4" fill="#33296d"/>
<polygon points="623.7,361.3 631,362.8 634,360.7 626.8,359.3" fill="#30205b"/>
<polygon points="628.3,362.2 635.5,363.7 638.5,361.6 631.3,360.2" fill="#2f1e54"/>
<polygon points="632.8,363.2 640.1,364.7 643,362.5 635.8,361.1" fill="#30205b"/>
<polygon points="637.4,364.1 644.6,365.6 647.5,363.4 640.3,362" fill="#33296d"/>
<polygon points="641.9,365.1 649.2,366.6 652,364.3 644.8,362.9" fill="#373486"/>
<polygon points="646.4,366 651,367 653.8,364.7 649.3,363.8" fill="#3a43a1"/>
<polygon points="608.9,359.1 616.2,360.7 619.3,358.7 612.1,357.3" fill="#3c4aac"/>
<polygon points="613.5,360.1 620.7,361.7 623.8,359.7 616.6,358.2" fill="#393c95"/>
<polygon points="618,361.1 625.3,362.6 628.3,360.6 621.1,359.1" fill="#36307d"/>
<polygon points="622.6,362 629.9,363.6 632.8,361.5 625.6,360" fill="#33296d"/>
<polygon points="627.1,363 634.4,364.6 637.4,362.4 630.1,360.9" fill="#332668"/>
<polygon points="631.7,364 639,365.5 641.9,363.3 634.6,361.9" fill="#33296d"/>
<polygon points="636.2,364.9 643.5,366.5 646.4,364.3 639.2,362.8" fill="#36307d"/>
<polygon points="640.8,365.9 648.1,367.5 650.9,365.2 643.7,363.7" fill="#393c95"/>
<polygon points="645.3,366.9 649.9,367.9 652.7,365.5 648.2,364.6" fill="#3c4aac"/>
<polygon points="607.7,359.9 615,361.4 618.1,359.5 610.9,358" fill="#3c52b8"/>
<polygon points="612.2,360.8 619.6,362.4 622.6,360.4 615.4,358.9" fill="#3b45a4"/>
<polygon points="616.8,361.8 624.1,363.4 627.2,361.4 619.9,359.9" fill="#393a91"/>
<polygon points="621.4,362.8 628.7,364.4 631.7,362.3 624.4,360.8" fill="#363382"/>
<polygon points="626,363.8 633.3,365.4 636.2,363.2 629,361.7" fill="#36307d"/>
<polygon points="630.5,364.8 637.8,366.4 640.7,364.2 633.5,362.7" fill="#363382"/>
<polygon points="635.1,365.8 642.4,367.4 645.3,365.1 638,363.6" fill="#393a91"/>
<polygon points="639.7,366.8 647,368.3 649.8,366.1 642.6,364.6" fill="#3b45a4"/>
<polygon points="644.2,367.7 648.8,368.7 651.6,366.4 647.1,365.5" fill="#3c52b8"/>
<polygon points="606.4,360.6 613.8,362.2 616.9,360.2 609.6,358.7" fill="#3d5cc5"/>
<polygon points="611,361.6 618.4,363.2 621.5,361.2 614.2,359.7" fill="#3c50b4"/>
<polygon points="615.6,362.6 623,364.2 626,362.2 618.7,360.6" fill="#3b45a4"/>
<polygon points="620.2,363.6 627.5,365.2 630.5,363.1 623.3,361.6" fill="#393e98"/>
<polygon points="624.8,364.6 632.1,366.2 635.1,364.1 627.8,362.5" fill="#393c94"/>
<polygon points="629.4,365.6 636.7,367.2 639.6,365 632.4,363.5" fill="#393e98"/>
<polygon points="634,366.6 641.3,368.2 644.2,366 636.9,364.4" fill="#3b45a4"/>
<polygon points="638.6,367.6 645.9,369.2 648.7,366.9 641.4,365.4" fill="#3c50b4"/>
<polygon points="643.1,368.6 647.7,369.6 650.5,367.3 646,366.4" fill="#3d5cc5"/>
<polygon points="605.2,361.3 612.6,362.9 615.7,361 608.4,359.4" fill="#3e67d0"/>
<polygon points="609.8,362.3 617.2,364 620.3,362 613,360.4" fill="#3d5bc4"/>
<polygon points="614.4,363.3 621.8,365 624.8,362.9 617.5,361.4" fill="#3c52b7"/>
<polygon points="619,364.4 626.4,366 629.4,363.9 622.1,362.4" fill="#3c4baf"/>
<polygon points="623.6,365.4 631,367 634,364.9 626.7,363.3" fill="#3b49ab"/>
<polygon points="628.2,366.4 635.6,368.1 638.5,365.9 631.2,364.3" fill="#3c4baf"/>
<polygon points="632.8,367.4 640.2,369.1 643.1,366.8 635.8,365.3" fill="#3c52b7"/>
<polygon points="637.4,368.5 644.8,370.1 647.6,367.8 640.3,366.3" fill="#3d5bc4"/>
<polygon points="642.1,369.5 646.7,370.5 649.5,368.2 644.9,367.2" fill="#3e67d0"/>
<polygon points="604,362 611.4,363.7 614.5,361.7 607.2,360.1" fill="#3d74da"/>
<polygon points="608.6,363.1 616,364.7 619.1,362.7 611.8,361.1" fill="#3e68d1"/>
<polygon points="613.2,364.1 620.6,365.8 623.7,363.7 616.3,362.1" fill="#3e5fc9"/>
<polygon points="617.9,365.1 625.2,366.8 628.2,364.7 620.9,363.1" fill="#3d59c1"/>
<polygon points="622.5,366.2 629.9,367.9 632.8,365.7 625.5,364.1" fill="#3d57bf"/>
<polygon points="627.1,367.2 634.5,368.9 637.4,366.7 630.1,365.1" fill="#3d59c1"/>
<polygon points="631.7,368.3 639.1,369.9 642,367.7 634.6,366.1" fill="#3e5fc9"/>
<polygon points="636.3,369.3 643.7,371 646.6,368.7 639.2,367.1" fill="#3e68d1"/>
<polygon points="641,370.4 645.6,371.4 648.4,369.1 643.8,368.1" fill="#3d74da"/>
<polygon points="602.8,362.7 610.2,364.4 613.3,362.5 606,360.9" fill="#3a81e0"/>
<polygon points="607.4,363.8 614.8,365.5 617.9,363.5 610.5,361.9" fill="#3c77db"/>
<polygon points="612,364.9 619.5,366.6 622.5,364.5 615.1,362.9" fill="#3e6ed6"/>
<polygon points="616.7,365.9 624.1,367.6 627.1,365.5 619.7,363.9" fill="#3e69d1"/>
<polygon points="621.3,367 628.7,368.7 631.7,366.5 624.3,364.9" fill="#3e67d0"/>
<polygon points="626,368 633.4,369.7 636.3,367.5 628.9,365.9" fill="#3e69d1"/>
<polygon points="630.6,369.1 638,370.8 640.9,368.6 633.5,366.9" fill="#3e6ed6"/>
<polygon points="635.2,370.2 642.6,371.9 645.5,369.6 638.1,368" fill="#3c77db"/>
<polygon points="639.9,371.2 644.5,372.3 647.3,370 642.7,369" fill="#3a81e0"/>
<polygon points="601.5,363.4 609,365.2 612.1,363.2 604.7,361.6" fill="#338fdd"/>
<polygon points="606.2,364.5 613.6,366.3 616.7,364.3 609.3,362.6" fill="#3885e0"/>
<polygon points="610.8,365.6 618.3,367.3 621.3,365.3 613.9,363.6" fill="#3b7ede"/>
<polygon points="615.5,366.7 622.9,368.4 625.9,366.3 618.6,364.7" fill="#3c79dc"/>
<polygon points="620.2,367.8 627.6,369.5 630.5,367.4 623.2,365.7" fill="#3c77dc"/>
<polygon points="624.8,368.8 632.3,370.6 635.2,368.4 627.8,366.7" fill="#3c79dc"/>
<polygon points="629.5,369.9 636.9,371.7 639.8,369.4 632.4,367.8" fill="#3b7ede"/>
<polygon points="634.1,371 641.6,372.7 644.4,370.5 637,368.8" fill="#3885e0"/>
<polygon points="638.8,372.1 643.4,373.2 646.2,370.9 641.6,369.8" fill="#338fdd"/>
<polygon points="600.3,364.2 607.8,365.9 610.9,364 603.5,362.3" fill="#299ed5"/>
<polygon points="605,365.3 612.5,367 615.5,365 608.1,363.3" fill="#2f95db"/>
<polygon points="609.7,366.4 617.1,368.1 620.2,366.1 612.8,364.4" fill="#338fdd"/>
<polygon points="614.3,367.5 621.8,369.2 624.8,367.1 617.4,365.4" fill="#368ade"/>
<polygon points="619,368.6 626.5,370.3 629.4,368.2 622,366.5" fill="#3789df"/>
<polygon points="623.7,369.7 631.1,371.4 634,369.2 626.6,367.5" fill="#368ade"/>
<polygon points="628.3,370.8 635.8,372.5 638.7,370.3 631.3,368.6" fill="#338fdd"/>
<polygon points="633,371.9 640.5,373.6 643.3,371.3 635.9,369.6" fill="#2f95db"/>
<polygon points="637.7,373 642.3,374.1 645.1,371.8 640.5,370.7" fill="#299ed5"/>
<polygon points="599.1,364.9 606.6,366.7 609.7,364.7 602.3,363" fill="#1eacc7"/>
<polygon points="603.8,366 611.3,367.8 614.3,365.8 606.9,364.1" fill="#23a6ce"/>
<polygon points="608.5,367.1 616,368.9 619,366.9 611.6,365.2" fill="#27a0d3"/>
<polygon points="613.1,368.2 620.6,370 623.6,367.9 616.2,366.2" fill="#2a9cd6"/>
<polygon points="617.8,369.4 625.3,371.1 628.3,369 620.9,367.3" fill="#2b9bd7"/>
<polygon points="622.5,370.5 630,372.3 632.9,370.1 625.5,368.4" fill="#2a9cd6"/>
<polygon points="627.2,371.6 634.7,373.4 637.6,371.1 630.1,369.4" fill="#27a0d3"/>
<polygon points="631.9,372.7 639.4,374.5 642.2,372.2 634.8,370.5" fill="#23a6ce"/>
<polygon points="636.6,373.8 641.3,374.9 644.1,372.6 639.4,371.6" fill="#1eacc7"/>
<polygon points="597.9,365.6 605.4,367.4 608.5,365.5 601,363.7" fill="#17bab6"/>
<polygon points="602.6,366.7 610.1,368.6 613.2,366.6 605.7,364.8" fill="#19b5be"/>
<polygon points="607.3,367.9 614.8,369.7 617.8,367.7 610.4,365.9" fill="#1cb0c3"/>
<polygon points="612,369 619.5,370.8 622.5,368.7 615,367" fill="#1eadc6"/>
<polygon points="616.7,370.1 624.2,372 627.1,369.8 619.7,368.1" fill="#1eacc7"/>
<polygon points="621.4,371.3 628.9,373.1 631.8,370.9 624.4,369.2" fill="#1eadc6"/>
<polygon points="626.1,372.4 633.6,374.2 636.5,372 629,370.3" fill="#1cb0c3"/>
<polygon points="630.8,373.6 638.3,375.4 641.1,373.1 633.7,371.3" fill="#19b5be"/>
<polygon points="635.5,374.7 640.2,375.8 643,373.5 638.3,372.4" fill="#17bab6"/>
<polygon points="596.6,366.3 604.2,368.2 607.3,366.2 599.8,364.5" fill="#17c6a4"/>
<polygon points="601.3,367.5 608.9,369.3 612,367.3 604.5,365.6" fill="#15c3aa"/>
<polygon points="606.1,368.6 613.6,370.5 616.7,368.4 609.2,366.7" fill="#16c0ae"/>
<polygon points="610.8,369.8 618.3,371.6 621.3,369.5 613.9,367.8" fill="#16bdb2"/>
<polygon points="615.5,370.9 623.1,372.8 626,370.6 618.5,368.9" fill="#17bdb3"/>
<polygon points="620.2,372.1 627.8,373.9 630.7,371.8 623.2,370" fill="#16bdb2"/>
<polygon points="625,373.2 632.5,375.1 635.4,372.9 627.9,371.1" fill="#16c0ae"/>
<polygon points="629.7,374.4 637.2,376.3 640,374 632.6,372.2" fill="#15c3aa"/>
<polygon points="634.4,375.6 639.1,376.7 641.9,374.4 637.2,373.3" fill="#17c6a4"/>
<polygon points="595.4,367 603,368.9 606.1,367 598.6,365.2" fill="#22d092"/>
<polygon points="600.1,368.2 607.7,370.1 610.8,368.1 603.3,366.3" fill="#1dce97"/>
<polygon points="604.9,369.4 612.5,371.3 615.5,369.2 608,367.4" fill="#1bcc9b"/>
<polygon points="609.6,370.6 617.2,372.4 620.2,370.3 612.7,368.5" fill="#1acb9e"/>
<polygon points="614.4,371.7 621.9,373.6 624.9,371.5 617.4,369.7" fill="#1aca9f"/>
<polygon points="619.1,372.9 626.7,374.8 629.6,372.6 622.1,370.8" fill="#1acb9e"/>
<polygon points="623.8,374.1 631.4,376 634.3,373.7 626.8,371.9" fill="#1bcc9b"/>
<polygon points="628.6,375.3 636.1,377.1 639,374.8 631.5,373" fill="#1dce97"/>
<polygon points="633.3,376.4 638,377.6 640.8,375.3 636.1,374.2" fill="#22d092"/>
<polygon points="594.2,367.8 601.8,369.7 604.9,367.7 597.4,365.9" fill="#36d77c"/>
<polygon points="598.9,369 606.5,370.9 609.6,368.9 602.1,367" fill="#31d681"/>
<polygon points="603.7,370.1 611.3,372 614.3,370 606.8,368.2" fill="#2dd585"/>
<polygon points="608.4,371.3 616,373.2 619,371.2 611.5,369.3" fill="#2bd487"/>
<polygon points="613.2,372.5 620.8,374.4 623.7,372.3 616.2,370.5" fill="#2ad488"/>
<polygon points="617.9,373.7 625.6,375.6 628.5,373.4 620.9,371.6" fill="#2bd487"/>
<polygon points="622.7,374.9 630.3,376.8 633.2,374.6 625.6,372.8" fill="#2dd585"/>
<polygon points="627.5,376.1 635.1,378 637.9,375.7 630.3,373.9" fill="#31d681"/>
<polygon points="632.2,377.3 637,378.5 639.8,376.2 635.1,375" fill="#36d77c"/>
<polygon points="592.9,368.5 600.6,370.4 603.7,368.5 596.1,366.6" fill="#51dd63"/>
<polygon points="597.7,369.7 605.4,371.6 608.4,369.6 600.9,367.8" fill="#4ddc67"/>
<polygon points="602.5,370.9 610.1,372.8 613.2,370.8 605.6,368.9" fill="#4adc69"/>
<polygon points="607.3,372.1 614.9,374 617.9,372 610.3,370.1" fill="#48dc6b"/>
<polygon points="612,373.3 619.7,375.3 622.6,373.1 615,371.3" fill="#47dc6c"/>
<polygon points="616.8,374.5 624.4,376.5 627.3,374.3 619.8,372.4" fill="#48dc6b"/>
<polygon points="621.6,375.7 629.2,377.7 632.1,375.4 624.5,373.6" fill="#4adc69"/>
<polygon points="626.3,377 634,378.9 636.8,376.6 629.2,374.7" fill="#4ddc67"/>
<polygon points="631.1,378.2 635.9,379.4 638.7,377.1 634,375.9" fill="#51dd63"/>
<polygon points="591.7,369.2 599.4,371.2 602.5,369.2 594.9,367.3" fill="#6de04c"/>
<polygon points="596.5,370.4 604.2,372.4 607.2,370.4 599.7,368.5" fill="#6be04e"/>
<polygon points="601.3,371.7 609,373.6 612,371.6 604.4,369.7" fill="#69e04f"/>
<polygon points="606.1,372.9 613.7,374.8 616.7,372.8 609.1,370.9" fill="#68e050"/>
<polygon points="610.9,374.1 618.5,376.1 621.5,373.9 613.9,372.1" fill="#68e050"/>
<polygon points="615.7,375.3 623.3,377.3 626.2,375.1 618.6,373.2" fill="#68e050"/>
<polygon points="620.4,376.6 628.1,378.5 631,376.3 623.4,374.4" fill="#69e04f"/>
<polygon points="625.2,377.8 632.9,379.8 635.7,377.5 628.1,375.6" fill="#6be04e"/>
<polygon points="630,379 634.8,380.3 637.6,378 632.9,376.8" fill="#6de04c"/>
<polygon points="590.5,369.9 598.2,371.9 601.3,370 593.7,368" fill="#87df3b"/>
<polygon points="595.3,371.2 603,373.2 606.1,371.2 598.4,369.2" fill="#86df3b"/>
<polygon points="600.1,372.4 607.8,374.4 610.8,372.4 603.2,370.4" fill="#86df3b"/>
<polygon points="604.9,373.7 612.6,375.7 615.6,373.6 608,371.6" fill="#85df3b"/>
<polygon points="609.7,374.9 617.4,376.9 620.3,374.8 612.7,372.8" fill="#85df3b"/>
<polygon points="614.5,376.2 622.2,378.2 625.1,376 617.5,374" fill="#85df3b"/>
<polygon points="619.3,377.4 627,379.4 629.9,377.2 622.2,375.2" fill="#86df3b"/>
<polygon points="624.1,378.6 631.8,380.6 634.6,378.4 627,376.4" fill="#86df3b"/>
<polygon points="628.9,379.9 633.7,381.1 636.5,378.8 631.8,377.6" fill="#87df3b"/>
<polygon points="589.3,370.6 597,372.7 600.1,370.7 592.5,368.8" fill="#9cdb31"/>
<polygon points="594.1,371.9 601.8,373.9 604.9,371.9 597.2,370" fill="#9cda31"/>
<polygon points="598.9,373.2 606.6,375.2 609.7,373.1 602,371.2" fill="#9dda31"/>
<polygon points="603.7,374.4 611.4,376.5 614.4,374.4 606.8,372.4" fill="#9dda31"/>
<polygon points="608.5,375.7 616.3,377.7 619.2,375.6 611.6,373.6" fill="#9dda31"/>
<polygon points="613.4,377 621.1,379 624,376.8 616.3,374.9" fill="#9dda31"/>
<polygon points="618.2,378.2 625.9,380.3 628.8,378 621.1,376.1" fill="#9dda31"/>
<polygon points="623,379.5 630.7,381.5 633.5,379.2 625.9,377.3" fill="#9cda31"/>
<polygon points="627.8,380.8 632.7,382 635.5,379.7 630.7,378.5" fill="#9cdb31"/>
<polygon points="588,371.3 595.8,373.4 598.9,371.5 591.2,369.5" fill="#aed32e"/>
<polygon points="592.9,372.6 600.6,374.7 603.7,372.7 596,370.7" fill="#b0d22e"/>
<polygon points="597.7,373.9 605.5,376 608.5,373.9 600.8,372" fill="#b1d12e"/>
<polygon points="602.5,375.2 610.3,377.3 613.3,375.2 605.6,373.2" fill="#b2d12e"/>
<polygon points="607.4,376.5 615.1,378.5 618.1,376.4 610.4,374.4" fill="#b2d12e"/>
<polygon points="612.2,377.8 620,379.8 622.9,377.6 615.2,375.7" fill="#b2d12e"/>
<polygon points="617.1,379.1 624.8,381.1 627.7,378.9 620,376.9" fill="#b1d12e"/>
<polygon points="621.9,380.3 629.6,382.4 632.5,380.1 624.8,378.1" fill="#b0d22e"/>
<polygon points="626.7,381.6 631.6,382.9 634.4,380.6 629.6,379.4" fill="#aed32e"/>
<polygon points="586.8,372.1 594.6,374.2 597.7,372.2 590,370.2" fill="#bfc830"/>
<polygon points="591.7,373.4 599.4,375.5 602.5,373.5 594.8,371.5" fill="#c1c630"/>
<polygon points="596.5,374.7 604.3,376.8 607.3,374.7 599.6,372.7" fill="#c3c530"/>
<polygon points="601.4,376 609.1,378.1 612.1,376 604.4,374" fill="#c5c430"/>
<polygon points="606.2,377.3 614,379.4 616.9,377.2 609.2,375.2" fill="#c5c331"/>
<polygon points="611.1,378.6 618.8,380.7 621.8,378.5 614.1,376.5" fill="#c5c430"/>
<polygon points="615.9,379.9 623.7,382 626.6,379.7 618.9,377.7" fill="#c3c530"/>
<polygon points="620.8,381.2 628.6,383.3 631.4,381 623.7,379" fill="#c1c630"/>
<polygon points="625.6,382.5 630.5,383.8 633.3,381.5 628.5,380.2" fill="#bfc830"/>
<polygon points="585.6,372.8 593.4,374.9 596.5,373 588.8,370.9" fill="#cdbb32"/>
<polygon points="590.5,374.1 598.2,376.2 601.3,374.2 593.6,372.2" fill="#d0b833"/>
<polygon points="595.3,375.4 603.1,377.5 606.2,375.5 598.4,373.5" fill="#d2b533"/>
<polygon points="600.2,376.8 608,378.9 611,376.8 603.3,374.7" fill="#d3b433"/>
<polygon points="605.1,378.1 612.9,380.2 615.8,378.1 608.1,376" fill="#d3b333"/>
<polygon points="609.9,379.4 617.7,381.5 620.6,379.3 612.9,377.3" fill="#d3b433"/>
<polygon points="614.8,380.7 622.6,382.8 625.5,380.6 617.7,378.6" fill="#d2b533"/>
<polygon points="619.7,382 627.5,384.2 630.3,381.9 622.6,379.8" fill="#d0b833"/>
<polygon points="624.6,383.4 629.4,384.7 632.2,382.4 627.4,381.1" fill="#cdbb32"/>
<polygon points="584.4,373.5 592.2,375.7 595.3,373.7 587.5,371.6" fill="#d7ac32"/>
<polygon points="589.2,374.8 597.1,377 600.1,375 592.4,372.9" fill="#d9a832"/>
<polygon points="594.1,376.2 602,378.3 605,376.3 597.2,374.2" fill="#dba532"/>
<polygon points="599,377.5 606.8,379.7 609.8,377.6 602.1,375.5" fill="#dba331"/>
<polygon points="603.9,378.9 611.7,381 614.7,378.9 606.9,376.8" fill="#dca231"/>
<polygon points="608.8,380.2 616.6,382.4 619.5,380.2 611.8,378.1" fill="#dba331"/>
<polygon points="613.7,381.6 621.5,383.7 624.4,381.5 616.6,379.4" fill="#dba532"/>
<polygon points="618.6,382.9 626.4,385 629.2,382.8 621.5,380.7" fill="#d9a832"/>
<polygon points="623.5,384.2 628.3,385.6 631.1,383.3 626.3,382" fill="#d7ac32"/>
<polygon points="583.1,374.2 591,376.4 594.1,374.5 586.3,372.4" fill="#dd9e30"/>
<polygon points="588,375.6 595.9,377.8 599,375.8 591.2,373.7" fill="#de992e"/>
<polygon points="592.9,376.9 600.8,379.1 603.8,377.1 596,375" fill="#df942c"/>
<polygon points="597.8,378.3 605.7,380.5 608.7,378.4 600.9,376.3" fill="#df912b"/>
<polygon points="602.7,379.7 610.6,381.8 613.5,379.7 605.8,377.6" fill="#df902b"/>
<polygon points="607.6,381 615.5,383.2 618.4,381 610.6,378.9" fill="#df912b"/>
<polygon points="612.6,382.4 620.4,384.6 623.3,382.3 615.5,380.2" fill="#df942c"/>
<polygon points="617.5,383.7 625.3,385.9 628.1,383.6 620.3,381.5" fill="#de992e"/>
<polygon points="622.4,385.1 627.3,386.5 630.1,384.2 625.2,382.8" fill="#dd9e30"/>
<polygon points="581.9,374.9 589.8,377.1 592.9,375.2 585.1,373.1" fill="#df8e2a"/>
<polygon points="586.8,376.3 594.7,378.5 597.8,376.5 590,374.4" fill="#df8727"/>
<polygon points="591.7,377.7 599.6,379.9 602.7,377.9 594.8,375.7" fill="#df8024"/>
<polygon points="596.7,379.1 604.5,381.3 607.5,379.2 599.7,377.1" fill="#df7c23"/>
<polygon points="601.6,380.5 609.5,382.7 612.4,380.5 604.6,378.4" fill="#de7b22"/>
<polygon points="606.5,381.8 614.4,384 617.3,381.9 609.5,379.7" fill="#df7c23"/>
<polygon points="611.4,383.2 619.3,385.4 622.2,383.2 614.4,381.1" fill="#df8024"/>
<polygon points="616.3,384.6 624.2,386.8 627,384.5 619.2,382.4" fill="#df8727"/>
<polygon points="621.3,386 626.2,387.4 629,385 624.1,383.7" fill="#df8e2a"/>
<polygon points="580.7,375.7 588.6,377.9 591.7,375.9 583.9,373.8" fill="#df7c23"/>
<polygon points="585.6,377.1 593.5,379.3 596.6,377.3 588.8,375.1" fill="#dd731f"/>
<polygon points="590.5,378.5 598.4,380.7 601.5,378.6 593.7,376.5" fill="#dc6c1c"/>
<polygon points="595.5,379.9 603.4,382.1 606.4,380 598.5,377.8" fill="#db681a"/>
<polygon points="600.4,381.2 608.3,383.5 611.3,381.3 603.4,379.2" fill="#da6619"/>
<polygon points="605.4,382.6 613.3,384.9 616.2,382.7 608.3,380.5" fill="#db681a"/>
<polygon points="610.3,384 618.2,386.3 621.1,384 613.2,381.9" fill="#dc6c1c"/>
<polygon points="615.2,385.4 623.1,387.7 626,385.4 618.1,383.2" fill="#dd731f"/>
<polygon points="620.2,386.8 625.1,388.2 627.9,385.9 623,384.6" fill="#df7c23"/>
<polygon points="579.4,376.4 587.4,378.6 590.5,376.7 582.6,374.5" fill="#dc6b1b"/>
<polygon points="584.4,377.8 592.3,380.1 595.4,378.1 587.5,375.9" fill="#d96117"/>
<polygon points="589.4,379.2 597.3,381.5 600.3,379.4 592.5,377.2" fill="#d75914"/>
<polygon points="594.3,380.6 602.2,382.9 605.2,380.8 597.4,378.6" fill="#d55512"/>
<polygon points="599.3,382 607.2,384.3 610.1,382.2 602.3,380" fill="#d45311"/>
<polygon points="604.2,383.5 612.1,385.7 615,383.5 607.2,381.3" fill="#d55512"/>
<polygon points="609.2,384.9 617.1,387.1 620,384.9 612.1,382.7" fill="#d75914"/>
<polygon points="614.1,386.3 622.1,388.6 624.9,386.3 617,384.1" fill="#d96117"/>
<polygon points="619.1,387.7 624,389.1 626.8,386.8 621.9,385.5" fill="#dc6b1b"/>
<polygon points="578.2,377.1 586.2,379.4 589.3,377.4 581.4,375.2" fill="#d75a15"/>
<polygon points="583.2,378.5 591.1,380.8 594.2,378.8 586.3,376.6" fill="#d35111"/>
<polygon points="588.2,380 596.1,382.3 599.1,380.2 591.3,378" fill="#d0490d"/>
<polygon points="593.1,381.4 601.1,383.7 604.1,381.6 596.2,379.4" fill="#cd440c"/>
<polygon points="598.1,382.8 606.1,385.1 609,383 601.1,380.8" fill="#cc430b"/>
<polygon points="603.1,384.3 611,386.6 613.9,384.4 606,382.2" fill="#cd440c"/>
<polygon points="608,385.7 616,388 618.9,385.8 611,383.5" fill="#d0490d"/>
<polygon points="613,387.1 621,389.4 623.8,387.1 615.9,384.9" fill="#d35111"/>
<polygon points="618,388.6 623,390 625.8,387.7 620.8,386.3" fill="#d75a15"/>
<polygon points="577,377.8 585,380.1 588.1,378.2 580.2,375.9" fill="#d14c0f"/>
<polygon points="582,379.3 590,381.6 593,379.6 585.1,377.4" fill="#cc430b"/>
<polygon points="587,380.7 594.9,383 598,381 590.1,378.8" fill="#c83c09"/>
<polygon points="592,382.2 599.9,384.5 602.9,382.4 595,380.2" fill="#c53807"/>
<polygon points="596.9,383.6 604.9,386 607.9,383.8 600,381.6" fill="#c33707"/>
<polygon points="601.9,385.1 609.9,387.4 612.8,385.2 604.9,383" fill="#c53807"/>
<polygon points="606.9,386.5 614.9,388.9 617.8,386.6 609.8,384.4" fill="#c83c09"/>
<polygon points="611.9,388 619.9,390.3 622.7,388 614.8,385.8" fill="#cc430b"/>
<polygon points="616.9,389.4 621.9,390.9 624.7,388.6 619.7,387.2" fill="#d14c0f"/>
<polygon points="575.8,378.5 583.8,380.9 586.9,378.9 579,376.7" fill="#cb410a"/>
<polygon points="580.8,380 588.8,382.4 591.9,380.4 583.9,378.1" fill="#c53807"/>
<polygon points="585.8,381.5 593.8,383.8 596.8,381.8 588.9,379.5" fill="#bf3206"/>
<polygon points="590.8,382.9 598.8,385.3 601.8,383.2 593.8,380.9" fill="#bb2d05"/>
<polygon points="595.8,384.4 603.8,386.8 606.7,384.6 598.8,382.4" fill="#b92c05"/>
<polygon points="600.8,385.9 608.8,388.2 611.7,386.1 603.8,383.8" fill="#bb2d05"/>
<polygon points="605.8,387.4 613.8,389.7 616.7,387.5 608.7,385.2" fill="#bf3206"/>
<polygon points="610.8,388.8 618.8,391.2 621.6,388.9 613.7,386.6" fill="#c53807"/>
<polygon points="615.8,390.3 620.8,391.8 623.6,389.5 618.6,388.1" fill="#cb410a"/>
<polygon points="574.5,379.2 582.6,381.6 585.7,379.7 577.7,377.4" fill="#c53807"/>
<polygon points="579.6,380.7 587.6,383.1 590.7,381.1 582.7,378.8" fill="#bc2f05"/>
<polygon points="584.6,382.2 592.6,384.6 595.6,382.6 587.7,380.3" fill="#b62804"/>
<polygon points="589.6,383.7 597.6,386.1 600.6,384 592.7,381.7" fill="#b02403"/>
<polygon points="594.6,385.2 602.7,387.6 605.6,385.5 597.6,383.2" fill="#af2303"/>
<polygon points="599.6,386.7 607.7,389.1 610.6,386.9 602.6,384.6" fill="#b02403"/>
<polygon points="604.7,388.2 612.7,390.6 615.6,388.3 607.6,386" fill="#b62804"/>
<polygon points="609.7,389.7 617.7,392.1 620.5,389.8 612.6,387.5" fill="#bc2f05"/>
<polygon points="614.7,391.2 619.7,392.7 622.5,390.4 617.5,388.9" fill="#c53807"/>
<polygon points="573.3,380 581.4,382.4 584.5,380.4 576.5,378.1" fill="#bd3006"/>
<polygon points="578.3,381.5 586.4,383.9 589.5,381.9 581.5,379.6" fill="#b42704"/>
<polygon points="583.4,383 591.4,385.4 594.5,383.4 586.5,381" fill="#ac2103"/>
<polygon points="588.4,384.5 596.5,386.9 599.5,384.8 591.5,382.5" fill="#a61d02"/>
<polygon points="593.5,386 601.5,388.4 604.5,386.3 596.5,383.9" fill="#a41b02"/>
<polygon points="598.5,387.5 606.6,389.9 609.5,387.7 601.5,385.4" fill="#a61d02"/>
<polygon points="603.5,389 611.6,391.4 614.5,389.2 606.5,386.9" fill="#ac2103"/>
<polygon points="608.6,390.5 616.6,393 619.5,390.7 611.5,388.3" fill="#b42704"/>
<polygon points="613.6,392 618.6,393.6 621.5,391.2 616.5,389.8" fill="#bd3006"/>
<polygon points="572.1,380.7 580.2,383.1 583.3,381.2 575.3,378.8" fill="#b72904"/>
<polygon points="577.1,382.2 585.2,384.7 588.3,382.7 580.3,380.3" fill="#ac2103"/>
<polygon points="582.2,383.7 590.3,386.2 593.3,384.1 585.3,381.8" fill="#a31b02"/>
<polygon points="587.2,385.3 595.3,387.7 598.3,385.6 590.3,383.3" fill="#9c1701"/>
<polygon points="592.3,386.8 600.4,389.2 603.3,387.1 595.3,384.7" fill="#9a1601"/>
<polygon points="597.4,388.3 605.4,390.8 608.3,388.6 600.3,386.2" fill="#9c1701"/>
<polygon points="602.4,389.9 610.5,392.3 613.4,390.1 605.3,387.7" fill="#a31b02"/>
<polygon points="607.5,391.4 615.6,393.8 618.4,391.5 610.4,389.2" fill="#ac2103"/>
<polygon points="612.5,392.9 617.6,394.4 620.4,392.1 615.4,390.7" fill="#b72904"/>
<polygon points="570.9,381.4 579,383.9 582.1,381.9 574,379.5" fill="#b02403"/>
<polygon points="575.9,383 584,385.4 587.1,383.4 579.1,381" fill="#a41b02"/>
<polygon points="581,384.5 589.1,387 592.1,384.9 584.1,382.5" fill="#9a1601"/>
<polygon points="586.1,386 594.2,388.5 597.2,386.4 589.1,384" fill="#931201"/>
<polygon points="591.1,387.6 599.3,390.1 602.2,387.9 594.2,385.5" fill="#901101"/>
<polygon points="596.2,389.1 604.3,391.6 607.2,389.4 599.2,387" fill="#931201"/>
<polygon points="601.3,390.7 609.4,393.2 612.3,390.9 604.2,388.5" fill="#9a1601"/>
<polygon points="606.4,392.2 614.5,394.7 617.3,392.4 609.2,390" fill="#a41b02"/>
<polygon points="611.4,393.8 616.5,395.3 619.3,393 614.3,391.5" fill="#b02403"/>
<polygon points="569.6,382.1 577.8,384.6 580.9,382.7 572.8,380.3" fill="#aa1f02"/>
<polygon points="574.7,383.7 582.9,386.2 585.9,384.2 577.9,381.8" fill="#9d1801"/>
<polygon points="579.8,385.3 587.9,387.8 591,385.7 582.9,383.3" fill="#921201"/>
<polygon points="584.9,386.8 593,389.3 596,387.2 588,384.8" fill="#8a0e01"/>
<polygon points="590,388.4 598.1,390.9 601.1,388.8 593,386.3" fill="#870d01"/>
<polygon points="595.1,390 603.2,392.5 606.1,390.3 598,387.8" fill="#8a0e01"/>
<polygon points="600.2,391.5 608.3,394 611.2,391.8 603.1,389.4" fill="#921201"/>
<polygon points="605.2,393.1 613.4,395.6 616.2,393.3 608.1,390.9" fill="#9d1801"/>
<polygon points="610.3,394.6 615.4,396.2 618.2,393.9 613.2,392.4" fill="#aa1f02"/>
<polygon points="568.4,382.8 576.6,385.4 579.7,383.4 571.6,381" fill="#a41b02"/>
<polygon points="573.5,384.4 581.7,387 584.7,385 576.7,382.5" fill="#961401"/>
<polygon points="578.6,386 586.8,388.5 589.8,386.5 581.7,384" fill="#8a0e01"/>
<polygon points="583.7,387.6 591.9,390.1 594.9,388 586.8,385.6" fill="#820b01"/>
<polygon points="588.8,389.2 597,391.7 599.9,389.6 591.8,387.1" fill="#800901"/>
<polygon points="593.9,390.8 602.1,393.3 605,391.1 596.9,388.7" fill="#820b01"/>
<polygon points="599,392.3 607.2,394.9 610.1,392.6 602,390.2" fill="#8a0e01"/>
<polygon points="604.1,393.9 612.3,396.5 615.1,394.2 607,391.7" fill="#961401"/>
<polygon points="609.2,395.5 614.3,397.1 617.1,394.8 612.1,393.3" fill="#a41b02"/>
<polygon points="567.2,383.6 575.4,386.1 578.5,384.2 570.4,381.7" fill="#9f1901"/>
<polygon points="572.3,385.2 580.5,387.7 583.6,385.7 575.4,383.2" fill="#911101"/>
<polygon points="577.4,386.8 585.6,389.3 588.6,387.3 580.5,384.8" fill="#840c01"/>
<polygon points="582.5,388.4 590.7,390.9 593.7,388.8 585.6,386.4" fill="#7c0801"/>
<polygon points="587.7,390 595.9,392.5 598.8,390.4 590.7,387.9" fill="#790801"/>
<polygon points="592.8,391.6 601,394.1 603.9,392 595.8,389.5" fill="#7c0801"/>
<polygon points="597.9,393.2 606.1,395.7 609,393.5 600.8,391" fill="#840c01"/>
<polygon points="603,394.8 611.2,397.3 614,395.1 605.9,392.6" fill="#911101"/>
<polygon points="608.1,396.4 613.3,398 616.1,395.7 611,394.1" fill="#9f1901"/>
<polygon points="565.9,384.3 574.2,386.9 577.3,384.9 569.1,382.4" fill="#9b1701"/>
<polygon points="571.1,385.9 579.3,388.5 582.4,386.5 574.2,384" fill="#8c0f01"/>
<polygon points="576.2,387.5 584.4,390.1 587.5,388.1 579.3,385.6" fill="#800901"/>
<polygon points="581.4,389.1 589.6,391.7 592.6,389.6 584.4,387.1" fill="#770702"/>
<polygon points="586.5,390.8 594.7,393.4 597.7,391.2 589.5,388.7" fill="#740602"/>
<polygon points="591.6,392.4 599.9,395 602.8,392.8 594.6,390.3" fill="#770702"/>
<polygon points="596.8,394 605,396.6 607.9,394.4 599.7,391.8" fill="#800901"/>
<polygon points="601.9,395.6 610.1,398.2 612.9,395.9 604.8,393.4" fill="#8c0f01"/>
<polygon points="607,397.3 612.2,398.9 615,396.6 609.9,395" fill="#9b1701"/>
<polygon points="564.7,385 573,387.6 576.1,385.7 567.9,383.1" fill="#981501"/>
<polygon points="569.9,386.6 578.1,389.3 581.2,387.3 573,384.7" fill="#890e01"/>
<polygon points="575,388.3 583.3,390.9 586.3,388.9 578.1,386.3" fill="#7c0801"/>
<polygon points="580.2,389.9 588.4,392.5 591.4,390.5 583.2,387.9" fill="#730602"/>
<polygon points="585.3,391.6 593.6,394.2 596.5,392 588.4,389.5" fill="#700502"/>
<polygon points="590.5,393.2 598.7,395.8 601.6,393.6 593.5,391.1" fill="#730602"/>
<polygon points="595.6,394.8 603.9,397.5 606.8,395.2 598.6,392.7" fill="#7c0801"/>
<polygon points="600.8,396.5 609,399.1 611.9,396.8 603.7,394.3" fill="#890e01"/>
<polygon points="606,398.1 611.1,399.8 613.9,397.5 608.8,395.9" fill="#981501"/>
<polygon points="563.5,385.7 571.8,388.4 574.9,386.4 566.7,383.8" fill="#961401"/>
<polygon points="568.7,387.4 576.9,390 580,388 571.8,385.5" fill="#870d01"/>
<polygon points="573.8,389 582.1,391.7 585.1,389.6 576.9,387.1" fill="#790801"/>
<polygon points="579,390.7 587.3,393.3 590.3,391.3 582.1,388.7" fill="#710502"/>
<polygon points="584.2,392.3 592.4,395 595.4,392.9 587.2,390.3" fill="#6e0402"/>
<polygon points="589.3,394 597.6,396.7 600.5,394.5 592.3,391.9" fill="#710502"/>
<polygon points="594.5,395.7 602.8,398.3 605.7,396.1 597.4,393.5" fill="#790801"/>
<polygon points="599.7,397.3 608,400 610.8,397.7 602.6,395.1" fill="#870d01"/>
<polygon points="604.9,399 610,400.6 612.8,398.3 607.7,396.7" fill="#961401"/>
<polygon points="563,386 571.3,388.7 573.7,387.2 565.5,384.6" fill="#951301"/>
<polygon points="568.2,387.7 576.5,390.3 578.8,388.8 570.6,386.2" fill="#850c01"/>
<polygon points="573.4,389.3 581.6,392 584,390.4 575.7,387.8" fill="#780702"/>
<polygon points="578.5,391 586.8,393.7 589.1,392.1 580.9,389.5" fill="#6f0502"/>
<polygon points="583.7,392.7 592,395.3 594.3,393.7 586,391.1" fill="#6c0403"/>
<polygon points="588.9,394.3 597.2,397 599.4,395.3 591.2,392.7" fill="#6f0502"/>
<polygon points="594.1,396 602.4,398.7 604.6,396.9 596.3,394.3" fill="#780702"/>
<polygon points="599.2,397.7 607.5,400.3 609.7,398.6 601.5,396" fill="#850c01"/>
<polygon points="604.4,399.3 609.6,401 611.8,399.2 606.6,397.6" fill="#951301"/>
<polygon points="563,386 571.3,388.7 572.5,387.9 564.2,385.3" fill="#941301"/>
<polygon points="568.2,387.7 576.5,390.3 577.6,389.6 569.4,386.9" fill="#850c01"/>
<polygon points="573.4,389.3 581.6,392 582.8,391.2 574.5,388.6" fill="#770702"/>
<polygon points="578.5,391 586.8,393.7 588,392.9 579.7,390.2" fill="#6e0402"/>
<polygon points="583.7,392.7 592,395.3 593.1,394.5 584.9,391.9" fill="#6b0403"/>
<polygon points="588.9,394.3 597.2,397 598.3,396.2 590,393.5" fill="#6e0402"/>
<polygon points="594.1,396 602.4,398.7 603.5,397.8 595.2,395.2" fill="#770702"/>
<polygon points="599.2,397.7 607.5,400.3 608.6,399.5 600.4,396.8" fill="#850c01"/>
<polygon points="604.4,399.3 609.6,401 610.7,400.1 605.5,398.5" fill="#941301"/>
<path d="M563 386C563 398.3 573.4 411.7 586.3 415.8C599.2 419.9 609.6 413.3 609.6 401Z" fill="url(#g19)"/>
<polygon points="627.1,331.6 630.5,332.5 632.9,331.4 629.6,330.5" fill="#39409b"/>
<polygon points="629.2,332.2 632.6,333.1 635,332 631.7,331.1" fill="#373688"/>
<polygon points="631.3,332.8 634.7,333.5 637.1,332.4 633.8,331.7" fill="#342d77"/>
<polygon points="633.4,333.2 636.8,333.8 639.2,332.7 635.9,332.1" fill="#33296d"/>
<polygon points="635.5,333.6 638.9,334.1 641.3,332.9 638,332.5" fill="#33296d"/>
<polygon points="637.6,333.9 641,334.2 643.4,333.1 640,332.8" fill="#342d77"/>
<polygon points="639.7,334.1 643.1,334.3 645.5,333.2 642.1,333" fill="#373688"/>
<polygon points="641.8,334.3 644,334.4 646.3,333.2 644.2,333.1" fill="#39409b"/>
<polygon points="626.1,332 629.5,332.9 632,331.9 628.7,330.9" fill="#39429d"/>
<polygon points="628.2,332.6 631.6,333.4 634.1,332.4 630.8,331.5" fill="#37378b"/>
<polygon points="630.4,333.1 633.7,333.9 636.2,332.8 632.9,332.1" fill="#342f79"/>
<polygon points="632.5,333.6 635.9,334.2 638.3,333.2 635,332.6" fill="#332a70"/>
<polygon points="634.6,334 638,334.4 640.4,333.4 637,333" fill="#332a70"/>
<polygon points="636.7,334.3 640.1,334.6 642.5,333.5 639.1,333.3" fill="#342f79"/>
<polygon points="638.8,334.5 642.2,334.7 644.6,333.6 641.2,333.5" fill="#37378b"/>
<polygon points="640.9,334.7 643.1,334.8 645.4,333.7 643.3,333.6" fill="#39429d"/>
<polygon points="625.2,332.3 628.6,333.2 631.1,332.3 627.7,331.3" fill="#3944a1"/>
<polygon points="627.3,332.9 630.7,333.8 633.2,332.8 629.8,331.9" fill="#37398f"/>
<polygon points="629.4,333.5 632.8,334.2 635.3,333.2 631.9,332.5" fill="#35317e"/>
<polygon points="631.5,334 634.9,334.6 637.4,333.6 634,333" fill="#342d75"/>
<polygon points="633.7,334.4 637.1,334.8 639.5,333.8 636.1,333.4" fill="#342d75"/>
<polygon points="635.8,334.7 639.2,335 641.6,334 638.2,333.7" fill="#35317e"/>
<polygon points="637.9,334.9 641.3,335.1 643.7,334.1 640.3,333.9" fill="#37398f"/>
<polygon points="640,335 642.2,335.1 644.6,334.1 642.4,334" fill="#3944a1"/>
<polygon points="624.2,332.6 627.6,333.6 630.2,332.7 626.8,331.7" fill="#3a47a6"/>
<polygon points="626.3,333.2 629.7,334.1 632.3,333.2 628.9,332.3" fill="#383d95"/>
<polygon points="628.5,333.8 631.9,334.5 634.4,333.6 631,332.9" fill="#363486"/>
<polygon points="630.6,334.3 634,334.9 636.5,334 633.1,333.4" fill="#35307d"/>
<polygon points="632.7,334.7 636.1,335.1 638.6,334.2 635.2,333.8" fill="#35307d"/>
<polygon points="634.9,335 638.3,335.3 640.7,334.4 637.3,334.1" fill="#363486"/>
<polygon points="637,335.2 640.4,335.4 642.8,334.5 639.4,334.3" fill="#383d95"/>
<polygon points="639.1,335.4 641.3,335.5 643.7,334.5 641.6,334.4" fill="#3a47a6"/>
<polygon points="623.2,332.9 626.6,333.9 629.2,333 625.8,332.1" fill="#3b4bad"/>
<polygon points="625.4,333.5 628.8,334.4 631.3,333.5 627.9,332.7" fill="#39419c"/>
<polygon points="627.5,334.1 630.9,334.8 633.5,334 630.1,333.2" fill="#37398f"/>
<polygon points="629.6,334.6 633.1,335.2 635.6,334.3 632.2,333.7" fill="#363587"/>
<polygon points="631.8,335 635.2,335.4 637.7,334.6 634.3,334.1" fill="#363587"/>
<polygon points="633.9,335.3 637.3,335.6 639.8,334.7 636.4,334.4" fill="#37398f"/>
<polygon points="636.1,335.5 639.5,335.8 641.9,334.8 638.5,334.6" fill="#39419c"/>
<polygon points="638.2,335.7 640.3,335.8 642.8,334.9 640.7,334.8" fill="#3b4bad"/>
<polygon points="622.2,333.2 625.7,334.1 628.3,333.3 624.9,332.4" fill="#3b51b4"/>
<polygon points="624.4,333.8 627.8,334.7 630.4,333.9 627,333" fill="#3a47a6"/>
<polygon points="626.5,334.3 630,335.1 632.5,334.3 629.1,333.6" fill="#393f99"/>
<polygon points="628.7,334.8 632.1,335.5 634.6,334.7 631.2,334.1" fill="#383b92"/>
<polygon points="630.8,335.3 634.3,335.7 636.8,334.9 633.4,334.5" fill="#383b92"/>
<polygon points="633,335.6 636.4,335.9 638.9,335.1 635.5,334.8" fill="#393f99"/>
<polygon points="635.1,335.8 638.6,336.1 641,335.2 637.6,335" fill="#3a47a6"/>
<polygon points="637.3,336 639.4,336.1 641.9,335.2 639.7,335.1" fill="#3b51b4"/>
<polygon points="621.3,333.5 624.7,334.4 627.3,333.7 623.9,332.7" fill="#3c57bc"/>
<polygon points="623.4,334 626.9,334.9 629.4,334.2 626,333.3" fill="#3b4eb0"/>
<polygon points="625.6,334.6 629,335.3 631.6,334.6 628.2,333.9" fill="#3a46a5"/>
<polygon points="627.7,335.1 631.2,335.7 633.7,335 630.3,334.4" fill="#39429e"/>
<polygon points="629.9,335.5 633.3,336 635.8,335.2 632.4,334.8" fill="#39429e"/>
<polygon points="632,335.8 635.5,336.2 638,335.4 634.6,335.1" fill="#3a46a5"/>
<polygon points="634.2,336.1 637.6,336.3 640.1,335.5 636.7,335.3" fill="#3b4eb0"/>
<polygon points="636.3,336.2 638.5,336.4 641,335.6 638.8,335.5" fill="#3c57bc"/>
<polygon points="620.3,333.7 623.7,334.6 626.3,333.9 622.9,333" fill="#3c5ec5"/>
<polygon points="622.4,334.3 625.9,335.1 628.5,334.5 625.1,333.6" fill="#3c55ba"/>
<polygon points="624.6,334.8 628,335.6 630.6,334.9 627.2,334.2" fill="#3b4eb1"/>
<polygon points="626.8,335.3 630.2,335.9 632.8,335.3 629.3,334.7" fill="#3b4aac"/>
<polygon points="628.9,335.7 632.4,336.2 634.9,335.5 631.5,335.1" fill="#3b4aac"/>
<polygon points="631.1,336.1 634.5,336.4 637.1,335.7 633.6,335.4" fill="#3b4eb1"/>
<polygon points="633.2,336.3 636.7,336.6 639.2,335.9 635.8,335.6" fill="#3c55ba"/>
<polygon points="635.4,336.5 637.6,336.7 640,335.9 637.9,335.8" fill="#3c5ec5"/>
<polygon points="619.3,333.9 622.7,334.8 625.4,334.2 621.9,333.3" fill="#3c67cd"/>
<polygon points="621.4,334.5 624.9,335.3 627.5,334.7 624.1,333.9" fill="#3c5ec5"/>
<polygon points="623.6,335 627.1,335.8 629.7,335.2 626.2,334.4" fill="#3c57bd"/>
<polygon points="625.8,335.5 629.3,336.1 631.8,335.5 628.4,334.9" fill="#3b54b8"/>
<polygon points="627.9,335.9 631.4,336.4 634,335.8 630.5,335.3" fill="#3b54b8"/>
<polygon points="630.1,336.3 633.6,336.6 636.1,336 632.7,335.7" fill="#3c57bd"/>
<polygon points="632.3,336.5 635.8,336.8 638.3,336.1 634.8,335.9" fill="#3c5ec5"/>
<polygon points="634.5,336.7 636.6,336.9 639.1,336.2 637,336.1" fill="#3c67cd"/>
<polygon points="618.3,334.1 621.7,335 624.4,334.5 620.9,333.5" fill="#3c70d4"/>
<polygon points="620.4,334.7 623.9,335.5 626.6,335 623.1,334.1" fill="#3c67ce"/>
<polygon points="622.6,335.2 626.1,335.9 628.7,335.4 625.3,334.7" fill="#3c61c8"/>
<polygon points="624.8,335.7 628.3,336.3 630.9,335.8 627.4,335.2" fill="#3c5ec5"/>
<polygon points="627,336.1 630.5,336.6 633,336.1 629.6,335.6" fill="#3c5ec5"/>
<polygon points="629.2,336.4 632.6,336.9 635.2,336.3 631.7,335.9" fill="#3c61c8"/>
<polygon points="631.3,336.7 634.8,337 637.3,336.4 633.9,336.1" fill="#3c67ce"/>
<polygon points="633.5,336.9 635.7,337.1 638.2,336.5 636,336.3" fill="#3c70d4"/>
<polygon points="617.3,334.3 620.8,335.2 623.4,334.7 619.9,333.8" fill="#3a79d9"/>
<polygon points="619.4,334.8 622.9,335.7 625.6,335.2 622.1,334.3" fill="#3b72d5"/>
<polygon points="621.6,335.4 625.1,336.1 627.7,335.6 624.3,334.9" fill="#3c6cd2"/>
<polygon points="623.8,335.8 627.3,336.5 629.9,336 626.4,335.4" fill="#3c69cf"/>
<polygon points="626,336.3 629.5,336.8 632.1,336.3 628.6,335.8" fill="#3c69cf"/>
<polygon points="628.2,336.6 631.7,337 634.2,336.5 630.8,336.1" fill="#3c6cd2"/>
<polygon points="630.4,336.9 633.9,337.2 636.4,336.7 632.9,336.4" fill="#3b72d5"/>
<polygon points="632.6,337.1 634.8,337.3 637.3,336.7 635.1,336.6" fill="#3a79d9"/>
<polygon points="616.2,334.4 619.8,335.3 622.4,334.9 619,334" fill="#3684da"/>
<polygon points="618.4,335 622,335.8 624.6,335.4 621.1,334.5" fill="#397dda"/>
<polygon points="620.6,335.5 624.2,336.2 626.8,335.8 623.3,335.1" fill="#3a77d8"/>
<polygon points="622.8,336 626.4,336.6 629,336.2 625.5,335.6" fill="#3b74d6"/>
<polygon points="625,336.4 628.5,336.9 631.1,336.5 627.6,336" fill="#3b74d6"/>
<polygon points="627.2,336.8 630.7,337.2 633.3,336.7 629.8,336.3" fill="#3a77d8"/>
<polygon points="629.4,337 632.9,337.4 635.5,336.9 632,336.6" fill="#397dda"/>
<polygon points="631.6,337.3 633.8,337.5 636.3,337 634.2,336.8" fill="#3684da"/>
<polygon points="615.2,334.6 618.8,335.4 621.4,335 618,334.1" fill="#308fd7"/>
<polygon points="617.4,335.1 621,335.9 623.6,335.6 620.1,334.7" fill="#3488d9"/>
<polygon points="619.6,335.6 623.2,336.4 625.8,336 622.3,335.3" fill="#3783da"/>
<polygon points="621.9,336.1 625.4,336.7 628,336.4 624.5,335.7" fill="#3881db"/>
<polygon points="624.1,336.5 627.6,337.1 630.2,336.7 626.7,336.2" fill="#3881db"/>
<polygon points="626.3,336.9 629.8,337.3 632.4,336.9 628.9,336.5" fill="#3783da"/>
<polygon points="628.5,337.2 632,337.6 634.5,337.1 631,336.8" fill="#3488d9"/>
<polygon points="630.7,337.4 632.9,337.7 635.4,337.2 633.2,337" fill="#308fd7"/>
<polygon points="614.2,334.7 617.8,335.5 620.5,335.2 616.9,334.3" fill="#279bcf"/>
<polygon points="616.4,335.2 620,336 622.6,335.7 619.1,334.9" fill="#2c95d4"/>
<polygon points="618.7,335.7 622.2,336.5 624.8,336.1 621.3,335.4" fill="#2f90d7"/>
<polygon points="620.9,336.2 624.4,336.8 627,336.5 623.5,335.9" fill="#318ed8"/>
<polygon points="623.1,336.6 626.6,337.2 629.2,336.8 625.7,336.3" fill="#318ed8"/>
<polygon points="625.3,337 628.8,337.5 631.4,337.1 627.9,336.7" fill="#2f90d7"/>
<polygon points="627.5,337.3 631,337.7 633.6,337.3 630.1,336.9" fill="#2c95d4"/>
<polygon points="629.7,337.6 631.9,337.8 634.5,337.4 632.3,337.2" fill="#279bcf"/>
<polygon points="613.2,334.8 616.8,335.6 619.5,335.3 615.9,334.5" fill="#1fa7c5"/>
<polygon points="615.4,335.3 619,336.1 621.7,335.8 618.1,335" fill="#22a2ca"/>
<polygon points="617.7,335.8 621.2,336.5 623.9,336.3 620.3,335.5" fill="#259ecd"/>
<polygon points="619.9,336.3 623.4,336.9 626.1,336.7 622.5,336" fill="#279bcf"/>
<polygon points="622.1,336.7 625.7,337.3 628.3,337 624.7,336.4" fill="#279bcf"/>
<polygon points="624.3,337.1 627.9,337.6 630.5,337.2 626.9,336.8" fill="#259ecd"/>
<polygon points="626.5,337.4 630.1,337.9 632.6,337.5 629.1,337.1" fill="#22a2ca"/>
<polygon points="628.8,337.7 631,338 633.5,337.6 631.3,337.3" fill="#1fa7c5"/>
<polygon points="612.2,334.9 615.8,335.7 618.5,335.5 614.9,334.6" fill="#18b2b8"/>
<polygon points="614.4,335.4 618,336.2 620.7,335.9 617.1,335.1" fill="#1aadbd"/>
<polygon points="616.7,335.9 620.2,336.6 622.9,336.4 619.3,335.7" fill="#1caac1"/>
<polygon points="618.9,336.4 622.5,337 625.1,336.8 621.6,336.1" fill="#1ea8c3"/>
<polygon points="621.1,336.8 624.7,337.4 627.3,337.1 623.8,336.5" fill="#1ea8c3"/>
<polygon points="623.4,337.2 626.9,337.7 629.5,337.4 626,336.9" fill="#1caac1"/>
<polygon points="625.6,337.5 629.1,338 631.7,337.6 628.2,337.2" fill="#1aadbd"/>
<polygon points="627.8,337.8 630,338.1 632.6,337.7 630.4,337.5" fill="#18b2b8"/>
<polygon points="611.2,335 614.8,335.8 617.5,335.6 613.9,334.7" fill="#15bda9"/>
<polygon points="613.4,335.5 617,336.2 619.7,336 616.1,335.3" fill="#16b9ae"/>
<polygon points="615.7,336 619.2,336.7 621.9,336.5 618.4,335.8" fill="#17b6b2"/>
<polygon points="617.9,336.4 621.5,337.1 624.1,336.9 620.6,336.2" fill="#17b5b4"/>
<polygon points="620.1,336.8 623.7,337.4 626.3,337.2 622.8,336.6" fill="#17b5b4"/>
<polygon points="622.4,337.2 626,337.8 628.5,337.5 625,337" fill="#17b6b2"/>
<polygon points="624.6,337.6 628.2,338.1 630.8,337.8 627.2,337.3" fill="#16b9ae"/>
<polygon points="626.9,337.9 629.1,338.2 631.6,337.9 629.4,337.6" fill="#15bda9"/>
<polygon points="610.2,335.1 613.8,335.8 616.5,335.6 612.9,334.8" fill="#19c59b"/>
<polygon points="612.4,335.5 616,336.3 618.7,336.1 615.1,335.3" fill="#18c39f"/>
<polygon points="614.7,336 618.3,336.7 620.9,336.6 617.4,335.8" fill="#17c1a2"/>
<polygon points="616.9,336.5 620.5,337.1 623.1,337 619.6,336.3" fill="#16c0a3"/>
<polygon points="619.2,336.9 622.8,337.5 625.4,337.3 621.8,336.7" fill="#16c0a3"/>
<polygon points="621.4,337.3 625,337.9 627.6,337.6 624,337.1" fill="#17c1a2"/>
<polygon points="623.7,337.6 627.2,338.2 629.8,337.9 626.3,337.4" fill="#18c39f"/>
<polygon points="625.9,338 628.1,338.3 630.7,338 628.5,337.7" fill="#19c59b"/>
<polygon points="609.2,335.1 612.8,335.9 615.5,335.7 611.9,334.9" fill="#24cd8c"/>
<polygon points="611.4,335.6 615,336.3 617.7,336.2 614.1,335.4" fill="#20cb8f"/>
<polygon points="613.7,336.1 617.3,336.8 619.9,336.6 616.4,335.9" fill="#1eca92"/>
<polygon points="615.9,336.5 619.5,337.2 622.2,337 618.6,336.4" fill="#1dc994"/>
<polygon points="618.2,336.9 621.8,337.6 624.4,337.4 620.8,336.8" fill="#1dc994"/>
<polygon points="620.4,337.3 624,337.9 626.6,337.7 623.1,337.2" fill="#1eca92"/>
<polygon points="622.7,337.7 626.3,338.3 628.9,338 625.3,337.5" fill="#20cb8f"/>
<polygon points="624.9,338.1 627.2,338.4 629.8,338.1 627.5,337.8" fill="#24cd8c"/>
<polygon points="608.2,335.2 611.8,335.9 614.5,335.8 610.9,335" fill="#35d379"/>
<polygon points="610.4,335.7 614,336.4 616.7,336.2 613.1,335.5" fill="#31d27d"/>
<polygon points="612.7,336.1 616.3,336.8 619,336.7 615.4,336" fill="#2ed180"/>
<polygon points="614.9,336.5 618.6,337.2 621.2,337.1 617.6,336.4" fill="#2dd181"/>
<polygon points="617.2,337 620.8,337.6 623.4,337.5 619.8,336.8" fill="#2dd181"/>
<polygon points="619.5,337.4 623.1,338 625.7,337.8 622.1,337.2" fill="#2ed180"/>
<polygon points="621.7,337.8 625.3,338.4 627.9,338.1 624.3,337.6" fill="#31d27d"/>
<polygon points="624,338.1 626.2,338.5 628.8,338.3 626.6,337.9" fill="#35d379"/>
<polygon points="607.1,335.3 610.8,336 613.5,335.8 609.9,335.1" fill="#4ad765"/>
<polygon points="609.4,335.7 613,336.4 615.7,336.3 612.1,335.6" fill="#47d768"/>
<polygon points="611.7,336.1 615.3,336.8 618,336.7 614.4,336" fill="#45d66a"/>
<polygon points="614,336.6 617.6,337.2 620.2,337.1 616.6,336.5" fill="#44d66b"/>
<polygon points="616.2,337 619.9,337.6 622.5,337.5 618.9,336.9" fill="#44d66b"/>
<polygon points="618.5,337.4 622.1,338.1 624.7,337.9 621.1,337.3" fill="#45d66a"/>
<polygon points="620.8,337.8 624.4,338.5 627,338.2 623.4,337.7" fill="#47d768"/>
<polygon points="623,338.2 625.3,338.6 627.9,338.4 625.6,338" fill="#4ad765"/>
<polygon points="606.1,335.3 609.8,336 612.5,335.9 608.9,335.2" fill="#62db51"/>
<polygon points="608.4,335.7 612.1,336.4 614.7,336.3 611.1,335.6" fill="#5fda53"/>
<polygon points="610.7,336.2 614.3,336.8 617,336.8 613.4,336.1" fill="#5eda54"/>
<polygon points="613,336.6 616.6,337.3 619.2,337.2 615.6,336.5" fill="#5dda55"/>
<polygon points="615.2,337 618.9,337.7 621.5,337.6 617.9,336.9" fill="#5dda55"/>
<polygon points="617.5,337.4 621.2,338.1 623.8,337.9 620.1,337.3" fill="#5eda54"/>
<polygon points="619.8,337.9 623.4,338.5 626,338.3 622.4,337.7" fill="#5fda53"/>
<polygon points="622.1,338.3 624.4,338.7 626.9,338.5 624.7,338.1" fill="#62db51"/>
<polygon points="605.1,335.4 608.8,336 611.5,335.9 607.9,335.2" fill="#78db40"/>
<polygon points="607.4,335.8 611.1,336.4 613.7,336.4 610.1,335.7" fill="#77db41"/>
<polygon points="609.7,336.2 613.3,336.9 616,336.8 612.4,336.1" fill="#76db41"/>
<polygon points="612,336.6 615.6,337.3 618.3,337.2 614.6,336.5" fill="#76db42"/>
<polygon points="614.3,337 617.9,337.7 620.5,337.6 616.9,337" fill="#76db42"/>
<polygon points="616.5,337.5 620.2,338.2 622.8,338 619.2,337.4" fill="#76db41"/>
<polygon points="618.8,337.9 622.5,338.6 625.1,338.4 621.4,337.8" fill="#77db41"/>
<polygon points="621.1,338.3 623.4,338.8 626,338.6 623.7,338.2" fill="#78db40"/>
<polygon points="605.8,335.3 609.5,336 610.5,336 606.8,335.3" fill="#8bd935"/>
<polygon points="608.1,335.8 611.8,336.4 612.7,336.4 609.1,335.7" fill="#8bd935"/>
<polygon points="610.4,336.2 614,336.8 615,336.8 611.4,336.1" fill="#8bd935"/>
<polygon points="612.7,336.6 616.3,337.3 617.3,337.2 613.7,336.6" fill="#8bd935"/>
<polygon points="614.9,337 618.6,337.7 619.6,337.7 615.9,337" fill="#8bd935"/>
<polygon points="617.2,337.4 620.9,338.1 621.8,338.1 618.2,337.4" fill="#8bd935"/>
<polygon points="619.5,337.9 623.2,338.6 624.1,338.5 620.5,337.8" fill="#8bd935"/>
<polygon points="621.8,338.3 624.1,338.7 625,338.6 622.7,338.2" fill="#8bd935"/>
<polygon points="574.2,349.6 594.5,353.9 646.3,327.6 629.6,324.9" fill="#cbc7ba" fill-opacity="0.55"/>
<polygon points="603.1,335.5 606.8,336.1 609.5,336 605.8,335.3" fill="#9bd52f"/>
<polygon points="605.4,335.9 609.1,336.5 611.8,336.4 608.1,335.8" fill="#9cd42f"/>
<polygon points="607.7,336.3 611.4,336.9 614,336.8 610.4,336.2" fill="#9cd42e"/>
<polygon points="610,336.7 613.7,337.3 616.3,337.3 612.7,336.6" fill="#9dd42e"/>
<polygon points="612.3,337.1 616,337.8 618.6,337.7 614.9,337" fill="#9dd42e"/>
<polygon points="614.6,337.5 618.3,338.3 620.9,338.1 617.2,337.4" fill="#9cd42e"/>
<polygon points="616.9,338 620.6,338.8 623.2,338.6 619.5,337.9" fill="#9cd42f"/>
<polygon points="619.2,338.5 621.5,339 624.1,338.7 621.8,338.3" fill="#9bd52f"/>
<polygon points="602.1,335.6 605.8,336.1 608.5,336 604.8,335.4" fill="#abce2d"/>
<polygon points="604.4,335.9 608.1,336.5 610.8,336.5 607.1,335.8" fill="#accd2d"/>
<polygon points="606.7,336.3 610.4,336.9 613.1,336.9 609.4,336.2" fill="#adcd2d"/>
<polygon points="609,336.7 612.7,337.4 615.3,337.3 611.7,336.6" fill="#adcc2d"/>
<polygon points="611.3,337.1 615,337.9 617.6,337.7 614,337" fill="#adcc2d"/>
<polygon points="613.6,337.6 617.3,338.3 619.9,338.2 616.3,337.5" fill="#adcd2d"/>
<polygon points="615.9,338 619.6,338.9 622.2,338.6 618.5,337.9" fill="#accd2d"/>
<polygon points="618.3,338.5 620.6,339.1 623.1,338.8 620.8,338.4" fill="#abce2d"/>
<polygon points="601.1,335.6 604.8,336.2 607.5,336.1 603.8,335.5" fill="#b9c52e"/>
<polygon points="603.4,336 607.1,336.6 609.8,336.5 606.1,335.8" fill="#bac42e"/>
<polygon points="605.7,336.3 609.4,337 612.1,336.9 608.4,336.2" fill="#bcc32f"/>
<polygon points="608,336.7 611.7,337.4 614.4,337.3 610.7,336.6" fill="#bcc22f"/>
<polygon points="610.3,337.2 614.1,337.9 616.7,337.8 613,337.1" fill="#bcc22f"/>
<polygon points="612.7,337.6 616.4,338.4 619,338.2 615.3,337.5" fill="#bcc32f"/>
<polygon points="615,338.1 618.7,338.9 621.3,338.7 617.6,338" fill="#bac42e"/>
<polygon points="617.3,338.6 619.6,339.2 622.2,338.9 619.9,338.4" fill="#b9c52e"/>
<polygon points="600,335.7 603.8,336.2 606.5,336.1 602.8,335.5" fill="#c5ba30"/>
<polygon points="602.4,336 606.1,336.6 608.8,336.5 605.1,335.9" fill="#c7b831"/>
<polygon points="604.7,336.4 608.4,337 611.1,336.9 607.4,336.3" fill="#c8b731"/>
<polygon points="607,336.8 610.8,337.5 613.4,337.4 609.7,336.7" fill="#c9b631"/>
<polygon points="609.4,337.2 613.1,338 615.7,337.8 612,337.1" fill="#c9b631"/>
<polygon points="611.7,337.7 615.4,338.5 618,338.3 614.3,337.5" fill="#c8b731"/>
<polygon points="614,338.2 617.7,339 620.3,338.8 616.6,338" fill="#c7b831"/>
<polygon points="616.3,338.7 618.7,339.3 621.2,339 618.9,338.5" fill="#c5ba30"/>
<polygon points="599,335.8 602.8,336.3 605.5,336.2 601.8,335.6" fill="#cfaf32"/>
<polygon points="601.4,336.1 605.1,336.7 607.8,336.5 604.1,335.9" fill="#d0ac32"/>
<polygon points="603.7,336.4 607.4,337.1 610.1,337 606.4,336.3" fill="#d1aa31"/>
<polygon points="606,336.8 609.8,337.5 612.4,337.4 608.7,336.7" fill="#d2a931"/>
<polygon points="608.4,337.2 612.1,338 614.7,337.9 611,337.1" fill="#d2a931"/>
<polygon points="610.7,337.7 614.5,338.6 617,338.4 613.3,337.6" fill="#d1aa31"/>
<polygon points="613.1,338.2 616.8,339.1 619.4,338.9 615.7,338.1" fill="#d0ac32"/>
<polygon points="615.4,338.8 617.7,339.4 620.3,339.1 618,338.6" fill="#cfaf32"/>
<polygon points="598,335.9 601.8,336.4 604.5,336.2 600.8,335.7" fill="#d6a331"/>
<polygon points="600.4,336.2 604.1,336.7 606.8,336.6 603.1,336" fill="#d69f30"/>
<polygon points="602.7,336.5 606.5,337.1 609.1,337 605.4,336.4" fill="#d79d2f"/>
<polygon points="605.1,336.9 608.8,337.6 611.4,337.4 607.7,336.7" fill="#d89b2f"/>
<polygon points="607.4,337.3 611.2,338.1 613.8,337.9 610,337.2" fill="#d89b2f"/>
<polygon points="609.7,337.8 613.5,338.7 616.1,338.4 612.4,337.6" fill="#d79d2f"/>
<polygon points="612.1,338.3 615.8,339.2 618.4,339 614.7,338.1" fill="#d69f30"/>
<polygon points="614.4,338.9 616.8,339.5 619.3,339.2 617,338.6" fill="#d6a331"/>
<polygon points="597,336 600.8,336.5 603.5,336.3 599.7,335.7" fill="#d9962d"/>
<polygon points="599.4,336.3 603.1,336.8 605.8,336.6 602.1,336.1" fill="#da922c"/>
<polygon points="601.7,336.6 605.5,337.2 608.1,337 604.4,336.4" fill="#da8e2a"/>
<polygon points="604.1,337 607.8,337.7 610.5,337.5 606.7,336.8" fill="#da8c2a"/>
<polygon points="606.4,337.4 610.2,338.2 612.8,338 609.1,337.2" fill="#da8c2a"/>
<polygon points="608.8,337.9 612.5,338.8 615.1,338.5 611.4,337.7" fill="#da8e2a"/>
<polygon points="611.1,338.4 614.9,339.4 617.5,339.1 613.7,338.2" fill="#da922c"/>
<polygon points="613.5,339 615.8,339.6 618.4,339.3 616.1,338.7" fill="#d9962d"/>
<polygon points="596,336.1 599.8,336.6 602.5,336.3 598.7,335.8" fill="#da8828"/>
<polygon points="598.4,336.4 602.1,336.9 604.8,336.7 601.1,336.1" fill="#da8326"/>
<polygon points="600.7,336.7 604.5,337.3 607.2,337.1 603.4,336.5" fill="#da7e24"/>
<polygon points="603.1,337 606.9,337.8 609.5,337.5 605.7,336.8" fill="#da7c23"/>
<polygon points="605.4,337.5 609.2,338.3 611.8,338 608.1,337.3" fill="#da7c23"/>
<polygon points="607.8,338 611.6,338.9 614.2,338.6 610.4,337.7" fill="#da7e24"/>
<polygon points="610.2,338.5 613.9,339.5 616.5,339.2 612.8,338.3" fill="#da8326"/>
<polygon points="612.5,339.1 614.9,339.8 617.4,339.4 615.1,338.8" fill="#da8828"/>
<polygon points="595,336.2 598.8,336.7 601.5,336.4 597.7,335.9" fill="#d97922"/>
<polygon points="597.4,336.5 601.2,337 603.8,336.8 600.1,336.2" fill="#d9731f"/>
<polygon points="599.7,336.8 603.5,337.4 606.2,337.2 602.4,336.5" fill="#d86e1d"/>
<polygon points="602.1,337.1 605.9,337.9 608.5,337.6 604.8,336.9" fill="#d76b1c"/>
<polygon points="604.5,337.6 608.3,338.4 610.9,338.1 607.1,337.3" fill="#d76b1c"/>
<polygon points="606.8,338.1 610.6,339 613.2,338.7 609.5,337.8" fill="#d86e1d"/>
<polygon points="609.2,338.6 613,339.7 615.6,339.3 611.8,338.3" fill="#d9731f"/>
<polygon points="611.6,339.3 613.9,339.9 616.5,339.5 614.1,338.9" fill="#d97922"/>
<polygon points="594,336.4 597.8,336.8 600.5,336.5 596.7,336" fill="#d76a1b"/>
<polygon points="596.4,336.6 600.2,337.1 602.8,336.8 599.1,336.3" fill="#d56319"/>
<polygon points="598.7,336.9 602.5,337.5 605.2,337.2 601.4,336.6" fill="#d45e16"/>
<polygon points="601.1,337.3 604.9,338 607.5,337.7 603.8,337" fill="#d35b15"/>
<polygon points="603.5,337.7 607.3,338.5 609.9,338.2 606.1,337.4" fill="#d35b15"/>
<polygon points="605.9,338.2 609.7,339.1 612.3,338.8 608.5,337.9" fill="#d45e16"/>
<polygon points="608.2,338.8 612,339.8 614.6,339.4 610.8,338.4" fill="#d56319"/>
<polygon points="610.6,339.4 613,340.1 615.5,339.7 613.2,339" fill="#d76a1b"/>
<polygon points="593,336.5 596.8,336.9 599.5,336.6 595.7,336.1" fill="#d35c16"/>
<polygon points="595.4,336.8 599.2,337.2 601.8,336.9 598.1,336.4" fill="#d15513"/>
<polygon points="597.7,337 601.6,337.6 604.2,337.3 600.4,336.7" fill="#ce4f10"/>
<polygon points="600.1,337.4 603.9,338.1 606.6,337.8 602.8,337.1" fill="#cd4c0f"/>
<polygon points="602.5,337.8 606.3,338.7 608.9,338.3 605.2,337.5" fill="#cd4c0f"/>
<polygon points="604.9,338.3 608.7,339.3 611.3,338.9 607.5,338" fill="#ce4f10"/>
<polygon points="607.3,338.9 611.1,340 613.7,339.5 609.9,338.6" fill="#d15513"/>
<polygon points="609.7,339.6 612.1,340.3 614.6,339.8 612.2,339.2" fill="#d35c16"/>
<polygon points="592,336.7 595.8,337.1 598.5,336.7 594.7,336.3" fill="#ce4f10"/>
<polygon points="594.4,336.9 598.2,337.4 600.9,337 597.1,336.5" fill="#cb480d"/>
<polygon points="596.8,337.2 600.6,337.8 603.2,337.4 599.4,336.8" fill="#c9430b"/>
<polygon points="599.2,337.5 603,338.3 605.6,337.9 601.8,337.2" fill="#c7400a"/>
<polygon points="601.5,338 605.4,338.8 608,338.4 604.2,337.6" fill="#c7400a"/>
<polygon points="603.9,338.5 607.8,339.5 610.3,339 606.5,338.1" fill="#c9430b"/>
<polygon points="606.3,339.1 610.2,340.2 612.7,339.7 608.9,338.7" fill="#cb480d"/>
<polygon points="608.7,339.8 611.1,340.5 613.7,340 611.3,339.3" fill="#ce4f10"/>
<polygon points="591,336.8 594.8,337.2 597.5,336.8 593.7,336.4" fill="#c9440c"/>
<polygon points="593.4,337.1 597.2,337.5 599.9,337.1 596.1,336.7" fill="#c53e09"/>
<polygon points="595.8,337.4 599.6,337.9 602.3,337.5 598.4,336.9" fill="#c23908"/>
<polygon points="598.2,337.7 602,338.4 604.6,338 600.8,337.3" fill="#c03607"/>
<polygon points="600.6,338.1 604.4,339 607,338.6 603.2,337.7" fill="#c03607"/>
<polygon points="603,338.6 606.8,339.7 609.4,339.2 605.6,338.2" fill="#c23908"/>
<polygon points="605.4,339.3 609.2,340.4 611.8,339.9 608,338.8" fill="#c53e09"/>
<polygon points="607.8,339.9 610.2,340.7 612.7,340.1 610.3,339.5" fill="#c9440c"/>
<polygon points="590,337 593.8,337.4 596.5,337 592.7,336.5" fill="#c33b09"/>
<polygon points="592.4,337.3 596.2,337.7 598.9,337.3 595.1,336.8" fill="#be3507"/>
<polygon points="594.8,337.5 598.6,338.1 601.3,337.7 597.5,337.1" fill="#ba3006"/>
<polygon points="597.2,337.9 601.1,338.6 603.7,338.2 599.8,337.4" fill="#b82d05"/>
<polygon points="599.6,338.3 603.5,339.2 606,338.7 602.2,337.9" fill="#b82d05"/>
<polygon points="602,338.8 605.9,339.9 608.4,339.4 604.6,338.4" fill="#ba3006"/>
<polygon points="604.4,339.5 608.3,340.6 610.8,340 607,339" fill="#be3507"/>
<polygon points="606.8,340.2 609.2,340.9 611.8,340.3 609.4,339.6" fill="#c33b09"/>
<polygon points="589,337.3 592.8,337.6 595.5,337.1 591.7,336.7" fill="#bd3306"/>
<polygon points="591.4,337.5 595.3,337.9 597.9,337.4 594.1,337" fill="#b72d05"/>
<polygon points="593.8,337.7 597.7,338.3 600.3,337.8 596.5,337.2" fill="#b22804"/>
<polygon points="596.2,338.1 600.1,338.8 602.7,338.3 598.9,337.6" fill="#af2604"/>
<polygon points="598.6,338.5 602.5,339.4 605.1,338.9 601.3,338" fill="#af2604"/>
<polygon points="601.1,339 604.9,340.1 607.5,339.5 603.7,338.5" fill="#b22804"/>
<polygon points="603.5,339.7 607.3,340.8 609.9,340.2 606,339.1" fill="#b72d05"/>
<polygon points="605.9,340.4 608.3,341.1 610.8,340.5 608.4,339.8" fill="#bd3306"/>
<polygon points="588,337.5 591.9,337.8 594.5,337.3 590.7,336.9" fill="#b72c05"/>
<polygon points="590.4,337.7 594.3,338.1 596.9,337.6 593.1,337.1" fill="#b02604"/>
<polygon points="592.8,337.9 596.7,338.5 599.3,338 595.5,337.4" fill="#aa2103"/>
<polygon points="595.3,338.3 599.1,339 601.7,338.5 597.9,337.7" fill="#a71f02"/>
<polygon points="597.7,338.7 601.6,339.6 604.1,339.1 600.3,338.2" fill="#a71f02"/>
<polygon points="600.1,339.3 604,340.3 606.5,339.7 602.7,338.7" fill="#aa2103"/>
<polygon points="602.5,339.9 606.4,341.1 608.9,340.4 605.1,339.3" fill="#b02604"/>
<polygon points="605,340.6 607.4,341.4 609.9,340.7 607.5,340" fill="#b72c05"/>
<polygon points="587,337.7 590.9,338.1 593.5,337.5 589.7,337.1" fill="#b02604"/>
<polygon points="589.4,337.9 593.3,338.4 595.9,337.8 592.1,337.3" fill="#a82002"/>
<polygon points="591.9,338.2 595.7,338.8 598.4,338.2 594.5,337.6" fill="#a21b02"/>
<polygon points="594.3,338.5 598.2,339.3 600.8,338.7 596.9,337.9" fill="#9e1901"/>
<polygon points="596.7,338.9 600.6,339.9 603.2,339.3 599.3,338.4" fill="#9e1901"/>
<polygon points="599.2,339.5 603,340.6 605.6,339.9 601.7,338.9" fill="#a21b02"/>
<polygon points="601.6,340.1 605.5,341.3 608,340.7 604.1,339.5" fill="#a82002"/>
<polygon points="604,340.9 606.5,341.7 609,341 606.6,340.2" fill="#b02604"/>
<polygon points="586,338 589.9,338.3 592.6,337.7 588.7,337.3" fill="#a92103"/>
<polygon points="588.4,338.2 592.3,338.6 595,338 591.1,337.5" fill="#a01b02"/>
<polygon points="590.9,338.4 594.8,339 597.4,338.4 593.5,337.8" fill="#991701"/>
<polygon points="593.3,338.8 597.2,339.5 599.8,338.9 595.9,338.1" fill="#951501"/>
<polygon points="595.8,339.2 599.7,340.1 602.2,339.5 598.4,338.6" fill="#951501"/>
<polygon points="598.2,339.7 602.1,340.8 604.7,340.2 600.8,339.1" fill="#991701"/>
<polygon points="600.6,340.4 604.6,341.6 607.1,340.9 603.2,339.7" fill="#a01b02"/>
<polygon points="603.1,341.1 605.5,341.9 608,341.2 605.6,340.4" fill="#a92103"/>
<polygon points="585,338.2 588.9,338.6 591.6,337.9 587.7,337.5" fill="#a31c02"/>
<polygon points="587.5,338.4 591.4,338.9 594,338.2 590.1,337.8" fill="#991701"/>
<polygon points="589.9,338.7 593.8,339.3 596.4,338.6 592.5,338" fill="#911301"/>
<polygon points="592.4,339 596.3,339.8 598.9,339.1 595,338.3" fill="#8d1101"/>
<polygon points="594.8,339.5 598.7,340.4 601.3,339.7 597.4,338.8" fill="#8d1101"/>
<polygon points="597.3,340 601.2,341.1 603.7,340.4 599.8,339.3" fill="#911301"/>
<polygon points="599.7,340.7 603.6,341.9 606.1,341.1 602.3,340" fill="#991701"/>
<polygon points="602.2,341.4 604.6,342.2 607.1,341.5 604.7,340.7" fill="#a31c02"/>
<polygon points="584,338.5 588,338.9 590.6,338.1 586.7,337.8" fill="#9c1901"/>
<polygon points="586.5,338.7 590.4,339.2 593,338.4 589.1,338" fill="#921301"/>
<polygon points="589,339 592.9,339.6 595.5,338.8 591.6,338.2" fill="#8a0f01"/>
<polygon points="591.4,339.3 595.3,340.1 597.9,339.3 594,338.6" fill="#850d01"/>
<polygon points="593.9,339.7 597.8,340.7 600.3,339.9 596.4,339" fill="#850d01"/>
<polygon points="596.3,340.3 600.3,341.4 602.8,340.7 598.9,339.6" fill="#8a0f01"/>
<polygon points="598.8,341 602.7,342.2 605.2,341.4 601.3,340.2" fill="#921301"/>
<polygon points="601.2,341.7 603.7,342.6 606.2,341.7 603.7,341" fill="#9c1901"/>
<polygon points="583.1,338.8 587,339.2 589.6,338.4 585.7,338.1" fill="#971601"/>
<polygon points="585.5,339 589.5,339.5 592.1,338.7 588.2,338.3" fill="#8c1001"/>
<polygon points="588,339.3 591.9,339.8 594.5,339.1 590.6,338.5" fill="#830c01"/>
<polygon points="590.5,339.6 594.4,340.4 597,339.6 593,338.8" fill="#7e0a01"/>
<polygon points="592.9,340 596.9,341 599.4,340.2 595.5,339.3" fill="#7e0a01"/>
<polygon points="595.4,340.6 599.3,341.7 601.8,340.9 597.9,339.8" fill="#830c01"/>
<polygon points="597.9,341.3 601.8,342.6 604.3,341.7 600.4,340.5" fill="#8c1001"/>
<polygon points="600.3,342.1 602.8,342.9 605.3,342 602.8,341.2" fill="#971601"/>
<polygon points="582.1,339.2 586,339.5 588.7,338.7 584.7,338.3" fill="#921301"/>
<polygon points="584.6,339.3 588.5,339.8 591.1,339 587.2,338.5" fill="#860d01"/>
<polygon points="587,339.6 591,340.2 593.6,339.3 589.6,338.8" fill="#7d0901"/>
<polygon points="589.5,339.9 593.5,340.7 596,339.9 592.1,339.1" fill="#780801"/>
<polygon points="592,340.4 595.9,341.3 598.5,340.5 594.5,339.5" fill="#780801"/>
<polygon points="594.5,340.9 598.4,342.1 600.9,341.2 597,340.1" fill="#7d0901"/>
<polygon points="596.9,341.6 600.9,342.9 603.4,342 599.4,340.8" fill="#860d01"/>
<polygon points="599.4,342.4 601.9,343.2 604.3,342.3 601.9,341.5" fill="#921301"/>
<polygon points="581.1,339.5 585.1,339.8 587.7,339 583.8,338.6" fill="#8d1101"/>
<polygon points="583.6,339.7 587.6,340.1 590.1,339.2 586.2,338.8" fill="#810b01"/>
<polygon points="586.1,339.9 590.1,340.5 592.6,339.6 588.7,339.1" fill="#770801"/>
<polygon points="588.6,340.2 592.5,341 595.1,340.2 591.1,339.4" fill="#720602"/>
<polygon points="591,340.7 595,341.7 597.5,340.8 593.6,339.8" fill="#720602"/>
<polygon points="593.5,341.3 597.5,342.4 600,341.5 596.1,340.4" fill="#770801"/>
<polygon points="596,342 600,343.2 602.4,342.3 598.5,341.1" fill="#810b01"/>
<polygon points="598.5,342.7 601,343.6 603.4,342.6 601,341.8" fill="#8d1101"/>
<polygon points="580.2,339.8 584.1,340.1 586.7,339.3 582.8,338.9" fill="#880f01"/>
<polygon points="582.7,340 586.6,340.4 589.2,339.5 585.2,339.1" fill="#7c0901"/>
<polygon points="585.1,340.2 589.1,340.8 591.7,339.9 587.7,339.4" fill="#730602"/>
<polygon points="587.6,340.6 591.6,341.4 594.1,340.5 590.2,339.7" fill="#6d0502"/>
<polygon points="590.1,341 594.1,342 596.6,341.1 592.6,340.1" fill="#6d0502"/>
<polygon points="592.6,341.6 596.6,342.8 599.1,341.8 595.1,340.7" fill="#730602"/>
<polygon points="595.1,342.3 599.1,343.6 601.5,342.6 597.6,341.4" fill="#7c0901"/>
<polygon points="597.6,343.1 600.1,343.9 602.5,343 600.1,342.2" fill="#880f01"/>
<polygon points="579.2,340.2 583.2,340.5 585.8,339.6 581.8,339.2" fill="#850d01"/>
<polygon points="581.7,340.4 585.7,340.8 588.2,339.9 584.3,339.4" fill="#780801"/>
<polygon points="584.2,340.6 588.2,341.2 590.7,340.3 586.8,339.7" fill="#6f0502"/>
<polygon points="586.7,340.9 590.7,341.7 593.2,340.8 589.2,340" fill="#690403"/>
<polygon points="589.2,341.4 593.2,342.4 595.7,341.4 591.7,340.5" fill="#690403"/>
<polygon points="591.7,342 595.7,343.2 598.1,342.2 594.2,341" fill="#6f0502"/>
<polygon points="594.2,342.7 598.2,344 600.6,343 596.7,341.7" fill="#780801"/>
<polygon points="596.7,343.5 599.2,344.3 601.6,343.3 599.1,342.5" fill="#850d01"/>
<polygon points="578.3,340.5 582.3,340.9 584.8,339.9 580.8,339.6" fill="#820c01"/>
<polygon points="580.8,340.7 584.8,341.2 587.3,340.2 583.3,339.8" fill="#750702"/>
<polygon points="583.3,341 587.3,341.6 589.8,340.6 585.8,340" fill="#6b0402"/>
<polygon points="585.8,341.3 589.8,342.1 592.3,341.1 588.3,340.3" fill="#690303"/>
<polygon points="588.3,341.8 592.3,342.8 594.8,341.8 590.8,340.8" fill="#690303"/>
<polygon points="590.8,342.3 594.8,343.5 597.2,342.5 593.3,341.4" fill="#6b0402"/>
<polygon points="593.3,343.1 597.3,344.4 599.7,343.3 595.7,342.1" fill="#750702"/>
<polygon points="595.8,343.9 598.3,344.7 600.7,343.7 598.2,342.8" fill="#820c01"/>
<polygon points="577.3,340.9 581.3,341.2 583.9,340.2 579.9,339.9" fill="#7f0a01"/>
<polygon points="579.8,341.1 583.8,341.5 586.4,340.5 582.4,340.1" fill="#730602"/>
<polygon points="582.3,341.3 586.3,341.9 588.9,340.9 584.9,340.4" fill="#690303"/>
<polygon points="584.8,341.7 588.9,342.5 591.3,341.5 587.4,340.7" fill="#690303"/>
<polygon points="587.4,342.1 591.4,343.2 593.8,342.1 589.8,341.1" fill="#690303"/>
<polygon points="589.9,342.7 593.9,343.9 596.3,342.9 592.3,341.7" fill="#690303"/>
<polygon points="592.4,343.5 596.4,344.8 598.8,343.7 594.8,342.4" fill="#730602"/>
<polygon points="594.9,344.3 597.4,345.1 599.8,344.1 597.3,343.2" fill="#7f0a01"/>
<polygon points="576.4,341.3 580.4,341.6 582.9,340.6 578.9,340.3" fill="#7e0901"/>
<polygon points="578.9,341.5 582.9,341.9 585.4,340.9 581.4,340.5" fill="#710602"/>
<polygon points="581.4,341.7 585.4,342.3 587.9,341.3 583.9,340.7" fill="#690303"/>
<polygon points="583.9,342.1 587.9,342.9 590.4,341.8 586.4,341" fill="#690303"/>
<polygon points="586.4,342.5 590.5,343.5 592.9,342.5 588.9,341.5" fill="#690303"/>
<polygon points="589,343.1 593,344.3 595.4,343.3 591.4,342.1" fill="#690303"/>
<polygon points="591.5,343.9 595.5,345.2 597.9,344.1 593.9,342.8" fill="#710602"/>
<polygon points="594,344.7 596.5,345.5 598.9,344.4 596.4,343.6" fill="#7e0901"/>
<polygon points="575.4,341.7 579.5,342 582,341 578,340.6" fill="#7c0901"/>
<polygon points="577.9,341.9 582,342.3 584.5,341.3 580.5,340.8" fill="#6f0502"/>
<polygon points="580.5,342.1 584.5,342.7 587,341.7 583,341.1" fill="#690303"/>
<polygon points="583,342.5 587,343.3 589.5,342.2 585.5,341.4" fill="#690303"/>
<polygon points="585.5,342.9 589.6,344 592,342.9 588,341.9" fill="#690303"/>
<polygon points="588.1,343.5 592.1,344.7 594.5,343.6 590.5,342.5" fill="#690303"/>
<polygon points="590.6,344.3 594.6,345.6 597,344.5 593,343.2" fill="#6f0502"/>
<polygon points="593.1,345.1 595.6,346 598,344.8 595.5,344" fill="#7c0901"/>
<polygon points="574.5,342.1 578.5,342.4 581.1,341.4 577,341" fill="#7b0901"/>
<polygon points="577,342.3 581.1,342.7 583.6,341.6 579.5,341.2" fill="#6e0502"/>
<polygon points="579.5,342.5 583.6,343.1 586.1,342.1 582.1,341.5" fill="#690303"/>
<polygon points="582.1,342.9 586.1,343.7 588.6,342.6 584.6,341.8" fill="#690303"/>
<polygon points="584.6,343.3 588.7,344.4 591.1,343.3 587.1,342.3" fill="#690303"/>
<polygon points="587.2,343.9 591.2,345.2 593.6,344 589.6,342.8" fill="#690303"/>
<polygon points="589.7,344.7 593.7,346 596.1,344.9 592.1,343.6" fill="#6e0502"/>
<polygon points="592.2,345.5 594.8,346.4 597.1,345.2 594.6,344.4" fill="#7b0901"/>
<polygon points="574.2,342.2 578.3,342.5 580.1,341.7 576.1,341.4" fill="#7b0901"/>
<polygon points="576.7,342.4 580.8,342.8 582.6,342 578.6,341.6" fill="#6e0502"/>
<polygon points="579.3,342.6 583.3,343.3 585.2,342.4 581.1,341.8" fill="#690303"/>
<polygon points="581.8,343 585.9,343.8 587.7,343 583.6,342.2" fill="#690303"/>
<polygon points="584.4,343.5 588.4,344.5 590.2,343.7 586.2,342.6" fill="#690303"/>
<polygon points="586.9,344.1 590.9,345.3 592.7,344.5 588.7,343.2" fill="#690303"/>
<polygon points="589.4,344.8 593.5,346.1 595.3,345.3 591.2,344" fill="#6e0502"/>
<polygon points="592,345.6 594.5,346.5 596.3,345.7 593.7,344.8" fill="#7b0901"/>
<polygon points="574.2,342.2 578.3,342.5 579.2,342.1 575.1,341.8" fill="#7b0901"/>
<polygon points="576.7,342.4 580.8,342.8 581.7,342.4 577.7,342" fill="#6d0502"/>
<polygon points="579.3,342.6 583.3,343.3 584.2,342.8 580.2,342.2" fill="#690303"/>
<polygon points="581.8,343 585.9,343.8 586.8,343.4 582.7,342.6" fill="#690303"/>
<polygon points="584.4,343.5 588.4,344.5 589.3,344.1 585.3,343.1" fill="#690303"/>
<polygon points="586.9,344.1 590.9,345.3 591.8,344.9 587.8,343.7" fill="#690303"/>
<polygon points="589.4,344.8 593.5,346.1 594.4,345.7 590.3,344.4" fill="#6d0502"/>
<polygon points="592,345.6 594.5,346.5 595.4,346.1 592.8,345.2" fill="#7b0901"/>
<text x="417" y="20.7" class="t" textLength="100.5" lengthAdjust="spacingAndGlyphs">Reference domain</text>
<text x="544.8" y="20.7" class="t" textLength="139" lengthAdjust="spacingAndGlyphs">Transformed free-surface</text>
<path d="M522 25L566.7 97.1" stroke="#000" stroke-width="1.1"/><path d="M569.6 101.8L563.4 96.8L566.6 97L567.9 94.1Z" fill="#000"/>
<path d="M619.4 27.6L614.8 44.9" stroke="#000" stroke-width="1.1"/><path d="M613.4 50.2L612.8 42.3L614.9 44.7L617.8 43.6Z" fill="#000"/>
</svg></body></html>
